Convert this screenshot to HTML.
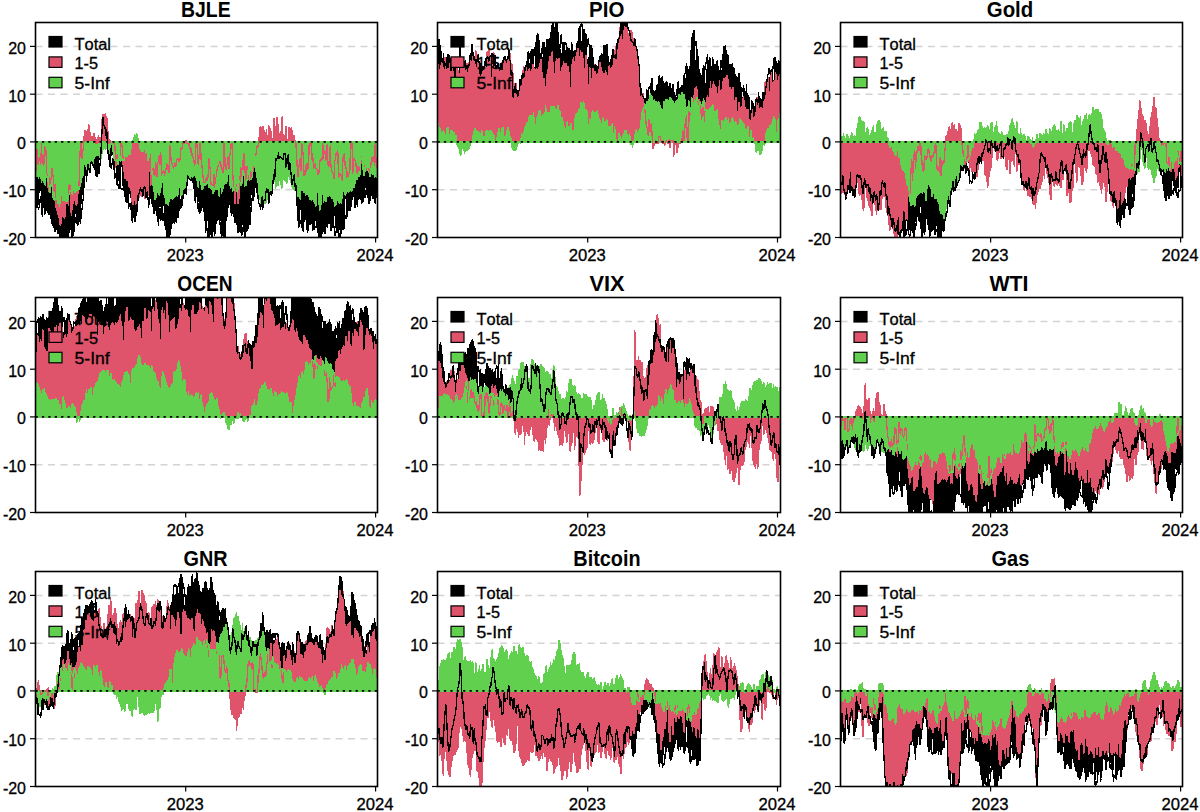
<!DOCTYPE html><html><head><meta charset="utf-8"><style>html,body{margin:0;padding:0;background:#fff;}svg{display:block}</style></head><body>
<svg width="1200" height="812" viewBox="0 0 1200 812" font-family='"Liberation Sans", sans-serif' style="font-kerning:none">
<rect width="1200" height="812" fill="#fff"/>
<clipPath id="c00"><rect x="35.5" y="22.5" width="342" height="215.0"/></clipPath>
<g stroke="#D3D3D3" stroke-width="1.5" stroke-dasharray="7 5.5"><line x1="35.5" x2="377.5" y1="46.4" y2="46.4"/><line x1="35.5" x2="377.5" y1="94.2" y2="94.2"/><line x1="35.5" x2="377.5" y1="189.7" y2="189.7"/></g>
<g clip-path="url(#c00)" shape-rendering="crispEdges">
<path d="M35.5 141.9L35.5 206.7L36.2 205.4L37 207.7L37.8 207L38.5 194.3L39.2 192.3L40 184.5L40.8 185.5L41.5 198.5L42.2 217L43 203.2L43.8 202.5L44.5 214L45.2 213.4L46 210.8L46.8 203L47.5 207.5L48.2 212.4L49 214.3L49.8 206.3L50.5 208L51.2 219.7L52 224.1L52.8 225L53.5 223.2L54.2 205.2L55 231.4L55.8 229.4L56.5 227.8L57.2 226.4L58 233.6L58.8 228.6L59.5 232.8L60.2 240L61 237L61.8 250.8L62.5 253.5L63.2 256.6L64 251L64.8 242.5L65.5 224.5L66.2 216.2L67 243.6L67.8 239.7L68.5 245.1L69.2 224.9L70 223.2L70.8 219.4L71.5 242L72.2 236.4L73 235.6L73.8 232.9L74.5 227.8L75.2 203.5L76 202.4L76.8 222.7L77.5 214.6L78.2 224.7L79 219.4L79.8 220L80.5 208.9L81.2 200.1L82 194.5L82.8 185.9L83.5 196.9L84.2 179.9L85 170.3L85.8 170.9L86.5 181.5L87.2 171.3L88 163.2L88.8 167.1L89.5 172.2L90.2 172.5L91 161.4L91.8 161L92.5 164.9L93.2 163.6L94 167.1L94.8 163.1L95.5 175L96.2 175.6L97 177L97.8 170.3L98.5 168.7L99.2 153.9L100 143.5L100.8 143.4L101.5 138.5L102.2 127.5L103 134.7L103.8 124.2L104.5 128L105.2 126.9L106 135.6L106.8 129.5L107.5 148.1L108.2 154.3L109 159.2L109.8 166.7L110.5 165.3L111.2 149.3L112 144.8L112.8 143.4L113.5 168.6L114.2 169.1L115 163.2L115.8 157.8L116.5 161.8L117.2 185.4L118 171.9L118.8 175.9L119.5 188.1L120.2 183.4L121 165.1L121.8 165.3L122.5 164.6L123.2 188.7L124 189.9L124.8 192.3L125.5 200.3L126.2 202.3L127 203.1L127.8 198.5L128.5 208.3L129.2 184.2L130 181.4L130.8 187.6L131.5 210.4L132.2 222.4L133 217.8L133.8 213.4L134.5 218.2L135.2 221.7L136 214.1L136.8 212.1L137.5 207.6L138.2 193.5L139 193L139.8 189.8L140.5 187.6L141.2 179.9L142 177.9L142.8 185.9L143.5 191.9L144.2 172.4L145 186.8L145.8 198L146.5 197L147.2 191.4L148 185.8L148.8 195.7L149.5 188.6L150.2 194.3L151 197L151.8 181L152.5 204.3L153.2 207.4L154 195.9L154.8 211.5L155.5 206.7L156.2 207.5L157 215.1L157.8 220.1L158.5 214.9L159.2 201.4L160 207L160.8 201.1L161.5 195.9L162.2 219.5L163 204.5L163.8 197.2L164.5 210.4L165.2 221.9L166 227.5L166.8 238.9L167.5 239.4L168.2 218.9L169 240.7L169.8 234.2L170.5 234.7L171.2 224.4L172 223.9L172.8 216.8L173.5 216.4L174.2 223.1L175 221.9L175.8 215.7L176.5 222.3L177.2 214.2L178 217.3L178.8 211L179.5 196.9L180.2 195.4L181 185.6L181.8 207.1L182.5 197.9L183.2 198.4L184 193.8L184.8 190.6L185.5 188.7L186.2 194.8L187 184L187.8 154.9L188.5 176.7L189.2 178.7L190 179.6L190.8 180.6L191.5 180L192.2 178.9L193 180.9L193.8 171.8L194.5 171.3L195.2 202.7L196 195.1L196.8 196L197.5 195.9L198.2 198.7L199 199.9L199.8 213.8L200.5 207.1L201.2 210.7L202 207.1L202.8 199.7L203.5 203L204.2 211.5L205 218.1L205.8 232.5L206.5 226.1L207.2 209.9L208 218.3L208.8 235.1L209.5 221.2L210.2 230.7L211 234.9L211.8 238.2L212.5 229.9L213.2 231.4L214 228.5L214.8 235.5L215.5 228.6L216.2 219.4L217 218.4L217.8 218.9L218.5 218.3L219.2 219L220 199.4L220.8 207.4L221.5 237.3L222.2 234.3L223 233.4L223.8 243.6L224.5 245.3L225.2 234L226 217.3L226.8 217.4L227.5 208.3L228.2 206.4L229 204.7L229.8 194.8L230.5 191.8L231.2 215.5L232 205.9L232.8 212.9L233.5 209.7L234.2 215.7L235 221.2L235.8 220.2L236.5 223.8L237.2 222.8L238 232.5L238.8 231.8L239.5 226.2L240.2 232.4L241 229.5L241.8 214.1L242.5 210.5L243.2 226.4L244 231L244.8 239.4L245.5 233.7L246.2 231.3L247 231.1L247.8 229.6L248.5 226.4L249.2 217.3L250 204.9L250.8 192.5L251.5 181.4L252.2 196.7L253 200.9L253.8 197.7L254.5 167.5L255.2 186L256 182.7L256.8 192.2L257.5 189.8L258.2 199.6L259 186.5L259.8 186.8L260.5 209.9L261.2 203.6L262 196.8L262.8 209.1L263.5 203L264.2 200.2L265 201.9L265.8 192.8L266.5 188.3L267.2 192L268 188.9L268.8 203.2L269.5 198.6L270.2 192.1L271 193.9L271.8 195.2L272.5 189.3L273.2 179.3L274 174.7L274.8 179.8L275.5 157.9L276.2 159.3L277 157.3L277.8 157.2L278.5 151.5L279.2 158.7L280 156.4L280.8 156.7L281.5 158.4L282.2 158.3L283 160.3L283.8 153.7L284.5 154L285.2 153.8L286 168.1L286.8 158.6L287.5 163L288.2 153L289 170.2L289.8 161.5L290.5 166.9L291.2 175.9L292 185.8L292.8 167.2L293.5 161.4L294.2 158.7L295 186.6L295.8 162.8L296.5 196.5L297.2 205.7L298 218.8L298.8 227.9L299.5 206.9L300.2 209.9L301 205.9L301.8 227.4L302.5 225.4L303.2 231.4L304 220.9L304.8 220.5L305.5 219.2L306.2 213.8L307 229.6L307.8 232.1L308.5 226.1L309.2 220.5L310 225.1L310.8 222.9L311.5 219.9L312.2 224.1L313 230.2L313.8 228L314.5 229.6L315.2 214.3L316 215.8L316.8 222.4L317.5 227.5L318.2 233.2L319 239L319.8 245.5L320.5 232.4L321.2 228L322 233.7L322.8 232.4L323.5 225.6L324.2 232.4L325 233.8L325.8 218.5L326.5 224.9L327.2 227.1L328 222L328.8 223.7L329.5 222.9L330.2 221.4L331 230.6L331.8 228.9L332.5 225.4L333.2 226.4L334 205L334.8 215L335.5 215.4L336.2 230.2L337 229.7L337.8 231.9L338.5 227.3L339.2 220.6L340 229.5L340.8 233.6L341.5 232.2L342.2 226.8L343 219L343.8 229.7L344.5 197L345.2 191.1L346 195.5L346.8 217.6L347.5 209.9L348.2 208.2L349 210.7L349.8 207.6L350.5 199.4L351.2 192.7L352 198.2L352.8 195.1L353.5 195.1L354.2 196.4L355 207.6L355.8 202.4L356.5 190.8L357.2 207L358 187.7L358.8 199.2L359.5 193.1L360.2 196.6L361 198.6L361.8 203.9L362.5 201.1L363.2 201.5L364 197.1L364.8 185.4L365.5 187.1L366.2 188.5L367 194.6L367.8 193.2L368.5 202.8L369.2 203.9L370 200.7L370.8 194.1L371.5 195.7L372.2 190.4L373 198.2L373.8 196.4L374.5 202.4L375.2 203.2L376 195.5L376.8 197.2L377.5 195.2L377.5 141.9Z" fill="#000" stroke="#000" stroke-width="1.2" stroke-linejoin="round"/>
<path d="M35.5 141.9L35.5 164L36.2 170.3L37 149.6L37.8 163.8L38.5 164.3L39.2 157.4L40 159.5L40.8 164.1L41.5 143.4L42.2 163.8L43 161.3L43.8 165.2L44.5 146.7L45.2 147.6L46 151L46.8 173.8L47.5 178.4L48.2 188.4L49 191.4L49.8 177.3L50.5 183.6L51.2 185.9L52 168.3L52.8 174.4L53.5 179.7L54.2 191.2L55 184.6L55.8 204.6L56.5 210.8L57.2 206.8L58 214.6L58.8 217.9L59.5 212.7L60.2 225.7L61 223L61.8 213.4L62.5 207.7L63.2 217.1L64 214.2L64.8 218.2L65.5 204.5L66.2 203.1L67 204L67.8 202.9L68.5 204.9L69.2 184.2L70 185.4L70.8 211.4L71.5 215.2L72.2 205.2L73 203.1L73.8 201L74.5 196.3L75.2 198.4L76 204.6L76.8 205.3L77.5 196.2L78.2 192.8L79 186.3L79.8 158.7L80.5 143.4L81.2 143.4L82 158.5L82.8 149.6L83.5 150.1L84.2 134.9L85 130.7L85.8 130.2L86.5 140.5L87.2 140.5L88 130.6L88.8 124.6L89.5 126.1L90.2 137.5L91 136L91.8 136.4L92.5 138.4L93.2 140.5L94 133L94.8 136.8L95.5 143.4L96.2 139.3L97 143.6L97.8 138.6L98.5 135.5L99.2 142.9L100 137.5L100.8 140.5L101.5 133.2L102.2 118L103 114.6L103.8 124.4L104.5 121.8L105.2 113.8L106 121.2L106.8 117L107.5 127.8L108.2 133.1L109 143.4L109.8 139.7L110.5 142.1L111.2 143.6L112 143.4L112.8 143.4L113.5 143.4L114.2 143.4L115 147L115.8 167.1L116.5 160.5L117.2 154.6L118 158.4L118.8 157.2L119.5 160.8L120.2 157.3L121 143.4L121.8 146.1L122.5 145.3L123.2 166L124 170.8L124.8 178.5L125.5 178.4L126.2 173.3L127 180.8L127.8 162.8L128.5 170.5L129.2 187.4L130 183.6L130.8 178L131.5 201.7L132.2 196L133 204.3L133.8 193.5L134.5 199.9L135.2 199L136 204.1L136.8 194.6L137.5 202.2L138.2 178.9L139 197.6L139.8 177.6L140.5 182.6L141.2 196.4L142 195.3L142.8 196.3L143.5 179.8L144.2 190.8L145 198.7L145.8 194.5L146.5 171.7L147.2 169.7L148 196L148.8 170.3L149.5 170.9L150.2 170.7L151 185.1L151.8 171L152.5 171.4L153.2 168.3L154 174.9L154.8 175.9L155.5 162.5L156.2 165.3L157 176.2L157.8 162.6L158.5 161.6L159.2 155.7L160 164.9L160.8 152.1L161.5 175.8L162.2 172L163 171.6L163.8 170.4L164.5 175.8L165.2 172.9L166 168.8L166.8 163.6L167.5 169.2L168.2 165.3L169 172.9L169.8 145.9L170.5 152.1L171.2 161.1L172 163.5L172.8 166.7L173.5 167.9L174.2 165.7L175 162.9L175.8 166.3L176.5 160.1L177.2 159.2L178 158.5L178.8 161.8L179.5 158.8L180.2 159.2L181 148.6L181.8 148.9L182.5 145L183.2 143.4L184 143.4L184.8 143.4L185.5 140.5L186.2 140.5L187 143.4L187.8 143.4L188.5 144.9L189.2 143.4L190 147.9L190.8 152.5L191.5 149L192.2 156L193 157L193.8 159.8L194.5 165.3L195.2 162.4L196 143.4L196.8 143.4L197.5 152.9L198.2 164.2L199 157.6L199.8 143.4L200.5 143.4L201.2 161L202 165.7L202.8 175L203.5 180.6L204.2 183.3L205 185.4L205.8 179.2L206.5 177.6L207.2 181.2L208 177.6L208.8 158.9L209.5 165.6L210.2 169.3L211 184.8L211.8 184.6L212.5 185.3L213.2 185.9L214 174L214.8 187L215.5 178L216.2 176.6L217 170.2L217.8 167.1L218.5 165L219.2 163.6L220 161.5L220.8 163.5L221.5 169.5L222.2 170.3L223 173L223.8 144L224.5 143.4L225.2 168.9L226 169.9L226.8 165.3L227.5 162.8L228.2 156.6L229 168.9L229.8 153.1L230.5 154.7L231.2 143.4L232 143.4L232.8 173.6L233.5 185.7L234.2 186.7L235 203.3L235.8 191.3L236.5 184.9L237.2 192.3L238 204L238.8 199.1L239.5 196L240.2 174.8L241 167.9L241.8 169.6L242.5 183.2L243.2 158.6L244 153.9L244.8 164.3L245.5 180.2L246.2 177.7L247 166L247.8 168.6L248.5 176.1L249.2 180.1L250 178.9L250.8 171.4L251.5 178L252.2 175.6L253 171.1L253.8 168.4L254.5 166.3L255.2 159.4L256 154.1L256.8 147.9L257.5 145.3L258.2 146.1L259 139.2L259.8 128.6L260.5 126.6L261.2 127.6L262 130.2L262.8 126.3L263.5 128.9L264.2 130.9L265 133.7L265.8 134L266.5 130L267.2 140.5L268 140.5L268.8 125.9L269.5 126.8L270.2 128.7L271 132.1L271.8 140.5L272.5 138.3L273.2 137.9L274 118.4L274.8 125.9L275.5 132.2L276.2 126.3L277 117.6L277.8 124.5L278.5 125L279.2 140.5L280 140.5L280.8 140.5L281.5 122.9L282.2 116.3L283 137.9L283.8 140.5L284.5 135.4L285.2 135.6L286 126.1L286.8 140.5L287.5 140L288.2 140.5L289 127.9L289.8 128.3L290.5 134.8L291.2 127.6L292 130.8L292.8 141.2L293.5 137.6L294.2 135.1L295 141L295.8 141.9L296.5 153.8L297.2 166.5L298 177L298.8 165.1L299.5 166.2L300.2 158.3L301 170.2L301.8 143.4L302.5 147.3L303.2 155.8L304 175.6L304.8 175.6L305.5 165.8L306.2 171.9L307 163.3L307.8 169L308.5 168.1L309.2 143.4L310 143.4L310.8 145.2L311.5 144L312.2 161.1L313 158L313.8 168.2L314.5 165.8L315.2 163.8L316 168.5L316.8 168.5L317.5 170.9L318.2 174.7L319 172.3L319.8 161.9L320.5 159.2L321.2 159.9L322 160L322.8 143.4L323.5 157.9L324.2 150.9L325 151.2L325.8 160.2L326.5 155.9L327.2 144.4L328 164L328.8 166.4L329.5 160.1L330.2 145.9L331 167.3L331.8 170.5L332.5 173L333.2 173.3L334 178.4L334.8 161L335.5 160.4L336.2 152.6L337 154.1L337.8 150.3L338.5 177.1L339.2 176.9L340 173.8L340.8 175L341.5 175.3L342.2 180.2L343 157.7L343.8 154.7L344.5 153.3L345.2 167.1L346 166.9L346.8 177.6L347.5 171.7L348.2 176L349 173.9L349.8 172.5L350.5 144.5L351.2 143.4L352 143.4L352.8 173L353.5 165L354.2 158.1L355 160.3L355.8 162.7L356.5 171.5L357.2 173.2L358 166.3L358.8 170.1L359.5 170.7L360.2 166.9L361 163.8L361.8 156.9L362.5 164.5L363.2 166.8L364 165L364.8 169.6L365.5 170.4L366.2 163.6L367 170.4L367.8 167.4L368.5 172L369.2 172.8L370 170.4L370.8 165.6L371.5 158.3L372.2 157.6L373 162L373.8 156.4L374.5 165.2L375.2 143.9L376 161.1L376.8 167.5L377.5 161.9L377.5 141.9Z" fill="#DF536B" stroke="#DF536B" stroke-width="1.2" stroke-linejoin="round"/>
<path d="M35.5 141.9L35.5 178L36.2 175L37 173.6L37.8 176.1L38.5 177.9L39.2 176L40 175.3L40.8 174.7L41.5 182L42.2 180.2L43 179.9L43.8 181.9L44.5 182.9L45.2 185.5L46 174.2L46.8 175.1L47.5 181.5L48.2 179.6L49 185.7L49.8 192.8L50.5 191.4L51.2 183.5L52 180.7L52.8 196.7L53.5 198.1L54.2 200L55 200L55.8 199.2L56.5 196.3L57.2 200.2L58 203.6L58.8 200.7L59.5 206L60.2 202.7L61 189.5L61.8 190.1L62.5 200.6L63.2 200.8L64 200.4L64.8 194.6L65.5 198.3L66.2 201.7L67 202L67.8 200.9L68.5 195.2L69.2 193.9L70 190L70.8 191.2L71.5 192.2L72.2 194.5L73 190.4L73.8 185.3L74.5 187.6L75.2 192.9L76 183.6L76.8 191L77.5 190.6L78.2 186.4L79 189.2L79.8 186.2L80.5 185.9L81.2 180.8L82 177.8L82.8 175.6L83.5 174.1L84.2 157L85 153.9L85.8 164.8L86.5 168.6L87.2 169.6L88 168.6L88.8 170.6L89.5 166.5L90.2 163.9L91 159.3L91.8 163.9L92.5 163.7L93.2 163.3L94 158L94.8 157.1L95.5 154.4L96.2 154.1L97 155.6L97.8 147L98.5 149.9L99.2 156.3L100 157.3L100.8 159L101.5 156.3L102.2 152L103 148.9L103.8 149.5L104.5 146.3L105.2 147L106 149.1L106.8 141.5L107.5 151.5L108.2 149.9L109 153.9L109.8 148.7L110.5 143.4L111.2 143.4L112 143.4L112.8 148.6L113.5 154.6L114.2 160.5L115 160.9L115.8 160.2L116.5 159.8L117.2 162.4L118 164.5L118.8 154.5L119.5 151.5L120.2 161.1L121 157L121.8 160.7L122.5 159L123.2 160.2L124 160.2L124.8 156.6L125.5 156.1L126.2 156.3L127 156.2L127.8 155L128.5 153L129.2 151.8L130 154.9L130.8 149.7L131.5 143.4L132.2 140.5L133 140.5L133.8 140.5L134.5 134.9L135.2 138.4L136 135L136.8 133.6L137.5 136.4L138.2 140.2L139 143.5L139.8 146.6L140.5 150.7L141.2 145.9L142 151.5L142.8 150L143.5 151.4L144.2 148.4L145 147.2L145.8 153.4L146.5 151.2L147.2 153.3L148 160.5L148.8 158L149.5 156.6L150.2 145.6L151 150.4L151.8 169.2L152.5 181.3L153.2 186.6L154 190L154.8 199.1L155.5 199.1L156.2 196.8L157 187.4L157.8 192.5L158.5 190.4L159.2 195.7L160 191.9L160.8 189.5L161.5 178.6L162.2 180.9L163 179.7L163.8 194.9L164.5 194.1L165.2 198.3L166 203.6L166.8 195.7L167.5 193.4L168.2 205.5L169 200.8L169.8 199L170.5 197.4L171.2 198.1L172 198.6L172.8 199L173.5 198.3L174.2 197.2L175 196L175.8 195.9L176.5 195.6L177.2 196L178 194.5L178.8 188.1L179.5 186.9L180.2 181.3L181 195.2L181.8 189.8L182.5 194L183.2 186.5L184 188.3L184.8 189.2L185.5 185.7L186.2 181.2L187 173.9L187.8 171.3L188.5 172.9L189.2 177.2L190 179.1L190.8 176.8L191.5 174.1L192.2 177.5L193 174L193.8 176.7L194.5 171.9L195.2 175.3L196 177.6L196.8 177.6L197.5 183.4L198.2 187.5L199 180.1L199.8 177L200.5 180.6L201.2 185.5L202 189.6L202.8 189.4L203.5 188L204.2 184.7L205 183.5L205.8 185.2L206.5 183.7L207.2 181.2L208 182.7L208.8 187.9L209.5 186L210.2 188.4L211 186.2L211.8 186.5L212.5 193.8L213.2 193.2L214 191.4L214.8 190.7L215.5 186.2L216.2 184.4L217 189.4L217.8 183.2L218.5 191.1L219.2 196L220 179.6L220.8 181.8L221.5 193.1L222.2 191.2L223 188.4L223.8 176.2L224.5 184.3L225.2 180.3L226 183.9L226.8 182.3L227.5 176.9L228.2 173.2L229 172L229.8 182L230.5 188.7L231.2 184.9L232 187.3L232.8 191.4L233.5 188.5L234.2 190.7L235 180.8L235.8 187.2L236.5 187.4L237.2 192.6L238 188.9L238.8 181.5L239.5 180.9L240.2 183.1L241 185.4L241.8 184.2L242.5 170.7L243.2 170.4L244 173.7L244.8 186.1L245.5 184.3L246.2 185L247 180.5L247.8 171.2L248.5 169.5L249.2 175.2L250 179.4L250.8 179.7L251.5 177.9L252.2 177L253 163.3L253.8 156.7L254.5 166.2L255.2 156.6L256 171.2L256.8 172.9L257.5 182.8L258.2 175.1L259 194.1L259.8 199.4L260.5 199.5L261.2 204L262 190.8L262.8 195.2L263.5 190.1L264.2 202.4L265 203.9L265.8 203.5L266.5 199.6L267.2 198L268 199.3L268.8 197.9L269.5 195.3L270.2 190.1L271 192.1L271.8 186.1L272.5 188.1L273.2 180L274 180.7L274.8 175.5L275.5 188.1L276.2 185.3L277 185.9L277.8 184.7L278.5 185L279.2 178.1L280 178.2L280.8 181L281.5 188.1L282.2 187L283 178.2L283.8 178.3L284.5 179.2L285.2 181L286 182L286.8 183.6L287.5 179.7L288.2 166L289 176.2L289.8 178.6L290.5 181.9L291.2 178.4L292 186.8L292.8 188.7L293.5 186.9L294.2 189.7L295 190.3L295.8 190.5L296.5 190.1L297.2 189.6L298 197L298.8 187.1L299.5 198L300.2 199.2L301 189.3L301.8 188.2L302.5 189.7L303.2 190.7L304 192.8L304.8 189.8L305.5 195.2L306.2 193.1L307 194.7L307.8 190.3L308.5 195.9L309.2 195.6L310 199.2L310.8 198.2L311.5 200L312.2 197.7L313 199.1L313.8 201.8L314.5 200.6L315.2 203.7L316 206.1L316.8 191.1L317.5 188L318.2 193.4L319 203.6L319.8 210.1L320.5 209.2L321.2 200.7L322 188.4L322.8 187.3L323.5 202L324.2 200L325 194.2L325.8 200.9L326.5 201.8L327.2 188.9L328 196.5L328.8 194.7L329.5 195.5L330.2 193.7L331 197L331.8 198.5L332.5 198.8L333.2 196.7L334 200.5L334.8 206.4L335.5 204.6L336.2 204.9L337 200.5L337.8 198.2L338.5 198.4L339.2 203L340 196.3L340.8 202.3L341.5 203.7L342.2 193.9L343 186.1L343.8 191.7L344.5 192.2L345.2 195L346 193.8L346.8 186.8L347.5 185.3L348.2 192.5L349 191.2L349.8 189.4L350.5 189.1L351.2 191.5L352 191L352.8 188.4L353.5 186.5L354.2 187.8L355 183.6L355.8 179.3L356.5 179L357.2 179.2L358 175.7L358.8 176.5L359.5 176L360.2 174.7L361 157.1L361.8 158.2L362.5 156.7L363.2 170.2L364 175.3L364.8 173.3L365.5 161.7L366.2 157.7L367 167.7L367.8 170.9L368.5 171L369.2 172.4L370 177L370.8 168.9L371.5 173.2L372.2 173.2L373 174.7L373.8 172.3L374.5 177.1L375.2 176.8L376 176.4L376.8 177.3L377.5 173.2L377.5 141.9Z" fill="#61D04F" stroke="#61D04F" stroke-width="1.2" stroke-linejoin="round"/>
<path d="M35.5 164L36.2 170.3L37 149.6L37.8 163.8L38.5 164.3L39.2 157.4L40 159.5L40.8 164.1L41.5 143.4L42.2 163.8L43 161.3L43.8 165.2L44.5 146.7L45.2 147.6L46 151L46.8 173.8L47.5 178.4L48.2 188.4L49 191.4L49.8 177.3L50.5 183.6L51.2 185.9L52 168.3L52.8 174.4L53.5 179.7L54.2 191.2L55 184.6L55.8 204.6L56.5 210.8L57.2 206.8L58 214.6L58.8 217.9L59.5 212.7L60.2 225.7L61 223L61.8 213.4L62.5 207.7L63.2 217.1L64 214.2L64.8 218.2L65.5 204.5L66.2 203.1L67 204L67.8 202.9L68.5 204.9L69.2 184.2L70 185.4L70.8 211.4L71.5 215.2L72.2 205.2L73 203.1L73.8 201L74.5 196.3L75.2 198.4L76 204.6L76.8 205.3L77.5 196.2L78.2 192.8L79 186.3L79.8 158.7L80.5 143.4L81.2 143.4L82 158.5L82.8 149.6L83.5 150.1L84.2 134.9L85 130.7L85.8 130.2L86.5 140.5L87.2 140.5L88 130.6L88.8 124.6L89.5 126.1L90.2 137.5L91 136L91.8 136.4L92.5 138.4L93.2 140.5L94 133L94.8 136.8L95.5 143.4L96.2 139.3L97 143.6L97.8 138.6L98.5 135.5L99.2 142.9L100 137.5L100.8 140.5L101.5 133.2L102.2 118L103 114.6L103.8 124.4L104.5 121.8L105.2 113.8L106 121.2L106.8 117L107.5 127.8L108.2 133.1L109 143.4L109.8 139.7L110.5 142.1L111.2 143.6L112 143.4L112.8 143.4L113.5 143.4L114.2 143.4L115 147L115.8 167.1L116.5 160.5L117.2 154.6L118 158.4L118.8 157.2L119.5 160.8L120.2 157.3L121 143.4L121.8 146.1L122.5 145.3L123.2 166L124 170.8L124.8 178.5L125.5 178.4L126.2 173.3L127 180.8L127.8 162.8L128.5 170.5L129.2 187.4L130 183.6L130.8 178L131.5 201.7L132.2 196L133 204.3L133.8 193.5L134.5 199.9L135.2 199L136 204.1L136.8 194.6L137.5 202.2L138.2 178.9L139 197.6L139.8 177.6L140.5 182.6L141.2 196.4L142 195.3L142.8 196.3L143.5 179.8L144.2 190.8L145 198.7L145.8 194.5L146.5 171.7L147.2 169.7L148 196L148.8 170.3L149.5 170.9L150.2 170.7L151 185.1L151.8 171L152.5 171.4L153.2 168.3L154 174.9L154.8 175.9L155.5 162.5L156.2 165.3L157 176.2L157.8 162.6L158.5 161.6L159.2 155.7L160 164.9L160.8 152.1L161.5 175.8L162.2 172L163 171.6L163.8 170.4L164.5 175.8L165.2 172.9L166 168.8L166.8 163.6L167.5 169.2L168.2 165.3L169 172.9L169.8 145.9L170.5 152.1L171.2 161.1L172 163.5L172.8 166.7L173.5 167.9L174.2 165.7L175 162.9L175.8 166.3L176.5 160.1L177.2 159.2L178 158.5L178.8 161.8L179.5 158.8L180.2 159.2L181 148.6L181.8 148.9L182.5 145L183.2 143.4L184 143.4L184.8 143.4L185.5 140.5L186.2 140.5L187 143.4L187.8 143.4L188.5 144.9L189.2 143.4L190 147.9L190.8 152.5L191.5 149L192.2 156L193 157L193.8 159.8L194.5 165.3L195.2 162.4L196 143.4L196.8 143.4L197.5 152.9L198.2 164.2L199 157.6L199.8 143.4L200.5 143.4L201.2 161L202 165.7L202.8 175L203.5 180.6L204.2 183.3L205 185.4L205.8 179.2L206.5 177.6L207.2 181.2L208 177.6L208.8 158.9L209.5 165.6L210.2 169.3L211 184.8L211.8 184.6L212.5 185.3L213.2 185.9L214 174L214.8 187L215.5 178L216.2 176.6L217 170.2L217.8 167.1L218.5 165L219.2 163.6L220 161.5L220.8 163.5L221.5 169.5L222.2 170.3L223 173L223.8 144L224.5 143.4L225.2 168.9L226 169.9L226.8 165.3L227.5 162.8L228.2 156.6L229 168.9L229.8 153.1L230.5 154.7L231.2 143.4L232 143.4L232.8 173.6L233.5 185.7L234.2 186.7L235 203.3L235.8 191.3L236.5 184.9L237.2 192.3L238 204L238.8 199.1L239.5 196L240.2 174.8L241 167.9L241.8 169.6L242.5 183.2L243.2 158.6L244 153.9L244.8 164.3L245.5 180.2L246.2 177.7L247 166L247.8 168.6L248.5 176.1L249.2 180.1L250 178.9L250.8 171.4L251.5 178L252.2 175.6L253 171.1L253.8 168.4L254.5 166.3L255.2 159.4L256 154.1L256.8 147.9L257.5 145.3L258.2 146.1L259 139.2L259.8 128.6L260.5 126.6L261.2 127.6L262 130.2L262.8 126.3L263.5 128.9L264.2 130.9L265 133.7L265.8 134L266.5 130L267.2 140.5L268 140.5L268.8 125.9L269.5 126.8L270.2 128.7L271 132.1L271.8 140.5L272.5 138.3L273.2 137.9L274 118.4L274.8 125.9L275.5 132.2L276.2 126.3L277 117.6L277.8 124.5L278.5 125L279.2 140.5L280 140.5L280.8 140.5L281.5 122.9L282.2 116.3L283 137.9L283.8 140.5L284.5 135.4L285.2 135.6L286 126.1L286.8 140.5L287.5 140L288.2 140.5L289 127.9L289.8 128.3L290.5 134.8L291.2 127.6L292 130.8L292.8 141.2L293.5 137.6L294.2 135.1L295 141L295.8 141.9L296.5 153.8L297.2 166.5L298 177L298.8 165.1L299.5 166.2L300.2 158.3L301 170.2L301.8 143.4L302.5 147.3L303.2 155.8L304 175.6L304.8 175.6L305.5 165.8L306.2 171.9L307 163.3L307.8 169L308.5 168.1L309.2 143.4L310 143.4L310.8 145.2L311.5 144L312.2 161.1L313 158L313.8 168.2L314.5 165.8L315.2 163.8L316 168.5L316.8 168.5L317.5 170.9L318.2 174.7L319 172.3L319.8 161.9L320.5 159.2L321.2 159.9L322 160L322.8 143.4L323.5 157.9L324.2 150.9L325 151.2L325.8 160.2L326.5 155.9L327.2 144.4L328 164L328.8 166.4L329.5 160.1L330.2 145.9L331 167.3L331.8 170.5L332.5 173L333.2 173.3L334 178.4L334.8 161L335.5 160.4L336.2 152.6L337 154.1L337.8 150.3L338.5 177.1L339.2 176.9L340 173.8L340.8 175L341.5 175.3L342.2 180.2L343 157.7L343.8 154.7L344.5 153.3L345.2 167.1L346 166.9L346.8 177.6L347.5 171.7L348.2 176L349 173.9L349.8 172.5L350.5 144.5L351.2 143.4L352 143.4L352.8 173L353.5 165L354.2 158.1L355 160.3L355.8 162.7L356.5 171.5L357.2 173.2L358 166.3L358.8 170.1L359.5 170.7L360.2 166.9L361 163.8L361.8 156.9L362.5 164.5L363.2 166.8L364 165L364.8 169.6L365.5 170.4L366.2 163.6L367 170.4L367.8 167.4L368.5 172L369.2 172.8L370 170.4L370.8 165.6L371.5 158.3L372.2 157.6L373 162L373.8 156.4L374.5 165.2L375.2 143.9L376 161.1L376.8 167.5L377.5 161.9" fill="none" stroke="#DF536B" stroke-width="1.3" stroke-linejoin="round"/>
<path d="M35.5 178L36.2 175L37 173.6L37.8 176.1L38.5 177.9L39.2 176L40 175.3L40.8 174.7L41.5 182L42.2 180.2L43 179.9L43.8 181.9L44.5 182.9L45.2 185.5L46 174.2L46.8 175.1L47.5 181.5L48.2 179.6L49 185.7L49.8 192.8L50.5 191.4L51.2 183.5L52 180.7L52.8 196.7L53.5 198.1L54.2 200L55 200L55.8 199.2L56.5 196.3L57.2 200.2L58 203.6L58.8 200.7L59.5 206L60.2 202.7L61 189.5L61.8 190.1L62.5 200.6L63.2 200.8L64 200.4L64.8 194.6L65.5 198.3L66.2 201.7L67 202L67.8 200.9L68.5 195.2L69.2 193.9L70 190L70.8 191.2L71.5 192.2L72.2 194.5L73 190.4L73.8 185.3L74.5 187.6L75.2 192.9L76 183.6L76.8 191L77.5 190.6L78.2 186.4L79 189.2L79.8 186.2L80.5 185.9L81.2 180.8L82 177.8L82.8 175.6L83.5 174.1L84.2 157L85 153.9L85.8 164.8L86.5 168.6L87.2 169.6L88 168.6L88.8 170.6L89.5 166.5L90.2 163.9L91 159.3L91.8 163.9L92.5 163.7L93.2 163.3L94 158L94.8 157.1L95.5 154.4L96.2 154.1L97 155.6L97.8 147L98.5 149.9L99.2 156.3L100 157.3L100.8 159L101.5 156.3L102.2 152L103 148.9L103.8 149.5L104.5 146.3L105.2 147L106 149.1L106.8 141.5L107.5 151.5L108.2 149.9L109 153.9L109.8 148.7L110.5 143.4L111.2 143.4L112 143.4L112.8 148.6L113.5 154.6L114.2 160.5L115 160.9L115.8 160.2L116.5 159.8L117.2 162.4L118 164.5L118.8 154.5L119.5 151.5L120.2 161.1L121 157L121.8 160.7L122.5 159L123.2 160.2L124 160.2L124.8 156.6L125.5 156.1L126.2 156.3L127 156.2L127.8 155L128.5 153L129.2 151.8L130 154.9L130.8 149.7L131.5 143.4L132.2 140.5L133 140.5L133.8 140.5L134.5 134.9L135.2 138.4L136 135L136.8 133.6L137.5 136.4L138.2 140.2L139 143.5L139.8 146.6L140.5 150.7L141.2 145.9L142 151.5L142.8 150L143.5 151.4L144.2 148.4L145 147.2L145.8 153.4L146.5 151.2L147.2 153.3L148 160.5L148.8 158L149.5 156.6L150.2 145.6L151 150.4L151.8 169.2L152.5 181.3L153.2 186.6L154 190L154.8 199.1L155.5 199.1L156.2 196.8L157 187.4L157.8 192.5L158.5 190.4L159.2 195.7L160 191.9L160.8 189.5L161.5 178.6L162.2 180.9L163 179.7L163.8 194.9L164.5 194.1L165.2 198.3L166 203.6L166.8 195.7L167.5 193.4L168.2 205.5L169 200.8L169.8 199L170.5 197.4L171.2 198.1L172 198.6L172.8 199L173.5 198.3L174.2 197.2L175 196L175.8 195.9L176.5 195.6L177.2 196L178 194.5L178.8 188.1L179.5 186.9L180.2 181.3L181 195.2L181.8 189.8L182.5 194L183.2 186.5L184 188.3L184.8 189.2L185.5 185.7L186.2 181.2L187 173.9L187.8 171.3L188.5 172.9L189.2 177.2L190 179.1L190.8 176.8L191.5 174.1L192.2 177.5L193 174L193.8 176.7L194.5 171.9L195.2 175.3L196 177.6L196.8 177.6L197.5 183.4L198.2 187.5L199 180.1L199.8 177L200.5 180.6L201.2 185.5L202 189.6L202.8 189.4L203.5 188L204.2 184.7L205 183.5L205.8 185.2L206.5 183.7L207.2 181.2L208 182.7L208.8 187.9L209.5 186L210.2 188.4L211 186.2L211.8 186.5L212.5 193.8L213.2 193.2L214 191.4L214.8 190.7L215.5 186.2L216.2 184.4L217 189.4L217.8 183.2L218.5 191.1L219.2 196L220 179.6L220.8 181.8L221.5 193.1L222.2 191.2L223 188.4L223.8 176.2L224.5 184.3L225.2 180.3L226 183.9L226.8 182.3L227.5 176.9L228.2 173.2L229 172L229.8 182L230.5 188.7L231.2 184.9L232 187.3L232.8 191.4L233.5 188.5L234.2 190.7L235 180.8L235.8 187.2L236.5 187.4L237.2 192.6L238 188.9L238.8 181.5L239.5 180.9L240.2 183.1L241 185.4L241.8 184.2L242.5 170.7L243.2 170.4L244 173.7L244.8 186.1L245.5 184.3L246.2 185L247 180.5L247.8 171.2L248.5 169.5L249.2 175.2L250 179.4L250.8 179.7L251.5 177.9L252.2 177L253 163.3L253.8 156.7L254.5 166.2L255.2 156.6L256 171.2L256.8 172.9L257.5 182.8L258.2 175.1L259 194.1L259.8 199.4L260.5 199.5L261.2 204L262 190.8L262.8 195.2L263.5 190.1L264.2 202.4L265 203.9L265.8 203.5L266.5 199.6L267.2 198L268 199.3L268.8 197.9L269.5 195.3L270.2 190.1L271 192.1L271.8 186.1L272.5 188.1L273.2 180L274 180.7L274.8 175.5L275.5 188.1L276.2 185.3L277 185.9L277.8 184.7L278.5 185L279.2 178.1L280 178.2L280.8 181L281.5 188.1L282.2 187L283 178.2L283.8 178.3L284.5 179.2L285.2 181L286 182L286.8 183.6L287.5 179.7L288.2 166L289 176.2L289.8 178.6L290.5 181.9L291.2 178.4L292 186.8L292.8 188.7L293.5 186.9L294.2 189.7L295 190.3L295.8 190.5L296.5 190.1L297.2 189.6L298 197L298.8 187.1L299.5 198L300.2 199.2L301 189.3L301.8 188.2L302.5 189.7L303.2 190.7L304 192.8L304.8 189.8L305.5 195.2L306.2 193.1L307 194.7L307.8 190.3L308.5 195.9L309.2 195.6L310 199.2L310.8 198.2L311.5 200L312.2 197.7L313 199.1L313.8 201.8L314.5 200.6L315.2 203.7L316 206.1L316.8 191.1L317.5 188L318.2 193.4L319 203.6L319.8 210.1L320.5 209.2L321.2 200.7L322 188.4L322.8 187.3L323.5 202L324.2 200L325 194.2L325.8 200.9L326.5 201.8L327.2 188.9L328 196.5L328.8 194.7L329.5 195.5L330.2 193.7L331 197L331.8 198.5L332.5 198.8L333.2 196.7L334 200.5L334.8 206.4L335.5 204.6L336.2 204.9L337 200.5L337.8 198.2L338.5 198.4L339.2 203L340 196.3L340.8 202.3L341.5 203.7L342.2 193.9L343 186.1L343.8 191.7L344.5 192.2L345.2 195L346 193.8L346.8 186.8L347.5 185.3L348.2 192.5L349 191.2L349.8 189.4L350.5 189.1L351.2 191.5L352 191L352.8 188.4L353.5 186.5L354.2 187.8L355 183.6L355.8 179.3L356.5 179L357.2 179.2L358 175.7L358.8 176.5L359.5 176L360.2 174.7L361 157.1L361.8 158.2L362.5 156.7L363.2 170.2L364 175.3L364.8 173.3L365.5 161.7L366.2 157.7L367 167.7L367.8 170.9L368.5 171L369.2 172.4L370 177L370.8 168.9L371.5 173.2L372.2 173.2L373 174.7L373.8 172.3L374.5 177.1L375.2 176.8L376 176.4L376.8 177.3L377.5 173.2" fill="none" stroke="#61D04F" stroke-width="1.3" stroke-linejoin="round"/>
<path d="M35.5 206.6L36.2 205.4L37 207.5L37.8 206.7L38.5 209.2L39.2 207.3L40 200.2L40.8 196.3L41.5 208.1L42.2 215.8L43 203.5L43.8 203L44.5 213.4L45.2 213L46 210.8L46.8 203.9L47.5 208.1L48.2 212.7L49 214.5L49.8 207.5L50.5 209.1L51.2 219.9L52 224L52.8 225L53.5 223.5L54.2 227.6L55 231.2L55.8 229.7L56.5 228.4L57.2 227.3L58 234L58.8 229.7L59.5 233.6L60.2 240.3L61 237.7L61.8 250.1L62.5 252.6L63.2 255.5L64 250.5L64.8 242.9L65.5 246.7L66.2 239.3L67 244L67.8 240.4L68.5 245.3L69.2 246.1L70 244.6L70.8 240.7L71.5 241.7L72.2 236.3L73 235.2L73.8 232.3L74.5 227.4L75.2 218.9L76 217.9L76.8 222.6L77.5 225.2L78.2 224.5L79 219.8L79.8 220.3L80.5 223.1L81.2 214.6L82 209.5L82.8 201L83.5 196.3L84.2 180.1L85 170.6L85.8 171.1L86.5 180.6L87.2 171.3L88 164.1L88.8 167.5L89.5 172.1L90.2 172.3L91 162.4L91.8 162L92.5 165.4L93.2 164.3L94 167.4L94.8 163.8L95.5 174.6L96.2 175.2L97 176.5L97.8 170.5L98.5 169.2L99.2 173.8L100 164.5L100.8 155.2L101.5 139.7L102.2 128.5L103 117.8L103.8 124.4L104.5 128L105.2 127.1L106 135.1L106.8 129.8L107.5 146.9L108.2 153.1L109 158.2L109.8 165.6L110.5 164.7L111.2 168L112 164.3L112.8 158.1L113.5 168.8L114.2 169.5L115 178.1L115.8 173.5L116.5 177.3L117.2 185.1L118 184.6L118.8 188.5L119.5 188.1L120.2 184L121 188.9L121.8 189.3L122.5 188.8L123.2 189.3L124 190.6L124.8 192.8L125.5 200.2L126.2 202L127 202.8L127.8 198.7L128.5 207.6L129.2 206.4L130 203.9L130.8 209.8L131.5 210.2L132.2 221.4L133 217.5L133.8 214L134.5 218.6L135.2 221.7L136 214.5L136.8 212.1L137.5 207.6L138.2 194.4L139 193.4L139.8 190.1L140.5 187.9L141.2 191L142 189.2L142.8 196.5L143.5 191.9L144.2 186.6L145 187.4L145.8 197.5L146.5 196.7L147.2 191.8L148 198.3L148.8 207.3L149.5 189.6L150.2 194.8L151 197.3L151.8 203.5L152.5 204.2L153.2 207.1L154 213.9L154.8 211.2L155.5 207L156.2 207.9L157 214.8L157.8 219.5L158.5 225.1L159.2 213.1L160 208.1L160.8 220L161.5 215.4L162.2 219.7L163 220.2L163.8 213.7L164.5 225.7L165.2 222.3L166 227.4L166.8 237.8L167.5 238.3L168.2 238.9L169 239.5L169.8 233.8L170.5 234.1L171.2 224.6L172 224L172.8 217.5L173.5 217L174.2 222.8L175 221.5L175.8 215.8L176.5 221.5L177.2 214.1L178 216.7L178.8 210.9L179.5 209.7L180.2 208.1L181 199L181.8 206.4L182.5 197.9L183.2 198.1L184 193.6L184.8 190.5L185.5 188.5L186.2 193.9L187 183.9L187.8 177.4L188.5 177L189.2 178.6L190 179.2L190.8 180.3L191.5 180.1L192.2 179.4L193 181.5L193.8 188.5L194.5 188.3L195.2 201.9L196 195.2L196.8 196.1L197.5 196.1L198.2 210.2L199 211.4L199.8 212.6L200.5 206.9L201.2 210.3L202 207.2L202.8 200.9L203.5 204L204.2 212L205 218.1L205.8 231.3L206.5 225.8L207.2 229.5L208 237.3L208.8 234.7L209.5 239.5L210.2 231.1L211 234.8L211.8 237.7L212.5 230.1L213.2 231.5L214 228.8L214.8 235L215.5 228.7L216.2 220.5L217 219.5L217.8 220L218.5 219.4L219.2 220.1L220 223.1L220.8 230.4L221.5 236.7L222.2 234L223 233.3L223.8 242.5L224.5 244.1L225.2 233.8L226 218.2L226.8 217.7L227.5 208.9L228.2 206.6L229 204.5L229.8 194.9L230.5 192.5L231.2 214.4L232 206.3L232.8 213.2L233.5 210.8L234.2 216.8L235 222.3L235.8 221.3L236.5 224.5L237.2 223.4L238 232.1L238.8 231.4L239.5 226.2L240.2 231.8L241 229.3L241.8 235L242.5 231.8L243.2 226.6L244 230.8L244.8 238.4L245.5 233.2L246.2 230.9L247 230.7L247.8 229.2L248.5 226.2L249.2 217.9L250 224.2L250.8 212.6L251.5 202.2L252.2 197.7L253 201.1L253.8 197.8L254.5 189.1L255.2 186.5L256 183.8L256.8 192.6L257.5 190.8L258.2 199.9L259 204L259.8 204.6L260.5 209.6L261.2 203.7L262 197.5L262.8 208.3L263.5 202.6L264.2 199.9L265 201.1L265.8 192.9L266.5 188.8L267.2 192.1L268 189.3L268.8 202L269.5 197.9L270.2 191.9L271 193.2L271.8 194.1L272.5 188.4L273.2 179.1L274 174.7L274.8 179L275.5 159.1L276.2 160.2L277 158.2L277.8 157.9L278.5 152.6L279.2 158.9L280 156.7L280.8 156.9L281.5 158.4L282.2 158.2L283 159.9L283.8 153.9L284.5 154.2L285.2 154L286 167.1L286.8 158.8L287.5 162.9L288.2 154.1L289 169.8L289.8 162.2L290.5 167.2L291.2 175.6L292 184.6L292.8 181.8L293.5 176.8L294.2 174.6L295 186.2L295.8 183.8L296.5 196.9L297.2 206.1L298 218.8L298.8 227.3L299.5 220.9L300.2 223.8L301 220.1L301.8 227.1L302.5 225.1L303.2 230.4L304 220.8L304.8 220.3L305.5 219.1L306.2 214.4L307 228.6L307.8 230.9L308.5 225.6L309.2 220.6L310 224.8L310.8 223L311.5 220.4L312.2 224.2L313 229.9L313.8 228L314.5 229.5L315.2 226.6L316 228L316.8 223.3L317.5 227.9L318.2 233.2L319 238.5L319.8 244.3L320.5 243.4L321.2 239.2L322 233.2L322.8 231.9L323.5 225.6L324.2 231.5L325 232.6L325.8 218.8L326.5 224.6L327.2 226.6L328 222.1L328.8 223.5L329.5 222.9L330.2 221.5L331 230L331.8 228.6L332.5 225.6L333.2 226.7L334 226.1L334.8 235.2L335.5 235.7L336.2 230.6L337 230.3L337.8 232.4L338.5 228.3L339.2 237.6L340 245.7L340.8 233.9L341.5 232.5L342.2 227.3L343 220L343.8 229.4L344.5 220.7L345.2 215.1L346 218.8L346.8 217.6L347.5 210.5L348.2 208.7L349 210.8L349.8 207.8L350.5 210.4L351.2 204.2L352 198.9L352.8 196.1L353.5 195.9L354.2 197L355 206.9L355.8 202.2L356.5 191.7L357.2 206.2L358 188.9L358.8 199.2L359.5 193.6L360.2 196.7L361 198.5L361.8 203.3L362.5 200.7L363.2 201L364 197.1L364.8 196.1L365.5 197.6L366.2 189.3L367 194.9L367.8 193.6L368.5 202.3L369.2 203.3L370 200.4L370.8 194.4L371.5 195.8L372.2 190.9L373 197.9L373.8 196.2L374.5 201.5L375.2 202.2L376 195.2L376.8 196.7L377.5 194.9" fill="none" stroke="#000" stroke-width="1.3" stroke-linejoin="round"/>
</g>
<line x1="35.5" x2="377.5" y1="141.9" y2="141.9" stroke="#000" stroke-width="1.8" stroke-dasharray="2.3 4.1"/>
<rect x="49.0" y="36.5" width="13" height="10.5" fill="#000" stroke="#000" stroke-width="1.2"/>
<text x="74.5" y="49.6" font-size="16" fill="#000" stroke="#000" stroke-width="0.3" textLength="36.5" lengthAdjust="spacingAndGlyphs">Total</text>
<rect x="49.0" y="56.9" width="13" height="10.5" fill="#DF536B" stroke="#000" stroke-width="1.2"/>
<text x="74.5" y="69.4" font-size="16" fill="#000" stroke="#000" stroke-width="0.3" textLength="23.5" lengthAdjust="spacingAndGlyphs">1-5</text>
<rect x="49.0" y="77.3" width="13" height="10.5" fill="#61D04F" stroke="#000" stroke-width="1.2"/>
<text x="74.5" y="89.2" font-size="16" fill="#000" stroke="#000" stroke-width="0.3" textLength="35.2" lengthAdjust="spacingAndGlyphs">5-Inf</text>
<rect x="35.5" y="22.5" width="342" height="215.0" fill="none" stroke="#000" stroke-width="1.6"/>
<line x1="30" x2="35.5" y1="46.4" y2="46.4" stroke="#000" stroke-width="1.2"/>
<text x="26" y="53.7" font-size="16" text-anchor="end" fill="#000" stroke="#000" stroke-width="0.3">20</text>
<line x1="30" x2="35.5" y1="94.2" y2="94.2" stroke="#000" stroke-width="1.2"/>
<text x="26" y="101.5" font-size="16" text-anchor="end" fill="#000" stroke="#000" stroke-width="0.3">10</text>
<line x1="30" x2="35.5" y1="141.9" y2="141.9" stroke="#000" stroke-width="1.2"/>
<text x="26" y="149.2" font-size="16" text-anchor="end" fill="#000" stroke="#000" stroke-width="0.3">0</text>
<line x1="30" x2="35.5" y1="189.7" y2="189.7" stroke="#000" stroke-width="1.2"/>
<text x="26" y="197" font-size="16" text-anchor="end" fill="#000" stroke="#000" stroke-width="0.3">-10</text>
<line x1="30" x2="35.5" y1="237.5" y2="237.5" stroke="#000" stroke-width="1.2"/>
<text x="26" y="244.8" font-size="16" text-anchor="end" fill="#000" stroke="#000" stroke-width="0.3">-20</text>
<line x1="185.7" x2="185.7" y1="237.5" y2="242.5" stroke="#000" stroke-width="1.2"/>
<text x="185.2" y="261" font-size="16" text-anchor="middle" fill="#000" stroke="#000" stroke-width="0.3" textLength="37" lengthAdjust="spacingAndGlyphs">2023</text>
<line x1="375.6" x2="375.6" y1="237.5" y2="242.5" stroke="#000" stroke-width="1.2"/>
<text x="375.1" y="261" font-size="16" text-anchor="middle" fill="#000" stroke="#000" stroke-width="0.3" textLength="37" lengthAdjust="spacingAndGlyphs">2024</text>
<text transform="translate(205.8 16.6) scale(1 1.18)" x="0" y="0" font-size="19.2" font-weight="bold" text-anchor="middle" fill="#000" textLength="49.5" lengthAdjust="spacingAndGlyphs">BJLE</text>
<clipPath id="c01"><rect x="437.5" y="22.5" width="343" height="215.0"/></clipPath>
<g stroke="#D3D3D3" stroke-width="1.5" stroke-dasharray="7 5.5"><line x1="437.5" x2="780.5" y1="46.4" y2="46.4"/><line x1="437.5" x2="780.5" y1="94.2" y2="94.2"/><line x1="437.5" x2="780.5" y1="189.7" y2="189.7"/></g>
<g clip-path="url(#c01)" shape-rendering="crispEdges">
<path d="M437.5 141.9L437.5 72.2L438.2 41.5L439 39L439.8 44.1L440.5 48.9L441.2 54.3L442 79.1L442.8 81.2L443.5 53.9L444.2 92.4L445 75.9L445.8 76.4L446.5 61L447.2 56.4L448 54.6L448.8 60.5L449.5 55.4L450.2 60.5L451 71.2L451.8 66.6L452.5 67.6L453.2 63.4L454 69.3L454.8 80.6L455.5 68.4L456.2 59.6L457 58.7L457.8 79.7L458.5 79.3L459.2 73.6L460 46.8L460.8 61.3L461.5 65.2L462.2 74.1L463 72.1L463.8 78.3L464.5 66L465.2 60.5L466 68.2L466.8 66L467.5 89.2L468.2 64.9L469 66.5L469.8 70.4L470.5 53.9L471.2 61.5L472 44.1L472.8 55.4L473.5 52.8L474.2 61.2L475 60.3L475.8 63.5L476.5 67.2L477.2 58.5L478 54.4L478.8 60.1L479.5 63.8L480.2 71.1L481 63L481.8 72.2L482.5 66.4L483.2 70.3L484 67.6L484.8 63.1L485.5 58.4L486.2 67.2L487 56.9L487.8 56.6L488.5 62.4L489.2 60.2L490 56.8L490.8 56.3L491.5 54.6L492.2 53.2L493 53.8L493.8 78.1L494.5 71.6L495.2 65.2L496 68.2L496.8 67L497.5 63.4L498.2 79.1L499 68.3L499.8 94.3L500.5 89.9L501.2 86.6L502 70.2L502.8 63.4L503.5 57.6L504.2 59L505 56.6L505.8 74.1L506.5 77.8L507.2 58.6L508 58.1L508.8 48.6L509.5 59.3L510.2 60.8L511 75.3L511.8 70.4L512.5 79.6L513.2 98.8L514 92.3L514.8 87.8L515.5 83.5L516.2 93.7L517 103.7L517.8 96.8L518.5 92.4L519.2 103.9L520 79.4L520.8 84.4L521.5 82.7L522.2 74.1L523 73.5L523.8 77.6L524.5 74.9L525.2 81.4L526 79.7L526.8 65.1L527.5 57.9L528.2 51.3L529 72.4L529.8 66.4L530.5 57.8L531.2 50.6L532 49.5L532.8 50L533.5 50.8L534.2 79.7L535 71.3L535.8 42.8L536.5 43.2L537.2 34L538 34.3L538.8 38.1L539.5 50.1L540.2 58.2L541 58.5L541.8 72L542.5 57.2L543.2 58L544 42.7L544.8 48L545.5 51.7L546.2 47.8L547 39.7L547.8 45.1L548.5 44.1L549.2 38.3L550 40.1L550.8 37.6L551.5 25.8L552.2 30.7L553 23.6L553.8 28.2L554.5 27.2L555.2 31L556 19.2L556.8 22L557.5 28.3L558.2 36.3L559 47.9L559.8 45L560.5 68.6L561.2 53.6L562 63.3L562.8 45L563.5 42.4L564.2 65L565 53L565.8 52.7L566.5 45.8L567.2 48.7L568 53.3L568.8 48.1L569.5 50.8L570.2 50.4L571 52.3L571.8 51.6L572.5 69.4L573.2 64.2L574 51.5L574.8 50.7L575.5 56L576.2 50.7L577 58.9L577.8 64L578.5 50.1L579.2 26.6L580 29.8L580.8 50.7L581.5 42L582.2 50.6L583 30.1L583.8 32.8L584.5 30L585.2 34.9L586 33.9L586.8 69.2L587.5 62.3L588.2 59.1L589 59.3L589.8 45.3L590.5 47.5L591.2 45.2L592 59.3L592.8 67.3L593.5 61.5L594.2 69.5L595 72.1L595.8 64.9L596.5 74.8L597.2 72.2L598 68.5L598.8 60.7L599.5 60.8L600.2 55.9L601 56.8L601.8 54.3L602.5 62.6L603.2 54L604 45.4L604.8 49.2L605.5 49.3L606.2 45L607 44.6L607.8 55.7L608.5 60.2L609.2 64L610 63.6L610.8 61.1L611.5 55.9L612.2 65.5L613 49.5L613.8 58.7L614.5 57.6L615.2 55.6L616 59.3L616.8 43.8L617.5 48.3L618.2 38L619 38.7L619.8 37.8L620.5 23.4L621.2 51L622 16.8L622.8 31.9L623.5 20.8L624.2 21.5L625 25.3L625.8 21.1L626.5 21L627.2 36.2L628 43.5L628.8 45.3L629.5 32L630.2 35L631 40.6L631.8 41.2L632.5 43.3L633.2 43.3L634 45.9L634.8 38.5L635.5 47L636.2 47.5L637 48.9L637.8 54.6L638.5 62.7L639.2 65.7L640 87.3L640.8 87.3L641.5 95.5L642.2 95L643 97L643.8 97.8L644.5 101.7L645.2 103.6L646 122.5L646.8 111.2L647.5 101.4L648.2 98.7L649 107.5L649.8 107.8L650.5 104.7L651.2 82.6L652 78.6L652.8 93.5L653.5 90.8L654.2 92.3L655 100L655.8 90.9L656.5 93.3L657.2 84.1L658 87.8L658.8 89.3L659.5 75.3L660.2 80.4L661 90L661.8 77.5L662.5 76.2L663.2 84.2L664 83L664.8 91.4L665.5 87.1L666.2 81.5L667 82.8L667.8 88.2L668.5 91.1L669.2 85L670 82.9L670.8 90L671.5 92.8L672.2 87.3L673 84.6L673.8 91L674.5 98.4L675.2 96.5L676 110.7L676.8 105.7L677.5 87L678.2 81.4L679 89.5L679.8 113.3L680.5 95.5L681.2 86.9L682 85.3L682.8 90.7L683.5 81.9L684.2 73.7L685 95.6L685.8 89.1L686.5 64L687.2 67.8L688 71.1L688.8 71.4L689.5 67.9L690.2 66.8L691 51.7L691.8 39.9L692.5 33.9L693.2 37L694 30.7L694.8 62.4L695.5 65.1L696.2 59.5L697 50.8L697.8 55.8L698.5 62.7L699.2 75.6L700 72.9L700.8 83.9L701.5 75.8L702.2 81.8L703 68.6L703.8 65.5L704.5 73.2L705.2 89.2L706 84.5L706.8 80.3L707.5 54.7L708.2 64.1L709 60.7L709.8 77.4L710.5 64.9L711.2 68.7L712 68.9L712.8 57.2L713.5 71.9L714.2 65.5L715 65.4L715.8 65.8L716.5 68.5L717.2 61L718 67.7L718.8 71L719.5 76.5L720.2 82.2L721 72.2L721.8 79.6L722.5 57.7L723.2 53.6L724 46.6L724.8 53L725.5 45.6L726.2 52.9L727 74.7L727.8 54.6L728.5 55.8L729.2 73.8L730 64.6L730.8 68.5L731.5 72.6L732.2 75.3L733 69.7L733.8 67.2L734.5 77.3L735.2 75.1L736 77.2L736.8 76.7L737.5 92.2L738.2 77.1L739 73.5L739.8 83.9L740.5 82.7L741.2 90.1L742 104.2L742.8 107.1L743.5 85.3L744.2 90.8L745 94.1L745.8 98.8L746.5 84.9L747.2 99.9L748 98.7L748.8 106.6L749.5 122.3L750.2 132.7L751 112.2L751.8 100.6L752.5 102.1L753.2 103.3L754 106.3L754.8 113.8L755.5 105.5L756.2 97.7L757 98.4L757.8 114.5L758.5 92.3L759.2 98.2L760 107.5L760.8 98.9L761.5 107.2L762.2 98.8L763 92.6L763.8 97.1L764.5 98.6L765.2 90.8L766 86.7L766.8 82.2L767.5 75.1L768.2 83.2L769 77.6L769.8 84L770.5 74.4L771.2 69.7L772 71L772.8 91.3L773.5 84.3L774.2 79.1L775 58.2L775.8 68.1L776.5 62L777.2 65.9L778 69.9L778.8 60.6L779.5 67.8L780.2 67.7L780.2 141.9Z" fill="#000" stroke="#000" stroke-width="1.2" stroke-linejoin="round"/>
<path d="M437.5 141.9L437.5 67.9L438.2 64.1L439 70.6L439.8 84L440.5 85.2L441.2 64.1L442 62.5L442.8 61.8L443.5 58.9L444.2 61.5L445 57.1L445.8 80.8L446.5 82.1L447.2 68.1L448 68.8L448.8 75.1L449.5 65.9L450.2 62.8L451 64.3L451.8 64.1L452.5 65.1L453.2 73.3L454 73.4L454.8 73.5L455.5 82.2L456.2 81.4L457 64.6L457.8 70.3L458.5 70.6L459.2 74.6L460 82.8L460.8 57.6L461.5 65.2L462.2 62.1L463 74.4L463.8 61.6L464.5 64.6L465.2 75.6L466 75.2L466.8 63.3L467.5 80.8L468.2 62.5L469 62.4L469.8 76.7L470.5 55.2L471.2 59.7L472 57.1L472.8 50.7L473.5 68L474.2 61.2L475 58.1L475.8 50.8L476.5 56.3L477.2 54.7L478 59.9L478.8 73.6L479.5 77.5L480.2 76.8L481 77.5L481.8 77.9L482.5 70.4L483.2 69.7L484 70.5L484.8 63.9L485.5 59.2L486.2 58.2L487 52.3L487.8 52.1L488.5 51.1L489.2 48.9L490 57.1L490.8 82.2L491.5 77.9L492.2 77.7L493 54.9L493.8 52.6L494.5 54L495.2 65L496 69.4L496.8 71.1L497.5 67.5L498.2 64.1L499 72.4L499.8 71.5L500.5 70.2L501.2 62.2L502 64.2L502.8 65.4L503.5 63.3L504.2 65.9L505 59.5L505.8 58.5L506.5 71.5L507.2 65.2L508 59.8L508.8 54.8L509.5 51.2L510.2 54.2L511 64.5L511.8 63.9L512.5 71.1L513.2 75.6L514 84.4L514.8 93.5L515.5 90.8L516.2 83.7L517 97.9L517.8 95.8L518.5 95.7L519.2 92.5L520 90.8L520.8 83.4L521.5 78.2L522.2 75.6L523 71.2L523.8 66.8L524.5 76.2L525.2 84.4L526 67.2L526.8 74.4L527.5 71.7L528.2 71.1L529 69.8L529.8 68.6L530.5 97.9L531.2 98.8L532 70.1L532.8 64.3L533.5 65.9L534.2 70.2L535 79.5L535.8 69.5L536.5 68.6L537.2 69.2L538 73.9L538.8 69.4L539.5 64L540.2 66.9L541 59.5L541.8 71.4L542.5 80.3L543.2 79.6L544 78.9L544.8 86.1L545.5 90.3L546.2 92.4L547 75.1L547.8 70L548.5 80.7L549.2 60.4L550 56.4L550.8 59.8L551.5 61.3L552.2 51.1L553 64.7L553.8 80.6L554.5 77.6L555.2 73.3L556 61.5L556.8 58.4L557.5 68.5L558.2 61.3L559 58.7L559.8 70.7L560.5 73.6L561.2 80.7L562 67.4L562.8 68.7L563.5 61.3L564.2 63.8L565 66.7L565.8 63.3L566.5 64.7L567.2 67.5L568 66.5L568.8 71.1L569.5 82.2L570.2 92.3L571 93.4L571.8 65.3L572.5 62.4L573.2 57.6L574 62.1L574.8 77.7L575.5 65.4L576.2 51.3L577 66.3L577.8 46.9L578.5 58.7L579.2 66.7L580 57.5L580.8 50.8L581.5 60.5L582.2 53L583 59L583.8 65.2L584.5 90.1L585.2 70.3L586 55.2L586.8 61.7L587.5 91.3L588.2 88.7L589 88.7L589.8 67.9L590.5 68.8L591.2 86.7L592 85.9L592.8 69.1L593.5 67.6L594.2 71L595 64.4L595.8 71.4L596.5 70L597.2 74.8L598 74.8L598.8 65.4L599.5 64.1L600.2 62.3L601 67.7L601.8 75.5L602.5 71.2L603.2 73.9L604 78.3L604.8 75L605.5 70.5L606.2 73.8L607 91.1L607.8 81.1L608.5 68.6L609.2 65.5L610 68.2L610.8 72.9L611.5 73.1L612.2 67.1L613 52.5L613.8 55.6L614.5 56.8L615.2 50L616 46L616.8 50.6L617.5 51.6L618.2 47.5L619 39L619.8 29.7L620.5 24.9L621.2 41.8L622 46.4L622.8 39.1L623.5 42.9L624.2 17.8L625 29.2L625.8 45.7L626.5 43.5L627.2 26.2L628 35L628.8 35.6L629.5 37.6L630.2 42.1L631 30L631.8 31.4L632.5 35.6L633.2 40.6L634 51.4L634.8 41.4L635.5 49.3L636.2 52.3L637 58.3L637.8 58L638.5 64.1L639.2 92.4L640 106.2L640.8 99L641.5 92.9L642.2 93.6L643 93L643.8 103L644.5 107.5L645.2 112.8L646 122.7L646.8 126.6L647.5 129L648.2 135.2L649 119.9L649.8 131L650.5 131.6L651.2 123.1L652 132.5L652.8 148.9L653.5 146.9L654.2 145.5L655 143.4L655.8 140.5L656.5 143.4L657.2 141.8L658 143.4L658.8 136.5L659.5 136.2L660.2 136.4L661 140.7L661.8 142.7L662.5 143.4L663.2 140.5L664 143.4L664.8 144.9L665.5 141.5L666.2 140.9L667 141.7L667.8 143.4L668.5 143.6L669.2 139.7L670 147.8L670.8 140.5L671.5 140.5L672.2 140.5L673 140L673.8 156.1L674.5 143.4L675.2 143.4L676 143.4L676.8 152.5L677.5 152.6L678.2 144L679 143.4L679.8 143.4L680.5 143.4L681.2 141.3L682 140.5L682.8 130.6L683.5 140.5L684.2 140.5L685 124.9L685.8 124.2L686.5 113L687.2 139.4L688 140.5L688.8 111.5L689.5 121.1L690.2 109.1L691 107.4L691.8 107.2L692.5 105.5L693.2 101.6L694 96L694.8 88.9L695.5 88.7L696.2 86.7L697 89.4L697.8 100.4L698.5 104.7L699.2 99.1L700 101.4L700.8 107.8L701.5 119.1L702.2 115.9L703 107.2L703.8 109.9L704.5 121.2L705.2 104.1L706 102.7L706.8 98.4L707.5 95.4L708.2 98L709 99L709.8 95.5L710.5 81.8L711.2 101.1L712 88.8L712.8 86.4L713.5 82.1L714.2 86.7L715 91.8L715.8 87L716.5 91.8L717.2 94L718 104L718.8 92.3L719.5 80.3L720.2 99.7L721 93.2L721.8 94.5L722.5 83.1L723.2 81.4L724 78.4L724.8 79.2L725.5 77.6L726.2 81.2L727 75.6L727.8 78.1L728.5 87.6L729.2 87.6L730 87.9L730.8 91.5L731.5 90L732.2 95.4L733 87.3L733.8 99.6L734.5 101.3L735.2 100.9L736 97.9L736.8 109.4L737.5 121.1L738.2 115L739 102.4L739.8 109.3L740.5 107.8L741.2 112.8L742 107.9L742.8 99.4L743.5 97L744.2 102.9L745 112.2L745.8 107.6L746.5 123.3L747.2 118.2L748 109.9L748.8 111.3L749.5 112.6L750.2 118.1L751 113.9L751.8 108.6L752.5 117.5L753.2 120.3L754 117.6L754.8 120.6L755.5 111.5L756.2 102L757 97.1L757.8 104.7L758.5 100.6L759.2 106.9L760 102.8L760.8 103.4L761.5 105L762.2 114.4L763 108.1L763.8 109.8L764.5 92.3L765.2 81.7L766 90L766.8 90.3L767.5 75.1L768.2 79L769 99L769.8 102.5L770.5 80.2L771.2 70.5L772 83.9L772.8 88.8L773.5 81.9L774.2 85.6L775 82L775.8 72.8L776.5 83L777.2 80.6L778 81.9L778.8 78.6L779.5 74.5L780.2 78.3L780.2 141.9Z" fill="#DF536B" stroke="#DF536B" stroke-width="1.2" stroke-linejoin="round"/>
<path d="M437.5 141.9L437.5 121.3L438.2 125.1L439 127L439.8 127.4L440.5 132.4L441.2 132.8L442 135.4L442.8 131.4L443.5 130.3L444.2 133.3L445 135.4L445.8 134.7L446.5 134.3L447.2 127.4L448 127.6L448.8 136.6L449.5 135.2L450.2 133.9L451 130.1L451.8 131.4L452.5 130.7L453.2 133.4L454 132.5L454.8 138.9L455.5 135.2L456.2 136.1L457 144.3L457.8 145.9L458.5 147.2L459.2 149.1L460 153.4L460.8 155.3L461.5 150.9L462.2 147.3L463 144.3L463.8 149.3L464.5 152.9L465.2 150.9L466 146.3L466.8 150.8L467.5 147.5L468.2 149.5L469 148.7L469.8 146.3L470.5 144.4L471.2 141.9L472 141.4L472.8 136.1L473.5 133.6L474.2 131.1L475 128.3L475.8 133.8L476.5 131L477.2 131.6L478 131.7L478.8 131.9L479.5 133.5L480.2 133.8L481 140.5L481.8 130.7L482.5 139.1L483.2 136.8L484 138.5L484.8 140.5L485.5 132.6L486.2 131.4L487 130.3L487.8 131L488.5 132L489.2 134.2L490 130.3L490.8 132.2L491.5 130.7L492.2 133L493 135.5L493.8 134.3L494.5 140.5L495.2 140.5L496 140.5L496.8 137.1L497.5 136.8L498.2 132.1L499 128L499.8 131.8L500.5 133L501.2 132.4L502 128.8L502.8 127.2L503.5 130.1L504.2 140.5L505 140.5L505.8 140.5L506.5 130.4L507.2 130.2L508 127.5L508.8 130.7L509.5 131.7L510.2 140.2L511 138.2L511.8 147.3L512.5 146.1L513.2 150L514 149.5L514.8 150.9L515.5 149.1L516.2 149.7L517 146.4L517.8 143.4L518.5 143.4L519.2 141.2L520 141.8L520.8 143L521.5 133.8L522.2 134.7L523 140.5L523.8 133.9L524.5 127.8L525.2 126.7L526 125.1L526.8 122.9L527.5 122.7L528.2 126.5L529 117.8L529.8 115.6L530.5 116.7L531.2 115.4L532 119.6L532.8 116.9L533.5 113.1L534.2 121L535 125.1L535.8 128.1L536.5 128.2L537.2 116.1L538 115.9L538.8 111.7L539.5 110.9L540.2 110.8L541 116.8L541.8 118.3L542.5 114.9L543.2 118.7L544 114.9L544.8 119.5L545.5 105.8L546.2 109.7L547 112.4L547.8 112.3L548.5 114.5L549.2 114.6L550 113.5L550.8 106.8L551.5 107L552.2 109.4L553 106.8L553.8 106.1L554.5 109.7L555.2 108.6L556 114L556.8 111.8L557.5 106.7L558.2 105.2L559 112L559.8 110.4L560.5 117.6L561.2 120.8L562 117.3L562.8 120.5L563.5 124.8L564.2 126.8L565 131.3L565.8 132.3L566.5 124.6L567.2 122L568 126.3L568.8 126.3L569.5 128L570.2 130.1L571 123.9L571.8 133.4L572.5 132.2L573.2 130.5L574 133.5L574.8 118.8L575.5 116.7L576.2 113.9L577 116.1L577.8 113.6L578.5 109.9L579.2 115.4L580 109.1L580.8 102.1L581.5 105.6L582.2 105.2L583 103.6L583.8 102.1L584.5 110.2L585.2 111.2L586 109.8L586.8 110L587.5 123.3L588.2 125.1L589 128.3L589.8 118.3L590.5 121.8L591.2 119.8L592 113.1L592.8 110.8L593.5 111.8L594.2 114.1L595 112.8L595.8 116.8L596.5 114.3L597.2 111L598 115.2L598.8 118.5L599.5 118.6L600.2 121.3L601 123.5L601.8 124.3L602.5 123.6L603.2 117.7L604 134.8L604.8 121.8L605.5 125.6L606.2 120.7L607 119.9L607.8 130.9L608.5 127.1L609.2 126.6L610 126.2L610.8 136.3L611.5 126.7L612.2 124L613 135.5L613.8 138.7L614.5 126.8L615.2 131L616 140.5L616.8 140.5L617.5 142.7L618.2 140.7L619 133.6L619.8 137.2L620.5 136.3L621.2 141.7L622 138.5L622.8 135.3L623.5 137.9L624.2 133.3L625 130.3L625.8 131.2L626.5 131.1L627.2 136.6L628 138.4L628.8 135.9L629.5 133.5L630.2 137.8L631 144.3L631.8 141.3L632.5 147.2L633.2 142.1L634 141.1L634.8 134.6L635.5 134.6L636.2 129.9L637 133.6L637.8 133.9L638.5 130.6L639.2 130L640 129.3L640.8 123.4L641.5 116.4L642.2 111.6L643 109.5L643.8 108.9L644.5 106.1L645.2 101.7L646 102.3L646.8 101L647.5 101.6L648.2 98.6L649 100.6L649.8 97.4L650.5 93.3L651.2 96.5L652 96.6L652.8 100.8L653.5 102.1L654.2 100L655 104.5L655.8 102L656.5 101.8L657.2 102.6L658 104.4L658.8 101.9L659.5 106.9L660.2 105.2L661 108.3L661.8 111.5L662.5 110L663.2 108.7L664 101.5L664.8 101.4L665.5 102L666.2 99.2L667 99.7L667.8 104.5L668.5 101.8L669.2 99.9L670 97L670.8 100.2L671.5 98.8L672.2 100.9L673 101.8L673.8 103.4L674.5 105.4L675.2 102.4L676 101.9L676.8 100.2L677.5 100.3L678.2 99.6L679 94.4L679.8 94.1L680.5 95.6L681.2 92.1L682 92.3L682.8 94.7L683.5 94.4L684.2 95L685 100.1L685.8 107.2L686.5 111.5L687.2 114.8L688 107L688.8 100.4L689.5 109.4L690.2 112L691 109.5L691.8 97.5L692.5 100.6L693.2 108.2L694 103L694.8 100L695.5 103.8L696.2 101.7L697 97.7L697.8 99.3L698.5 102.7L699.2 102.4L700 102.9L700.8 103.8L701.5 106.3L702.2 105.8L703 102L703.8 98.7L704.5 109.3L705.2 110.5L706 109.9L706.8 109.7L707.5 112.4L708.2 111.8L709 109.2L709.8 109L710.5 107.8L711.2 106.9L712 112.4L712.8 104.9L713.5 109.1L714.2 112.6L715 111.4L715.8 113.7L716.5 112.4L717.2 109.4L718 121.3L718.8 125L719.5 125.9L720.2 131.5L721 132.6L721.8 120.8L722.5 120.8L723.2 135.4L724 121.5L724.8 119.5L725.5 123.5L726.2 117.1L727 123.9L727.8 122.5L728.5 118.6L729.2 127.6L730 126.7L730.8 125.1L731.5 119.8L732.2 117.5L733 119.6L733.8 131.1L734.5 122.9L735.2 121.9L736 121.9L736.8 132.1L737.5 132.5L738.2 124.8L739 126.2L739.8 118.7L740.5 121.8L741.2 122.2L742 120.9L742.8 124.3L743.5 123.3L744.2 124.7L745 129L745.8 129.2L746.5 133L747.2 135L748 126.5L748.8 138.9L749.5 137.6L750.2 140.5L751 130.6L751.8 140.3L752.5 141L753.2 137.8L754 142L754.8 142L755.5 144.8L756.2 152.6L757 151L757.8 148.8L758.5 150.2L759.2 151.2L760 154.7L760.8 153.8L761.5 152.1L762.2 149.7L763 141.6L763.8 144.9L764.5 145.5L765.2 142.9L766 133.6L766.8 131.8L767.5 128.2L768.2 133.6L769 128.7L769.8 125.2L770.5 127.2L771.2 126.9L772 123.5L772.8 122.8L773.5 116.3L774.2 118.7L775 119.4L775.8 137L776.5 132.9L777.2 135.3L778 120.7L778.8 118.3L779.5 118.5L780.2 112.6L780.2 141.9Z" fill="#61D04F" stroke="#61D04F" stroke-width="1.2" stroke-linejoin="round"/>
<path d="M437.5 67.9L438.2 64.1L439 70.6L439.8 84L440.5 85.2L441.2 64.1L442 62.5L442.8 61.8L443.5 58.9L444.2 61.5L445 57.1L445.8 80.8L446.5 82.1L447.2 68.1L448 68.8L448.8 75.1L449.5 65.9L450.2 62.8L451 64.3L451.8 64.1L452.5 65.1L453.2 73.3L454 73.4L454.8 73.5L455.5 82.2L456.2 81.4L457 64.6L457.8 70.3L458.5 70.6L459.2 74.6L460 82.8L460.8 57.6L461.5 65.2L462.2 62.1L463 74.4L463.8 61.6L464.5 64.6L465.2 75.6L466 75.2L466.8 63.3L467.5 80.8L468.2 62.5L469 62.4L469.8 76.7L470.5 55.2L471.2 59.7L472 57.1L472.8 50.7L473.5 68L474.2 61.2L475 58.1L475.8 50.8L476.5 56.3L477.2 54.7L478 59.9L478.8 73.6L479.5 77.5L480.2 76.8L481 77.5L481.8 77.9L482.5 70.4L483.2 69.7L484 70.5L484.8 63.9L485.5 59.2L486.2 58.2L487 52.3L487.8 52.1L488.5 51.1L489.2 48.9L490 57.1L490.8 82.2L491.5 77.9L492.2 77.7L493 54.9L493.8 52.6L494.5 54L495.2 65L496 69.4L496.8 71.1L497.5 67.5L498.2 64.1L499 72.4L499.8 71.5L500.5 70.2L501.2 62.2L502 64.2L502.8 65.4L503.5 63.3L504.2 65.9L505 59.5L505.8 58.5L506.5 71.5L507.2 65.2L508 59.8L508.8 54.8L509.5 51.2L510.2 54.2L511 64.5L511.8 63.9L512.5 71.1L513.2 75.6L514 84.4L514.8 93.5L515.5 90.8L516.2 83.7L517 97.9L517.8 95.8L518.5 95.7L519.2 92.5L520 90.8L520.8 83.4L521.5 78.2L522.2 75.6L523 71.2L523.8 66.8L524.5 76.2L525.2 84.4L526 67.2L526.8 74.4L527.5 71.7L528.2 71.1L529 69.8L529.8 68.6L530.5 97.9L531.2 98.8L532 70.1L532.8 64.3L533.5 65.9L534.2 70.2L535 79.5L535.8 69.5L536.5 68.6L537.2 69.2L538 73.9L538.8 69.4L539.5 64L540.2 66.9L541 59.5L541.8 71.4L542.5 80.3L543.2 79.6L544 78.9L544.8 86.1L545.5 90.3L546.2 92.4L547 75.1L547.8 70L548.5 80.7L549.2 60.4L550 56.4L550.8 59.8L551.5 61.3L552.2 51.1L553 64.7L553.8 80.6L554.5 77.6L555.2 73.3L556 61.5L556.8 58.4L557.5 68.5L558.2 61.3L559 58.7L559.8 70.7L560.5 73.6L561.2 80.7L562 67.4L562.8 68.7L563.5 61.3L564.2 63.8L565 66.7L565.8 63.3L566.5 64.7L567.2 67.5L568 66.5L568.8 71.1L569.5 82.2L570.2 92.3L571 93.4L571.8 65.3L572.5 62.4L573.2 57.6L574 62.1L574.8 77.7L575.5 65.4L576.2 51.3L577 66.3L577.8 46.9L578.5 58.7L579.2 66.7L580 57.5L580.8 50.8L581.5 60.5L582.2 53L583 59L583.8 65.2L584.5 90.1L585.2 70.3L586 55.2L586.8 61.7L587.5 91.3L588.2 88.7L589 88.7L589.8 67.9L590.5 68.8L591.2 86.7L592 85.9L592.8 69.1L593.5 67.6L594.2 71L595 64.4L595.8 71.4L596.5 70L597.2 74.8L598 74.8L598.8 65.4L599.5 64.1L600.2 62.3L601 67.7L601.8 75.5L602.5 71.2L603.2 73.9L604 78.3L604.8 75L605.5 70.5L606.2 73.8L607 91.1L607.8 81.1L608.5 68.6L609.2 65.5L610 68.2L610.8 72.9L611.5 73.1L612.2 67.1L613 52.5L613.8 55.6L614.5 56.8L615.2 50L616 46L616.8 50.6L617.5 51.6L618.2 47.5L619 39L619.8 29.7L620.5 24.9L621.2 41.8L622 46.4L622.8 39.1L623.5 42.9L624.2 17.8L625 29.2L625.8 45.7L626.5 43.5L627.2 26.2L628 35L628.8 35.6L629.5 37.6L630.2 42.1L631 30L631.8 31.4L632.5 35.6L633.2 40.6L634 51.4L634.8 41.4L635.5 49.3L636.2 52.3L637 58.3L637.8 58L638.5 64.1L639.2 92.4L640 106.2L640.8 99L641.5 92.9L642.2 93.6L643 93L643.8 103L644.5 107.5L645.2 112.8L646 122.7L646.8 126.6L647.5 129L648.2 135.2L649 119.9L649.8 131L650.5 131.6L651.2 123.1L652 132.5L652.8 148.9L653.5 146.9L654.2 145.5L655 143.4L655.8 140.5L656.5 143.4L657.2 141.8L658 143.4L658.8 136.5L659.5 136.2L660.2 136.4L661 140.7L661.8 142.7L662.5 143.4L663.2 140.5L664 143.4L664.8 144.9L665.5 141.5L666.2 140.9L667 141.7L667.8 143.4L668.5 143.6L669.2 139.7L670 147.8L670.8 140.5L671.5 140.5L672.2 140.5L673 140L673.8 156.1L674.5 143.4L675.2 143.4L676 143.4L676.8 152.5L677.5 152.6L678.2 144L679 143.4L679.8 143.4L680.5 143.4L681.2 141.3L682 140.5L682.8 130.6L683.5 140.5L684.2 140.5L685 124.9L685.8 124.2L686.5 113L687.2 139.4L688 140.5L688.8 111.5L689.5 121.1L690.2 109.1L691 107.4L691.8 107.2L692.5 105.5L693.2 101.6L694 96L694.8 88.9L695.5 88.7L696.2 86.7L697 89.4L697.8 100.4L698.5 104.7L699.2 99.1L700 101.4L700.8 107.8L701.5 119.1L702.2 115.9L703 107.2L703.8 109.9L704.5 121.2L705.2 104.1L706 102.7L706.8 98.4L707.5 95.4L708.2 98L709 99L709.8 95.5L710.5 81.8L711.2 101.1L712 88.8L712.8 86.4L713.5 82.1L714.2 86.7L715 91.8L715.8 87L716.5 91.8L717.2 94L718 104L718.8 92.3L719.5 80.3L720.2 99.7L721 93.2L721.8 94.5L722.5 83.1L723.2 81.4L724 78.4L724.8 79.2L725.5 77.6L726.2 81.2L727 75.6L727.8 78.1L728.5 87.6L729.2 87.6L730 87.9L730.8 91.5L731.5 90L732.2 95.4L733 87.3L733.8 99.6L734.5 101.3L735.2 100.9L736 97.9L736.8 109.4L737.5 121.1L738.2 115L739 102.4L739.8 109.3L740.5 107.8L741.2 112.8L742 107.9L742.8 99.4L743.5 97L744.2 102.9L745 112.2L745.8 107.6L746.5 123.3L747.2 118.2L748 109.9L748.8 111.3L749.5 112.6L750.2 118.1L751 113.9L751.8 108.6L752.5 117.5L753.2 120.3L754 117.6L754.8 120.6L755.5 111.5L756.2 102L757 97.1L757.8 104.7L758.5 100.6L759.2 106.9L760 102.8L760.8 103.4L761.5 105L762.2 114.4L763 108.1L763.8 109.8L764.5 92.3L765.2 81.7L766 90L766.8 90.3L767.5 75.1L768.2 79L769 99L769.8 102.5L770.5 80.2L771.2 70.5L772 83.9L772.8 88.8L773.5 81.9L774.2 85.6L775 82L775.8 72.8L776.5 83L777.2 80.6L778 81.9L778.8 78.6L779.5 74.5L780.2 78.3" fill="none" stroke="#DF536B" stroke-width="1.3" stroke-linejoin="round"/>
<path d="M437.5 121.3L438.2 125.1L439 127L439.8 127.4L440.5 132.4L441.2 132.8L442 135.4L442.8 131.4L443.5 130.3L444.2 133.3L445 135.4L445.8 134.7L446.5 134.3L447.2 127.4L448 127.6L448.8 136.6L449.5 135.2L450.2 133.9L451 130.1L451.8 131.4L452.5 130.7L453.2 133.4L454 132.5L454.8 138.9L455.5 135.2L456.2 136.1L457 144.3L457.8 145.9L458.5 147.2L459.2 149.1L460 153.4L460.8 155.3L461.5 150.9L462.2 147.3L463 144.3L463.8 149.3L464.5 152.9L465.2 150.9L466 146.3L466.8 150.8L467.5 147.5L468.2 149.5L469 148.7L469.8 146.3L470.5 144.4L471.2 141.9L472 141.4L472.8 136.1L473.5 133.6L474.2 131.1L475 128.3L475.8 133.8L476.5 131L477.2 131.6L478 131.7L478.8 131.9L479.5 133.5L480.2 133.8L481 140.5L481.8 130.7L482.5 139.1L483.2 136.8L484 138.5L484.8 140.5L485.5 132.6L486.2 131.4L487 130.3L487.8 131L488.5 132L489.2 134.2L490 130.3L490.8 132.2L491.5 130.7L492.2 133L493 135.5L493.8 134.3L494.5 140.5L495.2 140.5L496 140.5L496.8 137.1L497.5 136.8L498.2 132.1L499 128L499.8 131.8L500.5 133L501.2 132.4L502 128.8L502.8 127.2L503.5 130.1L504.2 140.5L505 140.5L505.8 140.5L506.5 130.4L507.2 130.2L508 127.5L508.8 130.7L509.5 131.7L510.2 140.2L511 138.2L511.8 147.3L512.5 146.1L513.2 150L514 149.5L514.8 150.9L515.5 149.1L516.2 149.7L517 146.4L517.8 143.4L518.5 143.4L519.2 141.2L520 141.8L520.8 143L521.5 133.8L522.2 134.7L523 140.5L523.8 133.9L524.5 127.8L525.2 126.7L526 125.1L526.8 122.9L527.5 122.7L528.2 126.5L529 117.8L529.8 115.6L530.5 116.7L531.2 115.4L532 119.6L532.8 116.9L533.5 113.1L534.2 121L535 125.1L535.8 128.1L536.5 128.2L537.2 116.1L538 115.9L538.8 111.7L539.5 110.9L540.2 110.8L541 116.8L541.8 118.3L542.5 114.9L543.2 118.7L544 114.9L544.8 119.5L545.5 105.8L546.2 109.7L547 112.4L547.8 112.3L548.5 114.5L549.2 114.6L550 113.5L550.8 106.8L551.5 107L552.2 109.4L553 106.8L553.8 106.1L554.5 109.7L555.2 108.6L556 114L556.8 111.8L557.5 106.7L558.2 105.2L559 112L559.8 110.4L560.5 117.6L561.2 120.8L562 117.3L562.8 120.5L563.5 124.8L564.2 126.8L565 131.3L565.8 132.3L566.5 124.6L567.2 122L568 126.3L568.8 126.3L569.5 128L570.2 130.1L571 123.9L571.8 133.4L572.5 132.2L573.2 130.5L574 133.5L574.8 118.8L575.5 116.7L576.2 113.9L577 116.1L577.8 113.6L578.5 109.9L579.2 115.4L580 109.1L580.8 102.1L581.5 105.6L582.2 105.2L583 103.6L583.8 102.1L584.5 110.2L585.2 111.2L586 109.8L586.8 110L587.5 123.3L588.2 125.1L589 128.3L589.8 118.3L590.5 121.8L591.2 119.8L592 113.1L592.8 110.8L593.5 111.8L594.2 114.1L595 112.8L595.8 116.8L596.5 114.3L597.2 111L598 115.2L598.8 118.5L599.5 118.6L600.2 121.3L601 123.5L601.8 124.3L602.5 123.6L603.2 117.7L604 134.8L604.8 121.8L605.5 125.6L606.2 120.7L607 119.9L607.8 130.9L608.5 127.1L609.2 126.6L610 126.2L610.8 136.3L611.5 126.7L612.2 124L613 135.5L613.8 138.7L614.5 126.8L615.2 131L616 140.5L616.8 140.5L617.5 142.7L618.2 140.7L619 133.6L619.8 137.2L620.5 136.3L621.2 141.7L622 138.5L622.8 135.3L623.5 137.9L624.2 133.3L625 130.3L625.8 131.2L626.5 131.1L627.2 136.6L628 138.4L628.8 135.9L629.5 133.5L630.2 137.8L631 144.3L631.8 141.3L632.5 147.2L633.2 142.1L634 141.1L634.8 134.6L635.5 134.6L636.2 129.9L637 133.6L637.8 133.9L638.5 130.6L639.2 130L640 129.3L640.8 123.4L641.5 116.4L642.2 111.6L643 109.5L643.8 108.9L644.5 106.1L645.2 101.7L646 102.3L646.8 101L647.5 101.6L648.2 98.6L649 100.6L649.8 97.4L650.5 93.3L651.2 96.5L652 96.6L652.8 100.8L653.5 102.1L654.2 100L655 104.5L655.8 102L656.5 101.8L657.2 102.6L658 104.4L658.8 101.9L659.5 106.9L660.2 105.2L661 108.3L661.8 111.5L662.5 110L663.2 108.7L664 101.5L664.8 101.4L665.5 102L666.2 99.2L667 99.7L667.8 104.5L668.5 101.8L669.2 99.9L670 97L670.8 100.2L671.5 98.8L672.2 100.9L673 101.8L673.8 103.4L674.5 105.4L675.2 102.4L676 101.9L676.8 100.2L677.5 100.3L678.2 99.6L679 94.4L679.8 94.1L680.5 95.6L681.2 92.1L682 92.3L682.8 94.7L683.5 94.4L684.2 95L685 100.1L685.8 107.2L686.5 111.5L687.2 114.8L688 107L688.8 100.4L689.5 109.4L690.2 112L691 109.5L691.8 97.5L692.5 100.6L693.2 108.2L694 103L694.8 100L695.5 103.8L696.2 101.7L697 97.7L697.8 99.3L698.5 102.7L699.2 102.4L700 102.9L700.8 103.8L701.5 106.3L702.2 105.8L703 102L703.8 98.7L704.5 109.3L705.2 110.5L706 109.9L706.8 109.7L707.5 112.4L708.2 111.8L709 109.2L709.8 109L710.5 107.8L711.2 106.9L712 112.4L712.8 104.9L713.5 109.1L714.2 112.6L715 111.4L715.8 113.7L716.5 112.4L717.2 109.4L718 121.3L718.8 125L719.5 125.9L720.2 131.5L721 132.6L721.8 120.8L722.5 120.8L723.2 135.4L724 121.5L724.8 119.5L725.5 123.5L726.2 117.1L727 123.9L727.8 122.5L728.5 118.6L729.2 127.6L730 126.7L730.8 125.1L731.5 119.8L732.2 117.5L733 119.6L733.8 131.1L734.5 122.9L735.2 121.9L736 121.9L736.8 132.1L737.5 132.5L738.2 124.8L739 126.2L739.8 118.7L740.5 121.8L741.2 122.2L742 120.9L742.8 124.3L743.5 123.3L744.2 124.7L745 129L745.8 129.2L746.5 133L747.2 135L748 126.5L748.8 138.9L749.5 137.6L750.2 140.5L751 130.6L751.8 140.3L752.5 141L753.2 137.8L754 142L754.8 142L755.5 144.8L756.2 152.6L757 151L757.8 148.8L758.5 150.2L759.2 151.2L760 154.7L760.8 153.8L761.5 152.1L762.2 149.7L763 141.6L763.8 144.9L764.5 145.5L765.2 142.9L766 133.6L766.8 131.8L767.5 128.2L768.2 133.6L769 128.7L769.8 125.2L770.5 127.2L771.2 126.9L772 123.5L772.8 122.8L773.5 116.3L774.2 118.7L775 119.4L775.8 137L776.5 132.9L777.2 135.3L778 120.7L778.8 118.3L779.5 118.5L780.2 112.6" fill="none" stroke="#61D04F" stroke-width="1.3" stroke-linejoin="round"/>
<path d="M437.5 56.9L438.2 42.6L439 40.1L439.8 44.6L440.5 48.9L441.2 53.9L442 60.5L442.8 62.6L443.5 54.1L444.2 68L445 64.5L445.8 65L446.5 61L447.2 57L448 55.4L448.8 60.7L449.5 56.2L450.2 61L451 70.7L451.8 66.6L452.5 67.5L453.2 63.8L454 69.2L454.8 79.5L455.5 68.4L456.2 60.3L457 59.4L457.8 67.6L458.5 67.1L459.2 61.7L460 47.9L460.8 61.1L461.5 64.8L462.2 60.7L463 59L463.8 64.8L464.5 66.1L465.2 61.2L466 68L466.8 65.8L467.5 71.4L468.2 64.3L469 65.6L469.8 56.2L470.5 53.9L471.2 60.7L472 44.9L472.8 55L473.5 52.6L474.2 60L475 59.2L475.8 62.4L476.5 66.1L477.2 58.6L478 55.2L478.8 60.7L479.5 64.3L480.2 71.1L481 63.6L481.8 71.8L482.5 66.5L483.2 69.8L484 67.2L484.8 63L485.5 58.7L486.2 66.5L487 57L487.8 56.6L488.5 61.7L489.2 59.6L490 56.4L490.8 56.1L491.5 54.8L492.2 53.7L493 54.5L493.8 66.5L494.5 60.8L495.2 55.2L496 68L496.8 66.9L497.5 63.7L498.2 63.5L499 68.2L499.8 70.3L500.5 66.2L501.2 63.1L502 69.6L502.8 63.3L503.5 58L504.2 59.1L505 56.7L505.8 59L506.5 62.3L507.2 58.7L508 58.3L508.8 49.7L509.5 59.4L510.2 61L511 74.7L511.8 70.9L512.5 79.8L513.2 97.7L514 92.5L514.8 88.4L515.5 84.6L516.2 93.8L517 90.1L517.8 96.6L518.5 92.5L519.2 89.8L520 80.6L520.8 85L521.5 83.1L522.2 74.9L523 73.9L523.8 77.1L524.5 74.3L525.2 67L526 65.2L526.8 64.8L527.5 58.1L528.2 51.9L529 59.1L529.8 53.5L530.5 57.2L531.2 50.5L532 49.3L532.8 49.7L533.5 50.4L534.2 55.3L535 47.7L535.8 43.1L536.5 43.4L537.2 35.2L538 35.4L538.8 38.9L539.5 49.7L540.2 57.1L541 57.4L541.8 55.5L542.5 42.2L543.2 42.9L544 42.9L544.8 47.7L545.5 50.9L546.2 47.3L547 39.9L547.8 44.7L548.5 43.7L549.2 38.3L550 39.8L550.8 37.5L551.5 26.8L552.2 31.1L553 24.6L553.8 28.7L554.5 27.7L555.2 31L556 20.3L556.8 22.8L557.5 28.6L558.2 36.1L559 46.8L559.8 44.5L560.5 47.6L561.2 34.3L562 43.3L562.8 45.3L563.5 42.9L564.2 53.6L565 42.8L565.8 42.5L566.5 46.1L567.2 48.7L568 52.9L568.8 48.2L569.5 50.7L570.2 50.4L571 52.2L571.8 42.6L572.5 58.6L573.2 53.7L574 51.1L574.8 50.2L575.5 54.9L576.2 49.9L577 43.4L577.8 47.8L578.5 35L579.2 27.3L580 30L580.8 27.8L581.5 19.6L582.2 27.3L583 29.8L583.8 32.5L584.5 30.2L585.2 34.8L586 34.2L586.8 47.2L587.5 41.2L588.2 38.5L589 44.7L589.8 45.5L590.5 47.7L591.2 45.7L592 48.8L592.8 56.2L593.5 61L594.2 68.4L595 70.9L595.8 64.7L596.5 73.7L597.2 71.5L598 67.9L598.8 60.7L599.5 60.6L600.2 55.9L601 56.5L601.8 54.1L602.5 61.5L603.2 53.8L604 46.1L604.8 49.5L605.5 49.7L606.2 45.8L607 45.5L607.8 55.7L608.5 59.9L609.2 63.4L610 63.2L610.8 61.1L611.5 56.2L612.2 64.4L613 49.7L613.8 57.9L614.5 56.8L615.2 54.9L616 58.1L616.8 44.1L617.5 48L618.2 38.6L619 38.7L619.8 37.5L620.5 24L621.2 31.5L622 17.2L622.8 30.8L623.5 21L624.2 21.6L625 25.2L625.8 21.4L626.5 21.4L627.2 21.8L628 28.5L628.8 30.4L629.5 32.1L630.2 34.9L631 40.1L631.8 40.9L632.5 42.8L633.2 42.9L634 45.3L634.8 38.7L635.5 46.4L636.2 47.1L637 49.2L637.8 55.1L638.5 63.2L639.2 66.6L640 86.9L640.8 87L641.5 94.7L642.2 94.5L643 96.6L643.8 97.5L644.5 101.2L645.2 103.1L646 99.9L646.8 89.5L647.5 100.3L648.2 97.5L649 87.4L649.8 87.3L650.5 84.6L651.2 82.7L652 79.1L652.8 92.6L653.5 90.3L654.2 91.8L655 98.8L655.8 90.5L656.5 92.6L657.2 84.2L658 87.4L658.8 77.4L659.5 75.9L660.2 80.4L661 89.2L661.8 78L662.5 76.8L663.2 84.1L664 83.1L664.8 90.7L665.5 86.9L666.2 81.9L667 83.1L667.8 88.1L668.5 90.7L669.2 85.3L670 83.4L670.8 90.1L671.5 92.8L672.2 88L673 85.8L673.8 91.7L674.5 98.6L675.2 96.9L676 95.6L676.8 90.9L677.5 87.8L678.2 82.5L679 89.7L679.8 90.6L680.5 94.7L681.2 86.8L682 85.2L682.8 90L683.5 81.9L684.2 74.4L685 73.9L685.8 67.9L686.5 65.1L687.2 68.4L688 71.1L688.8 71.2L689.5 67.8L690.2 66.5L691 52.3L691.8 41.1L692.5 35.1L693.2 37.2L694 31L694.8 43L695.5 45.8L696.2 41.1L697 50.4L697.8 55.6L698.5 62.5L699.2 74.8L700 73L700.8 82.8L701.5 75.3L702.2 80.6L703 68.6L703.8 65.7L704.5 72.5L705.2 67.2L706 62.9L706.8 59L707.5 55.6L708.2 64L709 60.9L709.8 57.4L710.5 64.6L711.2 68L712 68.1L712.8 57.6L713.5 70.7L714.2 65L715 64.8L715.8 65.3L716.5 67.8L717.2 61.1L718 67.3L718.8 70.3L719.5 75.3L720.2 69.9L721 60.7L721.8 67.2L722.5 57.9L723.2 54L724 47.6L724.8 53.2L725.5 46.6L726.2 53.4L727 59.3L727.8 55.4L728.5 56.7L729.2 73L730 65L730.8 68.5L731.5 72.3L732.2 63.5L733 69.7L733.8 67.5L734.5 76.5L735.2 74.7L736 76.9L736.8 76.7L737.5 82L738.2 77.6L739 74.6L739.8 84.3L740.5 83.2L741.2 89.8L742 88.9L742.8 91.4L743.5 85.2L744.2 90.1L745 92.9L745.8 97.7L746.5 85.6L747.2 99.6L748 98.9L748.8 95.8L749.5 110.3L750.2 119.9L751 112.1L751.8 101.5L752.5 102.8L753.2 103.7L754 106.3L754.8 112.9L755.5 105.4L756.2 98.3L757 99L757.8 104.4L758.5 93.5L759.2 98.8L760 107.1L760.8 99.3L761.5 106.7L762.2 99L763 93.3L763.8 97.3L764.5 98.4L765.2 91.3L766 87.2L766.8 82.8L767.5 76.2L768.2 73.6L769 68.2L769.8 73.7L770.5 74.2L771.2 69.7L772 70.6L772.8 69.2L773.5 62.6L774.2 57.7L775 57.9L775.8 66.9L776.5 61.5L777.2 65.1L778 68.7L778.8 60.5L779.5 66.9L780.2 66.9" fill="none" stroke="#000" stroke-width="1.3" stroke-linejoin="round"/>
</g>
<line x1="437.5" x2="780.5" y1="141.9" y2="141.9" stroke="#000" stroke-width="1.8" stroke-dasharray="2.3 4.1"/>
<rect x="451.0" y="36.5" width="13" height="10.5" fill="#000" stroke="#000" stroke-width="1.2"/>
<text x="476.5" y="49.6" font-size="16" fill="#000" stroke="#000" stroke-width="0.3" textLength="36.5" lengthAdjust="spacingAndGlyphs">Total</text>
<rect x="451.0" y="56.9" width="13" height="10.5" fill="#DF536B" stroke="#000" stroke-width="1.2"/>
<text x="476.5" y="69.4" font-size="16" fill="#000" stroke="#000" stroke-width="0.3" textLength="23.5" lengthAdjust="spacingAndGlyphs">1-5</text>
<rect x="451.0" y="77.3" width="13" height="10.5" fill="#61D04F" stroke="#000" stroke-width="1.2"/>
<text x="476.5" y="89.2" font-size="16" fill="#000" stroke="#000" stroke-width="0.3" textLength="35.2" lengthAdjust="spacingAndGlyphs">5-Inf</text>
<rect x="437.5" y="22.5" width="343" height="215.0" fill="none" stroke="#000" stroke-width="1.6"/>
<line x1="432" x2="437.5" y1="46.4" y2="46.4" stroke="#000" stroke-width="1.2"/>
<text x="428" y="53.7" font-size="16" text-anchor="end" fill="#000" stroke="#000" stroke-width="0.3">20</text>
<line x1="432" x2="437.5" y1="94.2" y2="94.2" stroke="#000" stroke-width="1.2"/>
<text x="428" y="101.5" font-size="16" text-anchor="end" fill="#000" stroke="#000" stroke-width="0.3">10</text>
<line x1="432" x2="437.5" y1="141.9" y2="141.9" stroke="#000" stroke-width="1.2"/>
<text x="428" y="149.2" font-size="16" text-anchor="end" fill="#000" stroke="#000" stroke-width="0.3">0</text>
<line x1="432" x2="437.5" y1="189.7" y2="189.7" stroke="#000" stroke-width="1.2"/>
<text x="428" y="197" font-size="16" text-anchor="end" fill="#000" stroke="#000" stroke-width="0.3">-10</text>
<line x1="432" x2="437.5" y1="237.5" y2="237.5" stroke="#000" stroke-width="1.2"/>
<text x="428" y="244.8" font-size="16" text-anchor="end" fill="#000" stroke="#000" stroke-width="0.3">-20</text>
<line x1="587.7" x2="587.7" y1="237.5" y2="242.5" stroke="#000" stroke-width="1.2"/>
<text x="587.2" y="261" font-size="16" text-anchor="middle" fill="#000" stroke="#000" stroke-width="0.3" textLength="37" lengthAdjust="spacingAndGlyphs">2023</text>
<line x1="777.5" x2="777.5" y1="237.5" y2="242.5" stroke="#000" stroke-width="1.2"/>
<text x="777.0" y="261" font-size="16" text-anchor="middle" fill="#000" stroke="#000" stroke-width="0.3" textLength="37" lengthAdjust="spacingAndGlyphs">2024</text>
<text transform="translate(606.7 16.6) scale(1 1.18)" x="0" y="0" font-size="19.2" font-weight="bold" text-anchor="middle" fill="#000" textLength="35.2" lengthAdjust="spacingAndGlyphs">PIO</text>
<clipPath id="c02"><rect x="840.5" y="22.5" width="342" height="215.0"/></clipPath>
<g stroke="#D3D3D3" stroke-width="1.5" stroke-dasharray="7 5.5"><line x1="840.5" x2="1182.5" y1="46.4" y2="46.4"/><line x1="840.5" x2="1182.5" y1="94.2" y2="94.2"/><line x1="840.5" x2="1182.5" y1="189.7" y2="189.7"/></g>
<g clip-path="url(#c02)" shape-rendering="crispEdges">
<path d="M840.5 141.9L840.5 179.8L841.2 184.8L842 184.8L842.8 174.5L843.5 186.4L844.2 192L845 192.4L845.8 199.8L846.5 197.3L847.2 192.3L848 184.9L848.8 188.1L849.5 192L850.2 192.3L851 190.9L851.8 186.5L852.5 180.9L853.2 195.6L854 169.2L854.8 198L855.5 192.3L856.2 184.2L857 175L857.8 152.6L858.5 175.6L859.2 156.3L860 153.1L860.8 177.6L861.5 181.7L862.2 189L863 194L863.8 186L864.5 178.1L865.2 179.6L866 187.3L866.8 183.8L867.5 185L868.2 184.1L869 192L869.8 186.8L870.5 201.9L871.2 194.5L872 196.3L872.8 204.6L873.5 196.6L874.2 191.2L875 196.3L875.8 200.5L876.5 194.3L877.2 197.9L878 210.8L878.8 189L879.5 203.1L880.2 190.6L881 195.4L881.8 183.1L882.5 180.8L883.2 184.3L884 172.2L884.8 167.2L885.5 177.7L886.2 195.2L887 195.9L887.8 191.6L888.5 182.3L889.2 186L890 214.2L890.8 197.3L891.5 202.3L892.2 227.3L893 217.2L893.8 221.4L894.5 228.3L895.2 231.9L896 228L896.8 230.1L897.5 200.9L898.2 216.2L899 232.1L899.8 242.9L900.5 237.9L901.2 229.1L902 230.3L902.8 228.9L903.5 228.5L904.2 237.8L905 235.2L905.8 218.9L906.5 220.3L907.2 213.1L908 225.7L908.8 233.3L909.5 214.2L910.2 213.2L911 229.8L911.8 226L912.5 231L913.2 233.2L914 240.1L914.8 222.4L915.5 217.1L916.2 209.3L917 215.5L917.8 206.8L918.5 215.5L919.2 221.8L920 189.6L920.8 204.6L921.5 209.1L922.2 238.6L923 224.8L923.8 232.4L924.5 234.3L925.2 230.5L926 215.5L926.8 215.2L927.5 220.2L928.2 224L929 227.8L929.8 236.4L930.5 231.8L931.2 231.5L932 230.3L932.8 221.1L933.5 229L934.2 228.2L935 234.7L935.8 228.7L936.5 211.9L937.2 212L938 229.2L938.8 244.5L939.5 246.1L940.2 246.8L941 247L941.8 230.7L942.5 225.6L943.2 230.7L944 229.9L944.8 220.5L945.5 199.9L946.2 196.1L947 193.7L947.8 204.1L948.5 195.6L949.2 202.6L950 206.5L950.8 196.1L951.5 177.8L952.2 179.6L953 169.9L953.8 192L954.5 187.7L955.2 189.8L956 186.3L956.8 184.6L957.5 185.2L958.2 180.9L959 180.6L959.8 179.1L960.5 166.8L961.2 166.1L962 170.1L962.8 166.1L963.5 146.8L964.2 143.4L965 143.4L965.8 172.9L966.5 170.4L967.2 143.4L968 146.5L968.8 144.9L969.5 183.2L970.2 157L971 157.6L971.8 159.6L972.5 182.4L973.2 160.1L974 161L974.8 179.3L975.5 176.4L976.2 172.3L977 163.8L977.8 160.2L978.5 156.8L979.2 163.9L980 157.2L980.8 160.5L981.5 163.1L982.2 152.4L983 143.4L983.8 150.3L984.5 147.4L985.2 144.2L986 138.7L986.8 140.6L987.5 142.9L988.2 152.5L989 148.5L989.8 149.6L990.5 153.5L991.2 139.5L992 143.8L992.8 143.4L993.5 146.2L994.2 143.4L995 142.1L995.8 143.4L996.5 149.2L997.2 145.6L998 151.1L998.8 148.9L999.5 148.4L1000.2 143.6L1001 142.3L1001.8 157.5L1002.5 157.7L1003.2 158L1004 148.3L1004.8 150.1L1005.5 143.4L1006.2 143.4L1007 143.4L1007.8 136L1008.5 144.8L1009.2 144.4L1010 140.5L1010.8 140.5L1011.5 142L1012.2 143.4L1013 140.5L1013.8 136.6L1014.5 143L1015.2 140.5L1016 143.4L1016.8 143.4L1017.5 143.4L1018.2 143.4L1019 162.9L1019.8 159.1L1020.5 165.8L1021.2 180L1022 184.6L1022.8 182.4L1023.5 182.6L1024.2 187.5L1025 187.6L1025.8 181L1026.5 185L1027.2 190.1L1028 184.7L1028.8 176.1L1029.5 164L1030.2 188.8L1031 187.2L1031.8 186.1L1032.5 200.4L1033.2 188L1034 195.6L1034.8 190.9L1035.5 193.5L1036.2 176.5L1037 164.9L1037.8 162.2L1038.5 173.7L1039.2 173.1L1040 143.4L1040.8 143.4L1041.5 143.4L1042.2 156.3L1043 156.3L1043.8 156.2L1044.5 162.1L1045.2 157.7L1046 167.5L1046.8 166.3L1047.5 164.4L1048.2 172L1049 175.1L1049.8 185.3L1050.5 180.6L1051.2 173.3L1052 177L1052.8 181.2L1053.5 180L1054.2 166.6L1055 167.8L1055.8 157.6L1056.5 175.7L1057.2 164.3L1058 164.8L1058.8 171.8L1059.5 163.4L1060.2 156.9L1061 161.8L1061.8 160.3L1062.5 171.6L1063.2 175L1064 170.8L1064.8 168.4L1065.5 170.7L1066.2 163.6L1067 173.8L1067.8 169.8L1068.5 188.7L1069.2 181.7L1070 187.9L1070.8 157.9L1071.5 159.6L1072.2 151.7L1073 143.7L1073.8 165L1074.5 154.2L1075.2 154.5L1076 146.5L1076.8 145.1L1077.5 141.5L1078.2 144.1L1079 148.3L1079.8 153.6L1080.5 152.9L1081.2 158.4L1082 146.3L1082.8 158.1L1083.5 148.5L1084.2 155.2L1085 155.2L1085.8 157.6L1086.5 143.6L1087.2 143.4L1088 143.4L1088.8 138.3L1089.5 126.6L1090.2 123.7L1091 132.5L1091.8 140L1092.5 138.9L1093.2 144.7L1094 143.6L1094.8 150.2L1095.5 149.9L1096.2 147.6L1097 151.9L1097.8 143.7L1098.5 144.2L1099.2 164.5L1100 172.6L1100.8 165.6L1101.5 155.8L1102.2 160.7L1103 147.2L1103.8 155L1104.5 155.5L1105.2 163.1L1106 151.4L1106.8 143.4L1107.5 147.1L1108.2 150.9L1109 180.8L1109.8 192.2L1110.5 194.6L1111.2 190.8L1112 195.1L1112.8 201.9L1113.5 203L1114.2 190.8L1115 202.6L1115.8 198.2L1116.5 192.1L1117.2 204.2L1118 221.8L1118.8 218.2L1119.5 219.8L1120.2 227.3L1121 219.2L1121.8 211.8L1122.5 211.4L1123.2 215.1L1124 217.6L1124.8 177.8L1125.5 188.7L1126.2 183.6L1127 185.1L1127.8 201.9L1128.5 201.1L1129.2 210.8L1130 214.6L1130.8 209L1131.5 192.8L1132.2 182.6L1133 192.9L1133.8 202.6L1134.5 185.7L1135.2 182.7L1136 172L1136.8 162.8L1137.5 163.8L1138.2 169L1139 164.5L1139.8 149.5L1140.5 132.8L1141.2 140.5L1142 140.5L1142.8 141.4L1143.5 155L1144.2 155.2L1145 163L1145.8 148.1L1146.5 146.3L1147.2 144.4L1148 143.8L1148.8 151.9L1149.5 142.1L1150.2 144.4L1151 137.1L1151.8 143.4L1152.5 152.6L1153.2 148.8L1154 142.8L1154.8 143.4L1155.5 143.4L1156.2 143.4L1157 143.4L1157.8 143.4L1158.5 143.4L1159.2 143.4L1160 169.2L1160.8 174.7L1161.5 174.8L1162.2 162.8L1163 171.3L1163.8 173.9L1164.5 196.8L1165.2 198.3L1166 200.8L1166.8 198L1167.5 183.5L1168.2 197L1169 198.9L1169.8 191.6L1170.5 195.3L1171.2 195.8L1172 178.9L1172.8 174.8L1173.5 178.9L1174.2 187.3L1175 187.3L1175.8 192.3L1176.5 186.7L1177.2 186L1178 187.9L1178.8 169.8L1179.5 171.1L1180.2 171L1181 187.5L1181.8 185.2L1182.5 190.7L1182.5 141.9Z" fill="#000" stroke="#000" stroke-width="1.2" stroke-linejoin="round"/>
<path d="M840.5 141.9L840.5 159.6L841.2 193.2L842 186.1L842.8 192.4L843.5 191.4L844.2 190.7L845 194.4L845.8 189.9L846.5 197.7L847.2 188.5L848 186.9L848.8 181.1L849.5 158.1L850.2 164.9L851 167.7L851.8 189.4L852.5 190.6L853.2 185.1L854 188.9L854.8 187.4L855.5 184.5L856.2 180.4L857 182.3L857.8 175.9L858.5 181.5L859.2 195.2L860 192.4L860.8 192.6L861.5 197.4L862.2 199.9L863 207.9L863.8 210.8L864.5 184.7L865.2 182.7L866 179.8L866.8 197.6L867.5 198.8L868.2 201.5L869 205.2L869.8 205.5L870.5 210.1L871.2 206.3L872 215.2L872.8 182.1L873.5 196.4L874.2 191.2L875 204.9L875.8 207.1L876.5 213.9L877.2 209.3L878 191.9L878.8 197.1L879.5 208.9L880.2 208.7L881 209.8L881.8 199L882.5 194.7L883.2 190.2L884 196.4L884.8 192.9L885.5 194.7L886.2 208.9L887 212.1L887.8 214.9L888.5 216.6L889.2 225.3L890 230.1L890.8 226.1L891.5 215.6L892.2 218.2L893 227.8L893.8 232.1L894.5 235.2L895.2 238.1L896 241.8L896.8 239.2L897.5 211.5L898.2 214.2L899 211.6L899.8 239.3L900.5 239.6L901.2 224.3L902 219.7L902.8 205.2L903.5 198.2L904.2 211.2L905 210.5L905.8 219.2L906.5 212L907.2 219.2L908 185.4L908.8 196.1L909.5 194.7L910.2 193.1L911 170.6L911.8 159.3L912.5 180L913.2 167.1L914 154.7L914.8 150.4L915.5 168.8L916.2 155.6L917 152.8L917.8 146.3L918.5 149.2L919.2 150.6L920 143.4L920.8 144.2L921.5 164L922.2 160.1L923 170.9L923.8 171.2L924.5 155.2L925.2 157.8L926 160L926.8 156.5L927.5 157.2L928.2 148.6L929 150.8L929.8 155.8L930.5 160.5L931.2 161.1L932 155L932.8 157.4L933.5 152.4L934.2 153.2L935 145.9L935.8 143.4L936.5 161.5L937.2 169L938 170.8L938.8 167.5L939.5 172.7L940.2 157.2L941 175.5L941.8 160.9L942.5 165.3L943.2 162.7L944 162.9L944.8 151.2L945.5 145.7L946.2 135.8L947 139.9L947.8 131.6L948.5 133.5L949.2 126.4L950 132.5L950.8 130.6L951.5 127L952.2 122.8L953 125.1L953.8 127.5L954.5 124.9L955.2 132.9L956 129.2L956.8 131L957.5 131.7L958.2 134.3L959 123.3L959.8 127.5L960.5 125.5L961.2 130.8L962 144.4L962.8 148.8L963.5 158.6L964.2 168.6L965 167.1L965.8 163.2L966.5 156.2L967.2 160.1L968 145.7L968.8 153.5L969.5 169L970.2 164.5L971 166.4L971.8 171.7L972.5 169.9L973.2 171.3L974 167L974.8 169L975.5 174.8L976.2 173.8L977 176.8L977.8 172L978.5 152.9L979.2 158.3L980 158.8L980.8 154.9L981.5 151.5L982.2 157.1L983 160.1L983.8 150.7L984.5 170L985.2 175.3L986 174L986.8 175.6L987.5 187.5L988.2 184.9L989 175.3L989.8 168.7L990.5 170.5L991.2 166.5L992 156.5L992.8 143.4L993.5 143.4L994.2 148.7L995 150.1L995.8 150.3L996.5 154.3L997.2 160L998 158.6L998.8 143.4L999.5 143.4L1000.2 153.6L1001 158.7L1001.8 157.7L1002.5 156.5L1003.2 148.1L1004 153.3L1004.8 155.4L1005.5 157.6L1006.2 167.4L1007 169.4L1007.8 150.3L1008.5 159.8L1009.2 158.9L1010 173.4L1010.8 161.4L1011.5 161.1L1012.2 158.3L1013 160.6L1013.8 163L1014.5 166L1015.2 143.4L1016 146.5L1016.8 171.5L1017.5 164.6L1018.2 160.8L1019 164.6L1019.8 143.4L1020.5 145.2L1021.2 174.9L1022 179.1L1022.8 180.3L1023.5 187.1L1024.2 190.2L1025 163.4L1025.8 179.8L1026.5 187.8L1027.2 190.8L1028 195.5L1028.8 195.2L1029.5 195.9L1030.2 190.1L1031 196.8L1031.8 198.9L1032.5 195.1L1033.2 204.7L1034 203.3L1034.8 201.8L1035.5 208.7L1036.2 197.6L1037 190.4L1037.8 194.8L1038.5 173.5L1039.2 184L1040 188.5L1040.8 177.7L1041.5 184.6L1042.2 178.8L1043 173.6L1043.8 173.8L1044.5 178.5L1045.2 157.9L1046 164L1046.8 169.3L1047.5 177.8L1048.2 174.9L1049 180L1049.8 193.9L1050.5 195.5L1051.2 199.6L1052 176.6L1052.8 174.5L1053.5 181.1L1054.2 186.2L1055 178.1L1055.8 183.8L1056.5 183.3L1057.2 185.2L1058 183.7L1058.8 180.7L1059.5 184.1L1060.2 185.8L1061 187.7L1061.8 181.7L1062.5 166.8L1063.2 179.8L1064 162.2L1064.8 169.3L1065.5 166.7L1066.2 172.4L1067 195.9L1067.8 188.7L1068.5 188.3L1069.2 192.7L1070 202.5L1070.8 195.2L1071.5 201L1072.2 181.1L1073 187.3L1073.8 159.7L1074.5 158.3L1075.2 154.5L1076 170.8L1076.8 182L1077.5 169.3L1078.2 165.5L1079 166.2L1079.8 164.7L1080.5 171.5L1081.2 176.6L1082 184.7L1082.8 178.8L1083.5 181.1L1084.2 156.8L1085 166.6L1085.8 168.1L1086.5 172.7L1087.2 165.2L1088 144.7L1088.8 150.7L1089.5 148.3L1090.2 143.4L1091 153.1L1091.8 155.3L1092.5 157.7L1093.2 165.4L1094 149L1094.8 166.9L1095.5 167.5L1096.2 174L1097 173.1L1097.8 182.5L1098.5 178.7L1099.2 172.9L1100 186.1L1100.8 186.6L1101.5 193.8L1102.2 184.4L1103 173.2L1103.8 178.9L1104.5 186.6L1105.2 184.2L1106 201.2L1106.8 193.3L1107.5 175.5L1108.2 177.5L1109 180.9L1109.8 184.9L1110.5 197.8L1111.2 201.1L1112 197.7L1112.8 204L1113.5 207.5L1114.2 186.4L1115 198L1115.8 199.8L1116.5 209.6L1117.2 208.1L1118 207.5L1118.8 198.4L1119.5 199.5L1120.2 185.4L1121 185.3L1121.8 204.8L1122.5 190L1123.2 188.2L1124 201L1124.8 194.3L1125.5 185.8L1126.2 181.5L1127 187L1127.8 178.9L1128.5 178.2L1129.2 177L1130 176.1L1130.8 179.7L1131.5 166.9L1132.2 164.4L1133 176.4L1133.8 174.1L1134.5 168.5L1135.2 143.4L1136 143.5L1136.8 135L1137.5 123.1L1138.2 118.7L1139 112.3L1139.8 100.7L1140.5 106.3L1141.2 110L1142 116.3L1142.8 114.6L1143.5 125.8L1144.2 128L1145 120L1145.8 123.4L1146.5 123.4L1147.2 137.2L1148 140.5L1148.8 140.5L1149.5 128.2L1150.2 126.5L1151 117.5L1151.8 118.1L1152.5 106.7L1153.2 109.8L1154 97.8L1154.8 107.1L1155.5 112.2L1156.2 108.7L1157 119.7L1157.8 125.9L1158.5 134.7L1159.2 140.5L1160 140.5L1160.8 140.5L1161.5 145.8L1162.2 143.4L1163 144.2L1163.8 143.4L1164.5 143.4L1165.2 143.4L1166 143.4L1166.8 161.5L1167.5 169L1168.2 162.3L1169 157.4L1169.8 167.8L1170.5 168.3L1171.2 171.9L1172 167.1L1172.8 164.6L1173.5 168.2L1174.2 165.1L1175 170.5L1175.8 179.4L1176.5 167.1L1177.2 175L1178 151.7L1178.8 167.4L1179.5 164.5L1180.2 156.8L1181 151.7L1181.8 175.6L1182.5 167.1L1182.5 141.9Z" fill="#DF536B" stroke="#DF536B" stroke-width="1.2" stroke-linejoin="round"/>
<path d="M840.5 141.9L840.5 137.4L841.2 141.3L842 136.4L842.8 138.9L843.5 134L844.2 137.5L845 138.3L845.8 138.8L846.5 138.2L847.2 134.2L848 136.2L848.8 137.4L849.5 142.4L850.2 141.7L851 135.4L851.8 133L852.5 136.7L853.2 139.5L854 136.1L854.8 136.1L855.5 138.3L856.2 136.5L857 128.8L857.8 123.9L858.5 123.7L859.2 117L860 117.4L860.8 119.9L861.5 120.7L862.2 121.1L863 123L863.8 121.3L864.5 131L865.2 132.8L866 132.6L866.8 128.9L867.5 128.1L868.2 129.5L869 136.6L869.8 136.3L870.5 133.5L871.2 138.9L872 130.6L872.8 128.8L873.5 126L874.2 137.7L875 140.5L875.8 138L876.5 126.2L877.2 124.3L878 121.3L878.8 120.4L879.5 120.2L880.2 123.3L881 130.2L881.8 133.4L882.5 135.2L883.2 127.1L884 131.4L884.8 131.8L885.5 131.7L886.2 131.4L887 138.1L887.8 137.4L888.5 144.6L889.2 143.4L890 147.7L890.8 141.6L891.5 141.3L892.2 146.8L893 150.3L893.8 151.6L894.5 150.9L895.2 155.2L896 155.8L896.8 151.4L897.5 150.2L898.2 144.2L899 157.5L899.8 154.9L900.5 158.4L901.2 165.3L902 168.1L902.8 170.6L903.5 167.6L904.2 171.2L905 172.1L905.8 177.3L906.5 181.3L907.2 184.9L908 185.4L908.8 188.4L909.5 193.8L910.2 202.2L911 205.8L911.8 204.5L912.5 203.7L913.2 204.6L914 203.1L914.8 206.6L915.5 203.8L916.2 192.5L917 193L917.8 195.3L918.5 189.9L919.2 193.4L920 192.1L920.8 191.7L921.5 191.1L922.2 193L923 192L923.8 190.6L924.5 192L925.2 193L926 200.4L926.8 189.2L927.5 185.1L928.2 179.6L929 184.4L929.8 185.5L930.5 188.7L931.2 188.8L932 197L932.8 194.2L933.5 192.4L934.2 194.2L935 198.3L935.8 196.4L936.5 198.2L937.2 197.5L938 201.4L938.8 203.4L939.5 204.9L940.2 211.2L941 213.7L941.8 213L942.5 212.1L943.2 214.7L944 218.8L944.8 212.7L945.5 210.3L946.2 207.7L947 203.7L947.8 202.3L948.5 199.3L949.2 202.2L950 186.8L950.8 190.2L951.5 185.7L952.2 190.9L953 189.1L953.8 189.5L954.5 186.4L955.2 172.2L956 172.6L956.8 170.7L957.5 181.3L958.2 178.8L959 171.8L959.8 163L960.5 164L961.2 160.9L962 165.1L962.8 166.9L963.5 161.2L964.2 156.4L965 156L965.8 160.2L966.5 160.6L967.2 161L968 159.8L968.8 158.8L969.5 156.7L970.2 155.8L971 149.9L971.8 148L972.5 146.2L973.2 147.7L974 139.9L974.8 133.7L975.5 139L976.2 135.5L977 133.7L977.8 131L978.5 130.8L979.2 128.9L980 122.7L980.8 122.2L981.5 126.3L982.2 126.7L983 128.2L983.8 129L984.5 128L985.2 134.5L986 128.8L986.8 128.5L987.5 126L988.2 127L989 130L989.8 133.2L990.5 128.3L991.2 123.1L992 122.2L992.8 135.2L993.5 132.7L994.2 132.4L995 127.7L995.8 128.1L996.5 121.9L997.2 130.4L998 133.1L998.8 133L999.5 133.7L1000.2 135.4L1001 134.5L1001.8 131.6L1002.5 133.4L1003.2 136.2L1004 136.1L1004.8 135.4L1005.5 136.6L1006.2 135.1L1007 134.2L1007.8 135.3L1008.5 133.5L1009.2 131.1L1010 125.5L1010.8 125.5L1011.5 121L1012.2 118.8L1013 122.4L1013.8 123.1L1014.5 139.2L1015.2 128.2L1016 129.1L1016.8 121.6L1017.5 126.9L1018.2 139.7L1019 139.6L1019.8 140.5L1020.5 128.8L1021.2 137.4L1022 135.5L1022.8 136.4L1023.5 135.3L1024.2 134.6L1025 136.4L1025.8 140.5L1026.5 140.5L1027.2 140.5L1028 136.9L1028.8 140.2L1029.5 137.4L1030.2 139.9L1031 143.5L1031.8 141.8L1032.5 137.7L1033.2 147L1034 145.3L1034.8 143.8L1035.5 143.8L1036.2 138.9L1037 134.8L1037.8 138.2L1038.5 138.6L1039.2 138L1040 133.3L1040.8 133.7L1041.5 140.1L1042.2 135.4L1043 135.1L1043.8 134L1044.5 135.9L1045.2 135L1046 129.4L1046.8 132.1L1047.5 138.7L1048.2 138.3L1049 134.9L1049.8 128.7L1050.5 132.8L1051.2 131.9L1052 140.5L1052.8 127.8L1053.5 131L1054.2 124.6L1055 126.2L1055.8 131.3L1056.5 135.1L1057.2 130.1L1058 132.9L1058.8 130.1L1059.5 140.1L1060.2 138.6L1061 121.9L1061.8 135.9L1062.5 133.8L1063.2 138L1064 125L1064.8 130.4L1065.5 133.6L1066.2 133.8L1067 128.8L1067.8 129.7L1068.5 130.3L1069.2 123L1070 128.2L1070.8 121.5L1071.5 126.4L1072.2 136.3L1073 136.1L1073.8 124.2L1074.5 122.4L1075.2 120.2L1076 122.3L1076.8 115.7L1077.5 116.3L1078.2 118.7L1079 119.2L1079.8 120.4L1080.5 116.8L1081.2 132.4L1082 133.8L1082.8 121.2L1083.5 120.7L1084.2 119.1L1085 115.8L1085.8 116.5L1086.5 114.1L1087.2 128.8L1088 119.7L1088.8 115.7L1089.5 114.7L1090.2 118L1091 115.2L1091.8 116.4L1092.5 109.2L1093.2 107.1L1094 110.2L1094.8 111.1L1095.5 109.7L1096.2 109.3L1097 114.5L1097.8 109.3L1098.5 111.7L1099.2 113.3L1100 112.6L1100.8 114.9L1101.5 114.9L1102.2 122.4L1103 128.9L1103.8 133.8L1104.5 130.3L1105.2 133L1106 139.7L1106.8 143.3L1107.5 144.4L1108.2 144.8L1109 140.5L1109.8 140.5L1110.5 140.5L1111.2 142.7L1112 143.2L1112.8 147.3L1113.5 144.9L1114.2 143.7L1115 145.6L1115.8 150.5L1116.5 150.3L1117.2 150.4L1118 150.8L1118.8 151.9L1119.5 147.9L1120.2 153.3L1121 150.6L1121.8 157.7L1122.5 156.5L1123.2 158.3L1124 158.9L1124.8 164L1125.5 165.8L1126.2 166.1L1127 167.6L1127.8 164.3L1128.5 167.2L1129.2 169.5L1130 168.4L1130.8 168.6L1131.5 167.9L1132.2 169.4L1133 165.3L1133.8 168.4L1134.5 170.2L1135.2 170.7L1136 169.6L1136.8 174.3L1137.5 172.3L1138.2 171.3L1139 172L1139.8 161L1140.5 143.4L1141.2 143.5L1142 147.6L1142.8 161.4L1143.5 161.7L1144.2 166.2L1145 168.1L1145.8 157.7L1146.5 157.1L1147.2 154.7L1148 167.5L1148.8 169.3L1149.5 167.1L1150.2 167.1L1151 168.3L1151.8 174.1L1152.5 176.3L1153.2 177.6L1154 182.8L1154.8 178L1155.5 175.5L1156.2 175.7L1157 167.6L1157.8 165.1L1158.5 163.4L1159.2 171.7L1160 167.6L1160.8 165.2L1161.5 162.8L1162.2 169.7L1163 169L1163.8 168.1L1164.5 168.3L1165.2 172.1L1166 167.7L1166.8 163.4L1167.5 169.9L1168.2 165.4L1169 167.5L1169.8 170.9L1170.5 165.7L1171.2 158L1172 154.7L1172.8 168.9L1173.5 161.1L1174.2 162.3L1175 160.4L1175.8 160.1L1176.5 159.9L1177.2 152.6L1178 156.3L1178.8 164.3L1179.5 162.5L1180.2 162.3L1181 164.6L1181.8 164.7L1182.5 158.8L1182.5 141.9Z" fill="#61D04F" stroke="#61D04F" stroke-width="1.2" stroke-linejoin="round"/>
<path d="M840.5 159.6L841.2 193.2L842 186.1L842.8 192.4L843.5 191.4L844.2 190.7L845 194.4L845.8 189.9L846.5 197.7L847.2 188.5L848 186.9L848.8 181.1L849.5 158.1L850.2 164.9L851 167.7L851.8 189.4L852.5 190.6L853.2 185.1L854 188.9L854.8 187.4L855.5 184.5L856.2 180.4L857 182.3L857.8 175.9L858.5 181.5L859.2 195.2L860 192.4L860.8 192.6L861.5 197.4L862.2 199.9L863 207.9L863.8 210.8L864.5 184.7L865.2 182.7L866 179.8L866.8 197.6L867.5 198.8L868.2 201.5L869 205.2L869.8 205.5L870.5 210.1L871.2 206.3L872 215.2L872.8 182.1L873.5 196.4L874.2 191.2L875 204.9L875.8 207.1L876.5 213.9L877.2 209.3L878 191.9L878.8 197.1L879.5 208.9L880.2 208.7L881 209.8L881.8 199L882.5 194.7L883.2 190.2L884 196.4L884.8 192.9L885.5 194.7L886.2 208.9L887 212.1L887.8 214.9L888.5 216.6L889.2 225.3L890 230.1L890.8 226.1L891.5 215.6L892.2 218.2L893 227.8L893.8 232.1L894.5 235.2L895.2 238.1L896 241.8L896.8 239.2L897.5 211.5L898.2 214.2L899 211.6L899.8 239.3L900.5 239.6L901.2 224.3L902 219.7L902.8 205.2L903.5 198.2L904.2 211.2L905 210.5L905.8 219.2L906.5 212L907.2 219.2L908 185.4L908.8 196.1L909.5 194.7L910.2 193.1L911 170.6L911.8 159.3L912.5 180L913.2 167.1L914 154.7L914.8 150.4L915.5 168.8L916.2 155.6L917 152.8L917.8 146.3L918.5 149.2L919.2 150.6L920 143.4L920.8 144.2L921.5 164L922.2 160.1L923 170.9L923.8 171.2L924.5 155.2L925.2 157.8L926 160L926.8 156.5L927.5 157.2L928.2 148.6L929 150.8L929.8 155.8L930.5 160.5L931.2 161.1L932 155L932.8 157.4L933.5 152.4L934.2 153.2L935 145.9L935.8 143.4L936.5 161.5L937.2 169L938 170.8L938.8 167.5L939.5 172.7L940.2 157.2L941 175.5L941.8 160.9L942.5 165.3L943.2 162.7L944 162.9L944.8 151.2L945.5 145.7L946.2 135.8L947 139.9L947.8 131.6L948.5 133.5L949.2 126.4L950 132.5L950.8 130.6L951.5 127L952.2 122.8L953 125.1L953.8 127.5L954.5 124.9L955.2 132.9L956 129.2L956.8 131L957.5 131.7L958.2 134.3L959 123.3L959.8 127.5L960.5 125.5L961.2 130.8L962 144.4L962.8 148.8L963.5 158.6L964.2 168.6L965 167.1L965.8 163.2L966.5 156.2L967.2 160.1L968 145.7L968.8 153.5L969.5 169L970.2 164.5L971 166.4L971.8 171.7L972.5 169.9L973.2 171.3L974 167L974.8 169L975.5 174.8L976.2 173.8L977 176.8L977.8 172L978.5 152.9L979.2 158.3L980 158.8L980.8 154.9L981.5 151.5L982.2 157.1L983 160.1L983.8 150.7L984.5 170L985.2 175.3L986 174L986.8 175.6L987.5 187.5L988.2 184.9L989 175.3L989.8 168.7L990.5 170.5L991.2 166.5L992 156.5L992.8 143.4L993.5 143.4L994.2 148.7L995 150.1L995.8 150.3L996.5 154.3L997.2 160L998 158.6L998.8 143.4L999.5 143.4L1000.2 153.6L1001 158.7L1001.8 157.7L1002.5 156.5L1003.2 148.1L1004 153.3L1004.8 155.4L1005.5 157.6L1006.2 167.4L1007 169.4L1007.8 150.3L1008.5 159.8L1009.2 158.9L1010 173.4L1010.8 161.4L1011.5 161.1L1012.2 158.3L1013 160.6L1013.8 163L1014.5 166L1015.2 143.4L1016 146.5L1016.8 171.5L1017.5 164.6L1018.2 160.8L1019 164.6L1019.8 143.4L1020.5 145.2L1021.2 174.9L1022 179.1L1022.8 180.3L1023.5 187.1L1024.2 190.2L1025 163.4L1025.8 179.8L1026.5 187.8L1027.2 190.8L1028 195.5L1028.8 195.2L1029.5 195.9L1030.2 190.1L1031 196.8L1031.8 198.9L1032.5 195.1L1033.2 204.7L1034 203.3L1034.8 201.8L1035.5 208.7L1036.2 197.6L1037 190.4L1037.8 194.8L1038.5 173.5L1039.2 184L1040 188.5L1040.8 177.7L1041.5 184.6L1042.2 178.8L1043 173.6L1043.8 173.8L1044.5 178.5L1045.2 157.9L1046 164L1046.8 169.3L1047.5 177.8L1048.2 174.9L1049 180L1049.8 193.9L1050.5 195.5L1051.2 199.6L1052 176.6L1052.8 174.5L1053.5 181.1L1054.2 186.2L1055 178.1L1055.8 183.8L1056.5 183.3L1057.2 185.2L1058 183.7L1058.8 180.7L1059.5 184.1L1060.2 185.8L1061 187.7L1061.8 181.7L1062.5 166.8L1063.2 179.8L1064 162.2L1064.8 169.3L1065.5 166.7L1066.2 172.4L1067 195.9L1067.8 188.7L1068.5 188.3L1069.2 192.7L1070 202.5L1070.8 195.2L1071.5 201L1072.2 181.1L1073 187.3L1073.8 159.7L1074.5 158.3L1075.2 154.5L1076 170.8L1076.8 182L1077.5 169.3L1078.2 165.5L1079 166.2L1079.8 164.7L1080.5 171.5L1081.2 176.6L1082 184.7L1082.8 178.8L1083.5 181.1L1084.2 156.8L1085 166.6L1085.8 168.1L1086.5 172.7L1087.2 165.2L1088 144.7L1088.8 150.7L1089.5 148.3L1090.2 143.4L1091 153.1L1091.8 155.3L1092.5 157.7L1093.2 165.4L1094 149L1094.8 166.9L1095.5 167.5L1096.2 174L1097 173.1L1097.8 182.5L1098.5 178.7L1099.2 172.9L1100 186.1L1100.8 186.6L1101.5 193.8L1102.2 184.4L1103 173.2L1103.8 178.9L1104.5 186.6L1105.2 184.2L1106 201.2L1106.8 193.3L1107.5 175.5L1108.2 177.5L1109 180.9L1109.8 184.9L1110.5 197.8L1111.2 201.1L1112 197.7L1112.8 204L1113.5 207.5L1114.2 186.4L1115 198L1115.8 199.8L1116.5 209.6L1117.2 208.1L1118 207.5L1118.8 198.4L1119.5 199.5L1120.2 185.4L1121 185.3L1121.8 204.8L1122.5 190L1123.2 188.2L1124 201L1124.8 194.3L1125.5 185.8L1126.2 181.5L1127 187L1127.8 178.9L1128.5 178.2L1129.2 177L1130 176.1L1130.8 179.7L1131.5 166.9L1132.2 164.4L1133 176.4L1133.8 174.1L1134.5 168.5L1135.2 143.4L1136 143.5L1136.8 135L1137.5 123.1L1138.2 118.7L1139 112.3L1139.8 100.7L1140.5 106.3L1141.2 110L1142 116.3L1142.8 114.6L1143.5 125.8L1144.2 128L1145 120L1145.8 123.4L1146.5 123.4L1147.2 137.2L1148 140.5L1148.8 140.5L1149.5 128.2L1150.2 126.5L1151 117.5L1151.8 118.1L1152.5 106.7L1153.2 109.8L1154 97.8L1154.8 107.1L1155.5 112.2L1156.2 108.7L1157 119.7L1157.8 125.9L1158.5 134.7L1159.2 140.5L1160 140.5L1160.8 140.5L1161.5 145.8L1162.2 143.4L1163 144.2L1163.8 143.4L1164.5 143.4L1165.2 143.4L1166 143.4L1166.8 161.5L1167.5 169L1168.2 162.3L1169 157.4L1169.8 167.8L1170.5 168.3L1171.2 171.9L1172 167.1L1172.8 164.6L1173.5 168.2L1174.2 165.1L1175 170.5L1175.8 179.4L1176.5 167.1L1177.2 175L1178 151.7L1178.8 167.4L1179.5 164.5L1180.2 156.8L1181 151.7L1181.8 175.6L1182.5 167.1" fill="none" stroke="#DF536B" stroke-width="1.3" stroke-linejoin="round"/>
<path d="M840.5 137.4L841.2 141.3L842 136.4L842.8 138.9L843.5 134L844.2 137.5L845 138.3L845.8 138.8L846.5 138.2L847.2 134.2L848 136.2L848.8 137.4L849.5 142.4L850.2 141.7L851 135.4L851.8 133L852.5 136.7L853.2 139.5L854 136.1L854.8 136.1L855.5 138.3L856.2 136.5L857 128.8L857.8 123.9L858.5 123.7L859.2 117L860 117.4L860.8 119.9L861.5 120.7L862.2 121.1L863 123L863.8 121.3L864.5 131L865.2 132.8L866 132.6L866.8 128.9L867.5 128.1L868.2 129.5L869 136.6L869.8 136.3L870.5 133.5L871.2 138.9L872 130.6L872.8 128.8L873.5 126L874.2 137.7L875 140.5L875.8 138L876.5 126.2L877.2 124.3L878 121.3L878.8 120.4L879.5 120.2L880.2 123.3L881 130.2L881.8 133.4L882.5 135.2L883.2 127.1L884 131.4L884.8 131.8L885.5 131.7L886.2 131.4L887 138.1L887.8 137.4L888.5 144.6L889.2 143.4L890 147.7L890.8 141.6L891.5 141.3L892.2 146.8L893 150.3L893.8 151.6L894.5 150.9L895.2 155.2L896 155.8L896.8 151.4L897.5 150.2L898.2 144.2L899 157.5L899.8 154.9L900.5 158.4L901.2 165.3L902 168.1L902.8 170.6L903.5 167.6L904.2 171.2L905 172.1L905.8 177.3L906.5 181.3L907.2 184.9L908 185.4L908.8 188.4L909.5 193.8L910.2 202.2L911 205.8L911.8 204.5L912.5 203.7L913.2 204.6L914 203.1L914.8 206.6L915.5 203.8L916.2 192.5L917 193L917.8 195.3L918.5 189.9L919.2 193.4L920 192.1L920.8 191.7L921.5 191.1L922.2 193L923 192L923.8 190.6L924.5 192L925.2 193L926 200.4L926.8 189.2L927.5 185.1L928.2 179.6L929 184.4L929.8 185.5L930.5 188.7L931.2 188.8L932 197L932.8 194.2L933.5 192.4L934.2 194.2L935 198.3L935.8 196.4L936.5 198.2L937.2 197.5L938 201.4L938.8 203.4L939.5 204.9L940.2 211.2L941 213.7L941.8 213L942.5 212.1L943.2 214.7L944 218.8L944.8 212.7L945.5 210.3L946.2 207.7L947 203.7L947.8 202.3L948.5 199.3L949.2 202.2L950 186.8L950.8 190.2L951.5 185.7L952.2 190.9L953 189.1L953.8 189.5L954.5 186.4L955.2 172.2L956 172.6L956.8 170.7L957.5 181.3L958.2 178.8L959 171.8L959.8 163L960.5 164L961.2 160.9L962 165.1L962.8 166.9L963.5 161.2L964.2 156.4L965 156L965.8 160.2L966.5 160.6L967.2 161L968 159.8L968.8 158.8L969.5 156.7L970.2 155.8L971 149.9L971.8 148L972.5 146.2L973.2 147.7L974 139.9L974.8 133.7L975.5 139L976.2 135.5L977 133.7L977.8 131L978.5 130.8L979.2 128.9L980 122.7L980.8 122.2L981.5 126.3L982.2 126.7L983 128.2L983.8 129L984.5 128L985.2 134.5L986 128.8L986.8 128.5L987.5 126L988.2 127L989 130L989.8 133.2L990.5 128.3L991.2 123.1L992 122.2L992.8 135.2L993.5 132.7L994.2 132.4L995 127.7L995.8 128.1L996.5 121.9L997.2 130.4L998 133.1L998.8 133L999.5 133.7L1000.2 135.4L1001 134.5L1001.8 131.6L1002.5 133.4L1003.2 136.2L1004 136.1L1004.8 135.4L1005.5 136.6L1006.2 135.1L1007 134.2L1007.8 135.3L1008.5 133.5L1009.2 131.1L1010 125.5L1010.8 125.5L1011.5 121L1012.2 118.8L1013 122.4L1013.8 123.1L1014.5 139.2L1015.2 128.2L1016 129.1L1016.8 121.6L1017.5 126.9L1018.2 139.7L1019 139.6L1019.8 140.5L1020.5 128.8L1021.2 137.4L1022 135.5L1022.8 136.4L1023.5 135.3L1024.2 134.6L1025 136.4L1025.8 140.5L1026.5 140.5L1027.2 140.5L1028 136.9L1028.8 140.2L1029.5 137.4L1030.2 139.9L1031 143.5L1031.8 141.8L1032.5 137.7L1033.2 147L1034 145.3L1034.8 143.8L1035.5 143.8L1036.2 138.9L1037 134.8L1037.8 138.2L1038.5 138.6L1039.2 138L1040 133.3L1040.8 133.7L1041.5 140.1L1042.2 135.4L1043 135.1L1043.8 134L1044.5 135.9L1045.2 135L1046 129.4L1046.8 132.1L1047.5 138.7L1048.2 138.3L1049 134.9L1049.8 128.7L1050.5 132.8L1051.2 131.9L1052 140.5L1052.8 127.8L1053.5 131L1054.2 124.6L1055 126.2L1055.8 131.3L1056.5 135.1L1057.2 130.1L1058 132.9L1058.8 130.1L1059.5 140.1L1060.2 138.6L1061 121.9L1061.8 135.9L1062.5 133.8L1063.2 138L1064 125L1064.8 130.4L1065.5 133.6L1066.2 133.8L1067 128.8L1067.8 129.7L1068.5 130.3L1069.2 123L1070 128.2L1070.8 121.5L1071.5 126.4L1072.2 136.3L1073 136.1L1073.8 124.2L1074.5 122.4L1075.2 120.2L1076 122.3L1076.8 115.7L1077.5 116.3L1078.2 118.7L1079 119.2L1079.8 120.4L1080.5 116.8L1081.2 132.4L1082 133.8L1082.8 121.2L1083.5 120.7L1084.2 119.1L1085 115.8L1085.8 116.5L1086.5 114.1L1087.2 128.8L1088 119.7L1088.8 115.7L1089.5 114.7L1090.2 118L1091 115.2L1091.8 116.4L1092.5 109.2L1093.2 107.1L1094 110.2L1094.8 111.1L1095.5 109.7L1096.2 109.3L1097 114.5L1097.8 109.3L1098.5 111.7L1099.2 113.3L1100 112.6L1100.8 114.9L1101.5 114.9L1102.2 122.4L1103 128.9L1103.8 133.8L1104.5 130.3L1105.2 133L1106 139.7L1106.8 143.3L1107.5 144.4L1108.2 144.8L1109 140.5L1109.8 140.5L1110.5 140.5L1111.2 142.7L1112 143.2L1112.8 147.3L1113.5 144.9L1114.2 143.7L1115 145.6L1115.8 150.5L1116.5 150.3L1117.2 150.4L1118 150.8L1118.8 151.9L1119.5 147.9L1120.2 153.3L1121 150.6L1121.8 157.7L1122.5 156.5L1123.2 158.3L1124 158.9L1124.8 164L1125.5 165.8L1126.2 166.1L1127 167.6L1127.8 164.3L1128.5 167.2L1129.2 169.5L1130 168.4L1130.8 168.6L1131.5 167.9L1132.2 169.4L1133 165.3L1133.8 168.4L1134.5 170.2L1135.2 170.7L1136 169.6L1136.8 174.3L1137.5 172.3L1138.2 171.3L1139 172L1139.8 161L1140.5 143.4L1141.2 143.5L1142 147.6L1142.8 161.4L1143.5 161.7L1144.2 166.2L1145 168.1L1145.8 157.7L1146.5 157.1L1147.2 154.7L1148 167.5L1148.8 169.3L1149.5 167.1L1150.2 167.1L1151 168.3L1151.8 174.1L1152.5 176.3L1153.2 177.6L1154 182.8L1154.8 178L1155.5 175.5L1156.2 175.7L1157 167.6L1157.8 165.1L1158.5 163.4L1159.2 171.7L1160 167.6L1160.8 165.2L1161.5 162.8L1162.2 169.7L1163 169L1163.8 168.1L1164.5 168.3L1165.2 172.1L1166 167.7L1166.8 163.4L1167.5 169.9L1168.2 165.4L1169 167.5L1169.8 170.9L1170.5 165.7L1171.2 158L1172 154.7L1172.8 168.9L1173.5 161.1L1174.2 162.3L1175 160.4L1175.8 160.1L1176.5 159.9L1177.2 152.6L1178 156.3L1178.8 164.3L1179.5 162.5L1180.2 162.3L1181 164.6L1181.8 164.7L1182.5 158.8" fill="none" stroke="#61D04F" stroke-width="1.3" stroke-linejoin="round"/>
<path d="M840.5 179.6L841.2 184.3L842 184.5L842.8 175.5L843.5 186.3L844.2 191.5L845 192.1L845.8 198.8L846.5 196.5L847.2 192L848 185.2L848.8 188.1L849.5 191.6L850.2 191.9L851 190.6L851.8 186.7L852.5 195.2L853.2 195.1L854 191.9L854.8 197.4L855.5 192L856.2 184.3L857 175.6L857.8 175L858.5 175.7L859.2 177.9L860 175.2L860.8 178.1L861.5 181.9L862.2 188.6L863 193.2L863.8 186L864.5 179L865.2 180.4L866 187.5L866.8 184.3L867.5 185.5L868.2 184.6L869 191.8L869.8 187.1L870.5 200.7L871.2 194.2L872 195.9L872.8 203.4L873.5 196.3L874.2 191.6L875 196.2L875.8 200.1L876.5 194.7L877.2 198L878 209.7L878.8 205.8L879.5 202L880.2 190.3L881 194.3L881.8 182.8L882.5 180.9L883.2 184.4L884 186.6L884.8 182.5L885.5 192.3L886.2 195.8L887 196.7L887.8 214.3L888.5 206.4L889.2 210L890 214.9L890.8 217.8L891.5 222.4L892.2 227L893 218.1L893.8 222L894.5 228.3L895.2 231.6L896 228.1L896.8 230L897.5 220.6L898.2 234.4L899 232L899.8 241.8L900.5 237.3L901.2 229.4L902 230.5L902.8 229.3L903.5 229.1L904.2 237.6L905 235.3L905.8 233.6L906.5 234.8L907.2 228.2L908 226.6L908.8 233.4L909.5 236.7L910.2 235.7L911 230.1L911.8 226.8L912.5 231.4L913.2 233.4L914 239.6L914.8 223.2L915.5 229.6L916.2 222.2L917 215.8L917.8 207.7L918.5 215.5L919.2 221.6L920 213.2L920.8 227.1L921.5 231.5L922.2 238L923 225.3L923.8 232L924.5 233.5L925.2 229.9L926 216.3L926.8 216.3L927.5 221.2L928.2 224.8L929 228.2L929.8 235.8L930.5 231.6L931.2 231.3L932 230L932.8 221.8L933.5 229L934.2 228.3L935 234.2L935.8 228.8L936.5 231.2L937.2 231.3L938 241.3L938.8 243.4L939.5 244.9L940.2 245.7L941 245.9L941.8 231.2L942.5 226.7L943.2 231.3L944 230.7L944.8 221.6L945.5 219.1L946.2 215.2L947 212.5L947.8 204.7L948.5 196.6L949.2 202.5L950 205.5L950.8 195.7L951.5 188.2L952.2 189.6L953 181L953.8 191.7L954.5 188L955.2 190.1L956 187.2L956.8 185.3L957.5 185.6L958.2 181.4L959 180.8L959.8 179.1L960.5 167.9L961.2 167.3L962 170.8L962.8 167.2L963.5 170.8L964.2 165.1L965 165.6L965.8 173.3L966.5 171.1L967.2 166.9L968 170.3L968.8 169L969.5 182.8L970.2 180.7L971 181.3L971.8 183.2L972.5 182.2L973.2 175L974 175.4L974.8 178.4L975.5 175.5L976.2 171.5L977 163.7L977.8 160.2L978.5 156.9L979.2 163.1L980 156.9L980.8 159.7L981.5 162L982.2 152.3L983 154L983.8 150.2L984.5 147.6L985.2 144.8L986 139.9L986.8 141.6L987.5 143.7L988.2 152.4L989 148.7L989.8 149.6L990.5 153L991.2 140.3L992 144.1L992.8 147.9L993.5 146.3L994.2 148.4L995 142.7L995.8 151.5L996.5 149.1L997.2 145.8L998 150.7L998.8 148.6L999.5 148.2L1000.2 143.7L1001 142.6L1001.8 156.3L1002.5 156.6L1003.2 156.9L1004 148.1L1004.8 149.8L1005.5 144.2L1006.2 145.7L1007 145.1L1007.8 137.1L1008.5 144.9L1009.2 144.4L1010 139L1010.8 140.6L1011.5 141.9L1012.2 149L1013 140.4L1013.8 136.9L1014.5 142.9L1015.2 138.4L1016 151.8L1016.8 154.6L1017.5 155.9L1018.2 154.1L1019 162.6L1019.8 159.5L1020.5 165.8L1021.2 179L1022 183.4L1022.8 181.7L1023.5 182L1024.2 186.6L1025 186.9L1025.8 181.1L1026.5 184.9L1027.2 189.6L1028 184.9L1028.8 177.2L1029.5 187.3L1030.2 189L1031 187.7L1031.8 186.9L1032.5 199.9L1033.2 188.8L1034 195.9L1034.8 191.3L1035.5 193.2L1036.2 186.4L1037 182.6L1037.8 179.8L1038.5 173.8L1039.2 172.8L1040 160.6L1040.8 154.3L1041.5 152.8L1042.2 155.8L1043 156.1L1043.8 156.2L1044.5 161.7L1045.2 158L1046 167.1L1046.8 166.2L1047.5 164.8L1048.2 171.9L1049 174.9L1049.8 184.4L1050.5 180.2L1051.2 173.6L1052 176.8L1052.8 180.5L1053.5 179.4L1054.2 179.6L1055 180.7L1055.8 171.6L1056.5 175.6L1057.2 180.1L1058 180.6L1058.8 182.7L1059.5 174.9L1060.2 168.8L1061 162.1L1061.8 160.5L1062.5 170.7L1063.2 173.9L1064 170.2L1064.8 168.2L1065.5 170.4L1066.2 164.3L1067 173.9L1067.8 170.8L1068.5 188.3L1069.2 182.5L1070 188.5L1070.8 181.2L1071.5 177.8L1072.2 170L1073 162.1L1073.8 164.6L1074.5 154.6L1075.2 154.6L1076 147.2L1076.8 145.8L1077.5 142.4L1078.2 144.7L1079 148.7L1079.8 153.8L1080.5 153.4L1081.2 158.6L1082 164.4L1082.8 158.4L1083.5 149.7L1084.2 155.5L1085 155.4L1085.8 157.4L1086.5 144.5L1087.2 149.2L1088 143.8L1088.8 138.5L1089.5 127.6L1090.2 124.7L1091 132.8L1091.8 139.7L1092.5 138.9L1093.2 144.3L1094 143.4L1094.8 149.5L1095.5 149.4L1096.2 147.4L1097 151.4L1097.8 144.2L1098.5 154.5L1099.2 164.3L1100 172.4L1100.8 165.4L1101.5 155.8L1102.2 159.5L1103 146.7L1103.8 154.3L1104.5 155.2L1105.2 162.5L1106 152.6L1106.8 158.5L1107.5 166.3L1108.2 170.3L1109 181.4L1109.8 192.2L1110.5 194.6L1111.2 191.2L1112 195L1112.8 201.1L1113.5 202.2L1114.2 191.3L1115 202.4L1115.8 198.9L1116.5 212.7L1117.2 224.1L1118 221.5L1118.8 218.1L1119.5 219.4L1120.2 226.1L1121 218.7L1121.8 212L1122.5 211.5L1123.2 214.6L1124 216.6L1124.8 198.6L1125.5 208.1L1126.2 203.5L1127 205.4L1127.8 202.2L1128.5 201.6L1129.2 210.5L1130 214L1130.8 208.8L1131.5 207.2L1132.2 197.9L1133 207.1L1133.8 202.7L1134.5 186.9L1135.2 183.4L1136 173L1136.8 163.8L1137.5 164.2L1138.2 168.3L1139 163.7L1139.8 149.1L1140.5 133L1141.2 133.3L1142 138.5L1142.8 141.3L1143.5 154L1144.2 154.6L1145 162.1L1145.8 149L1146.5 147.5L1147.2 145.6L1148 144.8L1148.8 151.9L1149.5 143L1150.2 144.8L1151 138.2L1151.8 151.8L1152.5 151.9L1153.2 148.2L1154 142.5L1154.8 145L1155.5 152.2L1156.2 153L1157 161.7L1157.8 160.1L1158.5 163.8L1159.2 164.7L1160 169.7L1160.8 174.9L1161.5 175.2L1162.2 175.5L1163 183.4L1163.8 185.9L1164.5 195.8L1165.2 197.3L1166 199.8L1166.8 197.2L1167.5 184.2L1168.2 196.4L1169 198.1L1169.8 191.5L1170.5 194.9L1171.2 195.4L1172 194L1172.8 190.4L1173.5 194.2L1174.2 188L1175 188L1175.8 192.3L1176.5 187.2L1177.2 196.1L1178 197.8L1178.8 189.8L1179.5 191L1180.2 190.9L1181 187.7L1181.8 185.7L1182.5 190.6" fill="none" stroke="#000" stroke-width="1.3" stroke-linejoin="round"/>
</g>
<line x1="840.5" x2="1182.5" y1="141.9" y2="141.9" stroke="#000" stroke-width="1.8" stroke-dasharray="2.3 4.1"/>
<rect x="854.0" y="36.5" width="13" height="10.5" fill="#000" stroke="#000" stroke-width="1.2"/>
<text x="879.5" y="49.6" font-size="16" fill="#000" stroke="#000" stroke-width="0.3" textLength="36.5" lengthAdjust="spacingAndGlyphs">Total</text>
<rect x="854.0" y="56.9" width="13" height="10.5" fill="#DF536B" stroke="#000" stroke-width="1.2"/>
<text x="879.5" y="69.4" font-size="16" fill="#000" stroke="#000" stroke-width="0.3" textLength="23.5" lengthAdjust="spacingAndGlyphs">1-5</text>
<rect x="854.0" y="77.3" width="13" height="10.5" fill="#61D04F" stroke="#000" stroke-width="1.2"/>
<text x="879.5" y="89.2" font-size="16" fill="#000" stroke="#000" stroke-width="0.3" textLength="35.2" lengthAdjust="spacingAndGlyphs">5-Inf</text>
<rect x="840.5" y="22.5" width="342" height="215.0" fill="none" stroke="#000" stroke-width="1.6"/>
<line x1="835" x2="840.5" y1="46.4" y2="46.4" stroke="#000" stroke-width="1.2"/>
<text x="831" y="53.7" font-size="16" text-anchor="end" fill="#000" stroke="#000" stroke-width="0.3">20</text>
<line x1="835" x2="840.5" y1="94.2" y2="94.2" stroke="#000" stroke-width="1.2"/>
<text x="831" y="101.5" font-size="16" text-anchor="end" fill="#000" stroke="#000" stroke-width="0.3">10</text>
<line x1="835" x2="840.5" y1="141.9" y2="141.9" stroke="#000" stroke-width="1.2"/>
<text x="831" y="149.2" font-size="16" text-anchor="end" fill="#000" stroke="#000" stroke-width="0.3">0</text>
<line x1="835" x2="840.5" y1="189.7" y2="189.7" stroke="#000" stroke-width="1.2"/>
<text x="831" y="197" font-size="16" text-anchor="end" fill="#000" stroke="#000" stroke-width="0.3">-10</text>
<line x1="835" x2="840.5" y1="237.5" y2="237.5" stroke="#000" stroke-width="1.2"/>
<text x="831" y="244.8" font-size="16" text-anchor="end" fill="#000" stroke="#000" stroke-width="0.3">-20</text>
<line x1="990.6" x2="990.6" y1="237.5" y2="242.5" stroke="#000" stroke-width="1.2"/>
<text x="990.1" y="261" font-size="16" text-anchor="middle" fill="#000" stroke="#000" stroke-width="0.3" textLength="37" lengthAdjust="spacingAndGlyphs">2023</text>
<line x1="1180.6" x2="1180.6" y1="237.5" y2="242.5" stroke="#000" stroke-width="1.2"/>
<text x="1180.1" y="261" font-size="16" text-anchor="middle" fill="#000" stroke="#000" stroke-width="0.3" textLength="37" lengthAdjust="spacingAndGlyphs">2024</text>
<text transform="translate(1010 16.6) scale(1 1.18)" x="0" y="0" font-size="19.2" font-weight="bold" text-anchor="middle" fill="#000" textLength="46.5" lengthAdjust="spacingAndGlyphs">Gold</text>
<clipPath id="c10"><rect x="35.5" y="297.5" width="342" height="215.0"/></clipPath>
<g stroke="#D3D3D3" stroke-width="1.5" stroke-dasharray="7 5.5"><line x1="35.5" x2="377.5" y1="321.4" y2="321.4"/><line x1="35.5" x2="377.5" y1="369.2" y2="369.2"/><line x1="35.5" x2="377.5" y1="464.7" y2="464.7"/></g>
<g clip-path="url(#c10)" shape-rendering="crispEdges">
<path d="M35.5 416.9L35.5 322.6L36.2 321.5L37 345.9L37.8 344.8L38.5 318.3L39.2 324.1L40 317.9L40.8 316.9L41.5 318.1L42.2 316.6L43 314.1L43.8 318.8L44.5 320.5L45.2 328.2L46 321L46.8 317.6L47.5 320.9L48.2 317.5L49 321.9L49.8 323.9L50.5 317.5L51.2 317.1L52 316.1L52.8 327.1L53.5 319.8L54.2 302.8L55 299.7L55.8 295.1L56.5 290.3L57.2 293.9L58 306.9L58.8 316L59.5 318L60.2 321.1L61 315.3L61.8 306.2L62.5 330L63.2 338.9L64 334.1L64.8 322.8L65.5 333.7L66.2 341.6L67 319L67.8 313.8L68.5 316.8L69.2 314L70 322.1L70.8 323.7L71.5 327L72.2 330.7L73 328.5L73.8 341.7L74.5 343.6L75.2 341.6L76 325.3L76.8 320.5L77.5 323.9L78.2 314.3L79 308.8L79.8 309L80.5 304.1L81.2 305.7L82 300.9L82.8 299.6L83.5 301.8L84.2 296.3L85 297.6L85.8 299.6L86.5 311.6L87.2 316.4L88 299.5L88.8 285.8L89.5 286L90.2 285L91 279.1L91.8 292L92.5 290.2L93.2 283.1L94 284.9L94.8 298.4L95.5 293.8L96.2 301.9L97 301.5L97.8 297.7L98.5 305.3L99.2 302.1L100 301.5L100.8 300.4L101.5 300.2L102.2 308.3L103 314L103.8 315.2L104.5 308.2L105.2 306.7L106 308.1L106.8 303.9L107.5 308.9L108.2 303.6L109 294L109.8 293.7L110.5 280.3L111.2 295.6L112 288.8L112.8 296.2L113.5 310.5L114.2 306.8L115 317.5L115.8 306.5L116.5 302.6L117.2 297.8L118 296.9L118.8 295.8L119.5 294.7L120.2 297.6L121 287.1L121.8 284.1L122.5 277.2L123.2 283.4L124 285.2L124.8 277.1L125.5 276.4L126.2 281.8L127 287.5L127.8 276.4L128.5 290.6L129.2 281.6L130 279.2L130.8 290.5L131.5 296.4L132.2 294L133 285.5L133.8 278.6L134.5 287.7L135.2 278.6L136 277.1L136.8 276.4L137.5 280.2L138.2 284.8L139 281.4L139.8 286.1L140.5 287.7L141.2 278L142 285.1L142.8 296L143.5 290.7L144.2 286L145 280.8L145.8 278.8L146.5 287.6L147.2 280.8L148 285.4L148.8 277.4L149.5 278L150.2 291.5L151 308.4L151.8 314.4L152.5 296L153.2 292.6L154 299.5L154.8 300.9L155.5 302.1L156.2 302.7L157 292.7L157.8 279.6L158.5 283.1L159.2 301.7L160 309L160.8 276.4L161.5 291.7L162.2 288.5L163 291.5L163.8 287L164.5 287.6L165.2 282L166 287.6L166.8 284.3L167.5 291.4L168.2 278.8L169 277.1L169.8 289.1L170.5 278.4L171.2 283L172 296.7L172.8 296.1L173.5 297.3L174.2 292.5L175 290.6L175.8 289.3L176.5 293.9L177.2 290.5L178 288.5L178.8 280L179.5 299.8L180.2 307.7L181 313.6L181.8 292.5L182.5 304.5L183.2 309.4L184 312.2L184.8 311.9L185.5 296L186.2 299.5L187 296.7L187.8 311.4L188.5 317.1L189.2 283.8L190 299.5L190.8 288.6L191.5 286.6L192.2 281.1L193 289.6L193.8 288.8L194.5 291.9L195.2 285.5L196 278.6L196.8 276.4L197.5 283.8L198.2 283.7L199 279.2L199.8 281L200.5 284L201.2 303.9L202 307.5L202.8 307.4L203.5 311.7L204.2 313.3L205 308.8L205.8 300.2L206.5 288.7L207.2 295.7L208 288.1L208.8 288.3L209.5 290.2L210.2 290.5L211 306.1L211.8 293.8L212.5 292.6L213.2 286.5L214 282.3L214.8 276.6L215.5 290.5L216.2 288.3L217 287.3L217.8 284.5L218.5 288.8L219.2 294.8L220 287.1L220.8 280.4L221.5 281.2L222.2 304.5L223 314.4L223.8 319.8L224.5 329L225.2 322.8L226 316.5L226.8 289.6L227.5 283.2L228.2 283.2L229 288.5L229.8 285.2L230.5 289.2L231.2 287.1L232 303.1L232.8 296.4L233.5 316.6L234.2 311.7L235 317.2L235.8 328.3L236.5 338.1L237.2 353.9L238 352.5L238.8 352.8L239.5 353.6L240.2 359.8L241 375.3L241.8 377.1L242.5 362.9L243.2 352.6L244 344.9L244.8 346.1L245.5 343.5L246.2 353.9L247 367.3L247.8 348.9L248.5 340.2L249.2 345.2L250 344.7L250.8 348.2L251.5 349.4L252.2 344.7L253 355.5L253.8 362.3L254.5 339.9L255.2 337L256 325L256.8 329.1L257.5 326L258.2 312L259 295.2L259.8 290.9L260.5 306.7L261.2 310.4L262 284.8L262.8 303.4L263.5 314.8L264.2 307.4L265 287L265.8 284.6L266.5 291.5L267.2 293.7L268 298.4L268.8 292.6L269.5 292.8L270.2 277.9L271 289L271.8 282.2L272.5 281.5L273.2 290.4L274 300.5L274.8 296.7L275.5 313.2L276.2 309.2L277 305.9L277.8 305.2L278.5 309.2L279.2 308.6L280 320.2L280.8 322.5L281.5 311.7L282.2 300.8L283 302.4L283.8 313.9L284.5 316.5L285.2 325.7L286 327.6L286.8 334.8L287.5 348.8L288.2 328.2L289 354.7L289.8 328.8L290.5 324L291.2 310.5L292 299.6L292.8 290L293.5 279.7L294.2 291.1L295 284.6L295.8 296.3L296.5 276.4L297.2 277.9L298 278.9L298.8 278.2L299.5 276.4L300.2 285L301 288L301.8 288L302.5 293.5L303.2 287.9L304 283.7L304.8 286.6L305.5 280.4L306.2 276.4L307 300.6L307.8 305.5L308.5 304.1L309.2 291L310 295.2L310.8 299.7L311.5 300.2L312.2 303.4L313 302.7L313.8 304.3L314.5 321.5L315.2 312.3L316 317.1L316.8 314.4L317.5 327.8L318.2 320.4L319 307.7L319.8 313.3L320.5 310L321.2 316.7L322 329.5L322.8 335.3L323.5 321.6L324.2 322.4L325 321.1L325.8 332.6L326.5 334.4L327.2 323.4L328 323L328.8 324.2L329.5 320L330.2 324.1L331 324.4L331.8 331.9L332.5 332L333.2 335.5L334 331L334.8 330.6L335.5 326.3L336.2 347L337 352.5L337.8 339.3L338.5 330.2L339.2 321.6L340 335.7L340.8 329.6L341.5 328.1L342.2 335.9L343 319L343.8 322.3L344.5 321L345.2 310.3L346 313.1L346.8 306.2L347.5 301.6L348.2 302.1L349 307.6L349.8 328.9L350.5 306L351.2 314.9L352 326.3L352.8 321L353.5 323.9L354.2 320L355 329.5L355.8 322.9L356.5 347.8L357.2 341.5L358 332.9L358.8 329.2L359.5 313.5L360.2 314L361 328.7L361.8 343.2L362.5 331.5L363.2 313.5L364 313.5L364.8 307.4L365.5 306.5L366.2 306.6L367 308.5L367.8 327.5L368.5 341.8L369.2 347.1L370 335.2L370.8 328.4L371.5 331.3L372.2 337.4L373 331.7L373.8 340L374.5 340.2L375.2 334.9L376 343.4L376.8 339.5L377.5 341.3L377.5 416.9Z" fill="#000" stroke="#000" stroke-width="1.2" stroke-linejoin="round"/>
<path d="M35.5 416.9L35.5 356.8L36.2 355.7L37 355.9L37.8 335.2L38.5 342.7L39.2 345.5L40 342.5L40.8 339.9L41.5 354.1L42.2 344.9L43 329.9L43.8 354L44.5 347.8L45.2 349.9L46 351.1L46.8 358.9L47.5 351.7L48.2 352.3L49 328.7L49.8 339L50.5 330.7L51.2 338.2L52 338.8L52.8 339.7L53.5 332.2L54.2 336.1L55 327.7L55.8 328.5L56.5 326L57.2 347.6L58 342.1L58.8 328.8L59.5 324.4L60.2 323L61 353.5L61.8 351.1L62.5 328L63.2 346.6L64 342.7L64.8 336L65.5 334.6L66.2 338.4L67 339L67.8 336L68.5 331.7L69.2 319.7L70 321L70.8 339.8L71.5 344.1L72.2 332.7L73 331.9L73.8 329L74.5 326.6L75.2 325.8L76 319.1L76.8 317.1L77.5 323.8L78.2 353.8L79 324.8L79.8 325.6L80.5 322.1L81.2 326.2L82 329L82.8 315.7L83.5 319.4L84.2 317.2L85 335.7L85.8 323.7L86.5 320.4L87.2 320.4L88 319.8L88.8 317L89.5 315.2L90.2 314.6L91 314.3L91.8 318L92.5 326.6L93.2 322.5L94 316.3L94.8 337L95.5 340.9L96.2 320L97 342.9L97.8 338.2L98.5 332.5L99.2 321.1L100 322.2L100.8 324.9L101.5 331.7L102.2 325.8L103 336.3L103.8 334.3L104.5 337.2L105.2 326.7L106 339.3L106.8 321.6L107.5 324.3L108.2 329.3L109 330.6L109.8 334.4L110.5 343.1L111.2 324L112 335.4L112.8 322.6L113.5 330.8L114.2 334.5L115 325.4L115.8 322.8L116.5 325L117.2 322.9L118 325.7L118.8 320.9L119.5 329L120.2 314.7L121 322.1L121.8 323.6L122.5 351.1L123.2 348.7L124 343.7L124.8 324.3L125.5 319.6L126.2 310.5L127 307.3L127.8 329.1L128.5 321.8L129.2 326.2L130 320.8L130.8 317.8L131.5 327.1L132.2 325.4L133 320.6L133.8 330.6L134.5 330L135.2 332.7L136 336.7L136.8 333.6L137.5 327.4L138.2 330.8L139 326.4L139.8 324.7L140.5 355.6L141.2 349.2L142 342.2L142.8 321.3L143.5 323.3L144.2 336.7L145 308.5L145.8 330.3L146.5 329.8L147.2 318.6L148 322L148.8 310.3L149.5 313.5L150.2 312.3L151 334.6L151.8 333.7L152.5 338.6L153.2 307.6L154 325L154.8 322.5L155.5 300.4L156.2 303.1L157 310.2L157.8 323.8L158.5 319.7L159.2 326.9L160 341.3L160.8 348.3L161.5 336.5L162.2 307.9L163 316.6L163.8 316.5L164.5 310.5L165.2 327.9L166 330.6L166.8 302L167.5 310.9L168.2 318.9L169 343.2L169.8 332.1L170.5 331.7L171.2 320.6L172 321.3L172.8 319.3L173.5 318.5L174.2 318.1L175 331.3L175.8 330.1L176.5 334.2L177.2 328.1L178 324.8L178.8 330.4L179.5 308.6L180.2 309L181 315.9L181.8 311.9L182.5 325.3L183.2 303.7L184 309.4L184.8 319.6L185.5 318.1L186.2 309.2L187 309.9L187.8 316.2L188.5 317.2L189.2 318.2L190 343.7L190.8 332.5L191.5 337.9L192.2 307.9L193 305.8L193.8 315.5L194.5 314.2L195.2 314.4L196 319.6L196.8 314.4L197.5 315.3L198.2 311.7L199 311.5L199.8 303L200.5 305.8L201.2 311.9L202 312.8L202.8 306.7L203.5 326.2L204.2 329.5L205 311.8L205.8 305.8L206.5 307.4L207.2 309L208 328.1L208.8 327.4L209.5 301.6L210.2 302.5L211 305.1L211.8 334.7L212.5 314.2L213.2 329.9L214 327.8L214.8 300.5L215.5 294.7L216.2 301L217 300.8L217.8 300.2L218.5 297.8L219.2 298.2L220 293L220.8 293.9L221.5 300.4L222.2 323.7L223 326.1L223.8 330.7L224.5 320.7L225.2 318.9L226 334.2L226.8 317.4L227.5 313.5L228.2 297.2L229 298.4L229.8 305.9L230.5 297.3L231.2 294.5L232 305.9L232.8 308.3L233.5 302L234.2 305L235 322.9L235.8 329.9L236.5 346.5L237.2 354.6L238 346.1L238.8 372.8L239.5 371.9L240.2 354.4L241 361.6L241.8 351.4L242.5 360L243.2 353L244 340.7L244.8 335L245.5 338.6L246.2 333.2L247 342.8L247.8 347.1L248.5 353.9L249.2 358.3L250 361.4L250.8 370.3L251.5 369.5L252.2 376L253 374.6L253.8 349.5L254.5 344.1L255.2 343.7L256 343.7L256.8 353.5L257.5 345.9L258.2 336L259 325.6L259.8 323.8L260.5 312.6L261.2 314.2L262 315.3L262.8 329.7L263.5 337.6L264.2 327.4L265 305.5L265.8 299.3L266.5 319.3L267.2 311.9L268 297.8L268.8 294.9L269.5 303.8L270.2 304.2L271 315.3L271.8 310.7L272.5 315.2L273.2 314.3L274 319.1L274.8 332.8L275.5 326.5L276.2 328.7L277 325.1L277.8 328L278.5 325.1L279.2 324L280 331.7L280.8 344.3L281.5 335L282.2 327.9L283 333.8L283.8 329.3L284.5 325L285.2 332L286 334.5L286.8 323.2L287.5 323.2L288.2 335.8L289 335.5L289.8 327.4L290.5 328.4L291.2 325.2L292 324.5L292.8 319.4L293.5 324.8L294.2 335.5L295 337.6L295.8 334.6L296.5 328.9L297.2 333.7L298 337.4L298.8 339.4L299.5 345.2L300.2 341.1L301 355.5L301.8 342.7L302.5 355.8L303.2 356.5L304 335.2L304.8 335.9L305.5 344.6L306.2 344.6L307 340.4L307.8 343.5L308.5 346.3L309.2 350.4L310 357.9L310.8 349.8L311.5 358.1L312.2 362.9L313 364.6L313.8 378.5L314.5 376.9L315.2 361.1L316 355L316.8 357.4L317.5 368.3L318.2 359.5L319 359.6L319.8 366.3L320.5 356.8L321.2 359.6L322 361.3L322.8 362.1L323.5 365.1L324.2 369.5L325 375.4L325.8 374.8L326.5 372.6L327.2 382.5L328 401.3L328.8 401.2L329.5 377.6L330.2 386.2L331 390.1L331.8 387.5L332.5 386.8L333.2 385.8L334 373.6L334.8 384.4L335.5 386.5L336.2 359.8L337 366.3L337.8 360.1L338.5 357.2L339.2 350.4L340 355.2L340.8 374.1L341.5 377.2L342.2 347.5L343 353.6L343.8 345.6L344.5 349L345.2 345.4L346 336.4L346.8 337.8L347.5 370.4L348.2 360.9L349 331.6L349.8 342.4L350.5 357.9L351.2 353L352 349.4L352.8 333.9L353.5 350.2L354.2 345.7L355 328.5L355.8 326.6L356.5 327.2L357.2 321.8L358 338.8L358.8 338.7L359.5 337.2L360.2 320.3L361 322.3L361.8 324L362.5 337.2L363.2 361.4L364 362.6L364.8 363.9L365.5 335.8L366.2 341.8L367 328.5L367.8 328.3L368.5 329.3L369.2 334.7L370 357.8L370.8 334.2L371.5 336.8L372.2 347L373 361.6L373.8 358.7L374.5 340.1L375.2 346.9L376 363L376.8 345.7L377.5 342.4L377.5 416.9Z" fill="#DF536B" stroke="#DF536B" stroke-width="1.2" stroke-linejoin="round"/>
<path d="M35.5 416.9L35.5 380.8L36.2 382.9L37 383.2L37.8 384L38.5 387.5L39.2 387.4L40 391.1L40.8 395.6L41.5 393.7L42.2 392.7L43 389L43.8 390.4L44.5 388.7L45.2 396L46 394.6L46.8 395.4L47.5 399.6L48.2 403.7L49 399.2L49.8 401.4L50.5 400.2L51.2 402.9L52 399.7L52.8 400.6L53.5 400L54.2 400.9L55 399.7L55.8 398.4L56.5 398.9L57.2 406.2L58 400.5L58.8 404.9L59.5 407.2L60.2 404.2L61 410.2L61.8 415.5L62.5 409.6L63.2 396.6L64 400.9L64.8 402.7L65.5 407.1L66.2 409.9L67 408.2L67.8 411L68.5 407L69.2 406.2L70 410.2L70.8 408.5L71.5 415.5L72.2 403.1L73 404.1L73.8 406.4L74.5 406.5L75.2 407.7L76 412.7L76.8 422.2L77.5 418.4L78.2 418.4L79 418.4L79.8 421.1L80.5 412.1L81.2 411.1L82 405.4L82.8 404.9L83.5 400.8L84.2 401.5L85 401.4L85.8 396.4L86.5 389.8L87.2 396.5L88 396.7L88.8 389.3L89.5 389.7L90.2 389.6L91 387.8L91.8 394.4L92.5 403.3L93.2 400.1L94 388.9L94.8 386.8L95.5 391.5L96.2 382.3L97 382.7L97.8 383L98.5 379.5L99.2 376.9L100 373.6L100.8 372.8L101.5 373.2L102.2 370.6L103 372.5L103.8 370.6L104.5 371.2L105.2 373.8L106 372.7L106.8 370.4L107.5 371.8L108.2 370.8L109 378.8L109.8 377.6L110.5 373.7L111.2 373.9L112 379.9L112.8 380.8L113.5 382.3L114.2 379.8L115 381.7L115.8 387.6L116.5 382.3L117.2 387.3L118 384.5L118.8 386L119.5 385.6L120.2 392.3L121 387.8L121.8 383.5L122.5 380.6L123.2 383.3L124 375.9L124.8 372.1L125.5 377.3L126.2 373.5L127 371L127.8 376.6L128.5 373.2L129.2 377.3L130 384.7L130.8 385.8L131.5 386.6L132.2 369.3L133 368.7L133.8 372.6L134.5 371.1L135.2 366.9L136 365.7L136.8 365.6L137.5 362.2L138.2 357.5L139 355.2L139.8 356.8L140.5 362.7L141.2 364.1L142 365.1L142.8 367.4L143.5 365.8L144.2 365.6L145 363.9L145.8 364L146.5 372.5L147.2 379.9L148 365.6L148.8 366.4L149.5 367L150.2 369.5L151 369.3L151.8 365.8L152.5 368.5L153.2 372.7L154 372.1L154.8 372.8L155.5 375.5L156.2 381.3L157 381.9L157.8 382.6L158.5 381.6L159.2 390.5L160 393L160.8 394.2L161.5 382L162.2 376L163 371.9L163.8 375.1L164.5 377.1L165.2 378.4L166 383.1L166.8 385.8L167.5 385.8L168.2 389.2L169 395.7L169.8 389.4L170.5 387L171.2 389L172 384.7L172.8 388.8L173.5 378.1L174.2 371.3L175 373L175.8 372L176.5 370.9L177.2 369.2L178 364.1L178.8 360.3L179.5 368.9L180.2 366.4L181 373.4L181.8 380.6L182.5 384.6L183.2 384.7L184 379.8L184.8 379.2L185.5 386.6L186.2 397.5L187 396.4L187.8 398.4L188.5 391.9L189.2 400.9L190 397.3L190.8 394.9L191.5 400.6L192.2 395.6L193 397.3L193.8 407.5L194.5 396.3L195.2 400.7L196 393.8L196.8 393L197.5 394.9L198.2 393L199 402.5L199.8 402.9L200.5 396.1L201.2 394.8L202 403L202.8 406L203.5 408.9L204.2 415.5L205 415.5L205.8 408.9L206.5 405.6L207.2 403.8L208 405.4L208.8 402.4L209.5 400L210.2 393.7L211 396.8L211.8 392.9L212.5 393.9L213.2 397.8L214 399.5L214.8 401.8L215.5 404.3L216.2 399.8L217 398.3L217.8 405.3L218.5 409L219.2 409.5L220 415.1L220.8 418.5L221.5 416.5L222.2 415L223 413.9L223.8 412.8L224.5 413.3L225.2 416.8L226 422.9L226.8 423.3L227.5 427.3L228.2 429L229 429.4L229.8 425L230.5 423.1L231.2 424L232 418.4L232.8 418.4L233.5 422.9L234.2 422.2L235 418.4L235.8 418.4L236.5 417.2L237.2 418.4L238 412.4L238.8 418.4L239.5 417.1L240.2 413.8L241 417.3L241.8 416.3L242.5 420.3L243.2 417.7L244 421.2L244.8 418.3L245.5 419.8L246.2 416.1L247 418.7L247.8 421.4L248.5 419.7L249.2 415.5L250 415.5L250.8 415.5L251.5 415.5L252.2 405.3L253 410.4L253.8 406.5L254.5 400.1L255.2 408.7L256 407.4L256.8 406L257.5 404L258.2 401.4L259 394L259.8 389.2L260.5 399.7L261.2 387.5L262 385.6L262.8 387.6L263.5 392.7L264.2 383.2L265 382.1L265.8 385.6L266.5 390.9L267.2 393.7L268 389.5L268.8 393.6L269.5 391L270.2 389.8L271 388.1L271.8 396.4L272.5 393.5L273.2 398L274 405.5L274.8 391.9L275.5 392.7L276.2 392.6L277 396.4L277.8 399L278.5 394.2L279.2 397.1L280 394.5L280.8 395.3L281.5 391.5L282.2 392.7L283 398.8L283.8 392.2L284.5 397.4L285.2 394.5L286 398L286.8 393L287.5 393.6L288.2 401L289 402L289.8 403.3L290.5 404.5L291.2 402.2L292 415.5L292.8 415.5L293.5 415.5L294.2 405.8L295 401L295.8 395.5L296.5 397.8L297.2 387.8L298 384.5L298.8 376.7L299.5 375.5L300.2 379.6L301 379.1L301.8 372.6L302.5 372L303.2 376.1L304 380.8L304.8 371L305.5 369L306.2 361.1L307 362.1L307.8 373.4L308.5 366L309.2 369.3L310 363.5L310.8 364.1L311.5 362.6L312.2 360.2L313 360L313.8 362.9L314.5 359.2L315.2 356.1L316 364.7L316.8 362.6L317.5 364.4L318.2 366.4L319 367.8L319.8 365.4L320.5 370.9L321.2 368L322 367.4L322.8 360.4L323.5 365.3L324.2 369.2L325 365.4L325.8 357.8L326.5 360.5L327.2 362L328 363.2L328.8 366.7L329.5 370.6L330.2 363.5L331 364.1L331.8 373.8L332.5 369.3L333.2 371.4L334 372.6L334.8 382.3L335.5 378.5L336.2 377.7L337 376.3L337.8 376.5L338.5 382.7L339.2 377.6L340 380.2L340.8 382.8L341.5 383.3L342.2 381.1L343 382L343.8 380.9L344.5 385L345.2 380.6L346 381.9L346.8 379.7L347.5 387.4L348.2 385L349 391.8L349.8 386.4L350.5 387.4L351.2 398L352 404.1L352.8 405.6L353.5 409.9L354.2 408L355 402.6L355.8 405.7L356.5 407.2L357.2 409L358 406.2L358.8 406.3L359.5 415.5L360.2 415.5L361 409L361.8 405.3L362.5 401.5L363.2 400.8L364 397.6L364.8 398.3L365.5 404L366.2 390.1L367 388.2L367.8 394.8L368.5 398.1L369.2 413.3L370 415.5L370.8 415.5L371.5 401L372.2 403.6L373 415.5L373.8 405.5L374.5 400.2L375.2 400.8L376 399.9L376.8 410.6L377.5 415.5L377.5 416.9Z" fill="#61D04F" stroke="#61D04F" stroke-width="1.2" stroke-linejoin="round"/>
<path d="M35.5 356.8L36.2 355.7L37 355.9L37.8 335.2L38.5 342.7L39.2 345.5L40 342.5L40.8 339.9L41.5 354.1L42.2 344.9L43 329.9L43.8 354L44.5 347.8L45.2 349.9L46 351.1L46.8 358.9L47.5 351.7L48.2 352.3L49 328.7L49.8 339L50.5 330.7L51.2 338.2L52 338.8L52.8 339.7L53.5 332.2L54.2 336.1L55 327.7L55.8 328.5L56.5 326L57.2 347.6L58 342.1L58.8 328.8L59.5 324.4L60.2 323L61 353.5L61.8 351.1L62.5 328L63.2 346.6L64 342.7L64.8 336L65.5 334.6L66.2 338.4L67 339L67.8 336L68.5 331.7L69.2 319.7L70 321L70.8 339.8L71.5 344.1L72.2 332.7L73 331.9L73.8 329L74.5 326.6L75.2 325.8L76 319.1L76.8 317.1L77.5 323.8L78.2 353.8L79 324.8L79.8 325.6L80.5 322.1L81.2 326.2L82 329L82.8 315.7L83.5 319.4L84.2 317.2L85 335.7L85.8 323.7L86.5 320.4L87.2 320.4L88 319.8L88.8 317L89.5 315.2L90.2 314.6L91 314.3L91.8 318L92.5 326.6L93.2 322.5L94 316.3L94.8 337L95.5 340.9L96.2 320L97 342.9L97.8 338.2L98.5 332.5L99.2 321.1L100 322.2L100.8 324.9L101.5 331.7L102.2 325.8L103 336.3L103.8 334.3L104.5 337.2L105.2 326.7L106 339.3L106.8 321.6L107.5 324.3L108.2 329.3L109 330.6L109.8 334.4L110.5 343.1L111.2 324L112 335.4L112.8 322.6L113.5 330.8L114.2 334.5L115 325.4L115.8 322.8L116.5 325L117.2 322.9L118 325.7L118.8 320.9L119.5 329L120.2 314.7L121 322.1L121.8 323.6L122.5 351.1L123.2 348.7L124 343.7L124.8 324.3L125.5 319.6L126.2 310.5L127 307.3L127.8 329.1L128.5 321.8L129.2 326.2L130 320.8L130.8 317.8L131.5 327.1L132.2 325.4L133 320.6L133.8 330.6L134.5 330L135.2 332.7L136 336.7L136.8 333.6L137.5 327.4L138.2 330.8L139 326.4L139.8 324.7L140.5 355.6L141.2 349.2L142 342.2L142.8 321.3L143.5 323.3L144.2 336.7L145 308.5L145.8 330.3L146.5 329.8L147.2 318.6L148 322L148.8 310.3L149.5 313.5L150.2 312.3L151 334.6L151.8 333.7L152.5 338.6L153.2 307.6L154 325L154.8 322.5L155.5 300.4L156.2 303.1L157 310.2L157.8 323.8L158.5 319.7L159.2 326.9L160 341.3L160.8 348.3L161.5 336.5L162.2 307.9L163 316.6L163.8 316.5L164.5 310.5L165.2 327.9L166 330.6L166.8 302L167.5 310.9L168.2 318.9L169 343.2L169.8 332.1L170.5 331.7L171.2 320.6L172 321.3L172.8 319.3L173.5 318.5L174.2 318.1L175 331.3L175.8 330.1L176.5 334.2L177.2 328.1L178 324.8L178.8 330.4L179.5 308.6L180.2 309L181 315.9L181.8 311.9L182.5 325.3L183.2 303.7L184 309.4L184.8 319.6L185.5 318.1L186.2 309.2L187 309.9L187.8 316.2L188.5 317.2L189.2 318.2L190 343.7L190.8 332.5L191.5 337.9L192.2 307.9L193 305.8L193.8 315.5L194.5 314.2L195.2 314.4L196 319.6L196.8 314.4L197.5 315.3L198.2 311.7L199 311.5L199.8 303L200.5 305.8L201.2 311.9L202 312.8L202.8 306.7L203.5 326.2L204.2 329.5L205 311.8L205.8 305.8L206.5 307.4L207.2 309L208 328.1L208.8 327.4L209.5 301.6L210.2 302.5L211 305.1L211.8 334.7L212.5 314.2L213.2 329.9L214 327.8L214.8 300.5L215.5 294.7L216.2 301L217 300.8L217.8 300.2L218.5 297.8L219.2 298.2L220 293L220.8 293.9L221.5 300.4L222.2 323.7L223 326.1L223.8 330.7L224.5 320.7L225.2 318.9L226 334.2L226.8 317.4L227.5 313.5L228.2 297.2L229 298.4L229.8 305.9L230.5 297.3L231.2 294.5L232 305.9L232.8 308.3L233.5 302L234.2 305L235 322.9L235.8 329.9L236.5 346.5L237.2 354.6L238 346.1L238.8 372.8L239.5 371.9L240.2 354.4L241 361.6L241.8 351.4L242.5 360L243.2 353L244 340.7L244.8 335L245.5 338.6L246.2 333.2L247 342.8L247.8 347.1L248.5 353.9L249.2 358.3L250 361.4L250.8 370.3L251.5 369.5L252.2 376L253 374.6L253.8 349.5L254.5 344.1L255.2 343.7L256 343.7L256.8 353.5L257.5 345.9L258.2 336L259 325.6L259.8 323.8L260.5 312.6L261.2 314.2L262 315.3L262.8 329.7L263.5 337.6L264.2 327.4L265 305.5L265.8 299.3L266.5 319.3L267.2 311.9L268 297.8L268.8 294.9L269.5 303.8L270.2 304.2L271 315.3L271.8 310.7L272.5 315.2L273.2 314.3L274 319.1L274.8 332.8L275.5 326.5L276.2 328.7L277 325.1L277.8 328L278.5 325.1L279.2 324L280 331.7L280.8 344.3L281.5 335L282.2 327.9L283 333.8L283.8 329.3L284.5 325L285.2 332L286 334.5L286.8 323.2L287.5 323.2L288.2 335.8L289 335.5L289.8 327.4L290.5 328.4L291.2 325.2L292 324.5L292.8 319.4L293.5 324.8L294.2 335.5L295 337.6L295.8 334.6L296.5 328.9L297.2 333.7L298 337.4L298.8 339.4L299.5 345.2L300.2 341.1L301 355.5L301.8 342.7L302.5 355.8L303.2 356.5L304 335.2L304.8 335.9L305.5 344.6L306.2 344.6L307 340.4L307.8 343.5L308.5 346.3L309.2 350.4L310 357.9L310.8 349.8L311.5 358.1L312.2 362.9L313 364.6L313.8 378.5L314.5 376.9L315.2 361.1L316 355L316.8 357.4L317.5 368.3L318.2 359.5L319 359.6L319.8 366.3L320.5 356.8L321.2 359.6L322 361.3L322.8 362.1L323.5 365.1L324.2 369.5L325 375.4L325.8 374.8L326.5 372.6L327.2 382.5L328 401.3L328.8 401.2L329.5 377.6L330.2 386.2L331 390.1L331.8 387.5L332.5 386.8L333.2 385.8L334 373.6L334.8 384.4L335.5 386.5L336.2 359.8L337 366.3L337.8 360.1L338.5 357.2L339.2 350.4L340 355.2L340.8 374.1L341.5 377.2L342.2 347.5L343 353.6L343.8 345.6L344.5 349L345.2 345.4L346 336.4L346.8 337.8L347.5 370.4L348.2 360.9L349 331.6L349.8 342.4L350.5 357.9L351.2 353L352 349.4L352.8 333.9L353.5 350.2L354.2 345.7L355 328.5L355.8 326.6L356.5 327.2L357.2 321.8L358 338.8L358.8 338.7L359.5 337.2L360.2 320.3L361 322.3L361.8 324L362.5 337.2L363.2 361.4L364 362.6L364.8 363.9L365.5 335.8L366.2 341.8L367 328.5L367.8 328.3L368.5 329.3L369.2 334.7L370 357.8L370.8 334.2L371.5 336.8L372.2 347L373 361.6L373.8 358.7L374.5 340.1L375.2 346.9L376 363L376.8 345.7L377.5 342.4" fill="none" stroke="#DF536B" stroke-width="1.3" stroke-linejoin="round"/>
<path d="M35.5 380.8L36.2 382.9L37 383.2L37.8 384L38.5 387.5L39.2 387.4L40 391.1L40.8 395.6L41.5 393.7L42.2 392.7L43 389L43.8 390.4L44.5 388.7L45.2 396L46 394.6L46.8 395.4L47.5 399.6L48.2 403.7L49 399.2L49.8 401.4L50.5 400.2L51.2 402.9L52 399.7L52.8 400.6L53.5 400L54.2 400.9L55 399.7L55.8 398.4L56.5 398.9L57.2 406.2L58 400.5L58.8 404.9L59.5 407.2L60.2 404.2L61 410.2L61.8 415.5L62.5 409.6L63.2 396.6L64 400.9L64.8 402.7L65.5 407.1L66.2 409.9L67 408.2L67.8 411L68.5 407L69.2 406.2L70 410.2L70.8 408.5L71.5 415.5L72.2 403.1L73 404.1L73.8 406.4L74.5 406.5L75.2 407.7L76 412.7L76.8 422.2L77.5 418.4L78.2 418.4L79 418.4L79.8 421.1L80.5 412.1L81.2 411.1L82 405.4L82.8 404.9L83.5 400.8L84.2 401.5L85 401.4L85.8 396.4L86.5 389.8L87.2 396.5L88 396.7L88.8 389.3L89.5 389.7L90.2 389.6L91 387.8L91.8 394.4L92.5 403.3L93.2 400.1L94 388.9L94.8 386.8L95.5 391.5L96.2 382.3L97 382.7L97.8 383L98.5 379.5L99.2 376.9L100 373.6L100.8 372.8L101.5 373.2L102.2 370.6L103 372.5L103.8 370.6L104.5 371.2L105.2 373.8L106 372.7L106.8 370.4L107.5 371.8L108.2 370.8L109 378.8L109.8 377.6L110.5 373.7L111.2 373.9L112 379.9L112.8 380.8L113.5 382.3L114.2 379.8L115 381.7L115.8 387.6L116.5 382.3L117.2 387.3L118 384.5L118.8 386L119.5 385.6L120.2 392.3L121 387.8L121.8 383.5L122.5 380.6L123.2 383.3L124 375.9L124.8 372.1L125.5 377.3L126.2 373.5L127 371L127.8 376.6L128.5 373.2L129.2 377.3L130 384.7L130.8 385.8L131.5 386.6L132.2 369.3L133 368.7L133.8 372.6L134.5 371.1L135.2 366.9L136 365.7L136.8 365.6L137.5 362.2L138.2 357.5L139 355.2L139.8 356.8L140.5 362.7L141.2 364.1L142 365.1L142.8 367.4L143.5 365.8L144.2 365.6L145 363.9L145.8 364L146.5 372.5L147.2 379.9L148 365.6L148.8 366.4L149.5 367L150.2 369.5L151 369.3L151.8 365.8L152.5 368.5L153.2 372.7L154 372.1L154.8 372.8L155.5 375.5L156.2 381.3L157 381.9L157.8 382.6L158.5 381.6L159.2 390.5L160 393L160.8 394.2L161.5 382L162.2 376L163 371.9L163.8 375.1L164.5 377.1L165.2 378.4L166 383.1L166.8 385.8L167.5 385.8L168.2 389.2L169 395.7L169.8 389.4L170.5 387L171.2 389L172 384.7L172.8 388.8L173.5 378.1L174.2 371.3L175 373L175.8 372L176.5 370.9L177.2 369.2L178 364.1L178.8 360.3L179.5 368.9L180.2 366.4L181 373.4L181.8 380.6L182.5 384.6L183.2 384.7L184 379.8L184.8 379.2L185.5 386.6L186.2 397.5L187 396.4L187.8 398.4L188.5 391.9L189.2 400.9L190 397.3L190.8 394.9L191.5 400.6L192.2 395.6L193 397.3L193.8 407.5L194.5 396.3L195.2 400.7L196 393.8L196.8 393L197.5 394.9L198.2 393L199 402.5L199.8 402.9L200.5 396.1L201.2 394.8L202 403L202.8 406L203.5 408.9L204.2 415.5L205 415.5L205.8 408.9L206.5 405.6L207.2 403.8L208 405.4L208.8 402.4L209.5 400L210.2 393.7L211 396.8L211.8 392.9L212.5 393.9L213.2 397.8L214 399.5L214.8 401.8L215.5 404.3L216.2 399.8L217 398.3L217.8 405.3L218.5 409L219.2 409.5L220 415.1L220.8 418.5L221.5 416.5L222.2 415L223 413.9L223.8 412.8L224.5 413.3L225.2 416.8L226 422.9L226.8 423.3L227.5 427.3L228.2 429L229 429.4L229.8 425L230.5 423.1L231.2 424L232 418.4L232.8 418.4L233.5 422.9L234.2 422.2L235 418.4L235.8 418.4L236.5 417.2L237.2 418.4L238 412.4L238.8 418.4L239.5 417.1L240.2 413.8L241 417.3L241.8 416.3L242.5 420.3L243.2 417.7L244 421.2L244.8 418.3L245.5 419.8L246.2 416.1L247 418.7L247.8 421.4L248.5 419.7L249.2 415.5L250 415.5L250.8 415.5L251.5 415.5L252.2 405.3L253 410.4L253.8 406.5L254.5 400.1L255.2 408.7L256 407.4L256.8 406L257.5 404L258.2 401.4L259 394L259.8 389.2L260.5 399.7L261.2 387.5L262 385.6L262.8 387.6L263.5 392.7L264.2 383.2L265 382.1L265.8 385.6L266.5 390.9L267.2 393.7L268 389.5L268.8 393.6L269.5 391L270.2 389.8L271 388.1L271.8 396.4L272.5 393.5L273.2 398L274 405.5L274.8 391.9L275.5 392.7L276.2 392.6L277 396.4L277.8 399L278.5 394.2L279.2 397.1L280 394.5L280.8 395.3L281.5 391.5L282.2 392.7L283 398.8L283.8 392.2L284.5 397.4L285.2 394.5L286 398L286.8 393L287.5 393.6L288.2 401L289 402L289.8 403.3L290.5 404.5L291.2 402.2L292 415.5L292.8 415.5L293.5 415.5L294.2 405.8L295 401L295.8 395.5L296.5 397.8L297.2 387.8L298 384.5L298.8 376.7L299.5 375.5L300.2 379.6L301 379.1L301.8 372.6L302.5 372L303.2 376.1L304 380.8L304.8 371L305.5 369L306.2 361.1L307 362.1L307.8 373.4L308.5 366L309.2 369.3L310 363.5L310.8 364.1L311.5 362.6L312.2 360.2L313 360L313.8 362.9L314.5 359.2L315.2 356.1L316 364.7L316.8 362.6L317.5 364.4L318.2 366.4L319 367.8L319.8 365.4L320.5 370.9L321.2 368L322 367.4L322.8 360.4L323.5 365.3L324.2 369.2L325 365.4L325.8 357.8L326.5 360.5L327.2 362L328 363.2L328.8 366.7L329.5 370.6L330.2 363.5L331 364.1L331.8 373.8L332.5 369.3L333.2 371.4L334 372.6L334.8 382.3L335.5 378.5L336.2 377.7L337 376.3L337.8 376.5L338.5 382.7L339.2 377.6L340 380.2L340.8 382.8L341.5 383.3L342.2 381.1L343 382L343.8 380.9L344.5 385L345.2 380.6L346 381.9L346.8 379.7L347.5 387.4L348.2 385L349 391.8L349.8 386.4L350.5 387.4L351.2 398L352 404.1L352.8 405.6L353.5 409.9L354.2 408L355 402.6L355.8 405.7L356.5 407.2L357.2 409L358 406.2L358.8 406.3L359.5 415.5L360.2 415.5L361 409L361.8 405.3L362.5 401.5L363.2 400.8L364 397.6L364.8 398.3L365.5 404L366.2 390.1L367 388.2L367.8 394.8L368.5 398.1L369.2 413.3L370 415.5L370.8 415.5L371.5 401L372.2 403.6L373 415.5L373.8 405.5L374.5 400.2L375.2 400.8L376 399.9L376.8 410.6L377.5 415.5" fill="none" stroke="#61D04F" stroke-width="1.3" stroke-linejoin="round"/>
<path d="M35.5 322.4L36.2 321.2L37 322.3L37.8 321.1L38.5 317.9L39.2 323.5L40 318.1L40.8 317.5L41.5 318.8L42.2 317.6L43 315.3L43.8 319.4L44.5 320.8L45.2 327.7L46 321L46.8 317.9L47.5 320.7L48.2 317.6L49 321.5L49.8 323.2L50.5 317.1L51.2 316.4L52 315.2L52.8 311.6L53.5 304.6L54.2 302.2L55 299L55.8 295.2L56.5 291.3L57.2 294.9L58 306.9L58.8 315.4L59.5 317.7L60.2 320.6L61 315.5L61.8 307.4L62.5 313.5L63.2 321.6L64 317.3L64.8 322.5L65.5 320.7L66.2 330.7L67 319.1L67.8 314.5L68.5 317.2L69.2 314.7L70 322L70.8 323.5L71.5 326.6L72.2 330L73 328.1L73.8 322L74.5 323.8L75.2 322L76 325.3L76.8 320.9L77.5 324L78.2 315.1L79 309.9L79.8 309.9L80.5 305.2L81.2 306.4L82 301.8L82.8 300.2L83.5 301.8L84.2 296.4L85 297.2L85.8 298.6L86.5 294L87.2 298.4L88 298.4L88.8 286L89.5 286.2L90.2 285.3L91 280L91.8 291.6L92.5 290L93.2 283.5L94 285.2L94.8 297.3L95.5 293.4L96.2 301L97 300.9L97.8 297.7L98.5 304.9L99.2 302.3L100 302.1L100.8 301.1L101.5 300.9L102.2 308.2L103 313.3L103.8 314.4L104.5 308.1L105.2 306.6L106 307.6L106.8 290L107.5 294.1L108.2 289.1L109 293.7L109.8 293.2L110.5 281.3L111.2 295.6L112 289.8L112.8 296.9L113.5 310.2L114.2 307.3L115 317.4L115.8 307.2L116.5 303.3L117.2 298.6L118 297.4L118.8 296.1L119.5 294.8L120.2 297.1L121 287.5L121.8 284.7L122.5 278.3L123.2 283.8L124 285.4L124.8 278.1L125.5 277.5L126.2 282.5L127 287.6L127.8 277.5L128.5 290.3L129.2 282.2L130 280L130.8 290.2L131.5 295.5L132.2 293.4L133 285.8L133.8 279.5L134.5 287.7L135.2 279.5L136 278.2L136.8 277.5L137.5 281L138.2 285.1L139 282L139.8 286.3L140.5 287.7L141.2 279L142 285.4L142.8 295.2L143.5 290.4L144.2 286.2L145 281.5L145.8 279.7L146.5 287.6L147.2 281.6L148 285.7L148.8 278.4L149.5 279L150.2 291.2L151 286.3L151.8 291.6L152.5 295.2L153.2 292.1L154 298.4L154.8 289.3L155.5 290.4L156.2 290.9L157 292.3L157.8 280.5L158.5 283.6L159.2 281.8L160 288.4L160.8 277.5L161.5 291.3L162.2 288.4L163 291.1L163.8 287.1L164.5 287.6L165.2 282.6L166 287.6L166.8 284.6L167.5 291L168.2 279.7L169 278.1L169.8 289L170.5 279.4L171.2 283.5L172 295.9L172.8 295.3L173.5 296.4L174.2 292.1L175 290.3L175.8 289.2L176.5 293.3L177.2 290.2L178 288.5L178.8 280.8L179.5 285.8L180.2 293L181 298.2L181.8 292L182.5 287.9L183.2 294.8L184 297.4L184.8 297L185.5 295.2L186.2 298.4L187 295.8L187.8 290.4L188.5 295.5L189.2 284.2L190 298.4L190.8 288.6L191.5 286.7L192.2 281.8L193 289.4L193.8 288.7L194.5 291.5L195.2 285.7L196 279.6L196.8 277.5L197.5 284.2L198.2 284.1L199 280.1L199.8 281.7L200.5 284.4L201.2 286.6L202 289.8L202.8 288.4L203.5 292.3L204.2 293.8L205 294.3L205.8 286.5L206.5 288.6L207.2 295L208 288.1L208.8 288.3L209.5 290L210.2 290.2L211 290.8L211.8 293.2L212.5 292.1L213.2 286.7L214 282.9L214.8 277.8L215.5 290.2L216.2 288.3L217 287.3L217.8 284.9L218.5 288.9L219.2 294.4L220 287.5L220.8 281.5L221.5 282.3L222.2 305.6L223 315.3L223.8 320.2L224.5 328.5L225.2 323L226 317.3L226.8 290.7L227.5 284L228.2 283.9L229 288.5L229.8 285.5L230.5 289.2L231.2 287.4L232 301.9L232.8 296L233.5 306L234.2 311.4L235 317.4L235.8 328.3L236.5 338L237.2 353.1L238 352.1L238.8 352.6L239.5 353.6L240.2 359.4L241 357.3L241.8 358.6L242.5 345.4L243.2 352.2L244 345L244.8 345.7L245.5 343.3L246.2 352.7L247 353.5L247.8 348.4L248.5 340.6L249.2 345.2L250 344.7L250.8 347.9L251.5 348.9L252.2 344.7L253 341.7L253.8 347.3L254.5 339.4L255.2 336.3L256 325L256.8 328.2L257.5 324.9L258.2 311.7L259 296L259.8 291.5L260.5 290.8L261.2 293.8L262 285.1L262.8 285.1L263.5 295.4L264.2 288.8L265 287.1L265.8 284.9L266.5 291.1L267.2 293.2L268 297.4L268.8 292.1L269.5 292.3L270.2 278.9L271 288.9L271.8 282.7L272.5 282.1L273.2 290.3L274 283L274.8 296.8L275.5 312.1L276.2 308.9L277 306.3L277.8 305.6L278.5 309.2L279.2 308.6L280 305L280.8 306.9L281.5 311.2L282.2 301.6L283 303.2L283.8 313.6L284.5 316.1L285.2 313.1L286 306.3L286.8 313L287.5 325.9L288.2 327.9L289 330.7L289.8 327.9L290.5 322.8L291.2 310L292 299.4L292.8 290L293.5 280.5L294.2 290.8L295 284.9L295.8 277.5L296.5 277.5L297.2 278.9L298 279.8L298.8 279.2L299.5 277.5L300.2 285.3L301 288L301.8 288L302.5 292.9L303.2 287.9L304 284.1L304.8 286.7L305.5 281.2L306.2 277.5L307 283.6L307.8 288.4L308.5 287.5L309.2 291.9L310 296.2L310.8 300.6L311.5 301.3L312.2 304.3L313 303.8L313.8 305.4L314.5 321.1L315.2 312.9L316 317.1L316.8 314.7L317.5 326.6L318.2 320L319 308.4L319.8 313.6L320.5 310.7L321.2 316.9L322 316.6L322.8 321.8L323.5 321.5L324.2 322.4L325 321.4L325.8 331.8L326.5 333.5L327.2 323.8L328 323.4L328.8 324.5L329.5 320.7L330.2 324.4L331 324.7L331.8 331.5L332.5 331.7L333.2 335L334 331L334.8 330.7L335.5 326.9L336.2 329.7L337 334.6L337.8 322.6L338.5 329.9L339.2 322.1L340 334.5L340.8 328.8L341.5 327.3L342.2 323.4L343 318.6L343.8 321.5L344.5 320.2L345.2 310.5L346 312.9L346.8 306.6L347.5 302.4L348.2 302.8L349 307.7L349.8 306.9L350.5 306.1L351.2 314.1L352 313.4L352.8 309L353.5 313.4L354.2 320L355 328.8L355.8 322.9L356.5 330.2L357.2 324.6L358 331.9L358.8 328.6L359.5 314.3L360.2 314.6L361 308.6L361.8 321.5L362.5 310.9L363.2 313.7L364 313.6L364.8 308.1L365.5 307.2L366.2 307.3L367 309L367.8 313.3L368.5 326.5L369.2 331.5L370 334.1L370.8 328.2L371.5 331L372.2 336.7L373 331.9L373.8 339.5L374.5 339.9L375.2 335.4L376 343L376.8 339.6L377.5 341.2" fill="none" stroke="#000" stroke-width="1.3" stroke-linejoin="round"/>
</g>
<line x1="35.5" x2="377.5" y1="416.9" y2="416.9" stroke="#000" stroke-width="1.8" stroke-dasharray="2.3 4.1"/>
<rect x="49.0" y="311.5" width="13" height="10.5" fill="#000" stroke="#000" stroke-width="1.2"/>
<text x="74.5" y="324.6" font-size="16" fill="#000" stroke="#000" stroke-width="0.3" textLength="36.5" lengthAdjust="spacingAndGlyphs">Total</text>
<rect x="49.0" y="331.9" width="13" height="10.5" fill="#DF536B" stroke="#000" stroke-width="1.2"/>
<text x="74.5" y="344.4" font-size="16" fill="#000" stroke="#000" stroke-width="0.3" textLength="23.5" lengthAdjust="spacingAndGlyphs">1-5</text>
<rect x="49.0" y="352.3" width="13" height="10.5" fill="#61D04F" stroke="#000" stroke-width="1.2"/>
<text x="74.5" y="364.2" font-size="16" fill="#000" stroke="#000" stroke-width="0.3" textLength="35.2" lengthAdjust="spacingAndGlyphs">5-Inf</text>
<rect x="35.5" y="297.5" width="342" height="215.0" fill="none" stroke="#000" stroke-width="1.6"/>
<line x1="30" x2="35.5" y1="321.4" y2="321.4" stroke="#000" stroke-width="1.2"/>
<text x="26" y="328.7" font-size="16" text-anchor="end" fill="#000" stroke="#000" stroke-width="0.3">20</text>
<line x1="30" x2="35.5" y1="369.2" y2="369.2" stroke="#000" stroke-width="1.2"/>
<text x="26" y="376.5" font-size="16" text-anchor="end" fill="#000" stroke="#000" stroke-width="0.3">10</text>
<line x1="30" x2="35.5" y1="416.9" y2="416.9" stroke="#000" stroke-width="1.2"/>
<text x="26" y="424.2" font-size="16" text-anchor="end" fill="#000" stroke="#000" stroke-width="0.3">0</text>
<line x1="30" x2="35.5" y1="464.7" y2="464.7" stroke="#000" stroke-width="1.2"/>
<text x="26" y="472" font-size="16" text-anchor="end" fill="#000" stroke="#000" stroke-width="0.3">-10</text>
<line x1="30" x2="35.5" y1="512.5" y2="512.5" stroke="#000" stroke-width="1.2"/>
<text x="26" y="519.8" font-size="16" text-anchor="end" fill="#000" stroke="#000" stroke-width="0.3">-20</text>
<line x1="185.7" x2="185.7" y1="512.5" y2="517.5" stroke="#000" stroke-width="1.2"/>
<text x="185.2" y="536" font-size="16" text-anchor="middle" fill="#000" stroke="#000" stroke-width="0.3" textLength="37" lengthAdjust="spacingAndGlyphs">2023</text>
<line x1="375.6" x2="375.6" y1="512.5" y2="517.5" stroke="#000" stroke-width="1.2"/>
<text x="375.1" y="536" font-size="16" text-anchor="middle" fill="#000" stroke="#000" stroke-width="0.3" textLength="37" lengthAdjust="spacingAndGlyphs">2024</text>
<text transform="translate(205 291.4) scale(1 1.18)" x="0" y="0" font-size="19.2" font-weight="bold" text-anchor="middle" fill="#000" textLength="55.3" lengthAdjust="spacingAndGlyphs">OCEN</text>
<clipPath id="c11"><rect x="437.5" y="297.5" width="343" height="215.0"/></clipPath>
<g stroke="#D3D3D3" stroke-width="1.5" stroke-dasharray="7 5.5"><line x1="437.5" x2="780.5" y1="321.4" y2="321.4"/><line x1="437.5" x2="780.5" y1="369.2" y2="369.2"/><line x1="437.5" x2="780.5" y1="464.7" y2="464.7"/></g>
<g clip-path="url(#c11)" shape-rendering="crispEdges">
<path d="M437.5 416.9L437.5 353L438.2 359.5L439 352.4L439.8 345.5L440.5 342.7L441.2 347L442 374L442.8 385L443.5 374.9L444.2 371.8L445 383.7L445.8 387.7L446.5 386L447.2 382.8L448 382.5L448.8 391.6L449.5 392.1L450.2 378.7L451 378L451.8 378.1L452.5 373L453.2 365.4L454 377.3L454.8 382.4L455.5 381.7L456.2 383.6L457 390.4L457.8 388.2L458.5 380L459.2 360.3L460 370.9L460.8 366L461.5 357.9L462.2 368L463 354.2L463.8 353.7L464.5 365.5L465.2 352.1L466 355.6L466.8 359.7L467.5 350.7L468.2 348.3L469 352.4L469.8 344.3L470.5 357.4L471.2 340.2L472 350.8L472.8 340L473.5 344.3L474.2 347.1L475 357L475.8 348.8L476.5 370.8L477.2 367.1L478 388.5L478.8 393.2L479.5 395L480.2 369.9L481 374.1L481.8 374.2L482.5 374L483.2 376.2L484 388.9L484.8 397.5L485.5 393L486.2 367.4L487 363.3L487.8 366.1L488.5 366.6L489.2 371.2L490 368.8L490.8 370.6L491.5 381.5L492.2 383.5L493 373.2L493.8 378L494.5 373.2L495.2 370.6L496 387.4L496.8 383.8L497.5 371.5L498.2 364.9L499 380.6L499.8 385L500.5 384.3L501.2 368.6L502 375.2L502.8 386.4L503.5 387.9L504.2 393.7L505 390.3L505.8 385.1L506.5 387.4L507.2 395.7L508 388.5L508.8 400.4L509.5 392.5L510.2 387.3L511 402.8L511.8 389.6L512.5 396.9L513.2 398.2L514 419.4L514.8 421L515.5 418.4L516.2 415.5L517 415.5L517.8 396.6L518.5 397.5L519.2 390.4L520 389.9L520.8 390.7L521.5 377L522.2 387L523 383.6L523.8 380.2L524.5 376.2L525.2 367.1L526 365.9L526.8 364.7L527.5 373.5L528.2 391.4L529 390.7L529.8 411.3L530.5 394.7L531.2 385.4L532 364.6L532.8 387L533.5 388.6L534.2 383.4L535 385.8L535.8 364L536.5 376.3L537.2 365.3L538 365.9L538.8 382.9L539.5 394.3L540.2 389.2L541 402.4L541.8 398.1L542.5 401.8L543.2 406.1L544 412.4L544.8 411.2L545.5 399L546.2 391.9L547 408.5L547.8 408.9L548.5 392.9L549.2 390.6L550 392.7L550.8 395.3L551.5 394.6L552.2 384.2L553 381.8L553.8 369.9L554.5 380.3L555.2 406.7L556 415.5L556.8 415.5L557.5 405L558.2 415.5L559 415.5L559.8 418.4L560.5 425.1L561.2 423.7L562 412.7L562.8 411.5L563.5 415.7L564.2 416.5L565 418.4L565.8 418.4L566.5 424.5L567.2 413.5L568 419.8L568.8 415.9L569.5 408.4L570.2 401L571 395.6L571.8 395.1L572.5 398.6L573.2 415.5L574 412L574.8 415.5L575.5 414.4L576.2 412.4L577 419.3L577.8 414.1L578.5 422L579.2 440.2L580 462.4L580.8 426.1L581.5 446.1L582.2 448.3L583 452.5L583.8 435.6L584.5 430.8L585.2 425.6L586 424.8L586.8 417.6L587.5 418.4L588.2 419.2L589 418.4L589.8 418.4L590.5 433.9L591.2 433.6L592 432.1L592.8 424.4L593.5 429.3L594.2 433.6L595 421.3L595.8 422.7L596.5 427.8L597.2 418.4L598 418.4L598.8 415.5L599.5 420.9L600.2 426.5L601 428.2L601.8 432.4L602.5 419.6L603.2 425L604 422.6L604.8 425.5L605.5 431.2L606.2 439.6L607 431L607.8 437.8L608.5 434.7L609.2 438L610 451.5L610.8 449.6L611.5 457.6L612.2 457.4L613 444.2L613.8 439.2L614.5 445.4L615.2 444.4L616 432.4L616.8 435.6L617.5 431.1L618.2 418.4L619 418.4L619.8 415.6L620.5 416.1L621.2 418.4L622 420.7L622.8 425.5L623.5 417.8L624.2 413.2L625 414.3L625.8 417L626.5 424.5L627.2 418.4L628 418.4L628.8 418.4L629.5 429.3L630.2 426.3L631 432.5L631.8 439.1L632.5 424.5L633.2 415.6L634 392.6L634.8 365.2L635.5 366.7L636.2 368.3L637 375.9L637.8 377.3L638.5 370.3L639.2 372.1L640 380L640.8 384.1L641.5 393.9L642.2 387.6L643 391.3L643.8 401.6L644.5 394.2L645.2 390.1L646 388.8L646.8 393.9L647.5 399L648.2 372.4L649 361.4L649.8 365.1L650.5 368.5L651.2 358.6L652 362.8L652.8 356L653.5 343.9L654.2 334.1L655 334.5L655.8 320.6L656.5 339L657.2 334.1L658 336.8L658.8 340.5L659.5 342.5L660.2 338.7L661 347.5L661.8 345.8L662.5 347.6L663.2 346.3L664 347.1L664.8 373.9L665.5 369.3L666.2 362.1L667 343.9L667.8 342.6L668.5 339.3L669.2 349.8L670 338.7L670.8 338.2L671.5 354.8L672.2 338.2L673 341.8L673.8 338.9L674.5 343.6L675.2 352.2L676 357.7L676.8 360.7L677.5 372.6L678.2 380.6L679 372.5L679.8 374.3L680.5 380.3L681.2 375.4L682 376.2L682.8 376L683.5 373.8L684.2 377.1L685 382.6L685.8 366L686.5 358L687.2 362.7L688 358.8L688.8 376.2L689.5 372.4L690.2 384.2L691 382.8L691.8 365.2L692.5 372.1L693.2 373.1L694 364.7L694.8 374.7L695.5 379.3L696.2 393.9L697 398.6L697.8 405.4L698.5 402.1L699.2 406.8L700 408.2L700.8 417.5L701.5 424.6L702.2 431.6L703 440.8L703.8 435.3L704.5 431.4L705.2 425.6L706 422.6L706.8 433L707.5 427.5L708.2 422.5L709 424.3L709.8 423.8L710.5 418.4L711.2 424.4L712 443.3L712.8 418.4L713.5 418.4L714.2 415.8L715 411.7L715.8 412.8L716.5 416.9L717.2 415.5L718 413.7L718.8 417.4L719.5 418.7L720.2 417.6L721 421.3L721.8 431.3L722.5 424.1L723.2 415.8L724 418.2L724.8 418.4L725.5 423L726.2 432.6L727 442.1L727.8 445.9L728.5 442.7L729.2 452.2L730 440.4L730.8 440.5L731.5 451.7L732.2 455.3L733 460.3L733.8 455.4L734.5 433L735.2 418.4L736 434.5L736.8 447.3L737.5 449.7L738.2 458.7L739 455.5L739.8 455.3L740.5 451L741.2 428.3L742 433L742.8 455.1L743.5 451.9L744.2 431.2L745 429.4L745.8 428.1L746.5 439.6L747.2 427.2L748 423.7L748.8 427.6L749.5 423.3L750.2 430.5L751 428.4L751.8 427.7L752.5 437.4L753.2 425L754 424.1L754.8 437L755.5 438.3L756.2 438.6L757 424.9L757.8 431.4L758.5 418.4L759.2 433.6L760 429.2L760.8 424.4L761.5 416.6L762.2 409.8L763 403.4L763.8 410.2L764.5 402.7L765.2 400L766 408.7L766.8 409L767.5 412.7L768.2 416.4L769 427.3L769.8 434.9L770.5 418.4L771.2 446.4L772 443.1L772.8 424.3L773.5 418.4L774.2 432.7L775 448.2L775.8 443.1L776.5 434.3L777.2 436.8L778 434.3L778.8 425.3L779.5 447.2L780.2 451.5L780.2 416.9Z" fill="#000" stroke="#000" stroke-width="1.2" stroke-linejoin="round"/>
<path d="M437.5 416.9L437.5 369.9L438.2 363.3L439 361.4L439.8 365.1L440.5 363.3L441.2 372.7L442 378.9L442.8 382.4L443.5 383.6L444.2 383.1L445 382.7L445.8 385.4L446.5 392.2L447.2 380.5L448 387.2L448.8 383.9L449.5 381.5L450.2 388.1L451 370.1L451.8 384.5L452.5 394.8L453.2 367.5L454 371.7L454.8 391.9L455.5 393.6L456.2 397.1L457 379.8L457.8 380.2L458.5 380.7L459.2 378.5L460 374.4L460.8 359.6L461.5 362.5L462.2 370L463 365.2L463.8 367.2L464.5 373.2L465.2 374.2L466 382.6L466.8 375.3L467.5 402.1L468.2 381.2L469 386.8L469.8 398.8L470.5 393.4L471.2 389.5L472 397.4L472.8 392.6L473.5 393L474.2 398.7L475 402.9L475.8 404.1L476.5 402.1L477.2 407.8L478 410.6L478.8 411.4L479.5 399.3L480.2 394.7L481 394.1L481.8 415.5L482.5 415.5L483.2 415.5L484 415.5L484.8 396.7L485.5 405.7L486.2 392.6L487 394.7L487.8 393.7L488.5 409.1L489.2 413.3L490 404.9L490.8 396.6L491.5 396.9L492.2 384.9L493 389L493.8 405.4L494.5 394.7L495.2 385.2L496 389.9L496.8 393.3L497.5 394.9L498.2 405.2L499 413.8L499.8 415.5L500.5 410.8L501.2 402.7L502 404.1L502.8 413.1L503.5 409.6L504.2 405.4L505 409.5L505.8 410.2L506.5 410.4L507.2 405.2L508 417.7L508.8 412.8L509.5 402L510.2 408.8L511 416.5L511.8 414.6L512.5 411.2L513.2 416.2L514 418.4L514.8 431.3L515.5 434.1L516.2 418.4L517 429L517.8 426.9L518.5 437.3L519.2 429.9L520 434.4L520.8 431.8L521.5 433.6L522.2 419.2L523 418.4L523.8 418.4L524.5 444.3L525.2 428.2L526 428.5L526.8 431.2L527.5 418.4L528.2 434.8L529 435.2L529.8 430.1L530.5 426.1L531.2 425.5L532 424.9L532.8 434.3L533.5 433.8L534.2 441.1L535 438.8L535.8 432.9L536.5 439.4L537.2 430.5L538 440.2L538.8 450.7L539.5 443.8L540.2 443.8L541 450.4L541.8 439.6L542.5 447.2L543.2 451L544 431.2L544.8 434.9L545.5 443.8L546.2 432.3L547 427.1L547.8 419.8L548.5 409.7L549.2 425.6L550 418.5L550.8 416L551.5 414.6L552.2 415.1L553 417.9L553.8 415L554.5 430.4L555.2 424.2L556 418.9L556.8 427.3L557.5 434.5L558.2 420L559 435.6L559.8 445.4L560.5 441.9L561.2 444.4L562 444.9L562.8 445.8L563.5 420.8L564.2 418.7L565 430.2L565.8 431.5L566.5 442.7L567.2 441.5L568 418.4L568.8 426L569.5 441.2L570.2 451.8L571 444.2L571.8 443.4L572.5 440L573.2 426.7L574 428.1L574.8 449.2L575.5 422.4L576.2 436.4L577 432.1L577.8 429.2L578.5 446.1L579.2 466.5L580 495.1L580.8 479.6L581.5 480.7L582.2 450.5L583 443L583.8 443.1L584.5 453.9L585.2 451.6L586 444.9L586.8 449.3L587.5 438.5L588.2 424.4L589 422.7L589.8 442.9L590.5 444.8L591.2 441.9L592 431.3L592.8 443.8L593.5 440.4L594.2 438.9L595 432.2L595.8 418.4L596.5 418.4L597.2 418.4L598 441.6L598.8 443.9L599.5 443.7L600.2 418.4L601 425.1L601.8 424.7L602.5 420.9L603.2 440.7L604 441.9L604.8 418.4L605.5 421.3L606.2 424.8L607 423L607.8 440.8L608.5 423.9L609.2 418.4L610 428.3L610.8 451.2L611.5 446.3L612.2 424.3L613 418.4L613.8 424.9L614.5 437L615.2 445.5L616 423.4L616.8 419.7L617.5 432.1L618.2 421.3L619 413L619.8 407.4L620.5 408.5L621.2 408.8L622 415.5L622.8 415.5L623.5 415.5L624.2 415.1L625 418.6L625.8 419L626.5 418.4L627.2 418.4L628 418.4L628.8 438.7L629.5 444.5L630.2 450.4L631 431.2L631.8 418.4L632.5 418.4L633.2 414L634 387.3L634.8 330.8L635.5 343.9L636.2 373.3L637 368.1L637.8 363.9L638.5 356.7L639.2 364.7L640 360.6L640.8 368.1L641.5 363.5L642.2 362.1L643 378.3L643.8 383L644.5 387.2L645.2 377.9L646 379.7L646.8 371L647.5 365.4L648.2 389.8L649 386.7L649.8 384.1L650.5 366.3L651.2 361.3L652 358.8L652.8 357.8L653.5 362.5L654.2 354.5L655 352.1L655.8 358.1L656.5 327.2L657.2 314.3L658 319.1L658.8 328.3L659.5 341.9L660.2 324.2L661 357L661.8 364.6L662.5 366.7L663.2 350.6L664 351.7L664.8 369.4L665.5 361.4L666.2 356.4L667 345.7L667.8 364.8L668.5 363.2L669.2 362.7L670 338.7L670.8 353L671.5 354.6L672.2 352.8L673 348.7L673.8 355.5L674.5 354.8L675.2 377.4L676 389.1L676.8 392.1L677.5 384.8L678.2 379.2L679 385.7L679.8 404.2L680.5 382.2L681.2 383.9L682 374.5L682.8 399L683.5 402.2L684.2 399.9L685 370.7L685.8 384.7L686.5 382L687.2 380.3L688 374.5L688.8 391.8L689.5 379L690.2 376.4L691 364.9L691.8 380.6L692.5 375.8L693.2 364.2L694 390.7L694.8 392.8L695.5 380.2L696.2 376.1L697 384.9L697.8 379.7L698.5 386.5L699.2 395.7L700 407.9L700.8 400.5L701.5 414.5L702.2 414.6L703 423.4L703.8 414.1L704.5 412.5L705.2 408.5L706 408.1L706.8 415.8L707.5 411.3L708.2 406.6L709 415.5L709.8 415.1L710.5 410L711.2 406.1L712 410.2L712.8 406.6L713.5 413.8L714.2 415.7L715 424.7L715.8 418.4L716.5 418.1L717.2 424.3L718 430.8L718.8 430L719.5 430.9L720.2 440.7L721 442.9L721.8 444.4L722.5 443.7L723.2 444.9L724 451.5L724.8 455.7L725.5 464.5L726.2 443.3L727 452.3L727.8 469.6L728.5 460.7L729.2 462.8L730 473.6L730.8 472.1L731.5 462.8L732.2 462.1L733 479.7L733.8 481.5L734.5 481.2L735.2 474.9L736 472.8L736.8 464.2L737.5 466.9L738.2 464.4L739 484.8L739.8 471L740.5 463L741.2 451.9L742 465.3L742.8 456.8L743.5 464.1L744.2 460.2L745 447.4L745.8 446.8L746.5 445.3L747.2 437.8L748 434.3L748.8 439.9L749.5 447.8L750.2 424L751 425.3L751.8 434.9L752.5 460.4L753.2 459.6L754 464.3L754.8 466.4L755.5 468.1L756.2 457.2L757 462.2L757.8 468.2L758.5 452.4L759.2 448.5L760 442.7L760.8 441.8L761.5 433.9L762.2 418.4L763 418.4L763.8 434L764.5 433L765.2 427.6L766 422.5L766.8 430.8L767.5 435.5L768.2 437.6L769 440.7L769.8 449.9L770.5 449.4L771.2 450.9L772 450.3L772.8 457.5L773.5 460.5L774.2 448.1L775 450.5L775.8 444.3L776.5 471.8L777.2 477.8L778 482L778.8 454.1L779.5 455.8L780.2 460.8L780.2 416.9Z" fill="#DF536B" stroke="#DF536B" stroke-width="1.2" stroke-linejoin="round"/>
<path d="M437.5 416.9L437.5 414.5L438.2 412.7L439 411.6L439.8 396.4L440.5 397L441.2 396.3L442 396.2L442.8 396.6L443.5 398L444.2 393.7L445 394.6L445.8 405.2L446.5 401.5L447.2 394.6L448 397.2L448.8 396.1L449.5 398.8L450.2 400.4L451 401L451.8 399.5L452.5 401.4L453.2 404.2L454 405.9L454.8 405.3L455.5 397.5L456.2 394.5L457 396.3L457.8 399.9L458.5 403.2L459.2 405.6L460 400.6L460.8 407.7L461.5 402.2L462.2 398L463 401.1L463.8 396.2L464.5 390.1L465.2 387.4L466 382.9L466.8 381.1L467.5 389.8L468.2 391.7L469 396.2L469.8 383.4L470.5 378L471.2 381.6L472 381.3L472.8 379.7L473.5 381.1L474.2 381.8L475 379L475.8 381.4L476.5 392.8L477.2 392.8L478 399.9L478.8 394.9L479.5 393.8L480.2 386.6L481 386.5L481.8 391.3L482.5 395.5L483.2 393.2L484 387.2L484.8 388.5L485.5 385.7L486.2 386.3L487 389.1L487.8 387.6L488.5 391.3L489.2 396.7L490 394.1L490.8 393.8L491.5 392.9L492.2 395.9L493 393.3L493.8 397.7L494.5 402.8L495.2 396.8L496 395.8L496.8 396.7L497.5 398L498.2 398L499 399.5L499.8 393.3L500.5 389.8L501.2 392.2L502 393.4L502.8 391.2L503.5 387.3L504.2 395.6L505 396.2L505.8 398.1L506.5 397.5L507.2 393.1L508 394.4L508.8 388.3L509.5 386L510.2 386.1L511 385.1L511.8 380.4L512.5 375.9L513.2 381L514 381.4L514.8 390.1L515.5 396.2L516.2 383.3L517 376.4L517.8 378.4L518.5 375L519.2 369.5L520 371.9L520.8 363.4L521.5 362.7L522.2 364.7L523 362.7L523.8 365.3L524.5 373.3L525.2 372.2L526 372.5L526.8 374.1L527.5 383.8L528.2 383.4L529 378.7L529.8 378.9L530.5 379.2L531.2 363L532 359.3L532.8 360.5L533.5 361.4L534.2 365.8L535 366L535.8 365.2L536.5 365.5L537.2 367.6L538 369.8L538.8 372.7L539.5 368.2L540.2 365.9L541 364.4L541.8 365.7L542.5 367.9L543.2 368L544 368.6L544.8 378L545.5 374.2L546.2 371.6L547 371.6L547.8 371.4L548.5 376.8L549.2 379L550 374.9L550.8 380.7L551.5 378.5L552.2 378.2L553 371.3L553.8 365.6L554.5 374.5L555.2 379.7L556 388L556.8 387L557.5 389.5L558.2 392.4L559 396.6L559.8 394.2L560.5 398L561.2 402.7L562 399.6L562.8 398.8L563.5 398.6L564.2 400.5L565 403.6L565.8 404L566.5 391.7L567.2 393.3L568 394.7L568.8 387.2L569.5 380L570.2 383.3L571 379.8L571.8 385.6L572.5 386.4L573.2 386.4L574 387.6L574.8 385.5L575.5 390.2L576.2 393.8L577 394.5L577.8 394.5L578.5 393.7L579.2 395.3L580 395L580.8 397.5L581.5 408L582.2 402L583 399.1L583.8 393.8L584.5 396.3L585.2 396.4L586 394.6L586.8 399.3L587.5 396.6L588.2 398.1L589 398.7L589.8 397.3L590.5 400.2L591.2 400.3L592 410.8L592.8 415.5L593.5 406L594.2 409.6L595 406.5L595.8 400.3L596.5 402.8L597.2 394L598 397.8L598.8 392.1L599.5 395.8L600.2 403.7L601 401.7L601.8 403.3L602.5 394.8L603.2 401.1L604 398.8L604.8 400.7L605.5 406L606.2 404.6L607 409.8L607.8 418.3L608.5 421.9L609.2 419.8L610 420.4L610.8 424.6L611.5 421.3L612.2 419.3L613 408.7L613.8 415.5L614.5 415.5L615.2 417.7L616 415.4L616.8 412.9L617.5 413.4L618.2 415.5L619 415.5L619.8 410.4L620.5 410.3L621.2 406.7L622 407.5L622.8 408.9L623.5 403.3L624.2 406.2L625 408.3L625.8 411.1L626.5 414.1L627.2 415.2L628 420.5L628.8 418.8L629.5 417.2L630.2 415.2L631 419.3L631.8 420.5L632.5 415.8L633.2 416.4L634 411L634.8 415.7L635.5 416.6L636.2 421.6L637 427.8L637.8 432.7L638.5 427.8L639.2 433.2L640 435.7L640.8 430.6L641.5 435.9L642.2 435.7L643 431.5L643.8 434.8L644.5 435.8L645.2 431.1L646 429.4L646.8 426.4L647.5 418.4L648.2 418.4L649 417L649.8 410.8L650.5 409.3L651.2 409.6L652 406L652.8 406.1L653.5 407.3L654.2 410.2L655 408.9L655.8 406.5L656.5 414.6L657.2 405.3L658 406.2L658.8 395.6L659.5 403L660.2 404.6L661 402.3L661.8 397.8L662.5 408.5L663.2 404.1L664 407.5L664.8 394.5L665.5 393L666.2 389.2L667 396.5L667.8 394.7L668.5 398.9L669.2 389.1L670 389.6L670.8 384.5L671.5 388.4L672.2 390.6L673 390.9L673.8 399.9L674.5 402L675.2 400.6L676 404.9L676.8 403.8L677.5 405.6L678.2 403L679 401.3L679.8 402.5L680.5 411.3L681.2 413.1L682 400.3L682.8 403.1L683.5 406.2L684.2 408.5L685 412L685.8 404L686.5 405.1L687.2 404.9L688 408.9L688.8 407.4L689.5 398.9L690.2 402.9L691 404.2L691.8 409.7L692.5 411.4L693.2 414.5L694 415.3L694.8 423.2L695.5 427.8L696.2 427.7L697 425.3L697.8 429.8L698.5 425.8L699.2 430.2L700 430.5L700.8 435L701.5 431.4L702.2 431.7L703 430.4L703.8 431.5L704.5 427.2L705.2 429.9L706 418.4L706.8 428L707.5 425.3L708.2 424.7L709 418.4L709.8 427L710.5 424.5L711.2 440.5L712 440.9L712.8 435.2L713.5 423.5L714.2 425.1L715 422.9L715.8 419.1L716.5 417.4L717.2 415L718 404.2L718.8 406.5L719.5 401L720.2 397.2L721 400.2L721.8 399.9L722.5 394.3L723.2 395.3L724 384.6L724.8 389.3L725.5 381.9L726.2 386.6L727 389.3L727.8 389.3L728.5 396.1L729.2 391.3L730 394.2L730.8 390.9L731.5 397.1L732.2 399.4L733 400.1L733.8 401.4L734.5 404.2L735.2 413.9L736 412.9L736.8 415.5L737.5 406.9L738.2 412.4L739 415.5L739.8 411.4L740.5 403.3L741.2 415.5L742 401.3L742.8 405.6L743.5 403.7L744.2 401.2L745 402.8L745.8 399.7L746.5 408.2L747.2 402.7L748 402.4L748.8 397.9L749.5 393.8L750.2 388.1L751 390L751.8 391.8L752.5 392.1L753.2 384.7L754 382.9L754.8 381.4L755.5 382.7L756.2 381.7L757 380.2L757.8 383.6L758.5 379.5L759.2 378.7L760 379.7L760.8 387.3L761.5 382.1L762.2 386.3L763 387.1L763.8 382.2L764.5 388.8L765.2 387.1L766 391.7L766.8 387.7L767.5 382.8L768.2 385.5L769 384.1L769.8 383.2L770.5 386.1L771.2 383.6L772 390.8L772.8 391L773.5 385.1L774.2 389.5L775 387.2L775.8 386.3L776.5 390.7L777.2 387.4L778 392.4L778.8 393.8L779.5 388.6L780.2 386.5L780.2 416.9Z" fill="#61D04F" stroke="#61D04F" stroke-width="1.2" stroke-linejoin="round"/>
<path d="M437.5 369.9L438.2 363.3L439 361.4L439.8 365.1L440.5 363.3L441.2 372.7L442 378.9L442.8 382.4L443.5 383.6L444.2 383.1L445 382.7L445.8 385.4L446.5 392.2L447.2 380.5L448 387.2L448.8 383.9L449.5 381.5L450.2 388.1L451 370.1L451.8 384.5L452.5 394.8L453.2 367.5L454 371.7L454.8 391.9L455.5 393.6L456.2 397.1L457 379.8L457.8 380.2L458.5 380.7L459.2 378.5L460 374.4L460.8 359.6L461.5 362.5L462.2 370L463 365.2L463.8 367.2L464.5 373.2L465.2 374.2L466 382.6L466.8 375.3L467.5 402.1L468.2 381.2L469 386.8L469.8 398.8L470.5 393.4L471.2 389.5L472 397.4L472.8 392.6L473.5 393L474.2 398.7L475 402.9L475.8 404.1L476.5 402.1L477.2 407.8L478 410.6L478.8 411.4L479.5 399.3L480.2 394.7L481 394.1L481.8 415.5L482.5 415.5L483.2 415.5L484 415.5L484.8 396.7L485.5 405.7L486.2 392.6L487 394.7L487.8 393.7L488.5 409.1L489.2 413.3L490 404.9L490.8 396.6L491.5 396.9L492.2 384.9L493 389L493.8 405.4L494.5 394.7L495.2 385.2L496 389.9L496.8 393.3L497.5 394.9L498.2 405.2L499 413.8L499.8 415.5L500.5 410.8L501.2 402.7L502 404.1L502.8 413.1L503.5 409.6L504.2 405.4L505 409.5L505.8 410.2L506.5 410.4L507.2 405.2L508 417.7L508.8 412.8L509.5 402L510.2 408.8L511 416.5L511.8 414.6L512.5 411.2L513.2 416.2L514 418.4L514.8 431.3L515.5 434.1L516.2 418.4L517 429L517.8 426.9L518.5 437.3L519.2 429.9L520 434.4L520.8 431.8L521.5 433.6L522.2 419.2L523 418.4L523.8 418.4L524.5 444.3L525.2 428.2L526 428.5L526.8 431.2L527.5 418.4L528.2 434.8L529 435.2L529.8 430.1L530.5 426.1L531.2 425.5L532 424.9L532.8 434.3L533.5 433.8L534.2 441.1L535 438.8L535.8 432.9L536.5 439.4L537.2 430.5L538 440.2L538.8 450.7L539.5 443.8L540.2 443.8L541 450.4L541.8 439.6L542.5 447.2L543.2 451L544 431.2L544.8 434.9L545.5 443.8L546.2 432.3L547 427.1L547.8 419.8L548.5 409.7L549.2 425.6L550 418.5L550.8 416L551.5 414.6L552.2 415.1L553 417.9L553.8 415L554.5 430.4L555.2 424.2L556 418.9L556.8 427.3L557.5 434.5L558.2 420L559 435.6L559.8 445.4L560.5 441.9L561.2 444.4L562 444.9L562.8 445.8L563.5 420.8L564.2 418.7L565 430.2L565.8 431.5L566.5 442.7L567.2 441.5L568 418.4L568.8 426L569.5 441.2L570.2 451.8L571 444.2L571.8 443.4L572.5 440L573.2 426.7L574 428.1L574.8 449.2L575.5 422.4L576.2 436.4L577 432.1L577.8 429.2L578.5 446.1L579.2 466.5L580 495.1L580.8 479.6L581.5 480.7L582.2 450.5L583 443L583.8 443.1L584.5 453.9L585.2 451.6L586 444.9L586.8 449.3L587.5 438.5L588.2 424.4L589 422.7L589.8 442.9L590.5 444.8L591.2 441.9L592 431.3L592.8 443.8L593.5 440.4L594.2 438.9L595 432.2L595.8 418.4L596.5 418.4L597.2 418.4L598 441.6L598.8 443.9L599.5 443.7L600.2 418.4L601 425.1L601.8 424.7L602.5 420.9L603.2 440.7L604 441.9L604.8 418.4L605.5 421.3L606.2 424.8L607 423L607.8 440.8L608.5 423.9L609.2 418.4L610 428.3L610.8 451.2L611.5 446.3L612.2 424.3L613 418.4L613.8 424.9L614.5 437L615.2 445.5L616 423.4L616.8 419.7L617.5 432.1L618.2 421.3L619 413L619.8 407.4L620.5 408.5L621.2 408.8L622 415.5L622.8 415.5L623.5 415.5L624.2 415.1L625 418.6L625.8 419L626.5 418.4L627.2 418.4L628 418.4L628.8 438.7L629.5 444.5L630.2 450.4L631 431.2L631.8 418.4L632.5 418.4L633.2 414L634 387.3L634.8 330.8L635.5 343.9L636.2 373.3L637 368.1L637.8 363.9L638.5 356.7L639.2 364.7L640 360.6L640.8 368.1L641.5 363.5L642.2 362.1L643 378.3L643.8 383L644.5 387.2L645.2 377.9L646 379.7L646.8 371L647.5 365.4L648.2 389.8L649 386.7L649.8 384.1L650.5 366.3L651.2 361.3L652 358.8L652.8 357.8L653.5 362.5L654.2 354.5L655 352.1L655.8 358.1L656.5 327.2L657.2 314.3L658 319.1L658.8 328.3L659.5 341.9L660.2 324.2L661 357L661.8 364.6L662.5 366.7L663.2 350.6L664 351.7L664.8 369.4L665.5 361.4L666.2 356.4L667 345.7L667.8 364.8L668.5 363.2L669.2 362.7L670 338.7L670.8 353L671.5 354.6L672.2 352.8L673 348.7L673.8 355.5L674.5 354.8L675.2 377.4L676 389.1L676.8 392.1L677.5 384.8L678.2 379.2L679 385.7L679.8 404.2L680.5 382.2L681.2 383.9L682 374.5L682.8 399L683.5 402.2L684.2 399.9L685 370.7L685.8 384.7L686.5 382L687.2 380.3L688 374.5L688.8 391.8L689.5 379L690.2 376.4L691 364.9L691.8 380.6L692.5 375.8L693.2 364.2L694 390.7L694.8 392.8L695.5 380.2L696.2 376.1L697 384.9L697.8 379.7L698.5 386.5L699.2 395.7L700 407.9L700.8 400.5L701.5 414.5L702.2 414.6L703 423.4L703.8 414.1L704.5 412.5L705.2 408.5L706 408.1L706.8 415.8L707.5 411.3L708.2 406.6L709 415.5L709.8 415.1L710.5 410L711.2 406.1L712 410.2L712.8 406.6L713.5 413.8L714.2 415.7L715 424.7L715.8 418.4L716.5 418.1L717.2 424.3L718 430.8L718.8 430L719.5 430.9L720.2 440.7L721 442.9L721.8 444.4L722.5 443.7L723.2 444.9L724 451.5L724.8 455.7L725.5 464.5L726.2 443.3L727 452.3L727.8 469.6L728.5 460.7L729.2 462.8L730 473.6L730.8 472.1L731.5 462.8L732.2 462.1L733 479.7L733.8 481.5L734.5 481.2L735.2 474.9L736 472.8L736.8 464.2L737.5 466.9L738.2 464.4L739 484.8L739.8 471L740.5 463L741.2 451.9L742 465.3L742.8 456.8L743.5 464.1L744.2 460.2L745 447.4L745.8 446.8L746.5 445.3L747.2 437.8L748 434.3L748.8 439.9L749.5 447.8L750.2 424L751 425.3L751.8 434.9L752.5 460.4L753.2 459.6L754 464.3L754.8 466.4L755.5 468.1L756.2 457.2L757 462.2L757.8 468.2L758.5 452.4L759.2 448.5L760 442.7L760.8 441.8L761.5 433.9L762.2 418.4L763 418.4L763.8 434L764.5 433L765.2 427.6L766 422.5L766.8 430.8L767.5 435.5L768.2 437.6L769 440.7L769.8 449.9L770.5 449.4L771.2 450.9L772 450.3L772.8 457.5L773.5 460.5L774.2 448.1L775 450.5L775.8 444.3L776.5 471.8L777.2 477.8L778 482L778.8 454.1L779.5 455.8L780.2 460.8" fill="none" stroke="#DF536B" stroke-width="1.3" stroke-linejoin="round"/>
<path d="M437.5 414.5L438.2 412.7L439 411.6L439.8 396.4L440.5 397L441.2 396.3L442 396.2L442.8 396.6L443.5 398L444.2 393.7L445 394.6L445.8 405.2L446.5 401.5L447.2 394.6L448 397.2L448.8 396.1L449.5 398.8L450.2 400.4L451 401L451.8 399.5L452.5 401.4L453.2 404.2L454 405.9L454.8 405.3L455.5 397.5L456.2 394.5L457 396.3L457.8 399.9L458.5 403.2L459.2 405.6L460 400.6L460.8 407.7L461.5 402.2L462.2 398L463 401.1L463.8 396.2L464.5 390.1L465.2 387.4L466 382.9L466.8 381.1L467.5 389.8L468.2 391.7L469 396.2L469.8 383.4L470.5 378L471.2 381.6L472 381.3L472.8 379.7L473.5 381.1L474.2 381.8L475 379L475.8 381.4L476.5 392.8L477.2 392.8L478 399.9L478.8 394.9L479.5 393.8L480.2 386.6L481 386.5L481.8 391.3L482.5 395.5L483.2 393.2L484 387.2L484.8 388.5L485.5 385.7L486.2 386.3L487 389.1L487.8 387.6L488.5 391.3L489.2 396.7L490 394.1L490.8 393.8L491.5 392.9L492.2 395.9L493 393.3L493.8 397.7L494.5 402.8L495.2 396.8L496 395.8L496.8 396.7L497.5 398L498.2 398L499 399.5L499.8 393.3L500.5 389.8L501.2 392.2L502 393.4L502.8 391.2L503.5 387.3L504.2 395.6L505 396.2L505.8 398.1L506.5 397.5L507.2 393.1L508 394.4L508.8 388.3L509.5 386L510.2 386.1L511 385.1L511.8 380.4L512.5 375.9L513.2 381L514 381.4L514.8 390.1L515.5 396.2L516.2 383.3L517 376.4L517.8 378.4L518.5 375L519.2 369.5L520 371.9L520.8 363.4L521.5 362.7L522.2 364.7L523 362.7L523.8 365.3L524.5 373.3L525.2 372.2L526 372.5L526.8 374.1L527.5 383.8L528.2 383.4L529 378.7L529.8 378.9L530.5 379.2L531.2 363L532 359.3L532.8 360.5L533.5 361.4L534.2 365.8L535 366L535.8 365.2L536.5 365.5L537.2 367.6L538 369.8L538.8 372.7L539.5 368.2L540.2 365.9L541 364.4L541.8 365.7L542.5 367.9L543.2 368L544 368.6L544.8 378L545.5 374.2L546.2 371.6L547 371.6L547.8 371.4L548.5 376.8L549.2 379L550 374.9L550.8 380.7L551.5 378.5L552.2 378.2L553 371.3L553.8 365.6L554.5 374.5L555.2 379.7L556 388L556.8 387L557.5 389.5L558.2 392.4L559 396.6L559.8 394.2L560.5 398L561.2 402.7L562 399.6L562.8 398.8L563.5 398.6L564.2 400.5L565 403.6L565.8 404L566.5 391.7L567.2 393.3L568 394.7L568.8 387.2L569.5 380L570.2 383.3L571 379.8L571.8 385.6L572.5 386.4L573.2 386.4L574 387.6L574.8 385.5L575.5 390.2L576.2 393.8L577 394.5L577.8 394.5L578.5 393.7L579.2 395.3L580 395L580.8 397.5L581.5 408L582.2 402L583 399.1L583.8 393.8L584.5 396.3L585.2 396.4L586 394.6L586.8 399.3L587.5 396.6L588.2 398.1L589 398.7L589.8 397.3L590.5 400.2L591.2 400.3L592 410.8L592.8 415.5L593.5 406L594.2 409.6L595 406.5L595.8 400.3L596.5 402.8L597.2 394L598 397.8L598.8 392.1L599.5 395.8L600.2 403.7L601 401.7L601.8 403.3L602.5 394.8L603.2 401.1L604 398.8L604.8 400.7L605.5 406L606.2 404.6L607 409.8L607.8 418.3L608.5 421.9L609.2 419.8L610 420.4L610.8 424.6L611.5 421.3L612.2 419.3L613 408.7L613.8 415.5L614.5 415.5L615.2 417.7L616 415.4L616.8 412.9L617.5 413.4L618.2 415.5L619 415.5L619.8 410.4L620.5 410.3L621.2 406.7L622 407.5L622.8 408.9L623.5 403.3L624.2 406.2L625 408.3L625.8 411.1L626.5 414.1L627.2 415.2L628 420.5L628.8 418.8L629.5 417.2L630.2 415.2L631 419.3L631.8 420.5L632.5 415.8L633.2 416.4L634 411L634.8 415.7L635.5 416.6L636.2 421.6L637 427.8L637.8 432.7L638.5 427.8L639.2 433.2L640 435.7L640.8 430.6L641.5 435.9L642.2 435.7L643 431.5L643.8 434.8L644.5 435.8L645.2 431.1L646 429.4L646.8 426.4L647.5 418.4L648.2 418.4L649 417L649.8 410.8L650.5 409.3L651.2 409.6L652 406L652.8 406.1L653.5 407.3L654.2 410.2L655 408.9L655.8 406.5L656.5 414.6L657.2 405.3L658 406.2L658.8 395.6L659.5 403L660.2 404.6L661 402.3L661.8 397.8L662.5 408.5L663.2 404.1L664 407.5L664.8 394.5L665.5 393L666.2 389.2L667 396.5L667.8 394.7L668.5 398.9L669.2 389.1L670 389.6L670.8 384.5L671.5 388.4L672.2 390.6L673 390.9L673.8 399.9L674.5 402L675.2 400.6L676 404.9L676.8 403.8L677.5 405.6L678.2 403L679 401.3L679.8 402.5L680.5 411.3L681.2 413.1L682 400.3L682.8 403.1L683.5 406.2L684.2 408.5L685 412L685.8 404L686.5 405.1L687.2 404.9L688 408.9L688.8 407.4L689.5 398.9L690.2 402.9L691 404.2L691.8 409.7L692.5 411.4L693.2 414.5L694 415.3L694.8 423.2L695.5 427.8L696.2 427.7L697 425.3L697.8 429.8L698.5 425.8L699.2 430.2L700 430.5L700.8 435L701.5 431.4L702.2 431.7L703 430.4L703.8 431.5L704.5 427.2L705.2 429.9L706 418.4L706.8 428L707.5 425.3L708.2 424.7L709 418.4L709.8 427L710.5 424.5L711.2 440.5L712 440.9L712.8 435.2L713.5 423.5L714.2 425.1L715 422.9L715.8 419.1L716.5 417.4L717.2 415L718 404.2L718.8 406.5L719.5 401L720.2 397.2L721 400.2L721.8 399.9L722.5 394.3L723.2 395.3L724 384.6L724.8 389.3L725.5 381.9L726.2 386.6L727 389.3L727.8 389.3L728.5 396.1L729.2 391.3L730 394.2L730.8 390.9L731.5 397.1L732.2 399.4L733 400.1L733.8 401.4L734.5 404.2L735.2 413.9L736 412.9L736.8 415.5L737.5 406.9L738.2 412.4L739 415.5L739.8 411.4L740.5 403.3L741.2 415.5L742 401.3L742.8 405.6L743.5 403.7L744.2 401.2L745 402.8L745.8 399.7L746.5 408.2L747.2 402.7L748 402.4L748.8 397.9L749.5 393.8L750.2 388.1L751 390L751.8 391.8L752.5 392.1L753.2 384.7L754 382.9L754.8 381.4L755.5 382.7L756.2 381.7L757 380.2L757.8 383.6L758.5 379.5L759.2 378.7L760 379.7L760.8 387.3L761.5 382.1L762.2 386.3L763 387.1L763.8 382.2L764.5 388.8L765.2 387.1L766 391.7L766.8 387.7L767.5 382.8L768.2 385.5L769 384.1L769.8 383.2L770.5 386.1L771.2 383.6L772 390.8L772.8 391L773.5 385.1L774.2 389.5L775 387.2L775.8 386.3L776.5 390.7L777.2 387.4L778 392.4L778.8 393.8L779.5 388.6L780.2 386.5" fill="none" stroke="#61D04F" stroke-width="1.3" stroke-linejoin="round"/>
<path d="M437.5 353L438.2 358.7L439 352.2L439.8 345.8L440.5 343.6L441.2 348.1L442 355.6L442.8 366.1L443.5 375L444.2 372.4L445 383.4L445.8 387.3L446.5 385.6L447.2 382.5L448 382L448.8 373.8L449.5 374.2L450.2 378.1L451 377.3L451.8 377.3L452.5 372.7L453.2 366L454 376.8L454.8 381.5L455.5 380.9L456.2 382.5L457 373.9L457.8 371.8L458.5 364.2L459.2 361L460 370.3L460.8 365.6L461.5 358.2L462.2 356.2L463 354.5L463.8 353.8L464.5 364.4L465.2 352.2L466 355.2L466.8 358.7L467.5 350.5L468.2 348.4L469 352L469.8 344.6L470.5 356.3L471.2 340.7L472 350.1L472.8 340.3L473.5 344.4L474.2 347.4L475 356.9L475.8 350L476.5 370L477.2 366.9L478 366.6L478.8 371.1L479.5 372.8L480.2 370.2L481 374.2L481.8 374.4L482.5 374.3L483.2 376.2L484 374.8L484.8 382.5L485.5 378.4L486.2 368L487 364.3L487.8 366.7L488.5 367.2L489.2 371.4L490 369.3L490.8 370.9L491.5 380.7L492.2 369.4L493 373.2L493.8 377.4L494.5 373.1L495.2 370.8L496 368.6L496.8 365.4L497.5 371.9L498.2 366L499 380.3L499.8 384.4L500.5 383.8L501.2 369.8L502 375.8L502.8 385.9L503.5 387.3L504.2 392.6L505 389.6L505.8 385L506.5 387.1L507.2 394.7L508 388.4L508.8 399.2L509.5 392.3L510.2 387.9L511 402.1L511.8 390.4L512.5 397.3L513.2 398.8L514 418.3L514.8 420.1L515.5 420.3L516.2 409.7L517 402.5L517.8 396.9L518.5 397.5L519.2 390.9L520 390.2L520.8 390.7L521.5 378.2L522.2 387L523 383.6L523.8 380.3L524.5 376.5L525.2 368.2L526 367L526.8 365.8L527.5 373.9L528.2 390.2L529 389.9L529.8 389.3L530.5 393.5L531.2 384.8L532 365.8L532.8 366.4L533.5 367.8L534.2 371L535 373.3L535.8 365.2L536.5 376.3L537.2 366.4L538 367L538.8 367.6L539.5 378.4L540.2 389.2L541 401.7L541.8 398.5L542.5 401.9L543.2 405.7L544 411.3L544.8 410.1L545.5 398.7L546.2 391.9L547 388.3L547.8 388.2L548.5 391.8L549.2 389.9L550 392L550.8 394.5L551.5 393.7L552.2 384L553 381.5L553.8 370.4L554.5 380.2L555.2 388.2L556 400.9L556.8 402.7L557.5 405.7L558.2 415.2L559 415.1L559.8 429.3L560.5 425.3L561.2 423.8L562 413.9L562.8 412.7L563.5 416.4L564.2 417L565 423.4L565.8 421.7L566.5 423.9L567.2 413.7L568 419.1L568.8 415.3L569.5 408.4L570.2 401.6L571 396.6L571.8 396.1L572.5 399.3L573.2 402.9L574 399L574.8 402.9L575.5 414L576.2 412.6L577 419.2L577.8 414.9L578.5 422.7L579.2 440.2L580 461.3L580.8 443.6L581.5 446.3L582.2 448.2L583 451.9L583.8 436L584.5 431.1L585.2 425.7L586 424.3L586.8 418L587.5 419L588.2 419.9L589 426.3L589.8 423.1L590.5 433.2L591.2 432.9L592 431.7L592.8 424.5L593.5 428.7L594.2 432.4L595 421.2L595.8 422.5L596.5 427.2L597.2 423.7L598 420.6L598.8 416.1L599.5 421L600.2 425.9L601 427.4L601.8 431.3L602.5 419.8L603.2 424.7L604 422.6L604.8 425.4L605.5 430.7L606.2 438.5L607 430.9L607.8 437.8L608.5 435.5L609.2 438.8L610 451.1L610.8 449.7L611.5 456.8L612.2 456.4L613 444.4L613.8 439.7L614.5 445.1L615.2 444.1L616 433.1L616.8 435.8L617.5 431.4L618.2 424.4L619 422.8L619.8 416L620.5 416.2L621.2 424.5L622 420.1L622.8 424.3L623.5 417.5L624.2 413.5L625 414.7L625.8 417.2L626.5 424.3L627.2 430.9L628 437.1L628.8 421.9L629.5 429.5L630.2 426.9L631 432.7L631.8 438.8L632.5 424.5L633.2 414.7L634 392.2L634.8 366.1L635.5 367L636.2 368.5L637 375.8L637.8 377.5L638.5 371.4L639.2 373.2L640 380.5L640.8 384.4L641.5 393.3L642.2 387.7L643 391.1L643.8 400.4L644.5 393.9L645.2 390.3L646 389.2L646.8 394L647.5 398L648.2 373.3L649 362.6L649.8 365.1L650.5 356.2L651.2 349.6L652 362.4L652.8 356.2L653.5 344.7L654.2 335.3L655 334.9L655.8 321.6L656.5 338.2L657.2 334.2L658 336.7L658.8 340.3L659.5 342.4L660.2 339.2L661 347.6L661.8 346.4L662.5 348.2L663.2 347.1L664 347.9L664.8 357.4L665.5 353.1L666.2 361.1L667 344.5L667.8 343L668.5 339.6L669.2 348.8L670 338.5L670.8 337.6L671.5 339.3L672.2 338.1L673 341.7L673.8 339.4L674.5 344.2L675.2 352.6L676 358.2L676.8 361.6L677.5 372.5L678.2 379.6L679 372.2L679.8 373.8L680.5 379.2L681.2 374.6L682 375.4L682.8 375.1L683.5 373L684.2 361.3L685 366.2L685.8 365.9L686.5 358.7L687.2 363L688 359.7L688.8 361.8L689.5 358.4L690.2 369L691 363.2L691.8 365.3L692.5 371.5L693.2 372.5L694 364.9L694.8 374.7L695.5 379.7L696.2 393.6L697 398.7L697.8 405L698.5 402.3L699.2 406.8L700 408.2L700.8 417.5L701.5 424.6L702.2 431.7L703 440.8L703.8 435.6L704.5 431.7L705.2 426.1L706 423.1L706.8 432.6L707.5 427.7L708.2 433L709 434.7L709.8 434.6L710.5 432.5L711.2 442.9L712 443.1L712.8 430L713.5 424.5L714.2 416.9L715 412.8L715.8 413.5L716.5 416.9L717.2 408.1L718 404.6L718.8 417L719.5 418.6L720.2 417.8L721 421.5L721.8 430.6L722.5 424.2L723.2 416.9L724 419.2L724.8 427.7L725.5 434.9L726.2 433.1L727 442L727.8 445.7L728.5 443L729.2 451.8L730 441.4L730.8 441.7L731.5 451.9L732.2 455.3L733 459.9L733.8 455.2L734.5 452.6L735.2 438.5L736 435.7L736.8 447.5L737.5 463.4L738.2 458.4L739 455.9L739.8 455.6L740.5 451.4L741.2 447.7L742 451.7L742.8 454.4L743.5 451.3L744.2 443.7L745 441.8L745.8 440.2L746.5 439.1L747.2 427.6L748 424L748.8 427.7L749.5 424L750.2 430.6L751 428.8L751.8 428.4L752.5 437.4L753.2 443L754 442.5L754.8 437.2L755.5 438.2L756.2 438.2L757 425.7L757.8 431.2L758.5 429.7L759.2 432.8L760 428.5L760.8 423.9L761.5 416.5L762.2 410L763 403.9L763.8 409.8L764.5 402.9L765.2 400.2L766 407.8L766.8 408.6L767.5 412.5L768.2 416.4L769 426.9L769.8 434.1L770.5 433.7L771.2 445.3L772 442.6L772.8 438.2L773.5 433L774.2 433.9L775 448L775.8 443.5L776.5 450L777.2 452.5L778 452.9L778.8 444.8L779.5 464.6L780.2 463.4" fill="none" stroke="#000" stroke-width="1.3" stroke-linejoin="round"/>
</g>
<line x1="437.5" x2="780.5" y1="416.9" y2="416.9" stroke="#000" stroke-width="1.8" stroke-dasharray="2.3 4.1"/>
<rect x="451.0" y="311.5" width="13" height="10.5" fill="#000" stroke="#000" stroke-width="1.2"/>
<text x="476.5" y="324.6" font-size="16" fill="#000" stroke="#000" stroke-width="0.3" textLength="36.5" lengthAdjust="spacingAndGlyphs">Total</text>
<rect x="451.0" y="331.9" width="13" height="10.5" fill="#DF536B" stroke="#000" stroke-width="1.2"/>
<text x="476.5" y="344.4" font-size="16" fill="#000" stroke="#000" stroke-width="0.3" textLength="23.5" lengthAdjust="spacingAndGlyphs">1-5</text>
<rect x="451.0" y="352.3" width="13" height="10.5" fill="#61D04F" stroke="#000" stroke-width="1.2"/>
<text x="476.5" y="364.2" font-size="16" fill="#000" stroke="#000" stroke-width="0.3" textLength="35.2" lengthAdjust="spacingAndGlyphs">5-Inf</text>
<rect x="437.5" y="297.5" width="343" height="215.0" fill="none" stroke="#000" stroke-width="1.6"/>
<line x1="432" x2="437.5" y1="321.4" y2="321.4" stroke="#000" stroke-width="1.2"/>
<text x="428" y="328.7" font-size="16" text-anchor="end" fill="#000" stroke="#000" stroke-width="0.3">20</text>
<line x1="432" x2="437.5" y1="369.2" y2="369.2" stroke="#000" stroke-width="1.2"/>
<text x="428" y="376.5" font-size="16" text-anchor="end" fill="#000" stroke="#000" stroke-width="0.3">10</text>
<line x1="432" x2="437.5" y1="416.9" y2="416.9" stroke="#000" stroke-width="1.2"/>
<text x="428" y="424.2" font-size="16" text-anchor="end" fill="#000" stroke="#000" stroke-width="0.3">0</text>
<line x1="432" x2="437.5" y1="464.7" y2="464.7" stroke="#000" stroke-width="1.2"/>
<text x="428" y="472" font-size="16" text-anchor="end" fill="#000" stroke="#000" stroke-width="0.3">-10</text>
<line x1="432" x2="437.5" y1="512.5" y2="512.5" stroke="#000" stroke-width="1.2"/>
<text x="428" y="519.8" font-size="16" text-anchor="end" fill="#000" stroke="#000" stroke-width="0.3">-20</text>
<line x1="587.7" x2="587.7" y1="512.5" y2="517.5" stroke="#000" stroke-width="1.2"/>
<text x="587.2" y="536" font-size="16" text-anchor="middle" fill="#000" stroke="#000" stroke-width="0.3" textLength="37" lengthAdjust="spacingAndGlyphs">2023</text>
<line x1="777.5" x2="777.5" y1="512.5" y2="517.5" stroke="#000" stroke-width="1.2"/>
<text x="777.0" y="536" font-size="16" text-anchor="middle" fill="#000" stroke="#000" stroke-width="0.3" textLength="37" lengthAdjust="spacingAndGlyphs">2024</text>
<text transform="translate(607 291.4) scale(1 1.18)" x="0" y="0" font-size="19.2" font-weight="bold" text-anchor="middle" fill="#000" textLength="35.1" lengthAdjust="spacingAndGlyphs">VIX</text>
<clipPath id="c12"><rect x="840.5" y="297.5" width="342" height="215.0"/></clipPath>
<g stroke="#D3D3D3" stroke-width="1.5" stroke-dasharray="7 5.5"><line x1="840.5" x2="1182.5" y1="321.4" y2="321.4"/><line x1="840.5" x2="1182.5" y1="369.2" y2="369.2"/><line x1="840.5" x2="1182.5" y1="464.7" y2="464.7"/></g>
<g clip-path="url(#c12)" shape-rendering="crispEdges">
<path d="M840.5 416.9L840.5 451.5L841.2 454.4L842 458.9L842.8 454.4L843.5 457.5L844.2 454.1L845 438.4L845.8 446.2L846.5 440L847.2 439.7L848 453.2L848.8 448.3L849.5 446.1L850.2 447.3L851 440L851.8 437.3L852.5 442L853.2 436.4L854 443.8L854.8 438.2L855.5 433.8L856.2 441.4L857 451L857.8 455.8L858.5 446.7L859.2 437.9L860 444.3L860.8 451.3L861.5 447.7L862.2 439.6L863 436.8L863.8 433.1L864.5 416.8L865.2 412L866 421L866.8 433.6L867.5 442.1L868.2 427.8L869 434.4L869.8 435.2L870.5 443.3L871.2 422.7L872 435.1L872.8 445.5L873.5 458.8L874.2 449.3L875 444.8L875.8 440.3L876.5 445.5L877.2 439.5L878 443L878.8 444.3L879.5 447.9L880.2 455.2L881 421.7L881.8 421.6L882.5 424.9L883.2 424.2L884 448.4L884.8 450.1L885.5 448.4L886.2 436.8L887 453.9L887.8 466.7L888.5 483.8L889.2 479.4L890 496.5L890.8 488.2L891.5 487.5L892.2 482.4L893 480.4L893.8 482.7L894.5 489.2L895.2 485.6L896 489.5L896.8 491.4L897.5 486.6L898.2 482.3L899 458.2L899.8 464.1L900.5 481.7L901.2 491.9L902 496.5L902.8 486.3L903.5 485.4L904.2 485.1L905 483.3L905.8 469.6L906.5 479.7L907.2 489.5L908 502.1L908.8 516.4L909.5 520.1L910.2 513.7L911 518.9L911.8 513.6L912.5 510.1L913.2 507.7L914 505.7L914.8 509.7L915.5 514.6L916.2 509.7L917 517L917.8 505.7L918.5 495.9L919.2 517.3L920 503.3L920.8 511.9L921.5 503L922.2 500.1L923 500.6L923.8 515.5L924.5 517.9L925.2 523.8L926 519.1L926.8 523.2L927.5 507.8L928.2 519.4L929 519.6L929.8 499.8L930.5 498.1L931.2 493.6L932 494.7L932.8 493.8L933.5 514.3L934.2 515.3L935 520.7L935.8 519.7L936.5 513.2L937.2 505.7L938 515.7L938.8 507.3L939.5 516.9L940.2 522.9L941 518.9L941.8 517.5L942.5 505.2L943.2 509.9L944 512.9L944.8 528.2L945.5 526.8L946.2 520.7L947 514.4L947.8 513.1L948.5 515.8L949.2 514.8L950 519.5L950.8 522.7L951.5 514.9L952.2 513.4L953 507.2L953.8 509.3L954.5 510.9L955.2 495.7L956 490.1L956.8 494.7L957.5 490L958.2 494.3L959 493.3L959.8 471.3L960.5 473.6L961.2 473.4L962 502.6L962.8 500.7L963.5 504.5L964.2 502.4L965 501.7L965.8 507.8L966.5 499L967.2 507.8L968 502.3L968.8 497.5L969.5 515.2L970.2 518.3L971 510.7L971.8 514.8L972.5 519.8L973.2 519.6L974 512.6L974.8 515.9L975.5 515.7L976.2 522.8L977 516.1L977.8 512.4L978.5 505.7L979.2 510.7L980 501.2L980.8 523.2L981.5 516.5L982.2 510.1L983 505.7L983.8 506.7L984.5 499.3L985.2 501.3L986 504.3L986.8 512.7L987.5 490.7L988.2 486.7L989 501.9L989.8 503.6L990.5 510.4L991.2 517.3L992 513.1L992.8 510.4L993.5 509.5L994.2 511.5L995 512.5L995.8 509.3L996.5 496.7L997.2 507.5L998 508.9L998.8 512.5L999.5 521.9L1000.2 514.9L1001 522.4L1001.8 515.6L1002.5 505.7L1003.2 506.2L1004 505.7L1004.8 509.9L1005.5 514.3L1006.2 511.7L1007 505.3L1007.8 491L1008.5 498.5L1009.2 506.9L1010 509.2L1010.8 511.7L1011.5 503.9L1012.2 511.5L1013 495.4L1013.8 495.9L1014.5 504.6L1015.2 506.6L1016 493.8L1016.8 494.1L1017.5 502.6L1018.2 503L1019 498L1019.8 492L1020.5 491.5L1021.2 489.5L1022 484.3L1022.8 480.5L1023.5 471.2L1024.2 485.2L1025 488.8L1025.8 461.4L1026.5 472.3L1027.2 477.1L1028 478.9L1028.8 472.3L1029.5 472.3L1030.2 476.3L1031 479.2L1031.8 484.2L1032.5 495.4L1033.2 467.3L1034 467.6L1034.8 473.8L1035.5 477.2L1036.2 472.1L1037 477.9L1037.8 471.7L1038.5 471.8L1039.2 474L1040 463.9L1040.8 470.9L1041.5 482.5L1042.2 483.4L1043 469.3L1043.8 463.8L1044.5 459.8L1045.2 457.4L1046 464.9L1046.8 470.6L1047.5 466.3L1048.2 462.1L1049 457.8L1049.8 461.8L1050.5 469.2L1051.2 474L1052 487.4L1052.8 493.4L1053.5 492L1054.2 497.4L1055 491.5L1055.8 485.4L1056.5 486.9L1057.2 487.2L1058 493.2L1058.8 497.7L1059.5 465.5L1060.2 493.9L1061 495L1061.8 495.4L1062.5 497.6L1063.2 493.5L1064 496.8L1064.8 507.8L1065.5 510.1L1066.2 505.7L1067 507.9L1067.8 506.3L1068.5 508.9L1069.2 507.1L1070 509.3L1070.8 509.1L1071.5 501.6L1072.2 494.2L1073 504.9L1073.8 491.5L1074.5 504.8L1075.2 505.9L1076 497.7L1076.8 497.9L1077.5 500.2L1078.2 495.4L1079 489.9L1079.8 490.7L1080.5 479.8L1081.2 480.6L1082 479.5L1082.8 492.1L1083.5 503L1084.2 494.2L1085 500.8L1085.8 487.7L1086.5 503.3L1087.2 505.6L1088 508.5L1088.8 515.4L1089.5 504.1L1090.2 508.9L1091 508.1L1091.8 499L1092.5 488L1093.2 502.2L1094 498.4L1094.8 478.4L1095.5 478.1L1096.2 487.9L1097 478.4L1097.8 469.7L1098.5 463.1L1099.2 483.9L1100 479.4L1100.8 488.8L1101.5 480.3L1102.2 474.8L1103 469.8L1103.8 479.5L1104.5 473.9L1105.2 476.3L1106 475.1L1106.8 474.5L1107.5 462.8L1108.2 473.1L1109 468.3L1109.8 474L1110.5 462.7L1111.2 466.5L1112 455L1112.8 448.6L1113.5 441.1L1114.2 446.7L1115 445.7L1115.8 442.3L1116.5 442.9L1117.2 439.6L1118 442.2L1118.8 434.1L1119.5 427.2L1120.2 430L1121 432.9L1121.8 437.2L1122.5 423.8L1123.2 444.5L1124 451.3L1124.8 448.6L1125.5 431.6L1126.2 432.6L1127 434.2L1127.8 456.8L1128.5 458.3L1129.2 458.2L1130 458L1130.8 452.2L1131.5 452.9L1132.2 429.7L1133 449.5L1133.8 444.7L1134.5 446.9L1135.2 436.3L1136 447.3L1136.8 444.2L1137.5 430.1L1138.2 439.9L1139 432.4L1139.8 432.4L1140.5 423.3L1141.2 439.1L1142 441.5L1142.8 432.4L1143.5 436.8L1144.2 440.1L1145 441.5L1145.8 440.2L1146.5 446L1147.2 449.5L1148 459.3L1148.8 457.3L1149.5 457.2L1150.2 455.2L1151 448.8L1151.8 439.5L1152.5 427.6L1153.2 454.4L1154 466.6L1154.8 465.3L1155.5 481.3L1156.2 485.4L1157 472.6L1157.8 474.9L1158.5 480.2L1159.2 470.1L1160 472.2L1160.8 461.4L1161.5 439L1162.2 440.6L1163 463.6L1163.8 469.7L1164.5 461.3L1165.2 460.7L1166 468L1166.8 475.9L1167.5 487.5L1168.2 481.3L1169 489.1L1169.8 490.7L1170.5 490.1L1171.2 498.6L1172 500.7L1172.8 494.6L1173.5 470L1174.2 491.5L1175 466.9L1175.8 455.6L1176.5 451.8L1177.2 472.9L1178 471.8L1178.8 474L1179.5 471.7L1180.2 459.5L1181 463L1181.8 458.9L1182.5 441.1L1182.5 416.9Z" fill="#000" stroke="#000" stroke-width="1.2" stroke-linejoin="round"/>
<path d="M840.5 416.9L840.5 418.4L841.2 425.5L842 417.5L842.8 420.9L843.5 420.8L844.2 419L845 429.8L845.8 418.4L846.5 418.4L847.2 418.4L848 431.9L848.8 430.4L849.5 428L850.2 419.6L851 418.4L851.8 422.9L852.5 429.6L853.2 417.9L854 419.5L854.8 418.4L855.5 417.2L856.2 410.3L857 409.7L857.8 406.1L858.5 405.9L859.2 406.7L860 407.5L860.8 415.5L861.5 409.2L862.2 418.2L863 413.8L863.8 409.9L864.5 402.7L865.2 383.7L866 402.7L866.8 404.5L867.5 412.2L868.2 399.5L869 398.9L869.8 409.6L870.5 422L871.2 416.9L872 414L872.8 414.2L873.5 408.2L874.2 421.8L875 413.9L875.8 401.9L876.5 393.7L877.2 396.4L878 392.7L878.8 413.9L879.5 402.7L880.2 408.2L881 415.5L881.8 415.5L882.5 415.5L883.2 415.5L884 404.6L884.8 415.5L885.5 411.4L886.2 415.8L887 427.7L887.8 437L888.5 437.9L889.2 445.4L890 451.3L890.8 442.1L891.5 439.4L892.2 446L893 443.7L893.8 445.3L894.5 427.2L895.2 429.5L896 429.8L896.8 451.7L897.5 456.1L898.2 438.9L899 422.5L899.8 431.2L900.5 434.5L901.2 428.1L902 429.2L902.8 435L903.5 437.5L904.2 434.8L905 428.3L905.8 428L906.5 433.9L907.2 452.5L908 468.4L908.8 471L909.5 484.2L910.2 481.8L911 477L911.8 468.5L912.5 471.8L913.2 477.2L914 490.4L914.8 489.3L915.5 486.2L916.2 482.7L917 486.5L917.8 481.5L918.5 462.3L919.2 468.3L920 457.6L920.8 455.7L921.5 463.9L922.2 476.9L923 487.4L923.8 491.7L924.5 493.4L925.2 486.1L926 486.3L926.8 468.2L927.5 487.4L928.2 486.6L929 493.6L929.8 498.6L930.5 494.4L931.2 499.5L932 497.1L932.8 503.5L933.5 478.9L934.2 479.3L935 471.5L935.8 472.5L936.5 462.8L937.2 468.4L938 483.9L938.8 481.1L939.5 482.7L940.2 481.4L941 479L941.8 477.2L942.5 475.7L943.2 479.1L944 478.7L944.8 478.3L945.5 471.8L946.2 481L947 479.8L947.8 478.5L948.5 467L949.2 475.4L950 465.1L950.8 483.5L951.5 477.2L952.2 483.6L953 454.4L953.8 457L954.5 448.5L955.2 461.8L956 475.6L956.8 476.5L957.5 478.5L958.2 464.8L959 473.8L959.8 476L960.5 451L961.2 468L962 453.9L962.8 445.4L963.5 442L964.2 435.5L965 450.8L965.8 457.7L966.5 464.1L967.2 481.4L968 481.8L968.8 490L969.5 486L970.2 483.6L971 484.1L971.8 474.8L972.5 478.6L973.2 486.9L974 494.5L974.8 493.2L975.5 494.6L976.2 501L977 493.4L977.8 467.7L978.5 461.6L979.2 467.7L980 465.6L980.8 483.3L981.5 482.5L982.2 488.8L983 481.3L983.8 473.9L984.5 473.2L985.2 477.7L986 484.3L986.8 484.3L987.5 484.2L988.2 472.8L989 456.6L989.8 485.1L990.5 481.2L991.2 469L992 472.9L992.8 478.7L993.5 488.5L994.2 491.6L995 497L995.8 487L996.5 471.1L997.2 464.6L998 476L998.8 473.9L999.5 468.9L1000.2 469.4L1001 471.2L1001.8 464.8L1002.5 467L1003.2 465.5L1004 454.4L1004.8 471.2L1005.5 479.9L1006.2 462.5L1007 469.5L1007.8 484.5L1008.5 482.4L1009.2 479.3L1010 475.3L1010.8 475.2L1011.5 478.2L1012.2 479.6L1013 459.1L1013.8 483.8L1014.5 473.8L1015.2 481.9L1016 483.8L1016.8 480.5L1017.5 481.3L1018.2 474.8L1019 466.6L1019.8 473.4L1020.5 468.7L1021.2 485.6L1022 482.5L1022.8 482.4L1023.5 457.7L1024.2 450L1025 468.6L1025.8 442.7L1026.5 437.2L1027.2 436.2L1028 459.7L1028.8 463.8L1029.5 445.7L1030.2 447.8L1031 453L1031.8 453.7L1032.5 452.1L1033.2 455.5L1034 451.2L1034.8 424.3L1035.5 429.3L1036.2 441.7L1037 435.2L1037.8 433.8L1038.5 434.1L1039.2 436.4L1040 436.4L1040.8 433.5L1041.5 441.3L1042.2 440L1043 439L1043.8 437.9L1044.5 433.8L1045.2 429.1L1046 429L1046.8 418.4L1047.5 418.4L1048.2 420.5L1049 427.6L1049.8 433.3L1050.5 425.1L1051.2 430.6L1052 423.9L1052.8 418.4L1053.5 430.4L1054.2 440.6L1055 453.5L1055.8 464.8L1056.5 465.7L1057.2 460.1L1058 456.4L1058.8 446.6L1059.5 455.7L1060.2 446.3L1061 444.3L1061.8 453.9L1062.5 443.2L1063.2 442.3L1064 449.2L1064.8 474L1065.5 449.2L1066.2 441.8L1067 449.5L1067.8 455.4L1068.5 467.2L1069.2 473.2L1070 461L1070.8 458.7L1071.5 460.8L1072.2 470.8L1073 474.3L1073.8 470.5L1074.5 464.7L1075.2 459.9L1076 450L1076.8 467L1077.5 466.2L1078.2 470L1079 477.2L1079.8 480.3L1080.5 474.4L1081.2 474.6L1082 475.2L1082.8 479.1L1083.5 478L1084.2 476.5L1085 482.8L1085.8 466.2L1086.5 482.8L1087.2 457.9L1088 455.8L1088.8 482L1089.5 477.3L1090.2 477.1L1091 456.8L1091.8 480.8L1092.5 491.7L1093.2 484.5L1094 484.3L1094.8 492.8L1095.5 473.9L1096.2 467.4L1097 492.1L1097.8 490.7L1098.5 483.2L1099.2 494.6L1100 476.9L1100.8 463.1L1101.5 479L1102.2 488.7L1103 486.8L1103.8 484.9L1104.5 455.9L1105.2 458.5L1106 451.3L1106.8 455.7L1107.5 464L1108.2 466.5L1109 461.9L1109.8 458.8L1110.5 458.3L1111.2 436.2L1112 461.6L1112.8 455.1L1113.5 445.4L1114.2 439.8L1115 432.5L1115.8 448.9L1116.5 449.9L1117.2 453.3L1118 449.3L1118.8 445.7L1119.5 456.3L1120.2 452.3L1121 458.7L1121.8 457.9L1122.5 458.8L1123.2 454.7L1124 463.8L1124.8 467.8L1125.5 465.7L1126.2 474.3L1127 481.8L1127.8 476.3L1128.5 475.1L1129.2 475.5L1130 480.1L1130.8 467.7L1131.5 467L1132.2 478.2L1133 475.4L1133.8 459.1L1134.5 454.1L1135.2 451L1136 464.6L1136.8 450.9L1137.5 454.5L1138.2 450L1139 431.5L1139.8 421L1140.5 428.1L1141.2 440.4L1142 449L1142.8 437L1143.5 449L1144.2 426.1L1145 429L1145.8 419.9L1146.5 424.5L1147.2 458.1L1148 456.6L1148.8 448.9L1149.5 454.6L1150.2 457L1151 460.5L1151.8 464L1152.5 435.1L1153.2 437.7L1154 471.9L1154.8 481L1155.5 484.7L1156.2 493.3L1157 480.9L1157.8 479.9L1158.5 451.8L1159.2 465.5L1160 460.9L1160.8 457.9L1161.5 468.7L1162.2 453.8L1163 451.4L1163.8 454.7L1164.5 430.4L1165.2 448.4L1166 450.2L1166.8 451.3L1167.5 455.3L1168.2 453.2L1169 462.3L1169.8 462.7L1170.5 461.2L1171.2 444L1172 451.7L1172.8 436.3L1173.5 452.1L1174.2 445.5L1175 452.2L1175.8 442.3L1176.5 447.9L1177.2 424.9L1178 418.4L1178.8 434.1L1179.5 438.2L1180.2 433.2L1181 442.5L1181.8 445.9L1182.5 430L1182.5 416.9Z" fill="#DF536B" stroke="#DF536B" stroke-width="1.2" stroke-linejoin="round"/>
<path d="M840.5 416.9L840.5 443L841.2 439.3L842 439.4L842.8 438.1L843.5 440.6L844.2 443.8L845 446.4L845.8 446.5L846.5 440.4L847.2 447.3L848 449.4L848.8 435.7L849.5 444.6L850.2 438.1L851 437.1L851.8 439.6L852.5 434.6L853.2 440.1L854 440L854.8 447.1L855.5 449L856.2 447.8L857 435.2L857.8 435.8L858.5 438.3L859.2 451L860 449.6L860.8 444.5L861.5 448.6L862.2 450.3L863 450.3L863.8 451L864.5 445.2L865.2 443.9L866 442.8L866.8 446.8L867.5 450.5L868.2 447.3L869 446L869.8 442.9L870.5 444.4L871.2 445.7L872 441.8L872.8 448.7L873.5 446.4L874.2 444.8L875 448.2L875.8 449.4L876.5 448L877.2 436.7L878 440.7L878.8 446.2L879.5 444.3L880.2 443.3L881 449.2L881.8 451L882.5 449.7L883.2 451.7L884 452.5L884.8 450.6L885.5 451.2L886.2 453.2L887 449.4L887.8 449.2L888.5 448.6L889.2 448.3L890 447.9L890.8 450.4L891.5 448.7L892.2 450.1L893 454.4L893.8 445.7L894.5 455.5L895.2 448.7L896 451.8L896.8 445.9L897.5 446.2L898.2 443.3L899 450.2L899.8 453.1L900.5 452.9L901.2 447.2L902 448.7L902.8 458.7L903.5 459.2L904.2 458.6L905 457.6L905.8 454.9L906.5 441.6L907.2 457.1L908 457.7L908.8 459L909.5 463.3L910.2 463.1L911 464.8L911.8 470L912.5 467.9L913.2 466L914 464.2L914.8 461.3L915.5 459.9L916.2 462.4L917 465.1L917.8 460.9L918.5 456.8L919.2 460.4L920 462L920.8 466L921.5 464.1L922.2 461.2L923 461.2L923.8 453.7L924.5 452.4L925.2 450.5L926 451.5L926.8 454.5L927.5 448.3L928.2 449.9L929 455.3L929.8 459.7L930.5 454.3L931.2 456.5L932 467.1L932.8 461.5L933.5 452.8L934.2 457.5L935 460.9L935.8 461.2L936.5 463.4L937.2 460.3L938 457.4L938.8 438.1L939.5 453.4L940.2 449.1L941 453.4L941.8 449.2L942.5 448.5L943.2 452L944 452.8L944.8 440.8L945.5 445.1L946.2 457L947 459.9L947.8 467.1L948.5 470.2L949.2 473.4L950 472.6L950.8 472.8L951.5 468.7L952.2 471.9L953 472.2L953.8 466.5L954.5 460.7L955.2 463.6L956 461.8L956.8 465.9L957.5 467.1L958.2 467.1L959 470.1L959.8 468.6L960.5 464.9L961.2 460.2L962 462.8L962.8 463.9L963.5 467.6L964.2 464.8L965 462.9L965.8 457.5L966.5 455.5L967.2 448.3L968 448.9L968.8 457.3L969.5 449L970.2 446.4L971 444.6L971.8 444.6L972.5 442.4L973.2 443.3L974 449.6L974.8 449.3L975.5 448.2L976.2 458.5L977 456.7L977.8 456.2L978.5 467.3L979.2 473.1L980 473.7L980.8 471.1L981.5 470.5L982.2 469.6L983 477.7L983.8 482.5L984.5 466.5L985.2 469.7L986 485.1L986.8 478.3L987.5 478.6L988.2 482.1L989 485.1L989.8 483.9L990.5 481.4L991.2 475.7L992 473.9L992.8 470.4L993.5 468.1L994.2 464.9L995 467.2L995.8 464.1L996.5 457.5L997.2 457.7L998 456.1L998.8 456L999.5 457.7L1000.2 457.3L1001 462.6L1001.8 453.7L1002.5 451L1003.2 450.6L1004 456.9L1004.8 458.2L1005.5 458.6L1006.2 451.8L1007 450.8L1007.8 452.6L1008.5 453.4L1009.2 451.7L1010 449.3L1010.8 450.1L1011.5 453.8L1012.2 454.4L1013 441.7L1013.8 435.4L1014.5 443L1015.2 450.6L1016 452.5L1016.8 451.1L1017.5 453.8L1018.2 452.9L1019 451.7L1019.8 448L1020.5 445.3L1021.2 434L1022 425.8L1022.8 442.7L1023.5 436.5L1024.2 432.4L1025 432L1025.8 429.1L1026.5 433.3L1027.2 430.8L1028 441.1L1028.8 448L1029.5 453L1030.2 449.2L1031 449.1L1031.8 447.3L1032.5 447.5L1033.2 453.2L1034 449.4L1034.8 448.1L1035.5 449.6L1036.2 452.6L1037 448.1L1037.8 444.1L1038.5 449.3L1039.2 450.5L1040 449.9L1040.8 444.1L1041.5 446.5L1042.2 445.4L1043 447.6L1043.8 449L1044.5 443.4L1045.2 440.2L1046 439.3L1046.8 438.9L1047.5 442.2L1048.2 450.8L1049 448.8L1049.8 441.4L1050.5 442.4L1051.2 449.3L1052 446.5L1052.8 449L1053.5 446.1L1054.2 444.7L1055 443.7L1055.8 450.8L1056.5 453.7L1057.2 450.6L1058 448.6L1058.8 453.9L1059.5 433.1L1060.2 436.8L1061 451L1061.8 450.8L1062.5 451.7L1063.2 447.1L1064 453.5L1064.8 448.8L1065.5 445.3L1066.2 446L1067 446.9L1067.8 455.7L1068.5 453.1L1069.2 454.4L1070 458.4L1070.8 455.1L1071.5 448.9L1072.2 449L1073 444L1073.8 450.5L1074.5 450.4L1075.2 447.1L1076 441.3L1076.8 450.1L1077.5 448L1078.2 452.9L1079 455.9L1079.8 452.3L1080.5 451.2L1081.2 446.4L1082 438.2L1082.8 445.1L1083.5 448.9L1084.2 450.3L1085 436.7L1085.8 447.6L1086.5 442.8L1087.2 451.5L1088 451.2L1088.8 440.5L1089.5 443.1L1090.2 442.9L1091 438.1L1091.8 433.9L1092.5 426.6L1093.2 423.4L1094 428.1L1094.8 425.4L1095.5 422L1096.2 426.2L1097 429L1097.8 427.2L1098.5 427.8L1099.2 424.7L1100 422.7L1100.8 418.6L1101.5 423.9L1102.2 426L1103 426.7L1103.8 430.6L1104.5 431.1L1105.2 427.9L1106 426.4L1106.8 423.7L1107.5 425.5L1108.2 418.5L1109 420.2L1109.8 418L1110.5 417.5L1111.2 417.4L1112 422.8L1112.8 422.5L1113.5 418.8L1114.2 417.5L1115 413.7L1115.8 414.4L1116.5 413.6L1117.2 415.5L1118 415.5L1118.8 402.9L1119.5 402.5L1120.2 405L1121 404.1L1121.8 415.5L1122.5 415.5L1123.2 415.5L1124 415.5L1124.8 415.5L1125.5 406.5L1126.2 409.6L1127 413L1127.8 414.9L1128.5 416.8L1129.2 415.5L1130 413.5L1130.8 409.5L1131.5 409.4L1132.2 408.4L1133 414.6L1133.8 412.3L1134.5 418L1135.2 423L1136 424.1L1136.8 425.8L1137.5 418.2L1138.2 415.5L1139 415.7L1139.8 411.2L1140.5 408.1L1141.2 405.5L1142 409.7L1142.8 411.5L1143.5 408.6L1144.2 415L1145 413.2L1145.8 422.4L1146.5 422.3L1147.2 418.4L1148 418.4L1148.8 418.4L1149.5 418.4L1150.2 419.1L1151 424.4L1151.8 426.5L1152.5 418.4L1153.2 418.4L1154 418.4L1154.8 421.1L1155.5 421.5L1156.2 421.7L1157 422.9L1157.8 422.6L1158.5 417.3L1159.2 421.9L1160 414.7L1160.8 420L1161.5 418.6L1162.2 417.8L1163 420.8L1163.8 426.7L1164.5 434.1L1165.2 433.7L1166 439.6L1166.8 445.9L1167.5 442.3L1168.2 451.6L1169 446.9L1169.8 443.5L1170.5 442.4L1171.2 442.7L1172 434.7L1172.8 443.3L1173.5 436.7L1174.2 436.1L1175 441.6L1175.8 436.6L1176.5 435.3L1177.2 435.4L1178 433.4L1178.8 431.3L1179.5 430.3L1180.2 429.7L1181 421.5L1181.8 424.3L1182.5 422.1L1182.5 416.9Z" fill="#61D04F" stroke="#61D04F" stroke-width="1.2" stroke-linejoin="round"/>
<path d="M840.5 418.4L841.2 425.5L842 417.5L842.8 420.9L843.5 420.8L844.2 419L845 429.8L845.8 418.4L846.5 418.4L847.2 418.4L848 431.9L848.8 430.4L849.5 428L850.2 419.6L851 418.4L851.8 422.9L852.5 429.6L853.2 417.9L854 419.5L854.8 418.4L855.5 417.2L856.2 410.3L857 409.7L857.8 406.1L858.5 405.9L859.2 406.7L860 407.5L860.8 415.5L861.5 409.2L862.2 418.2L863 413.8L863.8 409.9L864.5 402.7L865.2 383.7L866 402.7L866.8 404.5L867.5 412.2L868.2 399.5L869 398.9L869.8 409.6L870.5 422L871.2 416.9L872 414L872.8 414.2L873.5 408.2L874.2 421.8L875 413.9L875.8 401.9L876.5 393.7L877.2 396.4L878 392.7L878.8 413.9L879.5 402.7L880.2 408.2L881 415.5L881.8 415.5L882.5 415.5L883.2 415.5L884 404.6L884.8 415.5L885.5 411.4L886.2 415.8L887 427.7L887.8 437L888.5 437.9L889.2 445.4L890 451.3L890.8 442.1L891.5 439.4L892.2 446L893 443.7L893.8 445.3L894.5 427.2L895.2 429.5L896 429.8L896.8 451.7L897.5 456.1L898.2 438.9L899 422.5L899.8 431.2L900.5 434.5L901.2 428.1L902 429.2L902.8 435L903.5 437.5L904.2 434.8L905 428.3L905.8 428L906.5 433.9L907.2 452.5L908 468.4L908.8 471L909.5 484.2L910.2 481.8L911 477L911.8 468.5L912.5 471.8L913.2 477.2L914 490.4L914.8 489.3L915.5 486.2L916.2 482.7L917 486.5L917.8 481.5L918.5 462.3L919.2 468.3L920 457.6L920.8 455.7L921.5 463.9L922.2 476.9L923 487.4L923.8 491.7L924.5 493.4L925.2 486.1L926 486.3L926.8 468.2L927.5 487.4L928.2 486.6L929 493.6L929.8 498.6L930.5 494.4L931.2 499.5L932 497.1L932.8 503.5L933.5 478.9L934.2 479.3L935 471.5L935.8 472.5L936.5 462.8L937.2 468.4L938 483.9L938.8 481.1L939.5 482.7L940.2 481.4L941 479L941.8 477.2L942.5 475.7L943.2 479.1L944 478.7L944.8 478.3L945.5 471.8L946.2 481L947 479.8L947.8 478.5L948.5 467L949.2 475.4L950 465.1L950.8 483.5L951.5 477.2L952.2 483.6L953 454.4L953.8 457L954.5 448.5L955.2 461.8L956 475.6L956.8 476.5L957.5 478.5L958.2 464.8L959 473.8L959.8 476L960.5 451L961.2 468L962 453.9L962.8 445.4L963.5 442L964.2 435.5L965 450.8L965.8 457.7L966.5 464.1L967.2 481.4L968 481.8L968.8 490L969.5 486L970.2 483.6L971 484.1L971.8 474.8L972.5 478.6L973.2 486.9L974 494.5L974.8 493.2L975.5 494.6L976.2 501L977 493.4L977.8 467.7L978.5 461.6L979.2 467.7L980 465.6L980.8 483.3L981.5 482.5L982.2 488.8L983 481.3L983.8 473.9L984.5 473.2L985.2 477.7L986 484.3L986.8 484.3L987.5 484.2L988.2 472.8L989 456.6L989.8 485.1L990.5 481.2L991.2 469L992 472.9L992.8 478.7L993.5 488.5L994.2 491.6L995 497L995.8 487L996.5 471.1L997.2 464.6L998 476L998.8 473.9L999.5 468.9L1000.2 469.4L1001 471.2L1001.8 464.8L1002.5 467L1003.2 465.5L1004 454.4L1004.8 471.2L1005.5 479.9L1006.2 462.5L1007 469.5L1007.8 484.5L1008.5 482.4L1009.2 479.3L1010 475.3L1010.8 475.2L1011.5 478.2L1012.2 479.6L1013 459.1L1013.8 483.8L1014.5 473.8L1015.2 481.9L1016 483.8L1016.8 480.5L1017.5 481.3L1018.2 474.8L1019 466.6L1019.8 473.4L1020.5 468.7L1021.2 485.6L1022 482.5L1022.8 482.4L1023.5 457.7L1024.2 450L1025 468.6L1025.8 442.7L1026.5 437.2L1027.2 436.2L1028 459.7L1028.8 463.8L1029.5 445.7L1030.2 447.8L1031 453L1031.8 453.7L1032.5 452.1L1033.2 455.5L1034 451.2L1034.8 424.3L1035.5 429.3L1036.2 441.7L1037 435.2L1037.8 433.8L1038.5 434.1L1039.2 436.4L1040 436.4L1040.8 433.5L1041.5 441.3L1042.2 440L1043 439L1043.8 437.9L1044.5 433.8L1045.2 429.1L1046 429L1046.8 418.4L1047.5 418.4L1048.2 420.5L1049 427.6L1049.8 433.3L1050.5 425.1L1051.2 430.6L1052 423.9L1052.8 418.4L1053.5 430.4L1054.2 440.6L1055 453.5L1055.8 464.8L1056.5 465.7L1057.2 460.1L1058 456.4L1058.8 446.6L1059.5 455.7L1060.2 446.3L1061 444.3L1061.8 453.9L1062.5 443.2L1063.2 442.3L1064 449.2L1064.8 474L1065.5 449.2L1066.2 441.8L1067 449.5L1067.8 455.4L1068.5 467.2L1069.2 473.2L1070 461L1070.8 458.7L1071.5 460.8L1072.2 470.8L1073 474.3L1073.8 470.5L1074.5 464.7L1075.2 459.9L1076 450L1076.8 467L1077.5 466.2L1078.2 470L1079 477.2L1079.8 480.3L1080.5 474.4L1081.2 474.6L1082 475.2L1082.8 479.1L1083.5 478L1084.2 476.5L1085 482.8L1085.8 466.2L1086.5 482.8L1087.2 457.9L1088 455.8L1088.8 482L1089.5 477.3L1090.2 477.1L1091 456.8L1091.8 480.8L1092.5 491.7L1093.2 484.5L1094 484.3L1094.8 492.8L1095.5 473.9L1096.2 467.4L1097 492.1L1097.8 490.7L1098.5 483.2L1099.2 494.6L1100 476.9L1100.8 463.1L1101.5 479L1102.2 488.7L1103 486.8L1103.8 484.9L1104.5 455.9L1105.2 458.5L1106 451.3L1106.8 455.7L1107.5 464L1108.2 466.5L1109 461.9L1109.8 458.8L1110.5 458.3L1111.2 436.2L1112 461.6L1112.8 455.1L1113.5 445.4L1114.2 439.8L1115 432.5L1115.8 448.9L1116.5 449.9L1117.2 453.3L1118 449.3L1118.8 445.7L1119.5 456.3L1120.2 452.3L1121 458.7L1121.8 457.9L1122.5 458.8L1123.2 454.7L1124 463.8L1124.8 467.8L1125.5 465.7L1126.2 474.3L1127 481.8L1127.8 476.3L1128.5 475.1L1129.2 475.5L1130 480.1L1130.8 467.7L1131.5 467L1132.2 478.2L1133 475.4L1133.8 459.1L1134.5 454.1L1135.2 451L1136 464.6L1136.8 450.9L1137.5 454.5L1138.2 450L1139 431.5L1139.8 421L1140.5 428.1L1141.2 440.4L1142 449L1142.8 437L1143.5 449L1144.2 426.1L1145 429L1145.8 419.9L1146.5 424.5L1147.2 458.1L1148 456.6L1148.8 448.9L1149.5 454.6L1150.2 457L1151 460.5L1151.8 464L1152.5 435.1L1153.2 437.7L1154 471.9L1154.8 481L1155.5 484.7L1156.2 493.3L1157 480.9L1157.8 479.9L1158.5 451.8L1159.2 465.5L1160 460.9L1160.8 457.9L1161.5 468.7L1162.2 453.8L1163 451.4L1163.8 454.7L1164.5 430.4L1165.2 448.4L1166 450.2L1166.8 451.3L1167.5 455.3L1168.2 453.2L1169 462.3L1169.8 462.7L1170.5 461.2L1171.2 444L1172 451.7L1172.8 436.3L1173.5 452.1L1174.2 445.5L1175 452.2L1175.8 442.3L1176.5 447.9L1177.2 424.9L1178 418.4L1178.8 434.1L1179.5 438.2L1180.2 433.2L1181 442.5L1181.8 445.9L1182.5 430" fill="none" stroke="#DF536B" stroke-width="1.3" stroke-linejoin="round"/>
<path d="M840.5 443L841.2 439.3L842 439.4L842.8 438.1L843.5 440.6L844.2 443.8L845 446.4L845.8 446.5L846.5 440.4L847.2 447.3L848 449.4L848.8 435.7L849.5 444.6L850.2 438.1L851 437.1L851.8 439.6L852.5 434.6L853.2 440.1L854 440L854.8 447.1L855.5 449L856.2 447.8L857 435.2L857.8 435.8L858.5 438.3L859.2 451L860 449.6L860.8 444.5L861.5 448.6L862.2 450.3L863 450.3L863.8 451L864.5 445.2L865.2 443.9L866 442.8L866.8 446.8L867.5 450.5L868.2 447.3L869 446L869.8 442.9L870.5 444.4L871.2 445.7L872 441.8L872.8 448.7L873.5 446.4L874.2 444.8L875 448.2L875.8 449.4L876.5 448L877.2 436.7L878 440.7L878.8 446.2L879.5 444.3L880.2 443.3L881 449.2L881.8 451L882.5 449.7L883.2 451.7L884 452.5L884.8 450.6L885.5 451.2L886.2 453.2L887 449.4L887.8 449.2L888.5 448.6L889.2 448.3L890 447.9L890.8 450.4L891.5 448.7L892.2 450.1L893 454.4L893.8 445.7L894.5 455.5L895.2 448.7L896 451.8L896.8 445.9L897.5 446.2L898.2 443.3L899 450.2L899.8 453.1L900.5 452.9L901.2 447.2L902 448.7L902.8 458.7L903.5 459.2L904.2 458.6L905 457.6L905.8 454.9L906.5 441.6L907.2 457.1L908 457.7L908.8 459L909.5 463.3L910.2 463.1L911 464.8L911.8 470L912.5 467.9L913.2 466L914 464.2L914.8 461.3L915.5 459.9L916.2 462.4L917 465.1L917.8 460.9L918.5 456.8L919.2 460.4L920 462L920.8 466L921.5 464.1L922.2 461.2L923 461.2L923.8 453.7L924.5 452.4L925.2 450.5L926 451.5L926.8 454.5L927.5 448.3L928.2 449.9L929 455.3L929.8 459.7L930.5 454.3L931.2 456.5L932 467.1L932.8 461.5L933.5 452.8L934.2 457.5L935 460.9L935.8 461.2L936.5 463.4L937.2 460.3L938 457.4L938.8 438.1L939.5 453.4L940.2 449.1L941 453.4L941.8 449.2L942.5 448.5L943.2 452L944 452.8L944.8 440.8L945.5 445.1L946.2 457L947 459.9L947.8 467.1L948.5 470.2L949.2 473.4L950 472.6L950.8 472.8L951.5 468.7L952.2 471.9L953 472.2L953.8 466.5L954.5 460.7L955.2 463.6L956 461.8L956.8 465.9L957.5 467.1L958.2 467.1L959 470.1L959.8 468.6L960.5 464.9L961.2 460.2L962 462.8L962.8 463.9L963.5 467.6L964.2 464.8L965 462.9L965.8 457.5L966.5 455.5L967.2 448.3L968 448.9L968.8 457.3L969.5 449L970.2 446.4L971 444.6L971.8 444.6L972.5 442.4L973.2 443.3L974 449.6L974.8 449.3L975.5 448.2L976.2 458.5L977 456.7L977.8 456.2L978.5 467.3L979.2 473.1L980 473.7L980.8 471.1L981.5 470.5L982.2 469.6L983 477.7L983.8 482.5L984.5 466.5L985.2 469.7L986 485.1L986.8 478.3L987.5 478.6L988.2 482.1L989 485.1L989.8 483.9L990.5 481.4L991.2 475.7L992 473.9L992.8 470.4L993.5 468.1L994.2 464.9L995 467.2L995.8 464.1L996.5 457.5L997.2 457.7L998 456.1L998.8 456L999.5 457.7L1000.2 457.3L1001 462.6L1001.8 453.7L1002.5 451L1003.2 450.6L1004 456.9L1004.8 458.2L1005.5 458.6L1006.2 451.8L1007 450.8L1007.8 452.6L1008.5 453.4L1009.2 451.7L1010 449.3L1010.8 450.1L1011.5 453.8L1012.2 454.4L1013 441.7L1013.8 435.4L1014.5 443L1015.2 450.6L1016 452.5L1016.8 451.1L1017.5 453.8L1018.2 452.9L1019 451.7L1019.8 448L1020.5 445.3L1021.2 434L1022 425.8L1022.8 442.7L1023.5 436.5L1024.2 432.4L1025 432L1025.8 429.1L1026.5 433.3L1027.2 430.8L1028 441.1L1028.8 448L1029.5 453L1030.2 449.2L1031 449.1L1031.8 447.3L1032.5 447.5L1033.2 453.2L1034 449.4L1034.8 448.1L1035.5 449.6L1036.2 452.6L1037 448.1L1037.8 444.1L1038.5 449.3L1039.2 450.5L1040 449.9L1040.8 444.1L1041.5 446.5L1042.2 445.4L1043 447.6L1043.8 449L1044.5 443.4L1045.2 440.2L1046 439.3L1046.8 438.9L1047.5 442.2L1048.2 450.8L1049 448.8L1049.8 441.4L1050.5 442.4L1051.2 449.3L1052 446.5L1052.8 449L1053.5 446.1L1054.2 444.7L1055 443.7L1055.8 450.8L1056.5 453.7L1057.2 450.6L1058 448.6L1058.8 453.9L1059.5 433.1L1060.2 436.8L1061 451L1061.8 450.8L1062.5 451.7L1063.2 447.1L1064 453.5L1064.8 448.8L1065.5 445.3L1066.2 446L1067 446.9L1067.8 455.7L1068.5 453.1L1069.2 454.4L1070 458.4L1070.8 455.1L1071.5 448.9L1072.2 449L1073 444L1073.8 450.5L1074.5 450.4L1075.2 447.1L1076 441.3L1076.8 450.1L1077.5 448L1078.2 452.9L1079 455.9L1079.8 452.3L1080.5 451.2L1081.2 446.4L1082 438.2L1082.8 445.1L1083.5 448.9L1084.2 450.3L1085 436.7L1085.8 447.6L1086.5 442.8L1087.2 451.5L1088 451.2L1088.8 440.5L1089.5 443.1L1090.2 442.9L1091 438.1L1091.8 433.9L1092.5 426.6L1093.2 423.4L1094 428.1L1094.8 425.4L1095.5 422L1096.2 426.2L1097 429L1097.8 427.2L1098.5 427.8L1099.2 424.7L1100 422.7L1100.8 418.6L1101.5 423.9L1102.2 426L1103 426.7L1103.8 430.6L1104.5 431.1L1105.2 427.9L1106 426.4L1106.8 423.7L1107.5 425.5L1108.2 418.5L1109 420.2L1109.8 418L1110.5 417.5L1111.2 417.4L1112 422.8L1112.8 422.5L1113.5 418.8L1114.2 417.5L1115 413.7L1115.8 414.4L1116.5 413.6L1117.2 415.5L1118 415.5L1118.8 402.9L1119.5 402.5L1120.2 405L1121 404.1L1121.8 415.5L1122.5 415.5L1123.2 415.5L1124 415.5L1124.8 415.5L1125.5 406.5L1126.2 409.6L1127 413L1127.8 414.9L1128.5 416.8L1129.2 415.5L1130 413.5L1130.8 409.5L1131.5 409.4L1132.2 408.4L1133 414.6L1133.8 412.3L1134.5 418L1135.2 423L1136 424.1L1136.8 425.8L1137.5 418.2L1138.2 415.5L1139 415.7L1139.8 411.2L1140.5 408.1L1141.2 405.5L1142 409.7L1142.8 411.5L1143.5 408.6L1144.2 415L1145 413.2L1145.8 422.4L1146.5 422.3L1147.2 418.4L1148 418.4L1148.8 418.4L1149.5 418.4L1150.2 419.1L1151 424.4L1151.8 426.5L1152.5 418.4L1153.2 418.4L1154 418.4L1154.8 421.1L1155.5 421.5L1156.2 421.7L1157 422.9L1157.8 422.6L1158.5 417.3L1159.2 421.9L1160 414.7L1160.8 420L1161.5 418.6L1162.2 417.8L1163 420.8L1163.8 426.7L1164.5 434.1L1165.2 433.7L1166 439.6L1166.8 445.9L1167.5 442.3L1168.2 451.6L1169 446.9L1169.8 443.5L1170.5 442.4L1171.2 442.7L1172 434.7L1172.8 443.3L1173.5 436.7L1174.2 436.1L1175 441.6L1175.8 436.6L1176.5 435.3L1177.2 435.4L1178 433.4L1178.8 431.3L1179.5 430.3L1180.2 429.7L1181 421.5L1181.8 424.3L1182.5 422.1" fill="none" stroke="#61D04F" stroke-width="1.3" stroke-linejoin="round"/>
<path d="M840.5 451.3L841.2 454L842 458.1L842.8 454L843.5 456.8L844.2 453.7L845 448.9L845.8 446.7L846.5 441.2L847.2 440.9L848 452.8L848.8 448.3L849.5 446.2L850.2 447.1L851 440.4L851.8 438L852.5 442.1L853.2 437L854 443.8L854.8 438.8L855.5 434.9L856.2 441.9L857 450.8L857.8 455.2L858.5 457.1L859.2 449.3L860 444.9L860.8 450.9L861.5 447.4L862.2 439.7L863 436.4L863.8 432.3L864.5 416.6L865.2 411.9L866 420.9L866.8 433.1L867.5 441.2L868.2 428.6L869 434.8L869.8 435.8L870.5 443.4L871.2 444.3L872 455.6L872.8 445.6L873.5 457.6L874.2 457.8L875 453.6L875.8 449.4L876.5 445.1L877.2 439.6L878 442.9L878.8 444.1L879.5 447.4L880.2 454L881 443.1L881.8 438.9L882.5 441.9L883.2 441.3L884 448.4L884.8 450L885.5 448.5L886.2 456.3L887 472.9L887.8 467.7L888.5 483.6L889.2 479.9L890 495.5L890.8 488.2L891.5 487.8L892.2 483.4L893 493.6L893.8 494.4L894.5 489.9L895.2 486.6L896 490L896.8 491.7L897.5 487.2L898.2 483.2L899 481L899.8 486L900.5 482.2L901.2 491.3L902 495.4L902.8 486.1L903.5 485.1L904.2 484.8L905 483.2L905.8 470.8L906.5 480.4L907.2 490.1L908 502.4L908.8 516.2L909.5 519.8L910.2 514.1L911 518.8L911.8 514L912.5 510.8L913.2 508.7L914 506.9L914.8 510.4L915.5 514.8L916.2 510.4L917 517L917.8 506.9L918.5 517.5L919.2 516.8L920 503.9L920.8 511.4L921.5 515.8L922.2 513.5L923 514.3L923.8 515.6L924.5 517.8L925.2 523.2L926 518.9L926.8 522.6L927.5 508.7L928.2 519.2L929 519.4L929.8 516.6L930.5 515L931.2 511L932 517.7L932.8 516.8L933.5 514.6L934.2 515.5L935 520.4L935.8 519.5L936.5 513.6L937.2 506.9L938 525.2L938.8 517.6L939.5 526.3L940.2 522.3L941 518.7L941.8 517.5L942.5 520.8L943.2 524.9L944 527.7L944.8 527.1L945.5 525.9L946.2 520.4L947 514.7L947.8 513.5L948.5 515.9L949.2 515.1L950 519.2L950.8 522.1L951.5 515.1L952.2 513.6L953 507.4L953.8 508.8L954.5 509.8L955.2 495.5L956 490L956.8 494.3L957.5 490.2L958.2 494.3L959 493.5L959.8 494L960.5 496L961.2 495.7L962 501.7L962.8 500L963.5 503.4L964.2 501.7L965 501.6L965.8 507.6L966.5 500.1L967.2 508.4L968 522.6L968.8 518.3L969.5 515.4L970.2 518.2L971 511.4L971.8 515.1L972.5 519.6L973.2 519.4L974 513L974.8 516L975.5 515.9L976.2 522.3L977 516.2L977.8 512.9L978.5 506.9L979.2 511.4L980 519.9L980.8 522.2L981.5 515.8L982.2 509.7L983 505.3L983.8 505.8L984.5 499.1L985.2 501.1L986 503.9L986.8 511.6L987.5 512.6L988.2 509.2L989 516.9L989.8 504.1L990.5 510.6L991.2 517.1L992 513.6L992.8 511.1L993.5 510.2L994.2 512L995 512.9L995.8 510.1L996.5 507.5L997.2 508.5L998 509.7L998.8 527.7L999.5 521.4L1000.2 515.1L1001 521.9L1001.8 515.7L1002.5 506.9L1003.2 507.3L1004 506.9L1004.8 510.5L1005.5 514.3L1006.2 511.8L1007 506L1007.8 504L1008.5 499.6L1009.2 507.1L1010 509.2L1010.8 511.4L1011.5 504.3L1012.2 511.1L1013 496.5L1013.8 496.8L1014.5 504.7L1015.2 506.5L1016 494.9L1016.8 495.2L1017.5 502.9L1018.2 503.2L1019 498.6L1019.8 493.1L1020.5 502.1L1021.2 490.7L1022 497.8L1022.8 494L1023.5 485.4L1024.2 485.7L1025 488.7L1025.8 479.6L1026.5 473.4L1027.2 477.7L1028 479.4L1028.8 473.4L1029.5 473.4L1030.2 477L1031 479.7L1031.8 484.2L1032.5 494.2L1033.2 487.4L1034 487.7L1034.8 474.6L1035.5 477.5L1036.2 472.7L1037 477.7L1037.8 472L1038.5 472L1039.2 474.1L1040 465.1L1040.8 471.4L1041.5 481.9L1042.2 482.8L1043 469.8L1043.8 464.7L1044.5 460.9L1045.2 458.6L1046 465.1L1046.8 470.1L1047.5 466.1L1048.2 462.2L1049 458.2L1049.8 461.6L1050.5 468.7L1051.2 473.6L1052 486.3L1052.8 492.2L1053.5 491.3L1054.2 496.2L1055 491.1L1055.8 485.7L1056.5 487.1L1057.2 487.6L1058 493.2L1058.8 497.3L1059.5 489.6L1060.2 494.2L1061 495.3L1061.8 495.7L1062.5 497.7L1063.2 494.1L1064 497.1L1064.8 507.2L1065.5 509.4L1066.2 505.5L1067 507.7L1067.8 506.3L1068.5 508.6L1069.2 506.8L1070 508.5L1070.8 508.2L1071.5 501.3L1072.2 494.5L1073 504.3L1073.8 492.5L1074.5 504.6L1075.2 505.8L1076 498.6L1076.8 498.6L1077.5 500.5L1078.2 496L1079 490.9L1079.8 491.4L1080.5 495.4L1081.2 496.1L1082 495.2L1082.8 492.8L1083.5 502.7L1084.2 494.8L1085 500.9L1085.8 506.6L1086.5 503.4L1087.2 505.6L1088 508.3L1088.8 514.6L1089.5 504.5L1090.2 508.8L1091 519.7L1091.8 511.5L1092.5 501.5L1093.2 502.6L1094 499L1094.8 495L1095.5 494.6L1096.2 503.1L1097 498.7L1097.8 490.7L1098.5 484.4L1099.2 484.2L1100 479.8L1100.8 488.2L1101.5 480.5L1102.2 475.5L1103 470.9L1103.8 479.7L1104.5 474.7L1105.2 476.9L1106 476L1106.8 475.7L1107.5 480.5L1108.2 489.7L1109 484.8L1109.8 474.1L1110.5 463.3L1111.2 466.1L1112 455.2L1112.8 449.1L1113.5 441.9L1114.2 446.6L1115 445.3L1115.8 441.9L1116.5 442.3L1117.2 439.1L1118 441.3L1118.8 434L1119.5 427.6L1120.2 430.1L1121 433L1121.8 437.1L1122.5 439.6L1123.2 444.1L1124 450.6L1124.8 448.3L1125.5 447.7L1126.2 448.8L1127 450.5L1127.8 456.5L1128.5 457.9L1129.2 457.7L1130 457.5L1130.8 452.2L1131.5 452.7L1132.2 444.2L1133 449.5L1133.8 445.2L1134.5 447.1L1135.2 437.5L1136 447.2L1136.8 444.1L1137.5 430.9L1138.2 439.3L1139 432.1L1139.8 431.7L1140.5 423.6L1141.2 438L1142 440.4L1142.8 432.5L1143.5 436.7L1144.2 439.8L1145 441.4L1145.8 440.4L1146.5 445.9L1147.2 449.4L1148 458.4L1148.8 456.6L1149.5 456.4L1150.2 454.6L1151 448.7L1151.8 454.1L1152.5 443.8L1153.2 454.8L1154 466.5L1154.8 466L1155.5 481.1L1156.2 485.2L1157 482.6L1157.8 484.4L1158.5 480L1159.2 470.6L1160 472.3L1160.8 462.5L1161.5 460L1162.2 461.3L1163 464L1163.8 469.3L1164.5 462L1165.2 461.8L1166 468.8L1166.8 476.4L1167.5 487.2L1168.2 482L1169 489.2L1169.8 490.8L1170.5 490.4L1171.2 498.3L1172 500.3L1172.8 494.3L1173.5 491L1174.2 490.6L1175 487.1L1175.8 476.4L1176.5 472.7L1177.2 472.4L1178 471.3L1178.8 473.2L1179.5 471L1180.2 460L1181 463L1181.8 459.3L1182.5 456.1" fill="none" stroke="#000" stroke-width="1.3" stroke-linejoin="round"/>
</g>
<line x1="840.5" x2="1182.5" y1="416.9" y2="416.9" stroke="#000" stroke-width="1.8" stroke-dasharray="2.3 4.1"/>
<rect x="854.0" y="311.5" width="13" height="10.5" fill="#000" stroke="#000" stroke-width="1.2"/>
<text x="879.5" y="324.6" font-size="16" fill="#000" stroke="#000" stroke-width="0.3" textLength="36.5" lengthAdjust="spacingAndGlyphs">Total</text>
<rect x="854.0" y="331.9" width="13" height="10.5" fill="#DF536B" stroke="#000" stroke-width="1.2"/>
<text x="879.5" y="344.4" font-size="16" fill="#000" stroke="#000" stroke-width="0.3" textLength="23.5" lengthAdjust="spacingAndGlyphs">1-5</text>
<rect x="854.0" y="352.3" width="13" height="10.5" fill="#61D04F" stroke="#000" stroke-width="1.2"/>
<text x="879.5" y="364.2" font-size="16" fill="#000" stroke="#000" stroke-width="0.3" textLength="35.2" lengthAdjust="spacingAndGlyphs">5-Inf</text>
<rect x="840.5" y="297.5" width="342" height="215.0" fill="none" stroke="#000" stroke-width="1.6"/>
<line x1="835" x2="840.5" y1="321.4" y2="321.4" stroke="#000" stroke-width="1.2"/>
<text x="831" y="328.7" font-size="16" text-anchor="end" fill="#000" stroke="#000" stroke-width="0.3">20</text>
<line x1="835" x2="840.5" y1="369.2" y2="369.2" stroke="#000" stroke-width="1.2"/>
<text x="831" y="376.5" font-size="16" text-anchor="end" fill="#000" stroke="#000" stroke-width="0.3">10</text>
<line x1="835" x2="840.5" y1="416.9" y2="416.9" stroke="#000" stroke-width="1.2"/>
<text x="831" y="424.2" font-size="16" text-anchor="end" fill="#000" stroke="#000" stroke-width="0.3">0</text>
<line x1="835" x2="840.5" y1="464.7" y2="464.7" stroke="#000" stroke-width="1.2"/>
<text x="831" y="472" font-size="16" text-anchor="end" fill="#000" stroke="#000" stroke-width="0.3">-10</text>
<line x1="835" x2="840.5" y1="512.5" y2="512.5" stroke="#000" stroke-width="1.2"/>
<text x="831" y="519.8" font-size="16" text-anchor="end" fill="#000" stroke="#000" stroke-width="0.3">-20</text>
<line x1="990.6" x2="990.6" y1="512.5" y2="517.5" stroke="#000" stroke-width="1.2"/>
<text x="990.1" y="536" font-size="16" text-anchor="middle" fill="#000" stroke="#000" stroke-width="0.3" textLength="37" lengthAdjust="spacingAndGlyphs">2023</text>
<line x1="1180.6" x2="1180.6" y1="512.5" y2="517.5" stroke="#000" stroke-width="1.2"/>
<text x="1180.1" y="536" font-size="16" text-anchor="middle" fill="#000" stroke="#000" stroke-width="0.3" textLength="37" lengthAdjust="spacingAndGlyphs">2024</text>
<text transform="translate(1009 291.4) scale(1 1.18)" x="0" y="0" font-size="19.2" font-weight="bold" text-anchor="middle" fill="#000" textLength="39.1" lengthAdjust="spacingAndGlyphs">WTI</text>
<clipPath id="c20"><rect x="35.5" y="571.5" width="342" height="215.0"/></clipPath>
<g stroke="#D3D3D3" stroke-width="1.5" stroke-dasharray="7 5.5"><line x1="35.5" x2="377.5" y1="595.4" y2="595.4"/><line x1="35.5" x2="377.5" y1="643.2" y2="643.2"/><line x1="35.5" x2="377.5" y1="738.7" y2="738.7"/></g>
<g clip-path="url(#c20)" shape-rendering="crispEdges">
<path d="M35.5 690.9L35.5 702.9L36.2 702.2L37 697.5L37.8 714.5L38.5 713.5L39.2 700L40 700.3L40.8 702.3L41.5 707.1L42.2 708.9L43 709.7L43.8 700L44.5 699.3L45.2 703.1L46 704.3L46.8 707.6L47.5 709.1L48.2 709.6L49 697.8L49.8 704.3L50.5 706.8L51.2 704.9L52 698.6L52.8 692.4L53.5 692.4L54.2 692.4L55 693L55.8 697.1L56.5 693.7L57.2 691.6L58 686.8L58.8 676.3L59.5 672.3L60.2 688.5L61 683.5L61.8 672L62.5 645.3L63.2 663.4L64 653.2L64.8 648.2L65.5 646.1L66.2 645.7L67 634.2L67.8 630.1L68.5 640.6L69.2 648L70 649.5L70.8 643.4L71.5 633.1L72.2 634.7L73 652.4L73.8 660.2L74.5 641.1L75.2 638L76 641.1L76.8 638.7L77.5 635L78.2 654.7L79 648.9L79.8 633.4L80.5 629.5L81.2 624.7L82 617.7L82.8 625.3L83.5 614.1L84.2 617.8L85 609.8L85.8 605.6L86.5 605.5L87.2 605.4L88 613.3L88.8 607.1L89.5 605.6L90.2 605.3L91 603L91.8 601L92.5 607.5L93.2 612L94 616.6L94.8 618L95.5 600.1L96.2 603.5L97 612.5L97.8 611.4L98.5 622.6L99.2 626.4L100 629L100.8 636.8L101.5 634.3L102.2 638.5L103 638.5L103.8 638.5L104.5 629.8L105.2 633.8L106 629.9L106.8 630.9L107.5 639.9L108.2 646L109 638L109.8 626L110.5 617.6L111.2 622.3L112 628.3L112.8 624.1L113.5 633.1L114.2 622.6L115 634L115.8 626.1L116.5 644.5L117.2 639.8L118 663.5L118.8 667.9L119.5 662.8L120.2 641.1L121 637L121.8 664.2L122.5 624.4L123.2 627.1L124 619.5L124.8 611.1L125.5 604.6L126.2 609.8L127 615.9L127.8 620.2L128.5 610.6L129.2 615.7L130 627.2L130.8 621.3L131.5 616.8L132.2 617L133 617.6L133.8 621.5L134.5 635.7L135.2 638.5L136 629.6L136.8 623.1L137.5 621.7L138.2 621.7L139 619.1L139.8 611.1L140.5 603.6L141.2 607.1L142 608.6L142.8 632.9L143.5 643.5L144.2 644.4L145 626.2L145.8 618.1L146.5 614L147.2 613.8L148 615.4L148.8 623.6L149.5 624L150.2 624.7L151 634.5L151.8 646.5L152.5 646.4L153.2 624.9L154 621L154.8 622.4L155.5 625.8L156.2 618.1L157 607.4L157.8 602.5L158.5 603L159.2 611.5L160 601.5L160.8 603.7L161.5 634.4L162.2 649.8L163 646L163.8 632.9L164.5 638.3L165.2 623.1L166 619.9L166.8 616.6L167.5 612.7L168.2 607.8L169 611.3L169.8 611.3L170.5 623.6L171.2 605.8L172 603.9L172.8 598.5L173.5 590.4L174.2 598L175 597.2L175.8 597.6L176.5 590.2L177.2 588.6L178 604.3L178.8 604.9L179.5 578.9L180.2 581.4L181 574L181.8 576.7L182.5 581.3L183.2 602.3L184 605.6L184.8 611.3L185.5 601L186.2 595.4L187 600.5L187.8 590.3L188.5 585L189.2 593L190 587.1L190.8 587.2L191.5 590.9L192.2 574.2L193 585L193.8 582.9L194.5 583.7L195.2 579L196 583.2L196.8 571.7L197.5 579.8L198.2 584.1L199 585.7L199.8 592.1L200.5 593.9L201.2 593.7L202 593.7L202.8 588.2L203.5 591.6L204.2 594.1L205 582.7L205.8 581.4L206.5 583.8L207.2 591.5L208 591.1L208.8 591L209.5 588.5L210.2 600.7L211 577.6L211.8 581.1L212.5 585.8L213.2 593.4L214 595.9L214.8 594L215.5 604.6L216.2 605.4L217 608.8L217.8 601.3L218.5 603.4L219.2 631.5L220 625.6L220.8 638.6L221.5 636.9L222.2 609.1L223 608.4L223.8 609.6L224.5 614.5L225.2 608.4L226 621.1L226.8 622L227.5 644.9L228.2 645.8L229 655.1L229.8 649.2L230.5 653.9L231.2 657.2L232 656.5L232.8 628.1L233.5 653L234.2 638L235 640.5L235.8 649.6L236.5 654.6L237.2 643.2L238 640.8L238.8 661.5L239.5 664.9L240.2 665.8L241 652.9L241.8 642.1L242.5 649.2L243.2 653.3L244 646.3L244.8 641.1L245.5 643.7L246.2 642.3L247 637.4L247.8 640L248.5 631.7L249.2 646.6L250 661.9L250.8 665.9L251.5 671.8L252.2 647L253 641L253.8 647.2L254.5 644.2L255.2 644.2L256 643.9L256.8 670.8L257.5 666.8L258.2 656.2L259 640.7L259.8 636.5L260.5 627.5L261.2 623.3L262 626.1L262.8 612.7L263.5 630.4L264.2 627.9L265 633L265.8 655L266.5 649.4L267.2 630.1L268 639.7L268.8 632.3L269.5 633.2L270.2 629.1L271 635.1L271.8 639.3L272.5 636.1L273.2 643.6L274 648.3L274.8 643.9L275.5 634.7L276.2 651.8L277 651.6L277.8 633.6L278.5 637.9L279.2 645L280 649L280.8 648.3L281.5 644.7L282.2 642.5L283 645.6L283.8 643.3L284.5 643.9L285.2 656.1L286 653L286.8 671.1L287.5 664.2L288.2 662.6L289 649.5L289.8 644L290.5 648.1L291.2 655.4L292 651.6L292.8 642.9L293.5 648.6L294.2 674.7L295 663.8L295.8 656.5L296.5 651.5L297.2 643.1L298 642.5L298.8 632.6L299.5 635.8L300.2 642L301 655L301.8 642.2L302.5 642.4L303.2 649.5L304 644.5L304.8 670.1L305.5 645.2L306.2 645.1L307 645.1L307.8 635.9L308.5 635.2L309.2 633.4L310 626.2L310.8 632.4L311.5 638.5L312.2 639L313 638.9L313.8 667.2L314.5 665.2L315.2 657.6L316 635.1L316.8 636.1L317.5 636.8L318.2 646.3L319 649L319.8 635.7L320.5 634.5L321.2 643.5L322 640.7L322.8 650.1L323.5 647.5L324.2 652L325 660.2L325.8 648L326.5 647.7L327.2 636.1L328 642.9L328.8 638.7L329.5 636.1L330.2 634.7L331 637.6L331.8 635.7L332.5 626.6L333.2 632.7L334 636.6L334.8 622.8L335.5 618.3L336.2 625.2L337 622.4L337.8 605L338.5 592.8L339.2 584L340 576.5L340.8 577.1L341.5 578.8L342.2 583.1L343 596.6L343.8 599L344.5 599.4L345.2 612.7L346 608.3L346.8 610L347.5 618.1L348.2 617.8L349 616.1L349.8 623L350.5 610.6L351.2 620.4L352 605.7L352.8 596.9L353.5 594.6L354.2 603.5L355 603.6L355.8 608.8L356.5 610L357.2 619.6L358 621.4L358.8 620.4L359.5 649.9L360.2 626.1L361 625.9L361.8 635.2L362.5 639.1L363.2 639.6L364 657.3L364.8 654.5L365.5 658.7L366.2 665.2L367 652.2L367.8 634.6L368.5 632.8L369.2 648.4L370 646L370.8 636.8L371.5 636.6L372.2 624L373 623L373.8 631.1L374.5 619L375.2 623.9L376 628.6L376.8 643.5L377.5 641.1L377.5 690.9Z" fill="#000" stroke="#000" stroke-width="1.2" stroke-linejoin="round"/>
<path d="M35.5 690.9L35.5 698.8L36.2 694.5L37 689.5L37.8 683.2L38.5 680.2L39.2 689.6L40 690L40.8 692.4L41.5 697.8L42.2 692.4L43 692.4L43.8 692.4L44.5 704.8L45.2 696.6L46 690.9L46.8 689.5L47.5 695L48.2 687.5L49 705.1L49.8 693.3L50.5 692.4L51.2 697.2L52 697.2L52.8 692.4L53.5 694.8L54.2 708.1L55 705.5L55.8 697L56.5 692.4L57.2 689.5L58 681.4L58.8 689.5L59.5 686.5L60.2 676.5L61 668.8L61.8 669.8L62.5 667L63.2 659.6L64 664.6L64.8 667L65.5 663.5L66.2 664L67 661.7L67.8 652L68.5 651.8L69.2 666.3L70 667.5L70.8 672.4L71.5 663.2L72.2 689.1L73 667.2L73.8 670.6L74.5 677L75.2 665.9L76 669.4L76.8 662.4L77.5 663.4L78.2 650.8L79 647.7L79.8 649.4L80.5 661L81.2 650L82 645.3L82.8 647.1L83.5 649.7L84.2 629.3L85 631L85.8 620.4L86.5 621.5L87.2 621.1L88 610.8L88.8 617.8L89.5 613.3L90.2 618L91 619.3L91.8 620L92.5 626.5L93.2 627.4L94 623.2L94.8 613.4L95.5 617.5L96.2 612L97 612.1L97.8 611.3L98.5 617.2L99.2 608.7L100 618.9L100.8 628.4L101.5 626.9L102.2 639.7L103 641.8L103.8 623.2L104.5 624.1L105.2 648.8L106 647.9L106.8 630.7L107.5 631.2L108.2 613.3L109 605.3L109.8 627.6L110.5 597.5L111.2 604.6L112 617.3L112.8 620.4L113.5 619.2L114.2 612.8L115 608L115.8 612.2L116.5 622.9L117.2 626L118 629L118.8 647.2L119.5 651.3L120.2 620.7L121 622L121.8 628.2L122.5 622.2L123.2 613.9L124 615.4L124.8 631.1L125.5 627.9L126.2 635.8L127 622.6L127.8 620.5L128.5 620.7L129.2 614.9L130 615.4L130.8 614.9L131.5 634.6L132.2 638.7L133 641.9L133.8 617.6L134.5 621.1L135.2 635L136 603L136.8 606.8L137.5 605.1L138.2 600.2L139 591.9L139.8 615.8L140.5 608L141.2 609.3L142 590L142.8 594.9L143.5 594L144.2 596.4L145 601.7L145.8 602.3L146.5 610.2L147.2 629.4L148 636.4L148.8 612.6L149.5 618.9L150.2 623.7L151 626.4L151.8 608.9L152.5 606.3L153.2 608.1L154 604.9L154.8 608.6L155.5 601.3L156.2 609.3L157 628.2L157.8 599.4L158.5 605.4L159.2 602.3L160 609L160.8 609.2L161.5 614.3L162.2 617.8L163 629.7L163.8 624.4L164.5 624.7L165.2 618.1L166 623.2L166.8 611.1L167.5 601.1L168.2 604.5L169 607.5L169.8 628.6L170.5 631.3L171.2 643.2L172 615.3L172.8 621.5L173.5 617.8L174.2 620.5L175 627L175.8 633.7L176.5 634.7L177.2 619.2L178 612.6L178.8 617.6L179.5 623.3L180.2 643.2L181 634.6L181.8 635.3L182.5 647L183.2 609.7L184 620.5L184.8 611.1L185.5 615.1L186.2 615.7L187 622.1L187.8 618.6L188.5 618.5L189.2 620.4L190 622.4L190.8 622L191.5 618.4L192.2 618.9L193 631.3L193.8 640.3L194.5 642.4L195.2 630.1L196 616.7L196.8 616.4L197.5 609.9L198.2 616.6L199 622.9L199.8 613.5L200.5 619.8L201.2 626.9L202 625.1L202.8 619.4L203.5 631.5L204.2 626.5L205 628.3L205.8 632.8L206.5 640.9L207.2 632.2L208 645.3L208.8 656L209.5 651.4L210.2 652.6L211 645L211.8 630L212.5 644.4L213.2 631L214 631.8L214.8 635.6L215.5 642.9L216.2 651.6L217 653.7L217.8 650.5L218.5 652.6L219.2 657.9L220 677.9L220.8 678.7L221.5 657.4L222.2 655.9L223 655.6L223.8 659L224.5 667.9L225.2 671.1L226 672.4L226.8 666.5L227.5 678.4L228.2 681.1L229 683.5L229.8 698.8L230.5 696.3L231.2 710.7L232 714.3L232.8 710.1L233.5 703.7L234.2 718.7L235 706.7L235.8 707.7L236.5 730.4L237.2 722.3L238 714.5L238.8 717.6L239.5 706.9L240.2 706.2L241 714L241.8 697.1L242.5 692.6L243.2 709.4L244 699.3L244.8 696.6L245.5 691.3L246.2 684.3L247 681L247.8 667.3L248.5 662L249.2 661L250 664.9L250.8 663.2L251.5 668.6L252.2 662.7L253 664.9L253.8 689.5L254.5 689.5L255.2 689.5L256 692.1L256.8 692.4L257.5 692.4L258.2 674.4L259 672.1L259.8 659.2L260.5 653.8L261.2 659.9L262 667.7L262.8 676.4L263.5 678L264.2 672.8L265 676.5L265.8 675.5L266.5 665.6L267.2 661.5L268 654.9L268.8 655.2L269.5 654.5L270.2 648.5L271 643.2L271.8 667.5L272.5 666.1L273.2 666.1L274 644.5L274.8 645.7L275.5 641L276.2 639.9L277 653.5L277.8 637.8L278.5 639.5L279.2 653.3L280 663.2L280.8 670.7L281.5 668.9L282.2 679.8L283 682.7L283.8 659L284.5 653.4L285.2 667.7L286 666.7L286.8 659.2L287.5 657.8L288.2 644.2L289 643.2L289.8 650L290.5 656L291.2 663.6L292 678.2L292.8 674.2L293.5 656.6L294.2 651.4L295 664.7L295.8 662.9L296.5 659.6L297.2 647.8L298 633.4L298.8 638.6L299.5 642.3L300.2 641.2L301 658.5L301.8 654.3L302.5 660.1L303.2 658.3L304 659.4L304.8 652.2L305.5 649.8L306.2 640.1L307 643.4L307.8 640.8L308.5 661.9L309.2 642.9L310 642.4L310.8 642.2L311.5 646L312.2 643.4L313 643.8L313.8 644.3L314.5 646L315.2 645.3L316 642.5L316.8 644.8L317.5 642.8L318.2 649.3L319 646.1L319.8 648.4L320.5 653.3L321.2 654.3L322 667.1L322.8 669.7L323.5 656L324.2 659.6L325 666.1L325.8 655L326.5 633.4L327.2 627.3L328 628.2L328.8 628.2L329.5 633.8L330.2 632.6L331 635.2L331.8 625.3L332.5 625.7L333.2 633L334 637.4L334.8 623.2L335.5 619.2L336.2 617.1L337 608.4L337.8 608.7L338.5 603L339.2 600.3L340 590.1L340.8 596L341.5 613.9L342.2 594.2L343 591.6L343.8 599.8L344.5 610L345.2 635.9L346 650.5L346.8 626.4L347.5 625L348.2 623.9L349 629.7L349.8 618.7L350.5 642.9L351.2 639.9L352 635.3L352.8 637.1L353.5 645.3L354.2 643.5L355 628.1L355.8 633L356.5 630.4L357.2 632.3L358 633.2L358.8 639.7L359.5 652L360.2 636.2L361 643.4L361.8 664.1L362.5 667.9L363.2 650L364 650.2L364.8 646.3L365.5 645.4L366.2 662L367 666.3L367.8 645.6L368.5 661.2L369.2 662.7L370 655.5L370.8 638.3L371.5 629.6L372.2 634.6L373 635.8L373.8 628L374.5 631L375.2 647.1L376 646.6L376.8 650.2L377.5 633.8L377.5 690.9Z" fill="#DF536B" stroke="#DF536B" stroke-width="1.2" stroke-linejoin="round"/>
<path d="M35.5 690.9L35.5 695.5L36.2 692.4L37 692.4L37.8 696L38.5 701.5L39.2 702.8L40 706.6L40.8 699.7L41.5 697.5L42.2 694.6L43 697.4L43.8 691.5L44.5 699L45.2 700.4L46 692.1L46.8 698.3L47.5 699.9L48.2 699.9L49 696.2L49.8 693.5L50.5 696L51.2 690.4L52 692.6L52.8 689L53.5 694.2L54.2 691.5L55 686.6L55.8 687.5L56.5 686.5L57.2 674.3L58 672.4L58.8 677.3L59.5 682.6L60.2 673L61 667.6L61.8 674.4L62.5 675.3L63.2 670.7L64 664.5L64.8 669.3L65.5 669L66.2 668.9L67 675L67.8 679L68.5 663.7L69.2 677.5L70 665.5L70.8 671L71.5 672.2L72.2 674.4L73 676.7L73.8 673.3L74.5 667.8L75.2 669.4L76 671.1L76.8 673.9L77.5 679.9L78.2 673.6L79 668.9L79.8 666.9L80.5 670.7L81.2 662.9L82 664.1L82.8 666.4L83.5 667.2L84.2 667.3L85 669.9L85.8 671.3L86.5 671.8L87.2 670.5L88 666.8L88.8 667.5L89.5 668.1L90.2 668.2L91 671L91.8 674.7L92.5 683L93.2 679.4L94 665.8L94.8 671.3L95.5 667.3L96.2 669.3L97 665L97.8 672.1L98.5 674.3L99.2 678.2L100 677.8L100.8 670.7L101.5 676.4L102.2 680.3L103 686.1L103.8 688.9L104.5 689.5L105.2 687.4L106 682.2L106.8 686.9L107.5 689.5L108.2 690.4L109 689.5L109.8 681.8L110.5 683.3L111.2 687.4L112 685L112.8 689.5L113.5 692.4L114.2 694L115 692.4L115.8 691.8L116.5 698.4L117.2 694.4L118 696.2L118.8 700.8L119.5 703.5L120.2 702.8L121 706.2L121.8 710L122.5 708.1L123.2 708L124 708.5L124.8 711.4L125.5 705.9L126.2 701.9L127 698.7L127.8 703.3L128.5 704.3L129.2 709.4L130 710.4L130.8 707.9L131.5 712.2L132.2 716.7L133 709.1L133.8 702.9L134.5 706.7L135.2 708.7L136 709.9L136.8 697.8L137.5 692.4L138.2 694.4L139 705.1L139.8 713.8L140.5 710.8L141.2 709L142 712.2L142.8 711.1L143.5 712.6L144.2 715.5L145 710L145.8 714.8L146.5 713.7L147.2 713.4L148 708.7L148.8 711.8L149.5 713.3L150.2 710.8L151 712.2L151.8 706.8L152.5 712.1L153.2 712.7L154 710.2L154.8 703.4L155.5 703.8L156.2 702.1L157 706.7L157.8 721.7L158.5 708.2L159.2 703.4L160 708.1L160.8 697L161.5 692.4L162.2 692.8L163 694.2L163.8 692.7L164.5 684.8L165.2 684.7L166 683.9L166.8 681.8L167.5 681L168.2 683.5L169 679.6L169.8 669.5L170.5 669.7L171.2 670L172 685.2L172.8 689.5L173.5 681.9L174.2 662.4L175 657.8L175.8 656.7L176.5 650.3L177.2 651L178 652.9L178.8 655.8L179.5 657.8L180.2 651.3L181 653L181.8 648.8L182.5 652L183.2 654.2L184 654.9L184.8 658.5L185.5 656.5L186.2 656.7L187 661.3L187.8 654.8L188.5 648.7L189.2 652L190 661.3L190.8 658L191.5 656.2L192.2 648L193 646.8L193.8 643.9L194.5 650.2L195.2 645.4L196 647.9L196.8 637.5L197.5 638.3L198.2 641.2L199 643.6L199.8 640.6L200.5 644.8L201.2 642.4L202 646.2L202.8 647.3L203.5 644.8L204.2 640.9L205 645.5L205.8 650L206.5 639.5L207.2 641.8L208 643.4L208.8 649.5L209.5 644.3L210.2 661.3L211 649.9L211.8 650L212.5 649.9L213.2 649.1L214 649.5L214.8 651.9L215.5 653.9L216.2 648.4L217 642.9L217.8 662.1L218.5 647.1L219.2 642.3L220 637.8L220.8 634.7L221.5 633.4L222.2 635.7L223 631.8L223.8 627.9L224.5 627.3L225.2 628.2L226 624.8L226.8 630L227.5 631.4L228.2 633.4L229 637L229.8 637.7L230.5 635.3L231.2 635.4L232 633.5L232.8 627.3L233.5 623.4L234.2 617.2L235 617.1L235.8 616.2L236.5 613L237.2 619.4L238 616L238.8 620.8L239.5 628.1L240.2 625.2L241 636.5L241.8 635.9L242.5 623.8L243.2 638.4L244 633.9L244.8 628.4L245.5 635.5L246.2 644.7L247 650L247.8 639L248.5 646.7L249.2 643.6L250 637.5L250.8 640.2L251.5 640.6L252.2 644.6L253 651.4L253.8 648.1L254.5 646.2L255.2 640.9L256 643.3L256.8 640.9L257.5 640.7L258.2 637.9L259 640.9L259.8 641.8L260.5 638.2L261.2 639.3L262 637.1L262.8 631.3L263.5 631.5L264.2 638.4L265 648.2L265.8 651.7L266.5 653L267.2 651.1L268 648.8L268.8 661.6L269.5 670.5L270.2 671L271 661.6L271.8 663.4L272.5 656.8L273.2 658.2L274 667.2L274.8 662.6L275.5 669.1L276.2 665.2L277 664L277.8 664.3L278.5 667.7L279.2 670.4L280 669.1L280.8 668.8L281.5 670.4L282.2 668.7L283 671.8L283.8 670L284.5 670L285.2 670.9L286 676.2L286.8 673.8L287.5 670.5L288.2 670L289 671.2L289.8 670.8L290.5 670.2L291.2 673.2L292 679.9L292.8 684.1L293.5 682L294.2 682.7L295 682.8L295.8 687.4L296.5 681.1L297.2 677.7L298 686.9L298.8 682.4L299.5 676.6L300.2 677.6L301 678.5L301.8 678L302.5 683.6L303.2 680.4L304 681.6L304.8 685.1L305.5 681.3L306.2 684.4L307 681.3L307.8 684.7L308.5 682L309.2 677.4L310 679L310.8 686L311.5 684.8L312.2 676.4L313 681.9L313.8 687.1L314.5 682.2L315.2 675.7L316 678.8L316.8 686L317.5 682.9L318.2 685.8L319 687.3L319.8 689.1L320.5 688.5L321.2 685.7L322 688.3L322.8 691.1L323.5 692.4L324.2 692.4L325 695L325.8 689.7L326.5 687.2L327.2 684.8L328 687.3L328.8 681.4L329.5 682.3L330.2 680.2L331 680L331.8 677.8L332.5 678.2L333.2 682.8L334 671.9L334.8 672.9L335.5 675.1L336.2 683.1L337 687.8L337.8 681.3L338.5 673.8L339.2 673.5L340 674L340.8 674.8L341.5 664.5L342.2 669L343 670L343.8 670.2L344.5 667.8L345.2 665.9L346 671.3L346.8 680.1L347.5 667.4L348.2 665.9L349 667.6L349.8 663.7L350.5 663.8L351.2 664.6L352 659.1L352.8 661.5L353.5 659.7L354.2 667.6L355 668.8L355.8 674.8L356.5 680L357.2 676.2L358 674.4L358.8 667.5L359.5 668.3L360.2 664.9L361 665.8L361.8 671L362.5 673.6L363.2 671.4L364 679.1L364.8 672L365.5 675.5L366.2 671.5L367 667.9L367.8 662.1L368.5 666.5L369.2 664.9L370 664.7L370.8 667.7L371.5 674.2L372.2 674.9L373 676L373.8 670.5L374.5 668.4L375.2 669.7L376 678.3L376.8 679.6L377.5 678.1L377.5 690.9Z" fill="#61D04F" stroke="#61D04F" stroke-width="1.2" stroke-linejoin="round"/>
<path d="M35.5 698.8L36.2 694.5L37 689.5L37.8 683.2L38.5 680.2L39.2 689.6L40 690L40.8 692.4L41.5 697.8L42.2 692.4L43 692.4L43.8 692.4L44.5 704.8L45.2 696.6L46 690.9L46.8 689.5L47.5 695L48.2 687.5L49 705.1L49.8 693.3L50.5 692.4L51.2 697.2L52 697.2L52.8 692.4L53.5 694.8L54.2 708.1L55 705.5L55.8 697L56.5 692.4L57.2 689.5L58 681.4L58.8 689.5L59.5 686.5L60.2 676.5L61 668.8L61.8 669.8L62.5 667L63.2 659.6L64 664.6L64.8 667L65.5 663.5L66.2 664L67 661.7L67.8 652L68.5 651.8L69.2 666.3L70 667.5L70.8 672.4L71.5 663.2L72.2 689.1L73 667.2L73.8 670.6L74.5 677L75.2 665.9L76 669.4L76.8 662.4L77.5 663.4L78.2 650.8L79 647.7L79.8 649.4L80.5 661L81.2 650L82 645.3L82.8 647.1L83.5 649.7L84.2 629.3L85 631L85.8 620.4L86.5 621.5L87.2 621.1L88 610.8L88.8 617.8L89.5 613.3L90.2 618L91 619.3L91.8 620L92.5 626.5L93.2 627.4L94 623.2L94.8 613.4L95.5 617.5L96.2 612L97 612.1L97.8 611.3L98.5 617.2L99.2 608.7L100 618.9L100.8 628.4L101.5 626.9L102.2 639.7L103 641.8L103.8 623.2L104.5 624.1L105.2 648.8L106 647.9L106.8 630.7L107.5 631.2L108.2 613.3L109 605.3L109.8 627.6L110.5 597.5L111.2 604.6L112 617.3L112.8 620.4L113.5 619.2L114.2 612.8L115 608L115.8 612.2L116.5 622.9L117.2 626L118 629L118.8 647.2L119.5 651.3L120.2 620.7L121 622L121.8 628.2L122.5 622.2L123.2 613.9L124 615.4L124.8 631.1L125.5 627.9L126.2 635.8L127 622.6L127.8 620.5L128.5 620.7L129.2 614.9L130 615.4L130.8 614.9L131.5 634.6L132.2 638.7L133 641.9L133.8 617.6L134.5 621.1L135.2 635L136 603L136.8 606.8L137.5 605.1L138.2 600.2L139 591.9L139.8 615.8L140.5 608L141.2 609.3L142 590L142.8 594.9L143.5 594L144.2 596.4L145 601.7L145.8 602.3L146.5 610.2L147.2 629.4L148 636.4L148.8 612.6L149.5 618.9L150.2 623.7L151 626.4L151.8 608.9L152.5 606.3L153.2 608.1L154 604.9L154.8 608.6L155.5 601.3L156.2 609.3L157 628.2L157.8 599.4L158.5 605.4L159.2 602.3L160 609L160.8 609.2L161.5 614.3L162.2 617.8L163 629.7L163.8 624.4L164.5 624.7L165.2 618.1L166 623.2L166.8 611.1L167.5 601.1L168.2 604.5L169 607.5L169.8 628.6L170.5 631.3L171.2 643.2L172 615.3L172.8 621.5L173.5 617.8L174.2 620.5L175 627L175.8 633.7L176.5 634.7L177.2 619.2L178 612.6L178.8 617.6L179.5 623.3L180.2 643.2L181 634.6L181.8 635.3L182.5 647L183.2 609.7L184 620.5L184.8 611.1L185.5 615.1L186.2 615.7L187 622.1L187.8 618.6L188.5 618.5L189.2 620.4L190 622.4L190.8 622L191.5 618.4L192.2 618.9L193 631.3L193.8 640.3L194.5 642.4L195.2 630.1L196 616.7L196.8 616.4L197.5 609.9L198.2 616.6L199 622.9L199.8 613.5L200.5 619.8L201.2 626.9L202 625.1L202.8 619.4L203.5 631.5L204.2 626.5L205 628.3L205.8 632.8L206.5 640.9L207.2 632.2L208 645.3L208.8 656L209.5 651.4L210.2 652.6L211 645L211.8 630L212.5 644.4L213.2 631L214 631.8L214.8 635.6L215.5 642.9L216.2 651.6L217 653.7L217.8 650.5L218.5 652.6L219.2 657.9L220 677.9L220.8 678.7L221.5 657.4L222.2 655.9L223 655.6L223.8 659L224.5 667.9L225.2 671.1L226 672.4L226.8 666.5L227.5 678.4L228.2 681.1L229 683.5L229.8 698.8L230.5 696.3L231.2 710.7L232 714.3L232.8 710.1L233.5 703.7L234.2 718.7L235 706.7L235.8 707.7L236.5 730.4L237.2 722.3L238 714.5L238.8 717.6L239.5 706.9L240.2 706.2L241 714L241.8 697.1L242.5 692.6L243.2 709.4L244 699.3L244.8 696.6L245.5 691.3L246.2 684.3L247 681L247.8 667.3L248.5 662L249.2 661L250 664.9L250.8 663.2L251.5 668.6L252.2 662.7L253 664.9L253.8 689.5L254.5 689.5L255.2 689.5L256 692.1L256.8 692.4L257.5 692.4L258.2 674.4L259 672.1L259.8 659.2L260.5 653.8L261.2 659.9L262 667.7L262.8 676.4L263.5 678L264.2 672.8L265 676.5L265.8 675.5L266.5 665.6L267.2 661.5L268 654.9L268.8 655.2L269.5 654.5L270.2 648.5L271 643.2L271.8 667.5L272.5 666.1L273.2 666.1L274 644.5L274.8 645.7L275.5 641L276.2 639.9L277 653.5L277.8 637.8L278.5 639.5L279.2 653.3L280 663.2L280.8 670.7L281.5 668.9L282.2 679.8L283 682.7L283.8 659L284.5 653.4L285.2 667.7L286 666.7L286.8 659.2L287.5 657.8L288.2 644.2L289 643.2L289.8 650L290.5 656L291.2 663.6L292 678.2L292.8 674.2L293.5 656.6L294.2 651.4L295 664.7L295.8 662.9L296.5 659.6L297.2 647.8L298 633.4L298.8 638.6L299.5 642.3L300.2 641.2L301 658.5L301.8 654.3L302.5 660.1L303.2 658.3L304 659.4L304.8 652.2L305.5 649.8L306.2 640.1L307 643.4L307.8 640.8L308.5 661.9L309.2 642.9L310 642.4L310.8 642.2L311.5 646L312.2 643.4L313 643.8L313.8 644.3L314.5 646L315.2 645.3L316 642.5L316.8 644.8L317.5 642.8L318.2 649.3L319 646.1L319.8 648.4L320.5 653.3L321.2 654.3L322 667.1L322.8 669.7L323.5 656L324.2 659.6L325 666.1L325.8 655L326.5 633.4L327.2 627.3L328 628.2L328.8 628.2L329.5 633.8L330.2 632.6L331 635.2L331.8 625.3L332.5 625.7L333.2 633L334 637.4L334.8 623.2L335.5 619.2L336.2 617.1L337 608.4L337.8 608.7L338.5 603L339.2 600.3L340 590.1L340.8 596L341.5 613.9L342.2 594.2L343 591.6L343.8 599.8L344.5 610L345.2 635.9L346 650.5L346.8 626.4L347.5 625L348.2 623.9L349 629.7L349.8 618.7L350.5 642.9L351.2 639.9L352 635.3L352.8 637.1L353.5 645.3L354.2 643.5L355 628.1L355.8 633L356.5 630.4L357.2 632.3L358 633.2L358.8 639.7L359.5 652L360.2 636.2L361 643.4L361.8 664.1L362.5 667.9L363.2 650L364 650.2L364.8 646.3L365.5 645.4L366.2 662L367 666.3L367.8 645.6L368.5 661.2L369.2 662.7L370 655.5L370.8 638.3L371.5 629.6L372.2 634.6L373 635.8L373.8 628L374.5 631L375.2 647.1L376 646.6L376.8 650.2L377.5 633.8" fill="none" stroke="#DF536B" stroke-width="1.3" stroke-linejoin="round"/>
<path d="M35.5 695.5L36.2 692.4L37 692.4L37.8 696L38.5 701.5L39.2 702.8L40 706.6L40.8 699.7L41.5 697.5L42.2 694.6L43 697.4L43.8 691.5L44.5 699L45.2 700.4L46 692.1L46.8 698.3L47.5 699.9L48.2 699.9L49 696.2L49.8 693.5L50.5 696L51.2 690.4L52 692.6L52.8 689L53.5 694.2L54.2 691.5L55 686.6L55.8 687.5L56.5 686.5L57.2 674.3L58 672.4L58.8 677.3L59.5 682.6L60.2 673L61 667.6L61.8 674.4L62.5 675.3L63.2 670.7L64 664.5L64.8 669.3L65.5 669L66.2 668.9L67 675L67.8 679L68.5 663.7L69.2 677.5L70 665.5L70.8 671L71.5 672.2L72.2 674.4L73 676.7L73.8 673.3L74.5 667.8L75.2 669.4L76 671.1L76.8 673.9L77.5 679.9L78.2 673.6L79 668.9L79.8 666.9L80.5 670.7L81.2 662.9L82 664.1L82.8 666.4L83.5 667.2L84.2 667.3L85 669.9L85.8 671.3L86.5 671.8L87.2 670.5L88 666.8L88.8 667.5L89.5 668.1L90.2 668.2L91 671L91.8 674.7L92.5 683L93.2 679.4L94 665.8L94.8 671.3L95.5 667.3L96.2 669.3L97 665L97.8 672.1L98.5 674.3L99.2 678.2L100 677.8L100.8 670.7L101.5 676.4L102.2 680.3L103 686.1L103.8 688.9L104.5 689.5L105.2 687.4L106 682.2L106.8 686.9L107.5 689.5L108.2 690.4L109 689.5L109.8 681.8L110.5 683.3L111.2 687.4L112 685L112.8 689.5L113.5 692.4L114.2 694L115 692.4L115.8 691.8L116.5 698.4L117.2 694.4L118 696.2L118.8 700.8L119.5 703.5L120.2 702.8L121 706.2L121.8 710L122.5 708.1L123.2 708L124 708.5L124.8 711.4L125.5 705.9L126.2 701.9L127 698.7L127.8 703.3L128.5 704.3L129.2 709.4L130 710.4L130.8 707.9L131.5 712.2L132.2 716.7L133 709.1L133.8 702.9L134.5 706.7L135.2 708.7L136 709.9L136.8 697.8L137.5 692.4L138.2 694.4L139 705.1L139.8 713.8L140.5 710.8L141.2 709L142 712.2L142.8 711.1L143.5 712.6L144.2 715.5L145 710L145.8 714.8L146.5 713.7L147.2 713.4L148 708.7L148.8 711.8L149.5 713.3L150.2 710.8L151 712.2L151.8 706.8L152.5 712.1L153.2 712.7L154 710.2L154.8 703.4L155.5 703.8L156.2 702.1L157 706.7L157.8 721.7L158.5 708.2L159.2 703.4L160 708.1L160.8 697L161.5 692.4L162.2 692.8L163 694.2L163.8 692.7L164.5 684.8L165.2 684.7L166 683.9L166.8 681.8L167.5 681L168.2 683.5L169 679.6L169.8 669.5L170.5 669.7L171.2 670L172 685.2L172.8 689.5L173.5 681.9L174.2 662.4L175 657.8L175.8 656.7L176.5 650.3L177.2 651L178 652.9L178.8 655.8L179.5 657.8L180.2 651.3L181 653L181.8 648.8L182.5 652L183.2 654.2L184 654.9L184.8 658.5L185.5 656.5L186.2 656.7L187 661.3L187.8 654.8L188.5 648.7L189.2 652L190 661.3L190.8 658L191.5 656.2L192.2 648L193 646.8L193.8 643.9L194.5 650.2L195.2 645.4L196 647.9L196.8 637.5L197.5 638.3L198.2 641.2L199 643.6L199.8 640.6L200.5 644.8L201.2 642.4L202 646.2L202.8 647.3L203.5 644.8L204.2 640.9L205 645.5L205.8 650L206.5 639.5L207.2 641.8L208 643.4L208.8 649.5L209.5 644.3L210.2 661.3L211 649.9L211.8 650L212.5 649.9L213.2 649.1L214 649.5L214.8 651.9L215.5 653.9L216.2 648.4L217 642.9L217.8 662.1L218.5 647.1L219.2 642.3L220 637.8L220.8 634.7L221.5 633.4L222.2 635.7L223 631.8L223.8 627.9L224.5 627.3L225.2 628.2L226 624.8L226.8 630L227.5 631.4L228.2 633.4L229 637L229.8 637.7L230.5 635.3L231.2 635.4L232 633.5L232.8 627.3L233.5 623.4L234.2 617.2L235 617.1L235.8 616.2L236.5 613L237.2 619.4L238 616L238.8 620.8L239.5 628.1L240.2 625.2L241 636.5L241.8 635.9L242.5 623.8L243.2 638.4L244 633.9L244.8 628.4L245.5 635.5L246.2 644.7L247 650L247.8 639L248.5 646.7L249.2 643.6L250 637.5L250.8 640.2L251.5 640.6L252.2 644.6L253 651.4L253.8 648.1L254.5 646.2L255.2 640.9L256 643.3L256.8 640.9L257.5 640.7L258.2 637.9L259 640.9L259.8 641.8L260.5 638.2L261.2 639.3L262 637.1L262.8 631.3L263.5 631.5L264.2 638.4L265 648.2L265.8 651.7L266.5 653L267.2 651.1L268 648.8L268.8 661.6L269.5 670.5L270.2 671L271 661.6L271.8 663.4L272.5 656.8L273.2 658.2L274 667.2L274.8 662.6L275.5 669.1L276.2 665.2L277 664L277.8 664.3L278.5 667.7L279.2 670.4L280 669.1L280.8 668.8L281.5 670.4L282.2 668.7L283 671.8L283.8 670L284.5 670L285.2 670.9L286 676.2L286.8 673.8L287.5 670.5L288.2 670L289 671.2L289.8 670.8L290.5 670.2L291.2 673.2L292 679.9L292.8 684.1L293.5 682L294.2 682.7L295 682.8L295.8 687.4L296.5 681.1L297.2 677.7L298 686.9L298.8 682.4L299.5 676.6L300.2 677.6L301 678.5L301.8 678L302.5 683.6L303.2 680.4L304 681.6L304.8 685.1L305.5 681.3L306.2 684.4L307 681.3L307.8 684.7L308.5 682L309.2 677.4L310 679L310.8 686L311.5 684.8L312.2 676.4L313 681.9L313.8 687.1L314.5 682.2L315.2 675.7L316 678.8L316.8 686L317.5 682.9L318.2 685.8L319 687.3L319.8 689.1L320.5 688.5L321.2 685.7L322 688.3L322.8 691.1L323.5 692.4L324.2 692.4L325 695L325.8 689.7L326.5 687.2L327.2 684.8L328 687.3L328.8 681.4L329.5 682.3L330.2 680.2L331 680L331.8 677.8L332.5 678.2L333.2 682.8L334 671.9L334.8 672.9L335.5 675.1L336.2 683.1L337 687.8L337.8 681.3L338.5 673.8L339.2 673.5L340 674L340.8 674.8L341.5 664.5L342.2 669L343 670L343.8 670.2L344.5 667.8L345.2 665.9L346 671.3L346.8 680.1L347.5 667.4L348.2 665.9L349 667.6L349.8 663.7L350.5 663.8L351.2 664.6L352 659.1L352.8 661.5L353.5 659.7L354.2 667.6L355 668.8L355.8 674.8L356.5 680L357.2 676.2L358 674.4L358.8 667.5L359.5 668.3L360.2 664.9L361 665.8L361.8 671L362.5 673.6L363.2 671.4L364 679.1L364.8 672L365.5 675.5L366.2 671.5L367 667.9L367.8 662.1L368.5 666.5L369.2 664.9L370 664.7L370.8 667.7L371.5 674.2L372.2 674.9L373 676L373.8 670.5L374.5 668.4L375.2 669.7L376 678.3L376.8 679.6L377.5 678.1" fill="none" stroke="#61D04F" stroke-width="1.3" stroke-linejoin="round"/>
<path d="M35.5 703.6L36.2 703L37 698.7L37.8 713.9L38.5 713L39.2 715.4L40 715.6L40.8 717.4L41.5 707.2L42.2 708.7L43 709.5L43.8 700.7L44.5 700L45.2 703.3L46 704.3L46.8 707.1L47.5 708.6L48.2 709L49 709.2L49.8 704.4L50.5 706.8L51.2 705.2L52 699.7L52.8 705.3L53.5 708.2L54.2 701.4L55 693.6L55.8 697L56.5 693.5L57.2 691.1L58 686.4L58.8 676.5L59.5 672.3L60.2 664.9L61 659.6L61.8 648.5L62.5 645.5L63.2 647.5L64 652.1L64.8 647.4L65.5 645.3L66.2 644.8L67 634.2L67.8 630.3L68.5 639.8L69.2 646.8L70 648.5L70.8 643.3L71.5 634.2L72.2 635.8L73 639.7L73.8 646.9L74.5 641.6L75.2 638.7L76 641.3L76.8 638.8L77.5 635.2L78.2 639.2L79 633.7L79.8 632.9L80.5 629.1L81.2 624.5L82 617.9L82.8 624.5L83.5 614.2L84.2 617.2L85 609.8L85.8 605.7L86.5 605.5L87.2 605.2L88 612.2L88.8 606.4L89.5 605L90.2 604.5L91 602.2L91.8 600.3L92.5 606.4L93.2 610.9L94 603L94.8 604.7L95.5 601.2L96.2 604.5L97 612.8L97.8 612L98.5 622.4L99.2 625.9L100 628.5L100.8 635.8L101.5 633.6L102.2 637.3L103 637.3L103.8 637.3L104.5 629.6L105.2 633.3L106 629.9L106.8 630.9L107.5 639L108.2 631.3L109 624L109.8 626.1L110.5 618.5L111.2 622.6L112 627.9L112.8 624.1L113.5 632.2L114.2 623L115 633.5L115.8 626.5L116.5 643.4L117.2 639.4L118 641.6L118.8 645.9L119.5 641.2L120.2 641L121 637.2L121.8 641.4L122.5 625.3L123.2 627.1L124 619.6L124.8 611.5L125.5 605L126.2 609.5L127 615.3L127.8 619.6L128.5 611.3L129.2 616.2L130 617.5L130.8 621.4L131.5 617.4L132.2 617.7L133 618.4L133.8 622.1L134.5 635.1L135.2 637.6L136 629.1L136.8 622.7L137.5 620.9L138.2 620.5L139 618.2L139.8 611L140.5 604.3L141.2 607.5L142 609.1L142.8 615.5L143.5 622.5L144.2 623.4L145 625.3L145.8 617.8L146.5 613.8L147.2 613.6L148 615.5L148.8 623.4L149.5 624.2L150.2 625.2L151 618.1L151.8 628.7L152.5 628.6L153.2 624.9L154 621.1L154.8 622.1L155.5 625L156.2 617.8L157 608.1L157.8 603.6L158.5 603.8L159.2 611.4L160 602.7L160.8 604.8L161.5 614.7L162.2 628.7L163 627.1L163.8 615.2L164.5 619.9L165.2 621.9L166 618.7L166.8 615.5L167.5 611.6L168.2 607L169 610.1L169.8 610.1L170.5 610.1L171.2 605.1L172 603L172.8 597.8L173.5 590.1L174.2 584.8L175 584L175.8 584.4L176.5 589.7L177.2 588.2L178 586L178.8 586.4L179.5 579.2L180.2 581.4L181 575L181.8 577.6L182.5 582L183.2 584.9L184 588L184.8 593.3L185.5 600.4L186.2 595.3L187 599.6L187.8 590L188.5 584.8L189.2 591.8L190 586.6L190.8 586.8L191.5 590.3L192.2 575.3L193 584.8L193.8 582.6L194.5 583.1L195.2 578.7L196 582.5L196.8 572.1L197.5 579.3L198.2 583.3L199 585L199.8 591L200.5 592.9L201.2 592.9L202 593L202.8 588.1L203.5 591.3L204.2 593.6L205 583.2L205.8 581.8L206.5 584L207.2 591.1L208 590.8L208.8 590.8L209.5 588.5L210.2 599.6L211 578.8L211.8 581.9L212.5 586.3L213.2 593.4L214 595.9L214.8 594.5L215.5 604.3L216.2 605.2L217 608.6L217.8 602.1L218.5 604.1L219.2 615L220 612.7L220.8 624.5L221.5 622.8L222.2 609.1L223 608.1L223.8 609L224.5 613.6L225.2 608.6L226 620.5L226.8 621.7L227.5 626.2L228.2 627.8L229 637L229.8 649.3L230.5 653.4L231.2 647L232 645.9L232.8 628.6L233.5 636.3L234.2 638.2L235 640.9L235.8 649.6L236.5 654.3L237.2 644L238 641.7L238.8 645.5L239.5 648.3L240.2 649L241 652L241.8 633.5L242.5 639.7L243.2 639.3L244 636.2L244.8 631.3L245.5 633.7L246.2 625.2L247 637.4L247.8 640.1L248.5 632.8L249.2 646.4L250 646.4L250.8 650.2L251.5 655.5L252.2 646.9L253 641.4L253.8 646.9L254.5 644.3L255.2 644.5L256 644.5L256.8 655.2L257.5 651.2L258.2 640.9L259 639.9L259.8 635.4L260.5 627.1L261.2 623.3L262 625.8L262.8 613.8L263.5 629.9L264.2 628L265 633L265.8 636.4L266.5 631.4L267.2 630.5L268 639.1L268.8 632.3L269.5 633L270.2 629.4L271 634.7L271.8 638.5L272.5 635.6L273.2 633.1L274 637.3L274.8 633.4L275.5 634.5L276.2 634.1L277 634.1L277.8 634.1L278.5 638.2L279.2 644.9L280 648.7L280.8 648.2L281.5 645.1L282.2 643.2L283 646.1L283.8 644.2L284.5 644.7L285.2 655.5L286 652.6L286.8 649.5L287.5 643.3L288.2 641.8L289 649.3L289.8 644.4L290.5 648.2L291.2 654.8L292 651.5L292.8 643.8L293.5 649L294.2 657.1L295 662.7L295.8 655.6L296.5 650.6L297.2 632.2L298 631.2L298.8 632.9L299.5 636.1L300.2 641.9L301 653.9L301.8 642.5L302.5 642.7L303.2 649.2L304 644.8L304.8 651.6L305.5 645.1L306.2 644.8L307 644.6L307.8 636L308.5 635.2L309.2 633.4L310 626.7L310.8 632.6L311.5 638.4L312.2 639.2L313 639.4L313.8 644.8L314.5 643.1L315.2 636.2L316 636L316.8 636.7L317.5 637.2L318.2 645.6L319 647.8L319.8 636.2L320.5 635.5L321.2 644L322 641.8L322.8 650.3L323.5 648L324.2 652.1L325 659.6L325.8 648.2L326.5 647.4L327.2 636.5L328 642.2L328.8 638.3L329.5 635.9L330.2 634.5L331 636.9L331.8 635.1L332.5 626.7L333.2 632.1L334 635.4L334.8 622.5L335.5 618L336.2 610.3L337 609.1L337.8 604.5L338.5 592.8L339.2 584.2L340 576.8L340.8 577.7L341.5 579.6L342.2 583.9L343 596.5L343.8 598.9L344.5 599.5L345.2 611.6L346 607.9L346.8 609.7L347.5 617.2L348.2 617.2L349 615.9L349.8 621.8L350.5 610.3L351.2 606L352 592.5L352.8 597.6L353.5 595.7L354.2 604L355 604.2L355.8 609.2L356.5 610.7L357.2 619.6L358 621.5L358.8 620.9L359.5 628.3L360.2 626.4L361 626.5L361.8 635.4L362.5 639.4L363.2 640.3L364 656.8L364.8 653.9L365.5 641.2L366.2 646.7L367 634.5L367.8 634.4L368.5 632.6L369.2 633L370 630.7L370.8 635.7L371.5 635.4L372.2 624L373 623L373.8 630.4L374.5 619.5L375.2 623.9L376 628.1L376.8 627.3L377.5 625.1" fill="none" stroke="#000" stroke-width="1.3" stroke-linejoin="round"/>
</g>
<line x1="35.5" x2="377.5" y1="690.9" y2="690.9" stroke="#000" stroke-width="1.8" stroke-dasharray="2.3 4.1"/>
<rect x="49.0" y="585.5" width="13" height="10.5" fill="#000" stroke="#000" stroke-width="1.2"/>
<text x="74.5" y="598.6" font-size="16" fill="#000" stroke="#000" stroke-width="0.3" textLength="36.5" lengthAdjust="spacingAndGlyphs">Total</text>
<rect x="49.0" y="605.9" width="13" height="10.5" fill="#DF536B" stroke="#000" stroke-width="1.2"/>
<text x="74.5" y="618.4" font-size="16" fill="#000" stroke="#000" stroke-width="0.3" textLength="23.5" lengthAdjust="spacingAndGlyphs">1-5</text>
<rect x="49.0" y="626.3" width="13" height="10.5" fill="#61D04F" stroke="#000" stroke-width="1.2"/>
<text x="74.5" y="638.2" font-size="16" fill="#000" stroke="#000" stroke-width="0.3" textLength="35.2" lengthAdjust="spacingAndGlyphs">5-Inf</text>
<rect x="35.5" y="571.5" width="342" height="215.0" fill="none" stroke="#000" stroke-width="1.6"/>
<line x1="30" x2="35.5" y1="595.4" y2="595.4" stroke="#000" stroke-width="1.2"/>
<text x="26" y="602.7" font-size="16" text-anchor="end" fill="#000" stroke="#000" stroke-width="0.3">20</text>
<line x1="30" x2="35.5" y1="643.2" y2="643.2" stroke="#000" stroke-width="1.2"/>
<text x="26" y="650.5" font-size="16" text-anchor="end" fill="#000" stroke="#000" stroke-width="0.3">10</text>
<line x1="30" x2="35.5" y1="690.9" y2="690.9" stroke="#000" stroke-width="1.2"/>
<text x="26" y="698.2" font-size="16" text-anchor="end" fill="#000" stroke="#000" stroke-width="0.3">0</text>
<line x1="30" x2="35.5" y1="738.7" y2="738.7" stroke="#000" stroke-width="1.2"/>
<text x="26" y="746" font-size="16" text-anchor="end" fill="#000" stroke="#000" stroke-width="0.3">-10</text>
<line x1="30" x2="35.5" y1="786.5" y2="786.5" stroke="#000" stroke-width="1.2"/>
<text x="26" y="793.8" font-size="16" text-anchor="end" fill="#000" stroke="#000" stroke-width="0.3">-20</text>
<line x1="185.7" x2="185.7" y1="786.5" y2="791.5" stroke="#000" stroke-width="1.2"/>
<text x="185.2" y="810" font-size="16" text-anchor="middle" fill="#000" stroke="#000" stroke-width="0.3" textLength="37" lengthAdjust="spacingAndGlyphs">2023</text>
<line x1="375.6" x2="375.6" y1="786.5" y2="791.5" stroke="#000" stroke-width="1.2"/>
<text x="375.1" y="810" font-size="16" text-anchor="middle" fill="#000" stroke="#000" stroke-width="0.3" textLength="37" lengthAdjust="spacingAndGlyphs">2024</text>
<text transform="translate(205.5 566) scale(1 1.18)" x="0" y="0" font-size="19.2" font-weight="bold" text-anchor="middle" fill="#000" textLength="44.1" lengthAdjust="spacingAndGlyphs">GNR</text>
<clipPath id="c21"><rect x="437.5" y="571.5" width="343" height="215.0"/></clipPath>
<g stroke="#D3D3D3" stroke-width="1.5" stroke-dasharray="7 5.5"><line x1="437.5" x2="780.5" y1="595.4" y2="595.4"/><line x1="437.5" x2="780.5" y1="643.2" y2="643.2"/><line x1="437.5" x2="780.5" y1="738.7" y2="738.7"/></g>
<g clip-path="url(#c21)" shape-rendering="crispEdges">
<path d="M437.5 690.9L437.5 732.5L438.2 733.3L439 728.1L439.8 737L440.5 743.8L441.2 744.3L442 737.3L442.8 725.7L443.5 718.1L444.2 699.8L445 712.8L445.8 703.4L446.5 713.7L447.2 730.9L448 745.5L448.8 752.2L449.5 729.7L450.2 724.1L451 736.8L451.8 730.4L452.5 725L453.2 725.1L454 719.9L454.8 715.4L455.5 714L456.2 707.3L457 694.1L457.8 688.1L458.5 686.6L459.2 681.4L460 662.6L460.8 688.3L461.5 689.5L462.2 699.8L463 701.2L463.8 711.1L464.5 726.5L465.2 724.1L466 729.2L466.8 725L467.5 729.8L468.2 735.6L469 733.9L469.8 738.8L470.5 724.1L471.2 729.8L472 727.6L472.8 741.2L473.5 744.6L474.2 728.4L475 728.2L475.8 741.3L476.5 749.1L477.2 755.4L478 756.7L478.8 758.8L479.5 757.1L480.2 762.1L481 761.9L481.8 739.2L482.5 732L483.2 719.2L484 707L484.8 707.7L485.5 704.4L486.2 716.8L487 716.8L487.8 692.4L488.5 697.8L489.2 692.4L490 689.5L490.8 686.8L491.5 677.4L492.2 677.7L493 666L493.8 669.9L494.5 673.9L495.2 683.1L496 687.4L496.8 694.7L497.5 689L498.2 689L499 697.4L499.8 708.8L500.5 699L501.2 702.8L502 714.6L502.8 714.6L503.5 712.3L504.2 691.1L505 702.1L505.8 698.4L506.5 698.5L507.2 699.8L508 690.3L508.8 684L509.5 696.5L510.2 706.3L511 697.2L511.8 698.3L512.5 702L513.2 709.7L514 697.5L514.8 706.5L515.5 709.6L516.2 694.6L517 692.4L517.8 706.8L518.5 703.5L519.2 711.8L520 717.3L520.8 715L521.5 708L522.2 711.9L523 717.7L523.8 718L524.5 715.4L525.2 692.4L526 703.1L526.8 695.2L527.5 694.1L528.2 707.9L529 692.4L529.8 692.4L530.5 704.9L531.2 716.4L532 713L532.8 720.8L533.5 724.7L534.2 737.7L535 734.7L535.8 738.7L536.5 746.3L537.2 752.4L538 748L538.8 743.7L539.5 749.1L540.2 750.5L541 733.1L541.8 720.7L542.5 734.6L543.2 734.9L544 739L544.8 743.7L545.5 740.5L546.2 738.6L547 737.9L547.8 745.6L548.5 745L549.2 738.9L550 742.4L550.8 742.3L551.5 734.6L552.2 741.2L553 723.3L553.8 735.1L554.5 744.3L555.2 738.5L556 724.2L556.8 723.7L557.5 712.6L558.2 709.5L559 709.2L559.8 701.2L560.5 716.7L561.2 709.6L562 718.9L562.8 719.2L563.5 741.9L564.2 748L565 742.9L565.8 739.4L566.5 733.7L567.2 732L568 723L568.8 732.3L569.5 730.3L570.2 723.1L571 737.3L571.8 735.3L572.5 736.7L573.2 734.6L574 734.6L574.8 743.4L575.5 741.4L576.2 732.3L577 728.1L577.8 726.6L578.5 725.3L579.2 729.6L580 724L580.8 731.3L581.5 731.7L582.2 719.3L583 719.1L583.8 728.1L584.5 721.5L585.2 737.6L586 733.5L586.8 722.2L587.5 734.3L588.2 731.6L589 743L589.8 747.5L590.5 749.3L591.2 757.5L592 761.4L592.8 760.2L593.5 748.1L594.2 742.8L595 738L595.8 720.7L596.5 720.5L597.2 725.5L598 725.4L598.8 702.9L599.5 711.1L600.2 743.6L601 743L601.8 746.5L602.5 745.6L603.2 728.9L604 727.3L604.8 726.9L605.5 747.4L606.2 720.6L607 710.6L607.8 728.9L608.5 740.9L609.2 724.1L610 727L610.8 722.5L611.5 734.7L612.2 736.6L613 742.9L613.8 745.5L614.5 757.7L615.2 746.2L616 732.9L616.8 716.7L617.5 740.7L618.2 738.6L619 747.9L619.8 735.2L620.5 756.5L621.2 742.2L622 754L622.8 755.9L623.5 745.2L624.2 732.3L625 744.5L625.8 732.4L626.5 726.1L627.2 732.5L628 725.6L628.8 725.1L629.5 731.7L630.2 739.4L631 736.1L631.8 733.1L632.5 753L633.2 756.7L634 750.9L634.8 753.7L635.5 745.7L636.2 731.2L637 730.4L637.8 719L638.5 729.8L639.2 731L640 701.8L640.8 695.3L641.5 713.6L642.2 708.9L643 714.2L643.8 699.7L644.5 710.9L645.2 710.9L646 700.1L646.8 709.6L647.5 701.7L648.2 706.9L649 693.5L649.8 702.5L650.5 704.6L651.2 707.7L652 714.4L652.8 711.9L653.5 715L654.2 719.6L655 721L655.8 718.8L656.5 733.5L657.2 743L658 752.3L658.8 761.3L659.5 766.6L660.2 760.3L661 744.8L661.8 761.3L662.5 767L663.2 747.5L664 746.7L664.8 735.7L665.5 758.2L666.2 746.7L667 746.7L667.8 747.8L668.5 744.7L669.2 752.5L670 758.7L670.8 759.8L671.5 757.3L672.2 755.2L673 751.2L673.8 748.9L674.5 739.4L675.2 743.5L676 737L676.8 739.3L677.5 737.3L678.2 750.6L679 715.6L679.8 744.8L680.5 749.7L681.2 740.3L682 746.8L682.8 720.2L683.5 750.3L684.2 753.4L685 750.9L685.8 721.7L686.5 726.1L687.2 727.4L688 743.4L688.8 748.7L689.5 755.4L690.2 763.3L691 748.4L691.8 743.3L692.5 756.1L693.2 759.9L694 759L694.8 759.4L695.5 756.5L696.2 758.1L697 765.8L697.8 765L698.5 763.2L699.2 752.9L700 760.3L700.8 737L701.5 701.9L702.2 671.1L703 666.6L703.8 669.9L704.5 662.2L705.2 682.1L706 688.7L706.8 689.5L707.5 677.7L708.2 689.5L709 680.9L709.8 682.2L710.5 686.8L711.2 689.5L712 689.5L712.8 689.5L713.5 686.7L714.2 668.4L715 655.5L715.8 674.4L716.5 666.3L717.2 685.6L718 689L718.8 689.5L719.5 689.5L720.2 689.5L721 673.7L721.8 671.6L722.5 669.4L723.2 670L724 667.4L724.8 673.6L725.5 672.2L726.2 683L727 692.6L727.8 679.3L728.5 672.8L729.2 669.2L730 669.4L730.8 668.7L731.5 671.5L732.2 671.4L733 677.8L733.8 685.3L734.5 681.8L735.2 672.5L736 678.2L736.8 689.5L737.5 692.4L738.2 695.4L739 690.5L739.8 699.2L740.5 710.1L741.2 710.6L742 706.2L742.8 708.1L743.5 692.4L744.2 708L745 693.4L745.8 705.7L746.5 711.5L747.2 721.9L748 703.6L748.8 699L749.5 724.7L750.2 716.1L751 712.6L751.8 717.6L752.5 698.2L753.2 699.7L754 695.6L754.8 695.3L755.5 694.6L756.2 705.3L757 704.7L757.8 709.4L758.5 711.7L759.2 689.9L760 692.4L760.8 697.9L761.5 702.5L762.2 693.5L763 697.1L763.8 682.3L764.5 684.1L765.2 691.4L766 679.2L766.8 686.4L767.5 689.5L768.2 686L769 688L769.8 687.5L770.5 676.4L771.2 676.4L772 682.2L772.8 692.4L773.5 692.4L774.2 692.4L775 692.4L775.8 699.6L776.5 690.3L777.2 688.3L778 689.4L778.8 692.4L779.5 696L780.2 706.5L780.2 690.9Z" fill="#000" stroke="#000" stroke-width="1.2" stroke-linejoin="round"/>
<path d="M437.5 690.9L437.5 741.4L438.2 737.4L439 738.3L439.8 755.7L440.5 750.9L441.2 752L442 758L442.8 772.1L443.5 775L444.2 743.8L445 732.7L445.8 749.6L446.5 753.6L447.2 761.2L448 770.6L448.8 774.2L449.5 769.3L450.2 776.9L451 764.5L451.8 760.2L452.5 760.1L453.2 752.4L454 749.9L454.8 754.5L455.5 754L456.2 750.1L457 749.5L457.8 749.4L458.5 735.1L459.2 731.7L460 724.6L460.8 726.8L461.5 707.6L462.2 730.6L463 733.9L463.8 741.2L464.5 738.4L465.2 741.4L466 737.9L466.8 741.2L467.5 763.1L468.2 765.1L469 766.6L469.8 772.6L470.5 776.5L471.2 763.2L472 756.7L472.8 753.9L473.5 752.6L474.2 749.8L475 736.1L475.8 737.2L476.5 763.6L477.2 771.3L478 767.6L478.8 776.4L479.5 779.5L480.2 788.8L481 796L481.8 784.7L482.5 770.4L483.2 753.5L484 747.3L484.8 741.6L485.5 734.1L486.2 725.4L487 716.1L487.8 714.9L488.5 717.5L489.2 707.6L490 707.7L490.8 719.4L491.5 723.2L492.2 727L493 714.9L493.8 717.7L494.5 722.1L495.2 725.8L496 729.6L496.8 739.5L497.5 742.1L498.2 739.9L499 742L499.8 740.8L500.5 743.7L501.2 746.8L502 733.3L502.8 733.7L503.5 742.3L504.2 739.2L505 744.7L505.8 736.2L506.5 723.1L507.2 735.9L508 727.6L508.8 717.1L509.5 723.4L510.2 740.5L511 740.5L511.8 725.8L512.5 726.5L513.2 745.8L514 753L514.8 751.4L515.5 745.3L516.2 743L517 719.5L517.8 723.5L518.5 728.5L519.2 752.1L520 756.1L520.8 757.5L521.5 759.3L522.2 762.9L523 765.7L523.8 765.5L524.5 762.1L525.2 762.4L526 761.8L526.8 760.3L527.5 752.6L528.2 757.1L529 760.5L529.8 748.6L530.5 745.8L531.2 752.1L532 751.9L532.8 752.6L533.5 744.9L534.2 735.5L535 741.9L535.8 755.2L536.5 755.6L537.2 754.6L538 757L538.8 760.8L539.5 760L540.2 757.2L541 752.4L541.8 753.7L542.5 758L543.2 748.8L544 747.9L544.8 756.5L545.5 751.1L546.2 757.4L547 770.4L547.8 762.3L548.5 759L549.2 758.4L550 758.9L550.8 760.9L551.5 761.2L552.2 738.8L553 763.5L553.8 773.1L554.5 771.8L555.2 767L556 765.8L556.8 766.5L557.5 758.2L558.2 756.9L559 741L559.8 757.6L560.5 770.7L561.2 757.5L562 780L562.8 777.2L563.5 762.1L564.2 767.3L565 770.9L565.8 760.1L566.5 778.1L567.2 775.3L568 767.7L568.8 761.2L569.5 761.2L570.2 762L571 771.6L571.8 763.8L572.5 763L573.2 743.6L574 743.7L574.8 758.2L575.5 765.4L576.2 765.4L577 772.8L577.8 772L578.5 771L579.2 758.5L580 768.8L580.8 747.9L581.5 754.8L582.2 744.4L583 744.2L583.8 739.2L584.5 742.6L585.2 742.6L586 749.3L586.8 759L587.5 765L588.2 769.2L589 747.5L589.8 739.7L590.5 753.2L591.2 766.9L592 750.2L592.8 744.2L593.5 743.9L594.2 754L595 752.5L595.8 752.4L596.5 749L597.2 739.9L598 742.3L598.8 752.7L599.5 748.6L600.2 747.4L601 757.5L601.8 753.7L602.5 730.5L603.2 743.3L604 740.8L604.8 753.5L605.5 751.8L606.2 758.1L607 747.2L607.8 748.4L608.5 753.9L609.2 755.4L610 750.5L610.8 759.5L611.5 749.2L612.2 746.8L613 738L613.8 760.9L614.5 762.1L615.2 755.9L616 759.3L616.8 756.9L617.5 753.6L618.2 748.6L619 763.2L619.8 764.1L620.5 769.4L621.2 773.8L622 743.8L622.8 743L623.5 758.5L624.2 750.6L625 746.6L625.8 747.1L626.5 741.5L627.2 741.7L628 741.4L628.8 744.5L629.5 732.6L630.2 736.4L631 736L631.8 731.2L632.5 726L633.2 728L634 733.9L634.8 727.1L635.5 724.3L636.2 722.1L637 708.1L637.8 692.4L638.5 713.3L639.2 713.4L640 712L640.8 702.5L641.5 704.7L642.2 704.6L643 701.9L643.8 697.3L644.5 694L645.2 682.9L646 680.4L646.8 678.6L647.5 685.3L648.2 680.3L649 683.4L649.8 685.4L650.5 685.2L651.2 684.7L652 690.8L652.8 687.5L653.5 692.4L654.2 692.4L655 692.4L655.8 712.3L656.5 719.5L657.2 701.9L658 732.8L658.8 733.7L659.5 730.5L660.2 734.2L661 749.9L661.8 741.2L662.5 737.3L663.2 736.3L664 727.6L664.8 726.6L665.5 728.1L666.2 715.2L667 708.5L667.8 701.8L668.5 713.3L669.2 734.1L670 741.1L670.8 718.9L671.5 721L672.2 726L673 734.4L673.8 717.9L674.5 717.6L675.2 705.8L676 722L676.8 717.7L677.5 706L678.2 710.4L679 718.6L679.8 716.3L680.5 714.7L681.2 712.7L682 716.9L682.8 718.3L683.5 726.2L684.2 732.7L685 707.8L685.8 707.8L686.5 708.6L687.2 715.3L688 708.2L688.8 705L689.5 712L690.2 721.3L691 716.5L691.8 722.5L692.5 731.2L693.2 722.8L694 726.9L694.8 727.4L695.5 726.4L696.2 737L697 727.4L697.8 722.8L698.5 729.8L699.2 725.4L700 737.5L700.8 725.3L701.5 691.6L702.2 681.5L703 684.2L703.8 661.1L704.5 662.6L705.2 654.9L706 662.6L706.8 670.5L707.5 689.5L708.2 681.2L709 682.8L709.8 677.3L710.5 668.3L711.2 678.7L712 676.8L712.8 677.3L713.5 653.5L714.2 655.6L715 680.2L715.8 665.3L716.5 662.8L717.2 650.8L718 650.5L718.8 647.8L719.5 654.8L720.2 678.3L721 672L721.8 656.3L722.5 664.1L723.2 672.8L724 673.5L724.8 664.3L725.5 662.4L726.2 655.2L727 661L727.8 663.2L728.5 665.1L729.2 670.1L730 671L730.8 657.8L731.5 678.5L732.2 687.2L733 668.4L733.8 669.2L734.5 663.9L735.2 667.7L736 670.3L736.8 675.3L737.5 679.2L738.2 687.6L739 692.4L739.8 714.6L740.5 725.5L741.2 731.8L742 728.7L742.8 717.7L743.5 696.7L744.2 692.4L745 712.1L745.8 700L746.5 713.2L747.2 714.7L748 716L748.8 725.2L749.5 731.7L750.2 719L751 718.9L751.8 724.2L752.5 707.1L753.2 702.9L754 709L754.8 712.4L755.5 692.4L756.2 693.7L757 694.7L757.8 711L758.5 707.6L759.2 703.6L760 692.4L760.8 698L761.5 704L762.2 719.5L763 700.5L763.8 697.2L764.5 692.4L765.2 710.8L766 706.8L766.8 692.4L767.5 686.2L768.2 689.6L769 691.2L769.8 692.4L770.5 689.7L771.2 692.7L772 693.5L772.8 698.7L773.5 697.4L774.2 689.5L775 692.4L775.8 692.4L776.5 704.7L777.2 696.3L778 692.7L778.8 697.6L779.5 689.3L780.2 695.2L780.2 690.9Z" fill="#DF536B" stroke="#DF536B" stroke-width="1.2" stroke-linejoin="round"/>
<path d="M437.5 690.9L437.5 689.5L438.2 689.5L439 684L439.8 666.4L440.5 665.9L441.2 662.9L442 660.8L442.8 664.3L443.5 659.7L444.2 660.9L445 661.4L445.8 661L446.5 664.3L447.2 657.6L448 654L448.8 654.4L449.5 652.6L450.2 662.2L451 659.8L451.8 652.7L452.5 655L453.2 651.5L454 647L454.8 648.2L455.5 653.3L456.2 648.6L457 643L457.8 640.1L458.5 642.2L459.2 642.1L460 639.5L460.8 641.9L461.5 643.5L462.2 650.9L463 662.2L463.8 668.4L464.5 661.4L465.2 656.9L466 660.3L466.8 661.3L467.5 662.9L468.2 664.2L469 661.4L469.8 662.2L470.5 660.4L471.2 663.9L472 663.2L472.8 661.9L473.5 671.7L474.2 677.2L475 675.6L475.8 662.5L476.5 670.6L477.2 684.1L478 672.7L478.8 672.1L479.5 665.8L480.2 676.6L481 674.2L481.8 671.4L482.5 666L483.2 664.3L484 673.1L484.8 673.7L485.5 673L486.2 673.2L487 659.8L487.8 664.5L488.5 673.7L489.2 672.4L490 670.4L490.8 657.5L491.5 657L492.2 649.3L493 661.2L493.8 658.6L494.5 664.1L495.2 663.3L496 661.1L496.8 659.4L497.5 660.7L498.2 656.7L499 653.7L499.8 648.6L500.5 647.8L501.2 652.2L502 645.9L502.8 647.9L503.5 650.6L504.2 654L505 656L505.8 650.4L506.5 649.2L507.2 652.5L508 663.2L508.8 660.9L509.5 657.5L510.2 655L511 653.8L511.8 651.7L512.5 656.7L513.2 657.6L514 646.4L514.8 653.2L515.5 651.4L516.2 651.4L517 656.4L517.8 655.3L518.5 653.6L519.2 644.2L520 647.5L520.8 649L521.5 653.4L522.2 647.3L523 647.6L523.8 651.9L524.5 661.7L525.2 656.1L526 657.6L526.8 655.3L527.5 656.4L528.2 656.9L529 662.5L529.8 666.3L530.5 665.6L531.2 662L532 668.3L532.8 668.3L533.5 675.7L534.2 673.7L535 676.7L535.8 676L536.5 680.1L537.2 679.3L538 682.8L538.8 676.4L539.5 683.4L540.2 683.7L541 683.8L541.8 687.3L542.5 684.1L543.2 682L544 674.4L544.8 675.1L545.5 671.6L546.2 665.6L547 673.5L547.8 679.1L548.5 671.2L549.2 669.2L550 668.3L550.8 663L551.5 678.1L552.2 671.2L553 663.5L553.8 659.7L554.5 661.2L555.2 661.1L556 657.2L556.8 651.9L557.5 654.5L558.2 648.8L559 640.3L559.8 642.7L560.5 648L561.2 651.2L562 656L562.8 662.9L563.5 658.9L564.2 671.8L565 675.3L565.8 680.8L566.5 665.3L567.2 666.2L568 665.3L568.8 666.7L569.5 666.6L570.2 664.7L571 670.5L571.8 660.4L572.5 660.1L573.2 653.8L574 652L574.8 653.1L575.5 665.4L576.2 665.7L577 670L577.8 664.8L578.5 664.9L579.2 664L580 671.7L580.8 672.3L581.5 673.9L582.2 679L583 672.7L583.8 675.3L584.5 678.8L585.2 678.3L586 678.3L586.8 676L587.5 672.6L588.2 672.2L589 677.6L589.8 679.4L590.5 678.3L591.2 677.6L592 682.5L592.8 679.6L593.5 684.5L594.2 677.7L595 682.3L595.8 683.3L596.5 687.5L597.2 685.1L598 687.3L598.8 684.6L599.5 687.5L600.2 686.5L601 682.3L601.8 689.5L602.5 689.5L603.2 689.5L604 687.4L604.8 682.3L605.5 684.9L606.2 686.2L607 689.3L607.8 683.7L608.5 683.8L609.2 688.5L610 689.5L610.8 684.3L611.5 681.9L612.2 678.5L613 684.6L613.8 685L614.5 687.6L615.2 684.2L616 678.3L616.8 675.3L617.5 676.2L618.2 682.3L619 682.5L619.8 680.2L620.5 674.3L621.2 677.4L622 678L622.8 679.5L623.5 688.8L624.2 688.3L625 688.3L625.8 691.7L626.5 692.6L627.2 691.2L628 687.8L628.8 687.3L629.5 687.6L630.2 691.6L631 695.2L631.8 701.5L632.5 703.4L633.2 704.4L634 699.9L634.8 704.8L635.5 703.3L636.2 697.4L637 697.1L637.8 700.7L638.5 700.8L639.2 701.3L640 696.1L640.8 694.8L641.5 696.7L642.2 693.8L643 692.4L643.8 694.6L644.5 695.9L645.2 700.2L646 701.9L646.8 698.9L647.5 703L648.2 699.2L649 705.3L649.8 707.4L650.5 703.3L651.2 697.4L652 692.4L652.8 692.4L653.5 692.4L654.2 699.7L655 702.8L655.8 703.8L656.5 703.4L657.2 703L658 700.4L658.8 702.1L659.5 702.9L660.2 700.6L661 701.5L661.8 706.5L662.5 707.3L663.2 710.6L664 711.6L664.8 706.9L665.5 700.7L666.2 702.8L667 709.2L667.8 708.2L668.5 707.7L669.2 702.1L670 703.3L670.8 707.7L671.5 711.1L672.2 708.6L673 710.8L673.8 711.5L674.5 713L675.2 710.5L676 711.7L676.8 714.3L677.5 710.3L678.2 708.1L679 710.4L679.8 709.2L680.5 707.7L681.2 710.6L682 708.9L682.8 705.1L683.5 707.1L684.2 711.1L685 707.4L685.8 708.8L686.5 716.7L687.2 720.5L688 717.4L688.8 713.3L689.5 718.1L690.2 712.5L691 721.1L691.8 714.9L692.5 713.3L693.2 714.7L694 711L694.8 705.6L695.5 714.5L696.2 712.8L697 703.5L697.8 708.8L698.5 702.5L699.2 702.4L700 700L700.8 692.4L701.5 695.6L702.2 691.1L703 697.7L703.8 699.9L704.5 692.6L705.2 698L706 695.5L706.8 693.3L707.5 694.8L708.2 691.1L709 693.4L709.8 692.4L710.5 699L711.2 696.9L712 697.1L712.8 700.4L713.5 696.8L714.2 697.1L715 700.6L715.8 700L716.5 701.6L717.2 700.5L718 702.2L718.8 695.7L719.5 693.7L720.2 692.4L721 692.4L721.8 699L722.5 697L723.2 701.1L724 698.4L724.8 700.1L725.5 698.7L726.2 698.4L727 692.4L727.8 704.5L728.5 707L729.2 701.6L730 694.8L730.8 698.3L731.5 698.8L732.2 696.4L733 697.5L733.8 696.7L734.5 699.7L735.2 690.7L736 688.8L736.8 690.4L737.5 690.1L738.2 692L739 690.2L739.8 688.8L740.5 683.2L741.2 683.2L742 689.2L742.8 682.8L743.5 689.3L744.2 692.4L745 692.4L745.8 689.5L746.5 688.5L747.2 686L748 684.9L748.8 683.8L749.5 685.4L750.2 685.2L751 687.8L751.8 690.8L752.5 689.7L753.2 688.7L754 684.5L754.8 689.5L755.5 689.5L756.2 689.5L757 686.2L757.8 687.3L758.5 686.9L759.2 686.6L760 680.2L760.8 680.7L761.5 676.8L762.2 675L763 674.4L763.8 684.6L764.5 682.3L765.2 679L766 672L766.8 674L767.5 676.8L768.2 675.6L769 681.3L769.8 677.3L770.5 678L771.2 682.6L772 680L772.8 688.9L773.5 690.8L774.2 689.9L775 692.4L775.8 691.8L776.5 688.8L777.2 686.6L778 690.6L778.8 694.3L779.5 692.1L780.2 692.2L780.2 690.9Z" fill="#61D04F" stroke="#61D04F" stroke-width="1.2" stroke-linejoin="round"/>
<path d="M437.5 741.4L438.2 737.4L439 738.3L439.8 755.7L440.5 750.9L441.2 752L442 758L442.8 772.1L443.5 775L444.2 743.8L445 732.7L445.8 749.6L446.5 753.6L447.2 761.2L448 770.6L448.8 774.2L449.5 769.3L450.2 776.9L451 764.5L451.8 760.2L452.5 760.1L453.2 752.4L454 749.9L454.8 754.5L455.5 754L456.2 750.1L457 749.5L457.8 749.4L458.5 735.1L459.2 731.7L460 724.6L460.8 726.8L461.5 707.6L462.2 730.6L463 733.9L463.8 741.2L464.5 738.4L465.2 741.4L466 737.9L466.8 741.2L467.5 763.1L468.2 765.1L469 766.6L469.8 772.6L470.5 776.5L471.2 763.2L472 756.7L472.8 753.9L473.5 752.6L474.2 749.8L475 736.1L475.8 737.2L476.5 763.6L477.2 771.3L478 767.6L478.8 776.4L479.5 779.5L480.2 788.8L481 796L481.8 784.7L482.5 770.4L483.2 753.5L484 747.3L484.8 741.6L485.5 734.1L486.2 725.4L487 716.1L487.8 714.9L488.5 717.5L489.2 707.6L490 707.7L490.8 719.4L491.5 723.2L492.2 727L493 714.9L493.8 717.7L494.5 722.1L495.2 725.8L496 729.6L496.8 739.5L497.5 742.1L498.2 739.9L499 742L499.8 740.8L500.5 743.7L501.2 746.8L502 733.3L502.8 733.7L503.5 742.3L504.2 739.2L505 744.7L505.8 736.2L506.5 723.1L507.2 735.9L508 727.6L508.8 717.1L509.5 723.4L510.2 740.5L511 740.5L511.8 725.8L512.5 726.5L513.2 745.8L514 753L514.8 751.4L515.5 745.3L516.2 743L517 719.5L517.8 723.5L518.5 728.5L519.2 752.1L520 756.1L520.8 757.5L521.5 759.3L522.2 762.9L523 765.7L523.8 765.5L524.5 762.1L525.2 762.4L526 761.8L526.8 760.3L527.5 752.6L528.2 757.1L529 760.5L529.8 748.6L530.5 745.8L531.2 752.1L532 751.9L532.8 752.6L533.5 744.9L534.2 735.5L535 741.9L535.8 755.2L536.5 755.6L537.2 754.6L538 757L538.8 760.8L539.5 760L540.2 757.2L541 752.4L541.8 753.7L542.5 758L543.2 748.8L544 747.9L544.8 756.5L545.5 751.1L546.2 757.4L547 770.4L547.8 762.3L548.5 759L549.2 758.4L550 758.9L550.8 760.9L551.5 761.2L552.2 738.8L553 763.5L553.8 773.1L554.5 771.8L555.2 767L556 765.8L556.8 766.5L557.5 758.2L558.2 756.9L559 741L559.8 757.6L560.5 770.7L561.2 757.5L562 780L562.8 777.2L563.5 762.1L564.2 767.3L565 770.9L565.8 760.1L566.5 778.1L567.2 775.3L568 767.7L568.8 761.2L569.5 761.2L570.2 762L571 771.6L571.8 763.8L572.5 763L573.2 743.6L574 743.7L574.8 758.2L575.5 765.4L576.2 765.4L577 772.8L577.8 772L578.5 771L579.2 758.5L580 768.8L580.8 747.9L581.5 754.8L582.2 744.4L583 744.2L583.8 739.2L584.5 742.6L585.2 742.6L586 749.3L586.8 759L587.5 765L588.2 769.2L589 747.5L589.8 739.7L590.5 753.2L591.2 766.9L592 750.2L592.8 744.2L593.5 743.9L594.2 754L595 752.5L595.8 752.4L596.5 749L597.2 739.9L598 742.3L598.8 752.7L599.5 748.6L600.2 747.4L601 757.5L601.8 753.7L602.5 730.5L603.2 743.3L604 740.8L604.8 753.5L605.5 751.8L606.2 758.1L607 747.2L607.8 748.4L608.5 753.9L609.2 755.4L610 750.5L610.8 759.5L611.5 749.2L612.2 746.8L613 738L613.8 760.9L614.5 762.1L615.2 755.9L616 759.3L616.8 756.9L617.5 753.6L618.2 748.6L619 763.2L619.8 764.1L620.5 769.4L621.2 773.8L622 743.8L622.8 743L623.5 758.5L624.2 750.6L625 746.6L625.8 747.1L626.5 741.5L627.2 741.7L628 741.4L628.8 744.5L629.5 732.6L630.2 736.4L631 736L631.8 731.2L632.5 726L633.2 728L634 733.9L634.8 727.1L635.5 724.3L636.2 722.1L637 708.1L637.8 692.4L638.5 713.3L639.2 713.4L640 712L640.8 702.5L641.5 704.7L642.2 704.6L643 701.9L643.8 697.3L644.5 694L645.2 682.9L646 680.4L646.8 678.6L647.5 685.3L648.2 680.3L649 683.4L649.8 685.4L650.5 685.2L651.2 684.7L652 690.8L652.8 687.5L653.5 692.4L654.2 692.4L655 692.4L655.8 712.3L656.5 719.5L657.2 701.9L658 732.8L658.8 733.7L659.5 730.5L660.2 734.2L661 749.9L661.8 741.2L662.5 737.3L663.2 736.3L664 727.6L664.8 726.6L665.5 728.1L666.2 715.2L667 708.5L667.8 701.8L668.5 713.3L669.2 734.1L670 741.1L670.8 718.9L671.5 721L672.2 726L673 734.4L673.8 717.9L674.5 717.6L675.2 705.8L676 722L676.8 717.7L677.5 706L678.2 710.4L679 718.6L679.8 716.3L680.5 714.7L681.2 712.7L682 716.9L682.8 718.3L683.5 726.2L684.2 732.7L685 707.8L685.8 707.8L686.5 708.6L687.2 715.3L688 708.2L688.8 705L689.5 712L690.2 721.3L691 716.5L691.8 722.5L692.5 731.2L693.2 722.8L694 726.9L694.8 727.4L695.5 726.4L696.2 737L697 727.4L697.8 722.8L698.5 729.8L699.2 725.4L700 737.5L700.8 725.3L701.5 691.6L702.2 681.5L703 684.2L703.8 661.1L704.5 662.6L705.2 654.9L706 662.6L706.8 670.5L707.5 689.5L708.2 681.2L709 682.8L709.8 677.3L710.5 668.3L711.2 678.7L712 676.8L712.8 677.3L713.5 653.5L714.2 655.6L715 680.2L715.8 665.3L716.5 662.8L717.2 650.8L718 650.5L718.8 647.8L719.5 654.8L720.2 678.3L721 672L721.8 656.3L722.5 664.1L723.2 672.8L724 673.5L724.8 664.3L725.5 662.4L726.2 655.2L727 661L727.8 663.2L728.5 665.1L729.2 670.1L730 671L730.8 657.8L731.5 678.5L732.2 687.2L733 668.4L733.8 669.2L734.5 663.9L735.2 667.7L736 670.3L736.8 675.3L737.5 679.2L738.2 687.6L739 692.4L739.8 714.6L740.5 725.5L741.2 731.8L742 728.7L742.8 717.7L743.5 696.7L744.2 692.4L745 712.1L745.8 700L746.5 713.2L747.2 714.7L748 716L748.8 725.2L749.5 731.7L750.2 719L751 718.9L751.8 724.2L752.5 707.1L753.2 702.9L754 709L754.8 712.4L755.5 692.4L756.2 693.7L757 694.7L757.8 711L758.5 707.6L759.2 703.6L760 692.4L760.8 698L761.5 704L762.2 719.5L763 700.5L763.8 697.2L764.5 692.4L765.2 710.8L766 706.8L766.8 692.4L767.5 686.2L768.2 689.6L769 691.2L769.8 692.4L770.5 689.7L771.2 692.7L772 693.5L772.8 698.7L773.5 697.4L774.2 689.5L775 692.4L775.8 692.4L776.5 704.7L777.2 696.3L778 692.7L778.8 697.6L779.5 689.3L780.2 695.2" fill="none" stroke="#DF536B" stroke-width="1.3" stroke-linejoin="round"/>
<path d="M437.5 689.5L438.2 689.5L439 684L439.8 666.4L440.5 665.9L441.2 662.9L442 660.8L442.8 664.3L443.5 659.7L444.2 660.9L445 661.4L445.8 661L446.5 664.3L447.2 657.6L448 654L448.8 654.4L449.5 652.6L450.2 662.2L451 659.8L451.8 652.7L452.5 655L453.2 651.5L454 647L454.8 648.2L455.5 653.3L456.2 648.6L457 643L457.8 640.1L458.5 642.2L459.2 642.1L460 639.5L460.8 641.9L461.5 643.5L462.2 650.9L463 662.2L463.8 668.4L464.5 661.4L465.2 656.9L466 660.3L466.8 661.3L467.5 662.9L468.2 664.2L469 661.4L469.8 662.2L470.5 660.4L471.2 663.9L472 663.2L472.8 661.9L473.5 671.7L474.2 677.2L475 675.6L475.8 662.5L476.5 670.6L477.2 684.1L478 672.7L478.8 672.1L479.5 665.8L480.2 676.6L481 674.2L481.8 671.4L482.5 666L483.2 664.3L484 673.1L484.8 673.7L485.5 673L486.2 673.2L487 659.8L487.8 664.5L488.5 673.7L489.2 672.4L490 670.4L490.8 657.5L491.5 657L492.2 649.3L493 661.2L493.8 658.6L494.5 664.1L495.2 663.3L496 661.1L496.8 659.4L497.5 660.7L498.2 656.7L499 653.7L499.8 648.6L500.5 647.8L501.2 652.2L502 645.9L502.8 647.9L503.5 650.6L504.2 654L505 656L505.8 650.4L506.5 649.2L507.2 652.5L508 663.2L508.8 660.9L509.5 657.5L510.2 655L511 653.8L511.8 651.7L512.5 656.7L513.2 657.6L514 646.4L514.8 653.2L515.5 651.4L516.2 651.4L517 656.4L517.8 655.3L518.5 653.6L519.2 644.2L520 647.5L520.8 649L521.5 653.4L522.2 647.3L523 647.6L523.8 651.9L524.5 661.7L525.2 656.1L526 657.6L526.8 655.3L527.5 656.4L528.2 656.9L529 662.5L529.8 666.3L530.5 665.6L531.2 662L532 668.3L532.8 668.3L533.5 675.7L534.2 673.7L535 676.7L535.8 676L536.5 680.1L537.2 679.3L538 682.8L538.8 676.4L539.5 683.4L540.2 683.7L541 683.8L541.8 687.3L542.5 684.1L543.2 682L544 674.4L544.8 675.1L545.5 671.6L546.2 665.6L547 673.5L547.8 679.1L548.5 671.2L549.2 669.2L550 668.3L550.8 663L551.5 678.1L552.2 671.2L553 663.5L553.8 659.7L554.5 661.2L555.2 661.1L556 657.2L556.8 651.9L557.5 654.5L558.2 648.8L559 640.3L559.8 642.7L560.5 648L561.2 651.2L562 656L562.8 662.9L563.5 658.9L564.2 671.8L565 675.3L565.8 680.8L566.5 665.3L567.2 666.2L568 665.3L568.8 666.7L569.5 666.6L570.2 664.7L571 670.5L571.8 660.4L572.5 660.1L573.2 653.8L574 652L574.8 653.1L575.5 665.4L576.2 665.7L577 670L577.8 664.8L578.5 664.9L579.2 664L580 671.7L580.8 672.3L581.5 673.9L582.2 679L583 672.7L583.8 675.3L584.5 678.8L585.2 678.3L586 678.3L586.8 676L587.5 672.6L588.2 672.2L589 677.6L589.8 679.4L590.5 678.3L591.2 677.6L592 682.5L592.8 679.6L593.5 684.5L594.2 677.7L595 682.3L595.8 683.3L596.5 687.5L597.2 685.1L598 687.3L598.8 684.6L599.5 687.5L600.2 686.5L601 682.3L601.8 689.5L602.5 689.5L603.2 689.5L604 687.4L604.8 682.3L605.5 684.9L606.2 686.2L607 689.3L607.8 683.7L608.5 683.8L609.2 688.5L610 689.5L610.8 684.3L611.5 681.9L612.2 678.5L613 684.6L613.8 685L614.5 687.6L615.2 684.2L616 678.3L616.8 675.3L617.5 676.2L618.2 682.3L619 682.5L619.8 680.2L620.5 674.3L621.2 677.4L622 678L622.8 679.5L623.5 688.8L624.2 688.3L625 688.3L625.8 691.7L626.5 692.6L627.2 691.2L628 687.8L628.8 687.3L629.5 687.6L630.2 691.6L631 695.2L631.8 701.5L632.5 703.4L633.2 704.4L634 699.9L634.8 704.8L635.5 703.3L636.2 697.4L637 697.1L637.8 700.7L638.5 700.8L639.2 701.3L640 696.1L640.8 694.8L641.5 696.7L642.2 693.8L643 692.4L643.8 694.6L644.5 695.9L645.2 700.2L646 701.9L646.8 698.9L647.5 703L648.2 699.2L649 705.3L649.8 707.4L650.5 703.3L651.2 697.4L652 692.4L652.8 692.4L653.5 692.4L654.2 699.7L655 702.8L655.8 703.8L656.5 703.4L657.2 703L658 700.4L658.8 702.1L659.5 702.9L660.2 700.6L661 701.5L661.8 706.5L662.5 707.3L663.2 710.6L664 711.6L664.8 706.9L665.5 700.7L666.2 702.8L667 709.2L667.8 708.2L668.5 707.7L669.2 702.1L670 703.3L670.8 707.7L671.5 711.1L672.2 708.6L673 710.8L673.8 711.5L674.5 713L675.2 710.5L676 711.7L676.8 714.3L677.5 710.3L678.2 708.1L679 710.4L679.8 709.2L680.5 707.7L681.2 710.6L682 708.9L682.8 705.1L683.5 707.1L684.2 711.1L685 707.4L685.8 708.8L686.5 716.7L687.2 720.5L688 717.4L688.8 713.3L689.5 718.1L690.2 712.5L691 721.1L691.8 714.9L692.5 713.3L693.2 714.7L694 711L694.8 705.6L695.5 714.5L696.2 712.8L697 703.5L697.8 708.8L698.5 702.5L699.2 702.4L700 700L700.8 692.4L701.5 695.6L702.2 691.1L703 697.7L703.8 699.9L704.5 692.6L705.2 698L706 695.5L706.8 693.3L707.5 694.8L708.2 691.1L709 693.4L709.8 692.4L710.5 699L711.2 696.9L712 697.1L712.8 700.4L713.5 696.8L714.2 697.1L715 700.6L715.8 700L716.5 701.6L717.2 700.5L718 702.2L718.8 695.7L719.5 693.7L720.2 692.4L721 692.4L721.8 699L722.5 697L723.2 701.1L724 698.4L724.8 700.1L725.5 698.7L726.2 698.4L727 692.4L727.8 704.5L728.5 707L729.2 701.6L730 694.8L730.8 698.3L731.5 698.8L732.2 696.4L733 697.5L733.8 696.7L734.5 699.7L735.2 690.7L736 688.8L736.8 690.4L737.5 690.1L738.2 692L739 690.2L739.8 688.8L740.5 683.2L741.2 683.2L742 689.2L742.8 682.8L743.5 689.3L744.2 692.4L745 692.4L745.8 689.5L746.5 688.5L747.2 686L748 684.9L748.8 683.8L749.5 685.4L750.2 685.2L751 687.8L751.8 690.8L752.5 689.7L753.2 688.7L754 684.5L754.8 689.5L755.5 689.5L756.2 689.5L757 686.2L757.8 687.3L758.5 686.9L759.2 686.6L760 680.2L760.8 680.7L761.5 676.8L762.2 675L763 674.4L763.8 684.6L764.5 682.3L765.2 679L766 672L766.8 674L767.5 676.8L768.2 675.6L769 681.3L769.8 677.3L770.5 678L771.2 682.6L772 680L772.8 688.9L773.5 690.8L774.2 689.9L775 692.4L775.8 691.8L776.5 688.8L777.2 686.6L778 690.6L778.8 694.3L779.5 692.1L780.2 692.2" fill="none" stroke="#61D04F" stroke-width="1.3" stroke-linejoin="round"/>
<path d="M437.5 733.4L438.2 733.9L439 728.9L439.8 736.7L440.5 742.8L441.2 743.5L442 737.3L442.8 747.6L443.5 740.4L444.2 723L445 713.4L445.8 704.3L446.5 713.9L447.2 730.4L448 744.5L448.8 751.5L449.5 749.4L450.2 744L451 736.9L451.8 730.8L452.5 725.6L453.2 725.2L454 720.2L454.8 715.7L455.5 713.9L456.2 707.1L457 694.6L457.8 688.5L458.5 686.4L459.2 681L460 663.3L460.8 668.4L461.5 683L462.2 699.5L463 701.6L463.8 711.1L464.5 725.6L465.2 724.1L466 729.2L466.8 725.5L467.5 729.9L468.2 735.3L469 733.8L469.8 738.1L470.5 724.8L471.2 729.8L472 727.8L472.8 740.2L473.5 743.4L474.2 729L475 740.3L475.8 741.4L476.5 748.8L477.2 755L478 756.7L478.8 758.6L479.5 757.3L480.2 761.8L481 761.8L481.8 739.9L482.5 732.1L483.2 719.2L484 706.8L484.8 707.5L485.5 704.5L486.2 715.7L487 715.7L487.8 697.8L488.5 697.6L489.2 692.5L490 686.7L490.8 686.4L491.5 677.8L492.2 677.9L493 667.2L493.8 671.1L494.5 675L495.2 683.7L496 688L496.8 694.6L497.5 689.5L498.2 689.6L499 697.2L499.8 707.9L500.5 699.5L501.2 703.2L502 714.3L502.8 714L503.5 711.6L504.2 692.2L505 701.9L505.8 698.3L506.5 698.3L507.2 699.3L508 690.6L508.8 685.1L509.5 696.5L510.2 705.5L511 697.5L511.8 698.7L512.5 702.3L513.2 709.4L514 698.7L514.8 706.7L515.5 709.6L516.2 713.1L517 705.1L517.8 707.3L518.5 704.7L519.2 712.4L520 717.7L520.8 715.6L521.5 709.2L522.2 712.6L523 717.7L523.8 717.8L524.5 715.3L525.2 713L526 712.7L526.8 705.4L527.5 704.3L528.2 708.1L529 707.8L529.8 709.6L530.5 719.5L531.2 730L532 727.2L532.8 721L533.5 724.6L534.2 736.6L535 734.2L535.8 738.3L536.5 745.5L537.2 751.2L538 747.3L538.8 743.5L539.5 748.4L540.2 749.7L541 746.8L541.8 735.7L542.5 735.7L543.2 736.1L544 739.6L544.8 743.8L545.5 740.8L546.2 739L547 738.3L547.8 745.2L548.5 744.6L549.2 739.1L550 742.2L550.8 742L551.5 735L552.2 740.9L553 737.4L553.8 748L554.5 743.6L555.2 738.1L556 724.5L556.8 723.4L557.5 712.8L558.2 709.2L559 708L559.8 712.7L560.5 717L561.2 727.5L562 736.9L562.8 737.4L563.5 742.1L564.2 747.9L565 743.5L565.8 739.8L566.5 734.2L567.2 732.2L568 723.6L568.8 732.1L569.5 730.5L570.2 735.1L571 737.1L571.8 735.3L572.5 736.6L573.2 734.8L574 734.8L574.8 742.5L575.5 740.5L576.2 732.1L577 728.2L577.8 726.7L578.5 725.3L579.2 729.1L580 723.9L580.8 730.8L581.5 731.5L582.2 734.4L583 734.6L583.8 728.9L584.5 742.8L585.2 737.7L586 734.2L586.8 738L587.5 749L588.2 746.6L589 743.2L589.8 747.4L590.5 749.2L591.2 756.8L592 760.6L592.8 759L593.5 747.8L594.2 742.6L595 737.9L595.8 734.9L596.5 734.5L597.2 726.1L598 725.8L598.8 722.7L599.5 730.5L600.2 743.4L601 743.2L601.8 746.4L602.5 745.6L603.2 746.2L604 744.9L604.8 744.3L605.5 747.1L606.2 742.5L607 733.3L607.8 729.9L608.5 740.5L609.2 725.2L610 727.7L610.8 734.2L611.5 735.1L612.2 737.1L613 743.1L613.8 745.8L614.5 756.5L615.2 745.8L616 733.4L616.8 729.8L617.5 740.3L618.2 738.8L619 747.7L619.8 751L620.5 756L621.2 755.7L622 753.3L622.8 754.9L623.5 744.9L624.2 732.9L625 743.5L625.8 732.2L626.5 726.5L627.2 732.5L628 726.5L628.8 726.2L629.5 732.3L630.2 739.3L631 736.5L631.8 744.9L632.5 751.9L633.2 755.6L634 750.7L634.8 753.5L635.5 745.9L636.2 732L637 730.5L637.8 719.5L638.5 728.9L639.2 729.9L640 721.9L640.8 716L641.5 713.8L642.2 709.4L643 714L643.8 700.7L644.5 710.7L645.2 710.7L646 700.8L646.8 709.4L647.5 702.3L648.2 706.8L649 704.5L649.8 702.8L650.5 704.8L651.2 707.8L652 714L652.8 712L653.5 715.1L654.2 719.8L655 721.5L655.8 729.8L656.5 733.9L657.2 743L658 752L658.8 760.6L659.5 765.6L660.2 760.1L661 760L661.8 761.2L662.5 766.3L663.2 765.7L664 764.8L664.8 754.8L665.5 757.8L666.2 747.1L667 746.6L667.8 747.3L668.5 744.7L669.2 752.3L670 758.5L670.8 760.1L671.5 757.8L672.2 755.5L673 751.5L673.8 749L674.5 740.2L675.2 743.7L676 737.6L676.8 739.5L677.5 737.6L678.2 749.4L679 739L679.8 744L680.5 748.6L681.2 740.3L682 746.4L682.8 744L683.5 749.8L684.2 752.7L685 750.6L685.8 741.6L686.5 745.7L687.2 747L688 744.5L688.8 749.4L689.5 755.5L690.2 762.8L691 761.5L691.8 757L692.5 756.5L693.2 759.9L694 759L694.8 759.3L695.5 756.6L696.2 758L697 764.8L697.8 764L698.5 762.2L699.2 752.7L700 759.2L700.8 737.4L701.5 702.2L702.2 671L703 667L703.8 669.9L704.5 663L705.2 681L706 675.8L706.8 679.5L707.5 677.6L708.2 688.4L709 680.9L709.8 682.2L710.5 686.5L711.2 687.5L712 688.5L712.8 686.9L713.5 669.6L714.2 668.4L715 656.6L715.8 673.4L716.5 665.8L717.2 671.4L718 674.9L718.8 675.6L719.5 679L720.2 676L721 673.9L721.8 672.1L722.5 670.1L723.2 670.8L724 668.6L724.8 674.2L725.5 673.1L726.2 682.9L727 691.5L727.8 679.4L728.5 673.5L729.2 670.2L730 670.2L730.8 669.5L731.5 671.9L732.2 671.7L733 677.6L733.8 684.5L734.5 681.4L735.2 673.3L736 678.7L736.8 682.8L737.5 698.2L738.2 695L739 691L739.8 699.3L740.5 709.7L741.2 710.5L742 706.6L742.8 708.5L743.5 704.3L744.2 718L745 704.9L745.8 706.8L746.5 712.2L747.2 721.7L748 722.4L748.8 718.4L749.5 724.3L750.2 716.5L751 713L751.8 717.2L752.5 709.1L753.2 710.2L754 706.4L754.8 696.5L755.5 695.7L756.2 705.3L757 704.7L757.8 708.8L758.5 710.8L759.2 691L760 693.2L760.8 698L761.5 702L762.2 693.9L763 696.9L763.8 683.4L764.5 684.8L765.2 691.1L766 679.7L766.8 670.2L767.5 676L768.2 684.8L769 686.9L769.8 686.6L770.5 676.8L771.2 677.2L772 682.8L772.8 695L773.5 697.9L774.2 697.9L775 698.3L775.8 699.7L776.5 691.2L777.2 689.5L778 690.6L778.8 694.5L779.5 696.7L780.2 706.3" fill="none" stroke="#000" stroke-width="1.3" stroke-linejoin="round"/>
</g>
<line x1="437.5" x2="780.5" y1="690.9" y2="690.9" stroke="#000" stroke-width="1.8" stroke-dasharray="2.3 4.1"/>
<rect x="451.0" y="585.5" width="13" height="10.5" fill="#000" stroke="#000" stroke-width="1.2"/>
<text x="476.5" y="598.6" font-size="16" fill="#000" stroke="#000" stroke-width="0.3" textLength="36.5" lengthAdjust="spacingAndGlyphs">Total</text>
<rect x="451.0" y="605.9" width="13" height="10.5" fill="#DF536B" stroke="#000" stroke-width="1.2"/>
<text x="476.5" y="618.4" font-size="16" fill="#000" stroke="#000" stroke-width="0.3" textLength="23.5" lengthAdjust="spacingAndGlyphs">1-5</text>
<rect x="451.0" y="626.3" width="13" height="10.5" fill="#61D04F" stroke="#000" stroke-width="1.2"/>
<text x="476.5" y="638.2" font-size="16" fill="#000" stroke="#000" stroke-width="0.3" textLength="35.2" lengthAdjust="spacingAndGlyphs">5-Inf</text>
<rect x="437.5" y="571.5" width="343" height="215.0" fill="none" stroke="#000" stroke-width="1.6"/>
<line x1="432" x2="437.5" y1="595.4" y2="595.4" stroke="#000" stroke-width="1.2"/>
<text x="428" y="602.7" font-size="16" text-anchor="end" fill="#000" stroke="#000" stroke-width="0.3">20</text>
<line x1="432" x2="437.5" y1="643.2" y2="643.2" stroke="#000" stroke-width="1.2"/>
<text x="428" y="650.5" font-size="16" text-anchor="end" fill="#000" stroke="#000" stroke-width="0.3">10</text>
<line x1="432" x2="437.5" y1="690.9" y2="690.9" stroke="#000" stroke-width="1.2"/>
<text x="428" y="698.2" font-size="16" text-anchor="end" fill="#000" stroke="#000" stroke-width="0.3">0</text>
<line x1="432" x2="437.5" y1="738.7" y2="738.7" stroke="#000" stroke-width="1.2"/>
<text x="428" y="746" font-size="16" text-anchor="end" fill="#000" stroke="#000" stroke-width="0.3">-10</text>
<line x1="432" x2="437.5" y1="786.5" y2="786.5" stroke="#000" stroke-width="1.2"/>
<text x="428" y="793.8" font-size="16" text-anchor="end" fill="#000" stroke="#000" stroke-width="0.3">-20</text>
<line x1="587.7" x2="587.7" y1="786.5" y2="791.5" stroke="#000" stroke-width="1.2"/>
<text x="587.2" y="810" font-size="16" text-anchor="middle" fill="#000" stroke="#000" stroke-width="0.3" textLength="37" lengthAdjust="spacingAndGlyphs">2023</text>
<line x1="777.5" x2="777.5" y1="786.5" y2="791.5" stroke="#000" stroke-width="1.2"/>
<text x="777.0" y="810" font-size="16" text-anchor="middle" fill="#000" stroke="#000" stroke-width="0.3" textLength="37" lengthAdjust="spacingAndGlyphs">2024</text>
<text transform="translate(606.9 566) scale(1 1.18)" x="0" y="0" font-size="19.2" font-weight="bold" text-anchor="middle" fill="#000" textLength="67.2" lengthAdjust="spacingAndGlyphs">Bitcoin</text>
<clipPath id="c22"><rect x="840.5" y="571.5" width="342" height="215.0"/></clipPath>
<g stroke="#D3D3D3" stroke-width="1.5" stroke-dasharray="7 5.5"><line x1="840.5" x2="1182.5" y1="595.4" y2="595.4"/><line x1="840.5" x2="1182.5" y1="643.2" y2="643.2"/><line x1="840.5" x2="1182.5" y1="738.7" y2="738.7"/></g>
<g clip-path="url(#c22)" shape-rendering="crispEdges">
<path d="M840.5 690.9L840.5 742.4L841.2 737.9L842 729.8L842.8 721.6L843.5 738.2L844.2 743.2L845 740.7L845.8 721.7L846.5 708.2L847.2 718.2L848 728.3L848.8 734.5L849.5 726L850.2 717.2L851 713.4L851.8 708.1L852.5 723.3L853.2 724.9L854 735.5L854.8 732.2L855.5 727.9L856.2 726.8L857 717.6L857.8 709.8L858.5 703.6L859.2 697L860 699.1L860.8 703L861.5 700.1L862.2 709.6L863 720.4L863.8 718.9L864.5 715.4L865.2 715.8L866 703L866.8 696.4L867.5 696.9L868.2 705.3L869 707.6L869.8 704.8L870.5 707.8L871.2 703.5L872 700.6L872.8 706.7L873.5 736.8L874.2 742.9L875 748.2L875.8 750.9L876.5 743.1L877.2 725.4L878 733.1L878.8 721.3L879.5 713.4L880.2 710.5L881 708.7L881.8 710.2L882.5 725.1L883.2 744.9L884 758L884.8 776.7L885.5 779.5L886.2 791.1L887 782L887.8 777.1L888.5 791.3L889.2 789.8L890 783.5L890.8 792.3L891.5 791.6L892.2 791.1L893 793.4L893.8 781.8L894.5 769.3L895.2 782.3L896 802.8L896.8 782.1L897.5 786L898.2 787.2L899 793.3L899.8 773.8L900.5 769.9L901.2 783.7L902 789.1L902.8 784.8L903.5 781.8L904.2 780.2L905 764L905.8 759.2L906.5 748.9L907.2 768.3L908 758.2L908.8 757.9L909.5 744.1L910.2 743.7L911 721.7L911.8 719.3L912.5 739.7L913.2 737.4L914 745.7L914.8 748.1L915.5 759.6L916.2 737.8L917 744.4L917.8 729.6L918.5 736.3L919.2 733.8L920 744.5L920.8 740.1L921.5 731.9L922.2 729L923 721.2L923.8 705.1L924.5 715.8L925.2 715.5L926 706.3L926.8 718.4L927.5 714.2L928.2 728.4L929 751.4L929.8 746.7L930.5 748.6L931.2 749.6L932 737.3L932.8 738.5L933.5 732.5L934.2 750.9L935 753.6L935.8 753.2L936.5 732.9L937.2 750.5L938 750.7L938.8 754.2L939.5 737.3L940.2 743L941 754.5L941.8 750.1L942.5 747.7L943.2 746.9L944 747.7L944.8 738.3L945.5 727.2L946.2 694.6L947 735.7L947.8 756.2L948.5 776.2L949.2 779.1L950 770.2L950.8 774.2L951.5 769.1L952.2 774.2L953 791.2L953.8 787.4L954.5 786.7L955.2 797.1L956 794.7L956.8 793.6L957.5 789.1L958.2 782.8L959 782.4L959.8 767.3L960.5 756.3L961.2 751.9L962 748.3L962.8 753.9L963.5 750.3L964.2 748.7L965 743.1L965.8 738.7L966.5 736L967.2 722.3L968 724.8L968.8 752.3L969.5 733.5L970.2 731.1L971 721.6L971.8 753.4L972.5 741.3L973.2 738.1L974 748.3L974.8 751.1L975.5 759.4L976.2 760.5L977 750.2L977.8 761.9L978.5 759.3L979.2 758.8L980 763.2L980.8 773.9L981.5 775.6L982.2 779.8L983 770.5L983.8 784.9L984.5 755.6L985.2 780.5L986 765.2L986.8 774.7L987.5 782.6L988.2 792.5L989 771.5L989.8 764.3L990.5 757.3L991.2 767.2L992 764.4L992.8 765.9L993.5 772.3L994.2 779.5L995 793.1L995.8 786.3L996.5 789.3L997.2 782.8L998 780.6L998.8 776.2L999.5 769.2L1000.2 774.9L1001 778.4L1001.8 763.7L1002.5 765.9L1003.2 765.6L1004 768.7L1004.8 766.6L1005.5 758.8L1006.2 759.4L1007 764.1L1007.8 762.8L1008.5 752.1L1009.2 762.8L1010 759L1010.8 745.8L1011.5 724.5L1012.2 726.5L1013 753.7L1013.8 757.1L1014.5 746.5L1015.2 745.1L1016 752L1016.8 759.7L1017.5 752.3L1018.2 756.9L1019 753.2L1019.8 767.4L1020.5 764.5L1021.2 754L1022 752.6L1022.8 732.8L1023.5 722.3L1024.2 734.8L1025 720.2L1025.8 721.3L1026.5 717.3L1027.2 722.6L1028 716L1028.8 712.8L1029.5 707.2L1030.2 718.4L1031 724.1L1031.8 713.6L1032.5 720.4L1033.2 727.8L1034 739.1L1034.8 746.8L1035.5 755.1L1036.2 774.2L1037 796.6L1037.8 768.7L1038.5 748.1L1039.2 721.9L1040 718.9L1040.8 696L1041.5 692.4L1042.2 716.3L1043 704.8L1043.8 705.3L1044.5 713L1045.2 700.7L1046 715.2L1046.8 731.7L1047.5 728.5L1048.2 717.9L1049 692.4L1049.8 707.6L1050.5 709.6L1051.2 702.5L1052 708.9L1052.8 709L1053.5 701.5L1054.2 694.2L1055 685.1L1055.8 700.4L1056.5 716.3L1057.2 735.9L1058 752.8L1058.8 748.4L1059.5 743.9L1060.2 751.7L1061 753.6L1061.8 749.9L1062.5 749.1L1063.2 737.2L1064 743.4L1064.8 768.7L1065.5 767.8L1066.2 763.7L1067 756.7L1067.8 762.7L1068.5 764.9L1069.2 744.6L1070 768.4L1070.8 759.7L1071.5 756.3L1072.2 741.3L1073 751.7L1073.8 761.7L1074.5 764.1L1075.2 744.5L1076 770.3L1076.8 767.9L1077.5 774.9L1078.2 777.3L1079 777.5L1079.8 779.5L1080.5 777.4L1081.2 774.4L1082 772.1L1082.8 766.9L1083.5 767.1L1084.2 765.4L1085 771.2L1085.8 781.6L1086.5 773.4L1087.2 774.3L1088 776.6L1088.8 771.9L1089.5 769.3L1090.2 769.8L1091 773.8L1091.8 769.6L1092.5 774.8L1093.2 754.4L1094 752.7L1094.8 780.4L1095.5 776.6L1096.2 768L1097 769L1097.8 773.2L1098.5 773.6L1099.2 769.4L1100 769.7L1100.8 781.5L1101.5 762.6L1102.2 746.5L1103 750.6L1103.8 757.2L1104.5 759.4L1105.2 745.4L1106 760.7L1106.8 758.9L1107.5 760.7L1108.2 738.7L1109 740.1L1109.8 766.7L1110.5 747.3L1111.2 763L1112 768.3L1112.8 772.7L1113.5 758.3L1114.2 752.2L1115 752.9L1115.8 777.4L1116.5 779.7L1117.2 771.2L1118 769.1L1118.8 770.1L1119.5 767.3L1120.2 766.1L1121 776.5L1121.8 771.2L1122.5 763.3L1123.2 756.1L1124 766.7L1124.8 754.1L1125.5 722L1126.2 719.1L1127 725.5L1127.8 712.6L1128.5 712.2L1129.2 714.9L1130 719.3L1130.8 698.7L1131.5 692.4L1132.2 692.4L1133 705.2L1133.8 716.8L1134.5 722.1L1135.2 724L1136 718.1L1136.8 723.2L1137.5 725.2L1138.2 742.4L1139 743.7L1139.8 742L1140.5 756.5L1141.2 739.8L1142 738.3L1142.8 762.7L1143.5 755.5L1144.2 758.2L1145 754.3L1145.8 757.3L1146.5 752.5L1147.2 744.2L1148 744.1L1148.8 741.9L1149.5 741.3L1150.2 738.7L1151 714.4L1151.8 707.3L1152.5 730.1L1153.2 732.8L1154 727.4L1154.8 717.2L1155.5 718.7L1156.2 698L1157 692.4L1157.8 692.4L1158.5 715.2L1159.2 692.4L1160 692.4L1160.8 718.5L1161.5 714.8L1162.2 709.7L1163 692.4L1163.8 695.8L1164.5 718.1L1165.2 724.2L1166 721.8L1166.8 722.1L1167.5 721.1L1168.2 723.7L1169 731.3L1169.8 728.8L1170.5 733L1171.2 736.9L1172 730.6L1172.8 741.3L1173.5 729.2L1174.2 731.1L1175 726.8L1175.8 707.8L1176.5 709.8L1177.2 698.8L1178 719.9L1178.8 717L1179.5 715.4L1180.2 712.5L1181 711.2L1181.8 695.2L1182.5 711.8L1182.5 690.9Z" fill="#000" stroke="#000" stroke-width="1.2" stroke-linejoin="round"/>
<path d="M840.5 690.9L840.5 726L841.2 701.2L842 710.9L842.8 702.7L843.5 722.9L844.2 727.8L845 720.7L845.8 712.9L846.5 713.6L847.2 717.7L848 719.3L848.8 723.9L849.5 726.5L850.2 711.6L851 718L851.8 707.1L852.5 714.6L853.2 722.2L854 719.7L854.8 702.7L855.5 699.5L856.2 693.6L857 692.4L857.8 692.4L858.5 709.9L859.2 711.8L860 692.4L860.8 697.2L861.5 695.4L862.2 727.6L863 737L863.8 706.5L864.5 709.4L865.2 713.9L866 714.9L866.8 711.8L867.5 711.2L868.2 723.5L869 725.5L869.8 713.9L870.5 707L871.2 712.9L872 717.4L872.8 707.2L873.5 698.9L874.2 709L875 705.5L875.8 717.2L876.5 718.6L877.2 710.7L878 707.3L878.8 703.4L879.5 701.6L880.2 698.6L881 702.6L881.8 695L882.5 692.4L883.2 697.2L884 719.2L884.8 761.8L885.5 769.8L886.2 777.2L887 781.8L887.8 779.3L888.5 790.7L889.2 790L890 788.3L890.8 787.7L891.5 791.5L892.2 791.5L893 786.6L893.8 787.5L894.5 783.9L895.2 794.5L896 796.9L896.8 779.9L897.5 784.6L898.2 766.8L899 791.8L899.8 801.8L900.5 796.5L901.2 795.8L902 769.6L902.8 763.2L903.5 760.3L904.2 776.5L905 774L905.8 773.2L906.5 775.2L907.2 770.8L908 759.3L908.8 746.8L909.5 742.3L910.2 733.8L911 741.5L911.8 721.6L912.5 729.1L913.2 726.8L914 728.1L914.8 725.3L915.5 721.3L916.2 720.8L917 717.2L917.8 723.3L918.5 719.3L919.2 723.7L920 722L920.8 727L921.5 729.2L922.2 720.2L923 712.8L923.8 704.5L924.5 710.6L925.2 706L926 701.3L926.8 709.3L927.5 705.8L928.2 728.7L929 726.6L929.8 726L930.5 727.4L931.2 722L932 729.8L932.8 732.8L933.5 731.2L934.2 724.9L935 727.2L935.8 726.3L936.5 726.8L937.2 721L938 726.7L938.8 730.3L939.5 706L940.2 706.8L941 717.1L941.8 730.9L942.5 737L943.2 740.6L944 731L944.8 721L945.5 723.5L946.2 728.9L947 735.1L947.8 745.9L948.5 753.4L949.2 769.3L950 765.5L950.8 774.6L951.5 770.5L952.2 770.3L953 772.8L953.8 770.9L954.5 772.3L955.2 772.9L956 784.6L956.8 783.3L957.5 781.6L958.2 787.2L959 762L959.8 753.4L960.5 729L961.2 717L962 713.9L962.8 730.9L963.5 720.5L964.2 719.7L965 696.5L965.8 722.7L966.5 717L967.2 699.9L968 701.1L968.8 719.5L969.5 718.1L970.2 729.1L971 714.2L971.8 728.9L972.5 734.3L973.2 738.3L974 743.4L974.8 734.9L975.5 718.6L976.2 738.9L977 740.4L977.8 720L978.5 714.3L979.2 713.7L980 733.3L980.8 715.2L981.5 712.9L982.2 739.2L983 741.2L983.8 743.5L984.5 740.9L985.2 740.1L986 742.7L986.8 743.8L987.5 735.9L988.2 733.7L989 738.5L989.8 732.2L990.5 749L991.2 743.9L992 732.5L992.8 733.4L993.5 737L994.2 735.8L995 723.3L995.8 722.8L996.5 744.8L997.2 734.9L998 738L998.8 754.5L999.5 764.8L1000.2 765L1001 760.5L1001.8 749.7L1002.5 745.7L1003.2 749.9L1004 747.7L1004.8 747.9L1005.5 759.4L1006.2 737.1L1007 728.5L1007.8 756.2L1008.5 756.4L1009.2 738.9L1010 734L1010.8 723.2L1011.5 714.5L1012.2 695.1L1013 701.5L1013.8 717.3L1014.5 712.8L1015.2 713.5L1016 720.4L1016.8 738.5L1017.5 755L1018.2 755.3L1019 750.5L1019.8 753.6L1020.5 746.5L1021.2 735.7L1022 728.9L1022.8 733L1023.5 730.1L1024.2 720.6L1025 716L1025.8 714L1026.5 714L1027.2 708.5L1028 722.3L1028.8 704.9L1029.5 717.5L1030.2 705.2L1031 726.4L1031.8 720.9L1032.5 718.8L1033.2 728.9L1034 724.9L1034.8 735.3L1035.5 751.5L1036.2 778.9L1037 774.6L1037.8 757.8L1038.5 737.9L1039.2 719.2L1040 724.3L1040.8 725.8L1041.5 718.8L1042.2 695.6L1043 698L1043.8 694.2L1044.5 713.4L1045.2 695.1L1046 706.7L1046.8 706.4L1047.5 711.2L1048.2 711.9L1049 701.4L1049.8 697.3L1050.5 700.1L1051.2 681.7L1052 679.5L1052.8 679.2L1053.5 684.2L1054.2 678.6L1055 689.5L1055.8 693.3L1056.5 711.3L1057.2 721.3L1058 740.8L1058.8 733.5L1059.5 739.9L1060.2 726.1L1061 728.8L1061.8 734L1062.5 736L1063.2 737.5L1064 742.8L1064.8 725.1L1065.5 720.6L1066.2 734.1L1067 735.4L1067.8 727.7L1068.5 732.4L1069.2 742.8L1070 729.5L1070.8 720.6L1071.5 713.9L1072.2 731.9L1073 711L1073.8 720L1074.5 740.3L1075.2 741.6L1076 748.3L1076.8 750.2L1077.5 742.6L1078.2 746.7L1079 760L1079.8 744.5L1080.5 744.1L1081.2 742.6L1082 726.4L1082.8 736L1083.5 753.2L1084.2 752.2L1085 736.3L1085.8 734.9L1086.5 735.7L1087.2 746.5L1088 744.6L1088.8 754.5L1089.5 750.5L1090.2 750.7L1091 750.9L1091.8 750.9L1092.5 753.2L1093.2 746.6L1094 757.3L1094.8 747.2L1095.5 747.5L1096.2 740.8L1097 754.6L1097.8 735.4L1098.5 746.3L1099.2 745.1L1100 756.4L1100.8 756.7L1101.5 746.2L1102.2 746.7L1103 750.4L1103.8 750.1L1104.5 754L1105.2 751.2L1106 746.4L1106.8 747.8L1107.5 754.1L1108.2 752.2L1109 735.6L1109.8 736.6L1110.5 748.5L1111.2 753.5L1112 755L1112.8 742.4L1113.5 741.1L1114.2 753.5L1115 752L1115.8 750.3L1116.5 753.1L1117.2 754L1118 739.3L1118.8 741L1119.5 747.4L1120.2 757.3L1121 753.8L1121.8 740.8L1122.5 726.9L1123.2 727.6L1124 719.9L1124.8 717.2L1125.5 719.1L1126.2 715.8L1127 729.7L1127.8 714.2L1128.5 692.4L1129.2 708.9L1130 704.3L1130.8 693.9L1131.5 708.7L1132.2 709L1133 709.8L1133.8 692.4L1134.5 694.8L1135.2 707.9L1136 730.8L1136.8 735.8L1137.5 732.2L1138.2 726.2L1139 738.8L1139.8 747L1140.5 768.1L1141.2 764L1142 770.6L1142.8 764.8L1143.5 758L1144.2 748.3L1145 741.1L1145.8 746.9L1146.5 744.4L1147.2 754.1L1148 741.2L1148.8 720.2L1149.5 716.8L1150.2 741.2L1151 740.7L1151.8 729.2L1152.5 716.1L1153.2 729.2L1154 715.5L1154.8 712.6L1155.5 706.1L1156.2 723.1L1157 724.5L1157.8 720.1L1158.5 699.2L1159.2 700.4L1160 702L1160.8 717.2L1161.5 707.1L1162.2 710.6L1163 714.7L1163.8 725.6L1164.5 701.7L1165.2 700.8L1166 729.2L1166.8 733.3L1167.5 733.4L1168.2 714.9L1169 735.9L1169.8 726.9L1170.5 724.7L1171.2 734.7L1172 751L1172.8 749.3L1173.5 743.3L1174.2 740.1L1175 741.9L1175.8 735.9L1176.5 719.2L1177.2 711.8L1178 707.7L1178.8 696.3L1179.5 693.9L1180.2 699.4L1181 726.2L1181.8 706.2L1182.5 705.2L1182.5 690.9Z" fill="#DF536B" stroke="#DF536B" stroke-width="1.2" stroke-linejoin="round"/>
<path d="M840.5 690.9L840.5 700.5L841.2 701.2L842 699.7L842.8 700.2L843.5 701L844.2 697.8L845 695.5L845.8 694.9L846.5 702L847.2 702L848 692.7L848.8 702L849.5 699.6L850.2 700L851 689.8L851.8 695.6L852.5 692.4L853.2 697.7L854 692.4L854.8 689.5L855.5 690.2L856.2 690.5L857 691.2L857.8 693.4L858.5 691.8L859.2 686L860 684.5L860.8 686.9L861.5 683.6L862.2 683.1L863 689.5L863.8 689.5L864.5 689.5L865.2 689.4L866 695.2L866.8 692.4L867.5 692.4L868.2 692.4L869 703.3L869.8 704.1L870.5 707.4L871.2 706.8L872 702.6L872.8 704.9L873.5 709L874.2 714L875 713.5L875.8 710.8L876.5 711.2L877.2 706.3L878 695.4L878.8 684.5L879.5 683.2L880.2 683.5L881 686.6L881.8 683.1L882.5 684.5L883.2 685.8L884 691.4L884.8 704L885.5 700.5L886.2 697.4L887 706L887.8 710.3L888.5 716.1L889.2 720.7L890 719.3L890.8 720.3L891.5 719.5L892.2 718L893 717.9L893.8 717.5L894.5 703L895.2 724L896 723L896.8 704.6L897.5 707.3L898.2 704.6L899 703.7L899.8 700.3L900.5 701.9L901.2 708.6L902 707.6L902.8 707.7L903.5 710.5L904.2 713.8L905 711.1L905.8 703L906.5 708.2L907.2 707.6L908 710.1L908.8 711.4L909.5 712.7L910.2 711.8L911 709L911.8 707L912.5 709.6L913.2 708.9L914 705.4L914.8 711.5L915.5 711L916.2 711.4L917 705.1L917.8 708.9L918.5 713L919.2 706.8L920 704.6L920.8 710.5L921.5 704.4L922.2 705.7L923 705.2L923.8 697.3L924.5 705.9L925.2 700.6L926 699L926.8 695.6L927.5 692.4L928.2 698.4L929 711.1L929.8 705.1L930.5 713.7L931.2 712L932 710.4L932.8 709.9L933.5 708.3L934.2 709.1L935 714.9L935.8 720.1L936.5 720.1L937.2 723.5L938 710.6L938.8 713.2L939.5 709.6L940.2 708.9L941 710.6L941.8 707.4L942.5 703.1L943.2 704L944 700.9L944.8 692.4L945.5 692.4L946.2 689.7L947 701.8L947.8 700.8L948.5 711L949.2 711.5L950 712L950.8 714.4L951.5 716.9L952.2 713.4L953 720.9L953.8 707L954.5 710.2L955.2 710.5L956 717.1L956.8 718.8L957.5 717.1L958.2 715.7L959 715.1L959.8 714.4L960.5 712.2L961.2 709.6L962 708.9L962.8 708.6L963.5 708.1L964.2 712.1L965 716.2L965.8 715.7L966.5 714.3L967.2 713.9L968 709.3L968.8 712.3L969.5 711.5L970.2 716.4L971 711.1L971.8 712.4L972.5 712.4L973.2 718.5L974 719.5L974.8 716.1L975.5 707.5L976.2 708.3L977 723.3L977.8 722.8L978.5 726.7L979.2 726L980 723.3L980.8 730.7L981.5 733.5L982.2 734.1L983 734.2L983.8 734.5L984.5 733.8L985.2 734.9L986 734.8L986.8 733.6L987.5 734.1L988.2 735.1L989 734.9L989.8 732.1L990.5 726.7L991.2 728.3L992 714.3L992.8 717.5L993.5 721.4L994.2 720.2L995 724.3L995.8 724.5L996.5 729L997.2 724.9L998 725.8L998.8 722L999.5 723.5L1000.2 715.6L1001 713.3L1001.8 711.9L1002.5 722.9L1003.2 727.5L1004 727L1004.8 728.9L1005.5 723.7L1006.2 724L1007 720.3L1007.8 718.3L1008.5 717.1L1009.2 712L1010 708.2L1010.8 701L1011.5 700.7L1012.2 695.8L1013 699.5L1013.8 706L1014.5 706.6L1015.2 710.1L1016 709.6L1016.8 715.1L1017.5 716L1018.2 717.3L1019 713.9L1019.8 710.8L1020.5 707.6L1021.2 713.1L1022 712L1022.8 711.3L1023.5 709.9L1024.2 705.7L1025 707.2L1025.8 706.7L1026.5 698.3L1027.2 690.9L1028 687.4L1028.8 685.8L1029.5 684.2L1030.2 684.8L1031 688.3L1031.8 692.6L1032.5 693.5L1033.2 695.7L1034 693.2L1034.8 688.8L1035.5 689.5L1036.2 692.4L1037 692.4L1037.8 692.4L1038.5 691.7L1039.2 691.6L1040 694.4L1040.8 692.1L1041.5 689L1042.2 692.3L1043 692.4L1043.8 692.4L1044.5 692.4L1045.2 698.9L1046 695.3L1046.8 701.2L1047.5 695.3L1048.2 692.8L1049 691.1L1049.8 696.8L1050.5 701.7L1051.2 701.3L1052 692.4L1052.8 692.4L1053.5 701L1054.2 709.4L1055 709.1L1055.8 711L1056.5 714.8L1057.2 720L1058 721.1L1058.8 722.2L1059.5 720.8L1060.2 716.7L1061 715.7L1061.8 715L1062.5 717.9L1063.2 716.2L1064 721.2L1064.8 717.6L1065.5 722.4L1066.2 719.3L1067 715.9L1067.8 713.1L1068.5 714.8L1069.2 711.8L1070 716.1L1070.8 718.8L1071.5 717.2L1072.2 716.9L1073 710.5L1073.8 711.3L1074.5 710.7L1075.2 709.8L1076 712.4L1076.8 709.2L1077.5 715L1078.2 715L1079 718.5L1079.8 716.1L1080.5 719.4L1081.2 715.4L1082 714L1082.8 716.4L1083.5 716.9L1084.2 703.3L1085 701.3L1085.8 709.8L1086.5 709.3L1087.2 716L1088 717.1L1088.8 717.9L1089.5 715.1L1090.2 716.4L1091 713L1091.8 713.9L1092.5 712.3L1093.2 710.9L1094 711.7L1094.8 710.1L1095.5 709.8L1096.2 712.2L1097 714.3L1097.8 712.3L1098.5 710.2L1099.2 712.6L1100 712L1100.8 716.6L1101.5 719L1102.2 717.1L1103 719.1L1103.8 714.1L1104.5 708.9L1105.2 704.1L1106 699.4L1106.8 700.9L1107.5 700.2L1108.2 705L1109 711.9L1109.8 702.3L1110.5 705.4L1111.2 706.8L1112 707.3L1112.8 707.5L1113.5 714.2L1114.2 712L1115 707.4L1115.8 705.4L1116.5 711.4L1117.2 710L1118 710L1118.8 697.6L1119.5 692.4L1120.2 705.4L1121 701.3L1121.8 699.4L1122.5 694.3L1123.2 696.8L1124 692.4L1124.8 693L1125.5 695.5L1126.2 692.4L1127 692.4L1127.8 692.5L1128.5 692.4L1129.2 692.4L1130 696.9L1130.8 693.7L1131.5 695L1132.2 694.5L1133 696L1133.8 692.3L1134.5 693.7L1135.2 691L1136 689.6L1136.8 692.4L1137.5 692.4L1138.2 701.5L1139 697.3L1139.8 693.7L1140.5 691.8L1141.2 692.2L1142 691.5L1142.8 685.8L1143.5 681.3L1144.2 682.8L1145 680.3L1145.8 687L1146.5 688.3L1147.2 690.7L1148 689.6L1148.8 694L1149.5 687.4L1150.2 688.4L1151 681.5L1151.8 681.9L1152.5 676.1L1153.2 676.4L1154 672.5L1154.8 674.8L1155.5 683.4L1156.2 685.6L1157 680.7L1157.8 683.3L1158.5 689.5L1159.2 687.4L1160 689.4L1160.8 693.3L1161.5 687.4L1162.2 689.5L1163 691L1163.8 688.4L1164.5 683L1165.2 688.7L1166 681L1166.8 684.5L1167.5 685.9L1168.2 683.4L1169 684.4L1169.8 689.7L1170.5 687.9L1171.2 689.1L1172 689.5L1172.8 686.1L1173.5 688L1174.2 690.3L1175 689L1175.8 686.2L1176.5 685.3L1177.2 683.9L1178 680.6L1178.8 681.7L1179.5 688.3L1180.2 689L1181 687.4L1181.8 694.4L1182.5 692.5L1182.5 690.9Z" fill="#61D04F" stroke="#61D04F" stroke-width="1.2" stroke-linejoin="round"/>
<path d="M840.5 726L841.2 701.2L842 710.9L842.8 702.7L843.5 722.9L844.2 727.8L845 720.7L845.8 712.9L846.5 713.6L847.2 717.7L848 719.3L848.8 723.9L849.5 726.5L850.2 711.6L851 718L851.8 707.1L852.5 714.6L853.2 722.2L854 719.7L854.8 702.7L855.5 699.5L856.2 693.6L857 692.4L857.8 692.4L858.5 709.9L859.2 711.8L860 692.4L860.8 697.2L861.5 695.4L862.2 727.6L863 737L863.8 706.5L864.5 709.4L865.2 713.9L866 714.9L866.8 711.8L867.5 711.2L868.2 723.5L869 725.5L869.8 713.9L870.5 707L871.2 712.9L872 717.4L872.8 707.2L873.5 698.9L874.2 709L875 705.5L875.8 717.2L876.5 718.6L877.2 710.7L878 707.3L878.8 703.4L879.5 701.6L880.2 698.6L881 702.6L881.8 695L882.5 692.4L883.2 697.2L884 719.2L884.8 761.8L885.5 769.8L886.2 777.2L887 781.8L887.8 779.3L888.5 790.7L889.2 790L890 788.3L890.8 787.7L891.5 791.5L892.2 791.5L893 786.6L893.8 787.5L894.5 783.9L895.2 794.5L896 796.9L896.8 779.9L897.5 784.6L898.2 766.8L899 791.8L899.8 801.8L900.5 796.5L901.2 795.8L902 769.6L902.8 763.2L903.5 760.3L904.2 776.5L905 774L905.8 773.2L906.5 775.2L907.2 770.8L908 759.3L908.8 746.8L909.5 742.3L910.2 733.8L911 741.5L911.8 721.6L912.5 729.1L913.2 726.8L914 728.1L914.8 725.3L915.5 721.3L916.2 720.8L917 717.2L917.8 723.3L918.5 719.3L919.2 723.7L920 722L920.8 727L921.5 729.2L922.2 720.2L923 712.8L923.8 704.5L924.5 710.6L925.2 706L926 701.3L926.8 709.3L927.5 705.8L928.2 728.7L929 726.6L929.8 726L930.5 727.4L931.2 722L932 729.8L932.8 732.8L933.5 731.2L934.2 724.9L935 727.2L935.8 726.3L936.5 726.8L937.2 721L938 726.7L938.8 730.3L939.5 706L940.2 706.8L941 717.1L941.8 730.9L942.5 737L943.2 740.6L944 731L944.8 721L945.5 723.5L946.2 728.9L947 735.1L947.8 745.9L948.5 753.4L949.2 769.3L950 765.5L950.8 774.6L951.5 770.5L952.2 770.3L953 772.8L953.8 770.9L954.5 772.3L955.2 772.9L956 784.6L956.8 783.3L957.5 781.6L958.2 787.2L959 762L959.8 753.4L960.5 729L961.2 717L962 713.9L962.8 730.9L963.5 720.5L964.2 719.7L965 696.5L965.8 722.7L966.5 717L967.2 699.9L968 701.1L968.8 719.5L969.5 718.1L970.2 729.1L971 714.2L971.8 728.9L972.5 734.3L973.2 738.3L974 743.4L974.8 734.9L975.5 718.6L976.2 738.9L977 740.4L977.8 720L978.5 714.3L979.2 713.7L980 733.3L980.8 715.2L981.5 712.9L982.2 739.2L983 741.2L983.8 743.5L984.5 740.9L985.2 740.1L986 742.7L986.8 743.8L987.5 735.9L988.2 733.7L989 738.5L989.8 732.2L990.5 749L991.2 743.9L992 732.5L992.8 733.4L993.5 737L994.2 735.8L995 723.3L995.8 722.8L996.5 744.8L997.2 734.9L998 738L998.8 754.5L999.5 764.8L1000.2 765L1001 760.5L1001.8 749.7L1002.5 745.7L1003.2 749.9L1004 747.7L1004.8 747.9L1005.5 759.4L1006.2 737.1L1007 728.5L1007.8 756.2L1008.5 756.4L1009.2 738.9L1010 734L1010.8 723.2L1011.5 714.5L1012.2 695.1L1013 701.5L1013.8 717.3L1014.5 712.8L1015.2 713.5L1016 720.4L1016.8 738.5L1017.5 755L1018.2 755.3L1019 750.5L1019.8 753.6L1020.5 746.5L1021.2 735.7L1022 728.9L1022.8 733L1023.5 730.1L1024.2 720.6L1025 716L1025.8 714L1026.5 714L1027.2 708.5L1028 722.3L1028.8 704.9L1029.5 717.5L1030.2 705.2L1031 726.4L1031.8 720.9L1032.5 718.8L1033.2 728.9L1034 724.9L1034.8 735.3L1035.5 751.5L1036.2 778.9L1037 774.6L1037.8 757.8L1038.5 737.9L1039.2 719.2L1040 724.3L1040.8 725.8L1041.5 718.8L1042.2 695.6L1043 698L1043.8 694.2L1044.5 713.4L1045.2 695.1L1046 706.7L1046.8 706.4L1047.5 711.2L1048.2 711.9L1049 701.4L1049.8 697.3L1050.5 700.1L1051.2 681.7L1052 679.5L1052.8 679.2L1053.5 684.2L1054.2 678.6L1055 689.5L1055.8 693.3L1056.5 711.3L1057.2 721.3L1058 740.8L1058.8 733.5L1059.5 739.9L1060.2 726.1L1061 728.8L1061.8 734L1062.5 736L1063.2 737.5L1064 742.8L1064.8 725.1L1065.5 720.6L1066.2 734.1L1067 735.4L1067.8 727.7L1068.5 732.4L1069.2 742.8L1070 729.5L1070.8 720.6L1071.5 713.9L1072.2 731.9L1073 711L1073.8 720L1074.5 740.3L1075.2 741.6L1076 748.3L1076.8 750.2L1077.5 742.6L1078.2 746.7L1079 760L1079.8 744.5L1080.5 744.1L1081.2 742.6L1082 726.4L1082.8 736L1083.5 753.2L1084.2 752.2L1085 736.3L1085.8 734.9L1086.5 735.7L1087.2 746.5L1088 744.6L1088.8 754.5L1089.5 750.5L1090.2 750.7L1091 750.9L1091.8 750.9L1092.5 753.2L1093.2 746.6L1094 757.3L1094.8 747.2L1095.5 747.5L1096.2 740.8L1097 754.6L1097.8 735.4L1098.5 746.3L1099.2 745.1L1100 756.4L1100.8 756.7L1101.5 746.2L1102.2 746.7L1103 750.4L1103.8 750.1L1104.5 754L1105.2 751.2L1106 746.4L1106.8 747.8L1107.5 754.1L1108.2 752.2L1109 735.6L1109.8 736.6L1110.5 748.5L1111.2 753.5L1112 755L1112.8 742.4L1113.5 741.1L1114.2 753.5L1115 752L1115.8 750.3L1116.5 753.1L1117.2 754L1118 739.3L1118.8 741L1119.5 747.4L1120.2 757.3L1121 753.8L1121.8 740.8L1122.5 726.9L1123.2 727.6L1124 719.9L1124.8 717.2L1125.5 719.1L1126.2 715.8L1127 729.7L1127.8 714.2L1128.5 692.4L1129.2 708.9L1130 704.3L1130.8 693.9L1131.5 708.7L1132.2 709L1133 709.8L1133.8 692.4L1134.5 694.8L1135.2 707.9L1136 730.8L1136.8 735.8L1137.5 732.2L1138.2 726.2L1139 738.8L1139.8 747L1140.5 768.1L1141.2 764L1142 770.6L1142.8 764.8L1143.5 758L1144.2 748.3L1145 741.1L1145.8 746.9L1146.5 744.4L1147.2 754.1L1148 741.2L1148.8 720.2L1149.5 716.8L1150.2 741.2L1151 740.7L1151.8 729.2L1152.5 716.1L1153.2 729.2L1154 715.5L1154.8 712.6L1155.5 706.1L1156.2 723.1L1157 724.5L1157.8 720.1L1158.5 699.2L1159.2 700.4L1160 702L1160.8 717.2L1161.5 707.1L1162.2 710.6L1163 714.7L1163.8 725.6L1164.5 701.7L1165.2 700.8L1166 729.2L1166.8 733.3L1167.5 733.4L1168.2 714.9L1169 735.9L1169.8 726.9L1170.5 724.7L1171.2 734.7L1172 751L1172.8 749.3L1173.5 743.3L1174.2 740.1L1175 741.9L1175.8 735.9L1176.5 719.2L1177.2 711.8L1178 707.7L1178.8 696.3L1179.5 693.9L1180.2 699.4L1181 726.2L1181.8 706.2L1182.5 705.2" fill="none" stroke="#DF536B" stroke-width="1.3" stroke-linejoin="round"/>
<path d="M840.5 700.5L841.2 701.2L842 699.7L842.8 700.2L843.5 701L844.2 697.8L845 695.5L845.8 694.9L846.5 702L847.2 702L848 692.7L848.8 702L849.5 699.6L850.2 700L851 689.8L851.8 695.6L852.5 692.4L853.2 697.7L854 692.4L854.8 689.5L855.5 690.2L856.2 690.5L857 691.2L857.8 693.4L858.5 691.8L859.2 686L860 684.5L860.8 686.9L861.5 683.6L862.2 683.1L863 689.5L863.8 689.5L864.5 689.5L865.2 689.4L866 695.2L866.8 692.4L867.5 692.4L868.2 692.4L869 703.3L869.8 704.1L870.5 707.4L871.2 706.8L872 702.6L872.8 704.9L873.5 709L874.2 714L875 713.5L875.8 710.8L876.5 711.2L877.2 706.3L878 695.4L878.8 684.5L879.5 683.2L880.2 683.5L881 686.6L881.8 683.1L882.5 684.5L883.2 685.8L884 691.4L884.8 704L885.5 700.5L886.2 697.4L887 706L887.8 710.3L888.5 716.1L889.2 720.7L890 719.3L890.8 720.3L891.5 719.5L892.2 718L893 717.9L893.8 717.5L894.5 703L895.2 724L896 723L896.8 704.6L897.5 707.3L898.2 704.6L899 703.7L899.8 700.3L900.5 701.9L901.2 708.6L902 707.6L902.8 707.7L903.5 710.5L904.2 713.8L905 711.1L905.8 703L906.5 708.2L907.2 707.6L908 710.1L908.8 711.4L909.5 712.7L910.2 711.8L911 709L911.8 707L912.5 709.6L913.2 708.9L914 705.4L914.8 711.5L915.5 711L916.2 711.4L917 705.1L917.8 708.9L918.5 713L919.2 706.8L920 704.6L920.8 710.5L921.5 704.4L922.2 705.7L923 705.2L923.8 697.3L924.5 705.9L925.2 700.6L926 699L926.8 695.6L927.5 692.4L928.2 698.4L929 711.1L929.8 705.1L930.5 713.7L931.2 712L932 710.4L932.8 709.9L933.5 708.3L934.2 709.1L935 714.9L935.8 720.1L936.5 720.1L937.2 723.5L938 710.6L938.8 713.2L939.5 709.6L940.2 708.9L941 710.6L941.8 707.4L942.5 703.1L943.2 704L944 700.9L944.8 692.4L945.5 692.4L946.2 689.7L947 701.8L947.8 700.8L948.5 711L949.2 711.5L950 712L950.8 714.4L951.5 716.9L952.2 713.4L953 720.9L953.8 707L954.5 710.2L955.2 710.5L956 717.1L956.8 718.8L957.5 717.1L958.2 715.7L959 715.1L959.8 714.4L960.5 712.2L961.2 709.6L962 708.9L962.8 708.6L963.5 708.1L964.2 712.1L965 716.2L965.8 715.7L966.5 714.3L967.2 713.9L968 709.3L968.8 712.3L969.5 711.5L970.2 716.4L971 711.1L971.8 712.4L972.5 712.4L973.2 718.5L974 719.5L974.8 716.1L975.5 707.5L976.2 708.3L977 723.3L977.8 722.8L978.5 726.7L979.2 726L980 723.3L980.8 730.7L981.5 733.5L982.2 734.1L983 734.2L983.8 734.5L984.5 733.8L985.2 734.9L986 734.8L986.8 733.6L987.5 734.1L988.2 735.1L989 734.9L989.8 732.1L990.5 726.7L991.2 728.3L992 714.3L992.8 717.5L993.5 721.4L994.2 720.2L995 724.3L995.8 724.5L996.5 729L997.2 724.9L998 725.8L998.8 722L999.5 723.5L1000.2 715.6L1001 713.3L1001.8 711.9L1002.5 722.9L1003.2 727.5L1004 727L1004.8 728.9L1005.5 723.7L1006.2 724L1007 720.3L1007.8 718.3L1008.5 717.1L1009.2 712L1010 708.2L1010.8 701L1011.5 700.7L1012.2 695.8L1013 699.5L1013.8 706L1014.5 706.6L1015.2 710.1L1016 709.6L1016.8 715.1L1017.5 716L1018.2 717.3L1019 713.9L1019.8 710.8L1020.5 707.6L1021.2 713.1L1022 712L1022.8 711.3L1023.5 709.9L1024.2 705.7L1025 707.2L1025.8 706.7L1026.5 698.3L1027.2 690.9L1028 687.4L1028.8 685.8L1029.5 684.2L1030.2 684.8L1031 688.3L1031.8 692.6L1032.5 693.5L1033.2 695.7L1034 693.2L1034.8 688.8L1035.5 689.5L1036.2 692.4L1037 692.4L1037.8 692.4L1038.5 691.7L1039.2 691.6L1040 694.4L1040.8 692.1L1041.5 689L1042.2 692.3L1043 692.4L1043.8 692.4L1044.5 692.4L1045.2 698.9L1046 695.3L1046.8 701.2L1047.5 695.3L1048.2 692.8L1049 691.1L1049.8 696.8L1050.5 701.7L1051.2 701.3L1052 692.4L1052.8 692.4L1053.5 701L1054.2 709.4L1055 709.1L1055.8 711L1056.5 714.8L1057.2 720L1058 721.1L1058.8 722.2L1059.5 720.8L1060.2 716.7L1061 715.7L1061.8 715L1062.5 717.9L1063.2 716.2L1064 721.2L1064.8 717.6L1065.5 722.4L1066.2 719.3L1067 715.9L1067.8 713.1L1068.5 714.8L1069.2 711.8L1070 716.1L1070.8 718.8L1071.5 717.2L1072.2 716.9L1073 710.5L1073.8 711.3L1074.5 710.7L1075.2 709.8L1076 712.4L1076.8 709.2L1077.5 715L1078.2 715L1079 718.5L1079.8 716.1L1080.5 719.4L1081.2 715.4L1082 714L1082.8 716.4L1083.5 716.9L1084.2 703.3L1085 701.3L1085.8 709.8L1086.5 709.3L1087.2 716L1088 717.1L1088.8 717.9L1089.5 715.1L1090.2 716.4L1091 713L1091.8 713.9L1092.5 712.3L1093.2 710.9L1094 711.7L1094.8 710.1L1095.5 709.8L1096.2 712.2L1097 714.3L1097.8 712.3L1098.5 710.2L1099.2 712.6L1100 712L1100.8 716.6L1101.5 719L1102.2 717.1L1103 719.1L1103.8 714.1L1104.5 708.9L1105.2 704.1L1106 699.4L1106.8 700.9L1107.5 700.2L1108.2 705L1109 711.9L1109.8 702.3L1110.5 705.4L1111.2 706.8L1112 707.3L1112.8 707.5L1113.5 714.2L1114.2 712L1115 707.4L1115.8 705.4L1116.5 711.4L1117.2 710L1118 710L1118.8 697.6L1119.5 692.4L1120.2 705.4L1121 701.3L1121.8 699.4L1122.5 694.3L1123.2 696.8L1124 692.4L1124.8 693L1125.5 695.5L1126.2 692.4L1127 692.4L1127.8 692.5L1128.5 692.4L1129.2 692.4L1130 696.9L1130.8 693.7L1131.5 695L1132.2 694.5L1133 696L1133.8 692.3L1134.5 693.7L1135.2 691L1136 689.6L1136.8 692.4L1137.5 692.4L1138.2 701.5L1139 697.3L1139.8 693.7L1140.5 691.8L1141.2 692.2L1142 691.5L1142.8 685.8L1143.5 681.3L1144.2 682.8L1145 680.3L1145.8 687L1146.5 688.3L1147.2 690.7L1148 689.6L1148.8 694L1149.5 687.4L1150.2 688.4L1151 681.5L1151.8 681.9L1152.5 676.1L1153.2 676.4L1154 672.5L1154.8 674.8L1155.5 683.4L1156.2 685.6L1157 680.7L1157.8 683.3L1158.5 689.5L1159.2 687.4L1160 689.4L1160.8 693.3L1161.5 687.4L1162.2 689.5L1163 691L1163.8 688.4L1164.5 683L1165.2 688.7L1166 681L1166.8 684.5L1167.5 685.9L1168.2 683.4L1169 684.4L1169.8 689.7L1170.5 687.9L1171.2 689.1L1172 689.5L1172.8 686.1L1173.5 688L1174.2 690.3L1175 689L1175.8 686.2L1176.5 685.3L1177.2 683.9L1178 680.6L1178.8 681.7L1179.5 688.3L1180.2 689L1181 687.4L1181.8 694.4L1182.5 692.5" fill="none" stroke="#61D04F" stroke-width="1.3" stroke-linejoin="round"/>
<path d="M840.5 743.2L841.2 739.1L842 730.7L842.8 722.2L843.5 737.8L844.2 742.8L845 739.6L845.8 721.3L846.5 709.1L847.2 718.5L848 727.9L848.8 733.9L849.5 725.6L850.2 716.9L851 713.5L851.8 708.8L852.5 722.9L853.2 725.1L854 735.3L854.8 732.5L855.5 728.4L856.2 726.8L857 717.9L857.8 710.2L858.5 704.3L859.2 708.3L860 709L860.8 712.4L861.5 709.8L862.2 709.4L863 719.3L863.8 717.8L864.5 714.7L865.2 715.2L866 717.5L866.8 711.7L867.5 712.3L868.2 706.1L869 718.2L869.8 715.9L870.5 718.9L871.2 724.1L872 721.9L872.8 727.8L873.5 736.7L874.2 742.7L875 747.9L875.8 750.8L876.5 743.2L877.2 726.2L878 732L878.8 720.2L879.5 712.9L880.2 710.5L881 709.1L881.8 710.6L882.5 725L883.2 744.4L884 757.7L884.8 776L885.5 779.3L886.2 790.2L887 782.3L887.8 794.2L888.5 791.3L889.2 790L890 784.3L890.8 792.2L891.5 791.5L892.2 791.1L893 793.2L893.8 782.7L894.5 782.5L895.2 794.2L896 801.7L896.8 793.2L897.5 796.7L898.2 797.8L899 793.1L899.8 794.2L900.5 790.6L901.2 784.1L902 788.8L902.8 784.7L903.5 781.8L904.2 780.1L905 776.6L905.8 772.1L906.5 762.5L907.2 768.3L908 758.8L908.8 758.2L909.5 745.3L910.2 744.3L911 744.6L911.8 741.9L912.5 739.7L913.2 738L914 745.8L914.8 748.4L915.5 758.6L916.2 738.6L917 744.1L917.8 730.4L918.5 736.4L919.2 734.1L920 743.7L920.8 739.8L921.5 732.1L922.2 728.8L923 721.3L923.8 706.3L924.5 715.9L925.2 715.7L926 718.6L926.8 718.7L927.5 734.3L928.2 748L929 750.2L929.8 746.2L930.5 748.2L931.2 749.4L932 753.2L932.8 754.7L933.5 749.6L934.2 751.6L935 753.9L935.8 753.4L936.5 751.6L937.2 750.6L938 750.6L938.8 753.5L939.5 738.1L940.2 743.2L941 753.6L941.8 749.7L942.5 747.6L943.2 746.7L944 746.7L944.8 737.5L945.5 726.7L946.2 717.6L947 735.7L947.8 755.6L948.5 775.1L949.2 778.8L950 771.2L950.8 788.7L951.5 784.6L952.2 789.4L953 791.2L953.8 787.8L954.5 787.1L955.2 796.5L956 794.4L956.8 793.4L957.5 789.3L958.2 783.3L959 781.9L959.8 767.3L960.5 756.4L961.2 751.7L962 748.4L962.8 753.3L963.5 750.1L964.2 748.6L965 743.4L965.8 739.4L966.5 746.4L967.2 744.4L968 746.6L968.8 751.3L969.5 747.8L970.2 745.6L971 737.1L971.8 752.3L972.5 741.6L973.2 738.8L974 748.2L974.8 751L975.5 758.7L976.2 759.9L977 750.9L977.8 761.7L978.5 759.7L979.2 759.6L980 763.9L980.8 774.1L981.5 776.1L982.2 780.1L983 785.4L983.8 784.7L984.5 773.3L985.2 780.8L986 783L986.8 791.8L987.5 799.1L988.2 792.3L989 789.8L989.8 782.9L990.5 776.2L991.2 768L992 765.6L992.8 767L993.5 773L994.2 779.6L995 792L995.8 786L996.5 788.8L997.2 783L998 780.8L998.8 776.7L999.5 770.1L1000.2 775.1L1001 778.2L1001.8 764.9L1002.5 766.8L1003.2 766.4L1004 769L1004.8 766.9L1005.5 759.6L1006.2 760L1007 764.1L1007.8 762.8L1008.5 762.1L1009.2 762.4L1010 758.9L1010.8 746.9L1011.5 746.1L1012.2 747.8L1013 753.6L1013.8 756.5L1014.5 747L1015.2 746L1016 752.5L1016.8 759.6L1017.5 753L1018.2 757.2L1019 754L1019.8 766.9L1020.5 764L1021.2 754.1L1022 752.3L1022.8 743.9L1023.5 734.1L1024.2 745.1L1025 731.1L1025.8 731.8L1026.5 727.8L1027.2 722.9L1028 716.4L1028.8 713.2L1029.5 720.7L1030.2 719.1L1031 724.9L1031.8 731.4L1032.5 737.8L1033.2 744.5L1034 739.5L1034.8 746.5L1035.5 755.2L1036.2 774.1L1037 796.1L1037.8 769.1L1038.5 748.8L1039.2 737L1040 719L1040.8 716.3L1041.5 710.7L1042.2 715.4L1043 704.6L1043.8 705.6L1044.5 713.2L1045.2 721.5L1046 735.1L1046.8 730.8L1047.5 727.6L1048.2 717.7L1049 708.2L1049.8 707.9L1050.5 709.5L1051.2 703L1052 708.6L1052.8 708.4L1053.5 701.4L1054.2 694.6L1055 686.2L1055.8 701.3L1056.5 717L1057.2 736L1058 752.7L1058.8 748.9L1059.5 745L1060.2 752.3L1061 754.2L1061.8 750.9L1062.5 750.3L1063.2 753.8L1064 759.4L1064.8 767.9L1065.5 767.1L1066.2 763.3L1067 757L1067.8 762.5L1068.5 764.7L1069.2 764.9L1070 768.2L1070.8 768.8L1071.5 765.6L1072.2 751.9L1073 752.5L1073.8 761.7L1074.5 764.2L1075.2 766.7L1076 770.3L1076.8 768.2L1077.5 774.6L1078.2 776.9L1079 777.1L1079.8 778.9L1080.5 776.9L1081.2 774.1L1082 772L1082.8 767.4L1083.5 767.6L1084.2 766.2L1085 771.5L1085.8 780.6L1086.5 773L1087.2 773.6L1088 775.4L1088.8 771.4L1089.5 769.3L1090.2 770L1091 773.9L1091.8 770L1092.5 774.8L1093.2 773.5L1094 772L1094.8 780L1095.5 788.8L1096.2 781.3L1097 782.4L1097.8 773.9L1098.5 774L1099.2 770L1100 770.1L1100.8 780.5L1101.5 778.5L1102.2 763.7L1103 751.7L1103.8 757.6L1104.5 759.5L1105.2 756L1106 769.7L1106.8 759.1L1107.5 760.9L1108.2 757.5L1109 759L1109.8 766.9L1110.5 768.7L1111.2 763.9L1112 768.9L1112.8 773L1113.5 781L1114.2 775.7L1115 776.5L1115.8 777.5L1116.5 779.4L1117.2 771.6L1118 769.6L1118.8 770.4L1119.5 767.8L1120.2 766.6L1121 776L1121.8 770.8L1122.5 763.3L1123.2 756.4L1124 765.6L1124.8 753.6L1125.5 743.8L1126.2 740.5L1127 725.9L1127.8 724.4L1128.5 723.8L1129.2 715.8L1130 719.6L1130.8 719.2L1131.5 712.2L1132.2 710.6L1133 705.9L1133.8 716.6L1134.5 721.6L1135.2 723.5L1136 718.5L1136.8 723.8L1137.5 726.4L1138.2 742.6L1139 744.4L1139.8 743.2L1140.5 756.4L1141.2 761.1L1142 760L1142.8 762.1L1143.5 755.3L1144.2 757.4L1145 753.6L1145.8 756.2L1146.5 751.6L1147.2 744.1L1148 743.8L1148.8 741.6L1149.5 740.8L1150.2 738.3L1151 734.1L1151.8 727.4L1152.5 729.6L1153.2 731.7L1154 726.4L1154.8 717.1L1155.5 718.5L1156.2 716.4L1157 708.4L1157.8 707.6L1158.5 714.8L1159.2 713.5L1160 712.4L1160.8 717.5L1161.5 714.1L1162.2 709.6L1163 700.2L1163.8 710.2L1164.5 717.6L1165.2 723.3L1166 721.4L1166.8 722L1167.5 721.4L1168.2 724L1169 731.1L1169.8 729L1170.5 733.1L1171.2 736.7L1172 731.2L1172.8 740.7L1173.5 729.8L1174.2 731.4L1175 727.4L1175.8 722.9L1176.5 724.4L1177.2 714.2L1178 720.1L1178.8 717.4L1179.5 715.7L1180.2 713L1181 711.6L1181.8 709.9L1182.5 711.9" fill="none" stroke="#000" stroke-width="1.3" stroke-linejoin="round"/>
</g>
<line x1="840.5" x2="1182.5" y1="690.9" y2="690.9" stroke="#000" stroke-width="1.8" stroke-dasharray="2.3 4.1"/>
<rect x="854.0" y="585.5" width="13" height="10.5" fill="#000" stroke="#000" stroke-width="1.2"/>
<text x="879.5" y="598.6" font-size="16" fill="#000" stroke="#000" stroke-width="0.3" textLength="36.5" lengthAdjust="spacingAndGlyphs">Total</text>
<rect x="854.0" y="605.9" width="13" height="10.5" fill="#DF536B" stroke="#000" stroke-width="1.2"/>
<text x="879.5" y="618.4" font-size="16" fill="#000" stroke="#000" stroke-width="0.3" textLength="23.5" lengthAdjust="spacingAndGlyphs">1-5</text>
<rect x="854.0" y="626.3" width="13" height="10.5" fill="#61D04F" stroke="#000" stroke-width="1.2"/>
<text x="879.5" y="638.2" font-size="16" fill="#000" stroke="#000" stroke-width="0.3" textLength="35.2" lengthAdjust="spacingAndGlyphs">5-Inf</text>
<rect x="840.5" y="571.5" width="342" height="215.0" fill="none" stroke="#000" stroke-width="1.6"/>
<line x1="835" x2="840.5" y1="595.4" y2="595.4" stroke="#000" stroke-width="1.2"/>
<text x="831" y="602.7" font-size="16" text-anchor="end" fill="#000" stroke="#000" stroke-width="0.3">20</text>
<line x1="835" x2="840.5" y1="643.2" y2="643.2" stroke="#000" stroke-width="1.2"/>
<text x="831" y="650.5" font-size="16" text-anchor="end" fill="#000" stroke="#000" stroke-width="0.3">10</text>
<line x1="835" x2="840.5" y1="690.9" y2="690.9" stroke="#000" stroke-width="1.2"/>
<text x="831" y="698.2" font-size="16" text-anchor="end" fill="#000" stroke="#000" stroke-width="0.3">0</text>
<line x1="835" x2="840.5" y1="738.7" y2="738.7" stroke="#000" stroke-width="1.2"/>
<text x="831" y="746" font-size="16" text-anchor="end" fill="#000" stroke="#000" stroke-width="0.3">-10</text>
<line x1="835" x2="840.5" y1="786.5" y2="786.5" stroke="#000" stroke-width="1.2"/>
<text x="831" y="793.8" font-size="16" text-anchor="end" fill="#000" stroke="#000" stroke-width="0.3">-20</text>
<line x1="990.6" x2="990.6" y1="786.5" y2="791.5" stroke="#000" stroke-width="1.2"/>
<text x="990.1" y="810" font-size="16" text-anchor="middle" fill="#000" stroke="#000" stroke-width="0.3" textLength="37" lengthAdjust="spacingAndGlyphs">2023</text>
<line x1="1180.6" x2="1180.6" y1="786.5" y2="791.5" stroke="#000" stroke-width="1.2"/>
<text x="1180.1" y="810" font-size="16" text-anchor="middle" fill="#000" stroke="#000" stroke-width="0.3" textLength="37" lengthAdjust="spacingAndGlyphs">2024</text>
<text transform="translate(1010.4 566) scale(1 1.18)" x="0" y="0" font-size="19.2" font-weight="bold" text-anchor="middle" fill="#000" textLength="37.8" lengthAdjust="spacingAndGlyphs">Gas</text>
</svg></body></html>
